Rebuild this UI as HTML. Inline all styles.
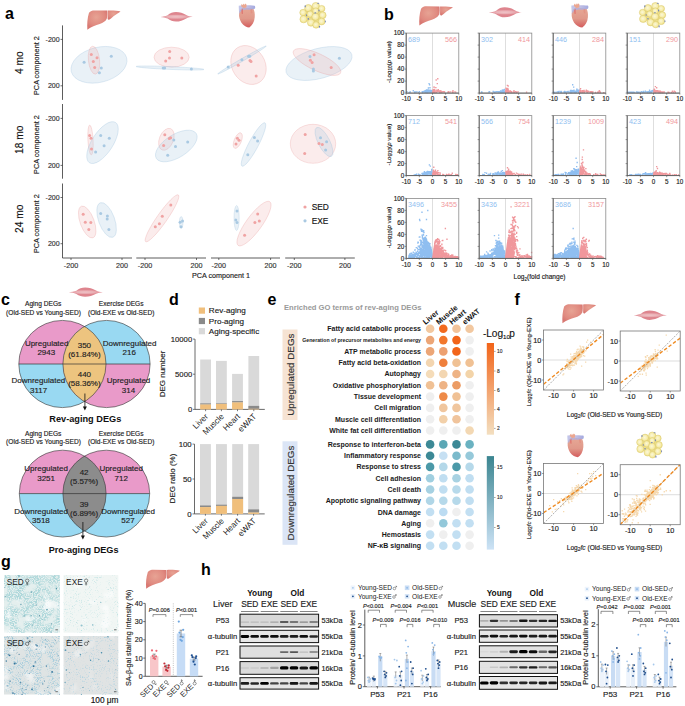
<!DOCTYPE html>
<html><head><meta charset="utf-8"><title>Figure</title>
<style>html,body{margin:0;padding:0;background:#fff;overflow:hidden}svg{display:block}text{font-family:"Liberation Sans",sans-serif}</style>
</head><body>
<svg width="685" height="706" viewBox="0 0 685 706">

<defs>
<linearGradient id="gLiver" x1="0" y1="0" x2="1" y2="1"><stop offset="0" stop-color="#e89a8a"/><stop offset="1" stop-color="#d9705f"/></linearGradient>
<radialGradient id="gMus" cx="0.48" cy="0.5" r="0.5" gradientTransform="translate(0 0.25) scale(1 0.5)"><stop offset="0" stop-color="#f0c6ca"/><stop offset="0.5" stop-color="#eab2b7"/><stop offset="1" stop-color="#de858e"/></radialGradient>
<linearGradient id="gHeart" x1="0" y1="0" x2="0" y2="1"><stop offset="0" stop-color="#e6a896"/><stop offset="0.55" stop-color="#e0998a"/><stop offset="1" stop-color="#d45b5c"/></linearGradient>
<radialGradient id="gFat" cx="0.45" cy="0.45" r="0.55"><stop offset="0" stop-color="#fbf7da"/><stop offset="0.65" stop-color="#f6eca8"/><stop offset="1" stop-color="#eddc82"/></radialGradient>
<linearGradient id="gOr" x1="0" y1="1" x2="0" y2="0"><stop offset="0" stop-color="#f3dfc0"/><stop offset="1" stop-color="#f26419"/></linearGradient>
<linearGradient id="gTe" x1="0" y1="1" x2="0" y2="0"><stop offset="0" stop-color="#cde3f6"/><stop offset="1" stop-color="#3b8590"/></linearGradient>
<filter id="blur1" x="-20%" y="-50%" width="140%" height="200%"><feGaussianBlur stdDeviation="0.6"/></filter>
<filter id="blur2" x="-20%" y="-50%" width="140%" height="200%"><feGaussianBlur stdDeviation="1.0"/></filter>
<radialGradient id="gLiv2" cx="0.45" cy="0.35" r="0.6"><stop offset="0" stop-color="#e7a394"/><stop offset="0.7" stop-color="#e08a80"/><stop offset="1" stop-color="#d87872"/></radialGradient>
<g id="liver">
 <path d="M6,14 C10,4 16,2 22,2 L60,3 C61,15 61,32 59,44 C56,56 48,64 38,70 C26,76 12,84 1,99 C0,70 1,40 6,14 Z" fill="url(#gLiv2)"/>
 <path d="M62,3 C75,2 90,3 100,7 C95,14 88,20 80,30 C75,38 70,44 65,50 C63,48 62,46 62,44 Z" fill="url(#gLiv2)"/>
 <path d="M61,3 L61,46" stroke="#cf6d68" stroke-width="1.2" opacity="0.6"/>
</g>
<g id="muscle">
 <path d="M0,53 C8,50 14,46 22,36 C30,14 38,3 48,3 C60,3 70,14 80,34 C86,44 92,50 100,52 C92,55 86,60 80,68 C70,88 60,100 48,100 C38,100 30,88 22,70 C14,60 8,56 0,53 Z" fill="url(#gMus)"/>
 <g stroke="#e9aeb4" stroke-width="2" opacity="0.5"><line x1="30" y1="35" x2="70" y2="35"/><line x1="25" y1="50" x2="75" y2="50"/><line x1="30" y1="65" x2="70" y2="65"/></g>
</g>
<linearGradient id="gBlue" x1="0" y1="0" x2="1" y2="0"><stop offset="0" stop-color="#a3a9e3"/><stop offset="1" stop-color="#9aa2e0"/></linearGradient>
<linearGradient id="gBand" x1="0" y1="0" x2="1" y2="0"><stop offset="0" stop-color="#aeb3e2" stop-opacity="0.75"/><stop offset="0.5" stop-color="#b2b0de" stop-opacity="0.8"/><stop offset="1" stop-color="#a3a9df"/></linearGradient>
<g id="heart">
 <path d="M4,42 C2,55 8,68 18,80 C30,92 50,99 64,100 C80,92 94,78 96,58 C98,42 94,30 88,22 L25,18 C15,22 6,30 4,42 Z" fill="url(#gHeart)"/>
 <path d="M2,10 C30,8 70,9 95,10 C100,12 100,20 96,23 C80,27 60,28 45,26 L22,30 C14,33 9,38 5,44 C3,30 2,20 2,10 Z" fill="url(#gBand)"/>
 <path d="M16,12 L19,2 L25,8 L29,1 L34,7 L40,1 L48,6 L47,18 L30,20 Z" fill="#eba68f"/>
 <path d="M17,28 L27,22 L27,44 L19,43 Z" fill="#dd6e69" opacity="0.75"/>
 <path d="M70,26 L80,24 L82,40 L74,42 Z" fill="#e38a7c" opacity="0.6"/>
</g>
<g id="fat">
 <polygon points="12,39 32,22 60,14 82,24 86,49 82,73 61,86 42,77 14,64" fill="#eee08e"/>
 <g stroke="#d8c76c" stroke-width="1.8" fill="url(#gFat)">
 <circle cx="12" cy="39" r="12.5"/><circle cx="14" cy="64" r="14"/><circle cx="32" cy="22" r="14"/><circle cx="60" cy="14" r="14"/><circle cx="82" cy="24" r="12.5"/>
 <circle cx="39" cy="45" r="12.5"/><circle cx="60" cy="33" r="12"/><circle cx="86" cy="49" r="13"/>
 <circle cx="42" cy="77" r="14"/><circle cx="82" cy="73" r="13"/><circle cx="61" cy="86" r="12.5"/><circle cx="59" cy="55" r="14"/>
 </g>
 <g fill="#7687b8"><ellipse cx="20" cy="15" rx="2.5" ry="4"/><ellipse cx="69" cy="3" rx="4" ry="2"/><ellipse cx="72" cy="31" rx="2.5" ry="4"/><ellipse cx="58" cy="40" rx="4" ry="2"/><ellipse cx="25" cy="49" rx="2" ry="4"/><ellipse cx="32" cy="63" rx="3" ry="3"/><ellipse cx="96" cy="73" rx="2" ry="4"/><ellipse cx="74" cy="93" rx="2.5" ry="4"/></g>
</g>
<filter id="tex1" x="0" y="0" width="100%" height="100%"><feTurbulence type="fractalNoise" baseFrequency="0.45" numOctaves="3" seed="11"/><feColorMatrix type="matrix" values="0 0 0 0 0.55  0 0 0 0 0.72  0 0 0 0 0.72  2.6 0 0 0 -0.55"/></filter><filter id="tex2" x="0" y="0" width="100%" height="100%"><feTurbulence type="fractalNoise" baseFrequency="0.45" numOctaves="3" seed="22"/><feColorMatrix type="matrix" values="0 0 0 0 0.7  0 0 0 0 0.82  0 0 0 0 0.8  1.8 0 0 0 -0.55"/></filter><filter id="tex3" x="0" y="0" width="100%" height="100%"><feTurbulence type="fractalNoise" baseFrequency="0.5" numOctaves="3" seed="33"/><feColorMatrix type="matrix" values="0 0 0 0 0.6  0 0 0 0 0.7  0 0 0 0 0.72  2.4 0 0 0 -0.6"/></filter><filter id="tex4" x="0" y="0" width="100%" height="100%"><feTurbulence type="fractalNoise" baseFrequency="0.5" numOctaves="3" seed="44"/><feColorMatrix type="matrix" values="0 0 0 0 0.7  0 0 0 0 0.75  0 0 0 0 0.76  1.6 0 0 0 -0.5"/></filter></defs>
<rect width="685" height="706" fill="#fff"/>
<text x="5" y="19" font-size="16" font-weight="bold" fill="#000">a</text>
<text x="384" y="19.5" font-size="16" font-weight="bold" fill="#000">b</text>
<text x="1" y="305" font-size="16" font-weight="bold" fill="#000">c</text>
<text x="169" y="305" font-size="16" font-weight="bold" fill="#000">d</text>
<text x="267.5" y="305" font-size="16" font-weight="bold" fill="#000">e</text>
<text x="514.5" y="304.5" font-size="16" font-weight="bold" fill="#000">f</text>
<text x="1" y="567" font-size="16" font-weight="bold" fill="#000">g</text>
<text x="201" y="575" font-size="16" font-weight="bold" fill="#000">h</text>
<use href="#liver" transform="translate(87 10) scale(0.3350 0.2000)"/>
<use href="#muscle" transform="translate(160.5 11.6) scale(0.3220 0.1000)"/>
<use href="#heart" transform="translate(238.4 3.2) scale(0.1700 0.2440)"/>
<use href="#fat" transform="translate(299.9 2.4) scale(0.2650 0.2620)"/>
<line x1="62.5" y1="25.4" x2="62.5" y2="99.9" stroke="#333" stroke-width="0.8"/>
<line x1="60.5" y1="39.4" x2="62.5" y2="39.4" stroke="#333" stroke-width="0.7"/>
<text x="59.6" y="41.9" font-size="7" text-anchor="end" font-weight="normal" fill="#333" stroke="#333" stroke-width="0.15">-200</text>
<line x1="60.5" y1="85.8" x2="62.5" y2="85.8" stroke="#333" stroke-width="0.7"/>
<text x="59.6" y="88.2" font-size="7" text-anchor="end" font-weight="normal" fill="#333" stroke="#333" stroke-width="0.15">200</text>
<text transform="translate(19.3 62.6) rotate(-90)" x="0" y="3.6" font-size="10.2" text-anchor="middle" font-weight="normal" fill="#111" stroke="#111" stroke-width="0.15">4 mo</text>
<text transform="translate(36.5 65.6) rotate(-90)" x="0" y="2.6" font-size="7.3" text-anchor="middle" font-weight="normal" fill="#222" stroke="#222" stroke-width="0.15">PCA component 2</text>
<line x1="62.5" y1="104" x2="62.5" y2="178.7" stroke="#333" stroke-width="0.8"/>
<line x1="60.5" y1="118.4" x2="62.5" y2="118.4" stroke="#333" stroke-width="0.7"/>
<text x="59.6" y="120.9" font-size="7" text-anchor="end" font-weight="normal" fill="#333" stroke="#333" stroke-width="0.15">-200</text>
<line x1="60.5" y1="165.4" x2="62.5" y2="165.4" stroke="#333" stroke-width="0.7"/>
<text x="59.6" y="167.8" font-size="7" text-anchor="end" font-weight="normal" fill="#333" stroke="#333" stroke-width="0.15">200</text>
<text transform="translate(19.3 139.8) rotate(-90)" x="0" y="3.6" font-size="10.2" text-anchor="middle" font-weight="normal" fill="#111" stroke="#111" stroke-width="0.15">18 mo</text>
<text transform="translate(36.5 144.5) rotate(-90)" x="0" y="2.6" font-size="7.3" text-anchor="middle" font-weight="normal" fill="#222" stroke="#222" stroke-width="0.15">PCA component 2</text>
<line x1="62.5" y1="183.5" x2="62.5" y2="258" stroke="#333" stroke-width="0.8"/>
<line x1="60.5" y1="197.5" x2="62.5" y2="197.5" stroke="#333" stroke-width="0.7"/>
<text x="59.6" y="199.9" font-size="7" text-anchor="end" font-weight="normal" fill="#333" stroke="#333" stroke-width="0.15">-200</text>
<line x1="60.5" y1="243.7" x2="62.5" y2="243.7" stroke="#333" stroke-width="0.7"/>
<text x="59.6" y="246.1" font-size="7" text-anchor="end" font-weight="normal" fill="#333" stroke="#333" stroke-width="0.15">200</text>
<text transform="translate(19.3 218.8) rotate(-90)" x="0" y="3.6" font-size="10.2" text-anchor="middle" font-weight="normal" fill="#111" stroke="#111" stroke-width="0.15">24 mo</text>
<text transform="translate(36.5 223.7) rotate(-90)" x="0" y="2.6" font-size="7.3" text-anchor="middle" font-weight="normal" fill="#222" stroke="#222" stroke-width="0.15">PCA component 2</text>
<line x1="62.5" y1="258" x2="132" y2="258" stroke="#333" stroke-width="0.8"/>
<line x1="71" y1="258" x2="71" y2="260" stroke="#333" stroke-width="0.7"/>
<text x="71" y="267.8" font-size="7.2" text-anchor="middle" font-weight="normal" fill="#333" stroke="#333" stroke-width="0.15">-200</text>
<line x1="122" y1="258" x2="122" y2="260" stroke="#333" stroke-width="0.7"/>
<text x="122" y="267.8" font-size="7.2" text-anchor="middle" font-weight="normal" fill="#333" stroke="#333" stroke-width="0.15">200</text>
<line x1="136.3" y1="258" x2="206" y2="258" stroke="#333" stroke-width="0.8"/>
<line x1="145" y1="258" x2="145" y2="260" stroke="#333" stroke-width="0.7"/>
<text x="145" y="267.8" font-size="7.2" text-anchor="middle" font-weight="normal" fill="#333" stroke="#333" stroke-width="0.15">-200</text>
<line x1="196.5" y1="258" x2="196.5" y2="260" stroke="#333" stroke-width="0.7"/>
<text x="196.5" y="267.8" font-size="7.2" text-anchor="middle" font-weight="normal" fill="#333" stroke="#333" stroke-width="0.15">200</text>
<line x1="211" y1="258" x2="280" y2="258" stroke="#333" stroke-width="0.8"/>
<line x1="218.8" y1="258" x2="218.8" y2="260" stroke="#333" stroke-width="0.7"/>
<text x="218.8" y="267.8" font-size="7.2" text-anchor="middle" font-weight="normal" fill="#333" stroke="#333" stroke-width="0.15">-200</text>
<line x1="270.6" y1="258" x2="270.6" y2="260" stroke="#333" stroke-width="0.7"/>
<text x="270.6" y="267.8" font-size="7.2" text-anchor="middle" font-weight="normal" fill="#333" stroke="#333" stroke-width="0.15">200</text>
<line x1="285.2" y1="258" x2="354.8" y2="258" stroke="#333" stroke-width="0.8"/>
<line x1="294.3" y1="258" x2="294.3" y2="260" stroke="#333" stroke-width="0.7"/>
<text x="294.3" y="267.8" font-size="7.2" text-anchor="middle" font-weight="normal" fill="#333" stroke="#333" stroke-width="0.15">-200</text>
<line x1="344.9" y1="258" x2="344.9" y2="260" stroke="#333" stroke-width="0.7"/>
<text x="344.9" y="267.8" font-size="7.2" text-anchor="middle" font-weight="normal" fill="#333" stroke="#333" stroke-width="0.15">200</text>
<text x="221" y="278.2" font-size="7.2" text-anchor="middle" font-weight="normal" fill="#222" stroke="#222" stroke-width="0.15">PCA component 1</text>
<circle cx="305" cy="207" r="1.6" fill="#f0a3a3"/>
<text x="311.7" y="210.1" font-size="8.4" text-anchor="start" font-weight="normal" fill="#111" stroke="#111" stroke-width="0.15">SED</text>
<circle cx="305" cy="220.8" r="1.6" fill="#a9c9e2"/>
<text x="311.7" y="223.9" font-size="8.4" text-anchor="start" font-weight="normal" fill="#111" stroke="#111" stroke-width="0.15">EXE</text>
<ellipse cx="99" cy="64.8" rx="28.5" ry="17.5" transform="rotate(-14 99 64.8)" fill="rgba(175,205,228,0.28)" stroke="rgba(160,195,222,0.5)" stroke-width="0.6"/>
<ellipse cx="94" cy="60.2" rx="5.6" ry="14" transform="rotate(-6 94 60.2)" fill="rgba(238,170,170,0.22)" stroke="rgba(232,150,150,0.45)" stroke-width="0.6"/>
<ellipse cx="171.6" cy="57.2" rx="17.6" ry="10" transform="rotate(0 171.6 57.2)" fill="rgba(238,170,170,0.22)" stroke="rgba(232,150,150,0.45)" stroke-width="0.6"/>
<ellipse cx="170" cy="68" rx="34" ry="1.4" transform="rotate(2.5 170 68)" fill="rgba(175,205,228,0.28)" stroke="rgba(160,195,222,0.5)" stroke-width="0.6"/>
<ellipse cx="248.5" cy="65" rx="16.5" ry="20.5" transform="rotate(-32 248.5 65)" fill="rgba(238,170,170,0.22)" stroke="rgba(232,150,150,0.45)" stroke-width="0.6"/>
<ellipse cx="242" cy="60" rx="28" ry="1.3" transform="rotate(-30 242 60)" fill="rgba(175,205,228,0.28)" stroke="rgba(160,195,222,0.5)" stroke-width="0.6"/>
<ellipse cx="319" cy="63.5" rx="34" ry="15" transform="rotate(-15 319 63.5)" fill="rgba(175,205,228,0.28)" stroke="rgba(160,195,222,0.5)" stroke-width="0.6"/>
<ellipse cx="317" cy="62" rx="26" ry="8.5" transform="rotate(25 317 62)" fill="rgba(238,170,170,0.22)" stroke="rgba(232,150,150,0.45)" stroke-width="0.6"/>
<ellipse cx="90.5" cy="140" rx="2.6" ry="15" transform="rotate(-3 90.5 140)" fill="rgba(238,170,170,0.22)" stroke="rgba(232,150,150,0.45)" stroke-width="0.6"/>
<ellipse cx="102.5" cy="142.6" rx="24" ry="10.5" transform="rotate(-57 102.5 142.6)" fill="rgba(175,205,228,0.28)" stroke="rgba(160,195,222,0.5)" stroke-width="0.6"/>
<ellipse cx="166.4" cy="139.3" rx="7" ry="11.5" transform="rotate(22 166.4 139.3)" fill="rgba(238,170,170,0.22)" stroke="rgba(232,150,150,0.45)" stroke-width="0.6"/>
<ellipse cx="176.3" cy="146" rx="23.5" ry="11.5" transform="rotate(-32 176.3 146)" fill="rgba(175,205,228,0.28)" stroke="rgba(160,195,222,0.5)" stroke-width="0.6"/>
<ellipse cx="237.8" cy="140.6" rx="3.6" ry="8.3" transform="rotate(22 237.8 140.6)" fill="rgba(238,170,170,0.22)" stroke="rgba(232,150,150,0.45)" stroke-width="0.6"/>
<ellipse cx="253.5" cy="144.5" rx="4.8" ry="24.5" transform="rotate(28 253.5 144.5)" fill="rgba(175,205,228,0.28)" stroke="rgba(160,195,222,0.5)" stroke-width="0.6"/>
<ellipse cx="313" cy="143.8" rx="22.7" ry="19.5" transform="rotate(0 313 143.8)" fill="rgba(238,170,170,0.22)" stroke="rgba(232,150,150,0.45)" stroke-width="0.6"/>
<ellipse cx="324" cy="142" rx="5.8" ry="16.2" transform="rotate(-27 324 142)" fill="rgba(175,205,228,0.28)" stroke="rgba(160,195,222,0.5)" stroke-width="0.6"/>
<ellipse cx="87.2" cy="222" rx="7" ry="16.8" transform="rotate(-20 87.2 222)" fill="rgba(238,170,170,0.22)" stroke="rgba(232,150,150,0.45)" stroke-width="0.6"/>
<ellipse cx="106.6" cy="220" rx="8" ry="18.3" transform="rotate(-20 106.6 220)" fill="rgba(175,205,228,0.28)" stroke="rgba(160,195,222,0.5)" stroke-width="0.6"/>
<ellipse cx="162" cy="218.3" rx="5" ry="28.5" transform="rotate(35 162 218.3)" fill="rgba(238,170,170,0.22)" stroke="rgba(232,150,150,0.45)" stroke-width="0.6"/>
<ellipse cx="181.2" cy="222.5" rx="1.8" ry="6" transform="rotate(0 181.2 222.5)" fill="rgba(175,205,228,0.28)" stroke="rgba(160,195,222,0.5)" stroke-width="0.6"/>
<ellipse cx="236.6" cy="218" rx="2.6" ry="12.5" transform="rotate(0 236.6 218)" fill="rgba(175,205,228,0.28)" stroke="rgba(160,195,222,0.5)" stroke-width="0.6"/>
<ellipse cx="254" cy="223.6" rx="7.8" ry="27" transform="rotate(36 254 223.6)" fill="rgba(238,170,170,0.22)" stroke="rgba(232,150,150,0.45)" stroke-width="0.6"/>
<circle cx="91.3" cy="54.6" r="1.5" fill="#f0a3a3"/>
<circle cx="97" cy="57.7" r="1.5" fill="#f0a3a3"/>
<circle cx="93.3" cy="61.6" r="1.5" fill="#f0a3a3"/>
<circle cx="94.7" cy="67.5" r="1.5" fill="#f0a3a3"/>
<circle cx="169.7" cy="51.6" r="1.5" fill="#f0a3a3"/>
<circle cx="169.5" cy="58.1" r="1.5" fill="#f0a3a3"/>
<circle cx="165.7" cy="61" r="1.5" fill="#f0a3a3"/>
<circle cx="181.8" cy="58.1" r="1.5" fill="#f0a3a3"/>
<circle cx="238.2" cy="65.3" r="1.5" fill="#f0a3a3"/>
<circle cx="250" cy="60.4" r="1.5" fill="#f0a3a3"/>
<circle cx="251" cy="61.5" r="1.5" fill="#f0a3a3"/>
<circle cx="256.2" cy="76.1" r="1.5" fill="#f0a3a3"/>
<circle cx="314.1" cy="54.8" r="1.5" fill="#f0a3a3"/>
<circle cx="310.4" cy="60.2" r="1.5" fill="#f0a3a3"/>
<circle cx="312.1" cy="62.5" r="1.5" fill="#f0a3a3"/>
<circle cx="331.2" cy="67.6" r="1.5" fill="#f0a3a3"/>
<circle cx="89.6" cy="135.4" r="1.5" fill="#f0a3a3"/>
<circle cx="91" cy="138.2" r="1.5" fill="#f0a3a3"/>
<circle cx="91.5" cy="149" r="1.5" fill="#f0a3a3"/>
<circle cx="164.8" cy="134.7" r="1.5" fill="#f0a3a3"/>
<circle cx="169.3" cy="138.4" r="1.5" fill="#f0a3a3"/>
<circle cx="170.6" cy="137.8" r="1.5" fill="#f0a3a3"/>
<circle cx="163.6" cy="145.4" r="1.5" fill="#f0a3a3"/>
<circle cx="237.4" cy="138.2" r="1.5" fill="#f0a3a3"/>
<circle cx="239" cy="140.3" r="1.5" fill="#f0a3a3"/>
<circle cx="236" cy="144.1" r="1.5" fill="#f0a3a3"/>
<circle cx="305.2" cy="134.4" r="1.5" fill="#f0a3a3"/>
<circle cx="304.7" cy="153.6" r="1.5" fill="#f0a3a3"/>
<circle cx="319" cy="143.4" r="1.5" fill="#f0a3a3"/>
<circle cx="322.3" cy="144.6" r="1.5" fill="#f0a3a3"/>
<circle cx="83.2" cy="214.2" r="1.5" fill="#f0a3a3"/>
<circle cx="85.3" cy="222.3" r="1.5" fill="#f0a3a3"/>
<circle cx="90.8" cy="222.6" r="1.5" fill="#f0a3a3"/>
<circle cx="88.8" cy="229.6" r="1.5" fill="#f0a3a3"/>
<circle cx="170.8" cy="205.1" r="1.5" fill="#f0a3a3"/>
<circle cx="162.3" cy="216.2" r="1.5" fill="#f0a3a3"/>
<circle cx="159.4" cy="223.8" r="1.5" fill="#f0a3a3"/>
<circle cx="155.3" cy="226.7" r="1.5" fill="#f0a3a3"/>
<circle cx="257.7" cy="213.9" r="1.5" fill="#f0a3a3"/>
<circle cx="259.3" cy="221.1" r="1.5" fill="#f0a3a3"/>
<circle cx="254.9" cy="222.4" r="1.5" fill="#f0a3a3"/>
<circle cx="244.6" cy="235.2" r="1.5" fill="#f0a3a3"/>
<circle cx="84.1" cy="62.2" r="1.5" fill="#a9c9e2"/>
<circle cx="111.3" cy="56.3" r="1.5" fill="#a9c9e2"/>
<circle cx="101.3" cy="68.1" r="1.5" fill="#a9c9e2"/>
<circle cx="99.4" cy="72.8" r="1.5" fill="#a9c9e2"/>
<circle cx="163.2" cy="67.9" r="1.5" fill="#a9c9e2"/>
<circle cx="164.6" cy="67.9" r="1.5" fill="#a9c9e2"/>
<circle cx="191.4" cy="69" r="1.5" fill="#a9c9e2"/>
<circle cx="228.2" cy="66.9" r="1.5" fill="#a9c9e2"/>
<circle cx="241.9" cy="59.7" r="1.5" fill="#a9c9e2"/>
<circle cx="248.6" cy="56.3" r="1.5" fill="#a9c9e2"/>
<circle cx="249.7" cy="56.3" r="1.5" fill="#a9c9e2"/>
<circle cx="310" cy="56.6" r="1.5" fill="#a9c9e2"/>
<circle cx="313.4" cy="68.9" r="1.5" fill="#a9c9e2"/>
<circle cx="313.4" cy="70.9" r="1.5" fill="#a9c9e2"/>
<circle cx="339.4" cy="58.2" r="1.5" fill="#a9c9e2"/>
<circle cx="100.7" cy="135.4" r="1.5" fill="#a9c9e2"/>
<circle cx="109.3" cy="138.2" r="1.5" fill="#a9c9e2"/>
<circle cx="104.1" cy="145.8" r="1.5" fill="#a9c9e2"/>
<circle cx="95.6" cy="152.1" r="1.5" fill="#a9c9e2"/>
<circle cx="173.8" cy="140" r="1.5" fill="#a9c9e2"/>
<circle cx="187.7" cy="141.9" r="1.5" fill="#a9c9e2"/>
<circle cx="175.5" cy="146.6" r="1.5" fill="#a9c9e2"/>
<circle cx="167.7" cy="155.2" r="1.5" fill="#a9c9e2"/>
<circle cx="254.4" cy="137.4" r="1.5" fill="#a9c9e2"/>
<circle cx="257.6" cy="140.9" r="1.5" fill="#a9c9e2"/>
<circle cx="247.8" cy="154.8" r="1.5" fill="#a9c9e2"/>
<circle cx="320.5" cy="137.8" r="1.5" fill="#a9c9e2"/>
<circle cx="326.6" cy="141.8" r="1.5" fill="#a9c9e2"/>
<circle cx="325.6" cy="150" r="1.5" fill="#a9c9e2"/>
<circle cx="100.7" cy="213.6" r="1.5" fill="#a9c9e2"/>
<circle cx="107.4" cy="215.9" r="1.5" fill="#a9c9e2"/>
<circle cx="107.2" cy="219.1" r="1.5" fill="#a9c9e2"/>
<circle cx="108.9" cy="229.6" r="1.5" fill="#a9c9e2"/>
<circle cx="180.1" cy="222.3" r="1.5" fill="#a9c9e2"/>
<circle cx="181" cy="226.7" r="1.5" fill="#a9c9e2"/>
<circle cx="182.5" cy="220.9" r="1.5" fill="#a9c9e2"/>
<circle cx="237" cy="211" r="1.5" fill="#a9c9e2"/>
<circle cx="235.8" cy="219.9" r="1.5" fill="#a9c9e2"/>
<circle cx="237" cy="222.4" r="1.5" fill="#a9c9e2"/>
<use href="#liver" transform="translate(419 5.9) scale(0.3400 0.1980)"/>
<use href="#muscle" transform="translate(488.8 6.9) scale(0.3300 0.1040)"/>
<use href="#heart" transform="translate(571 3.1) scale(0.1760 0.2450)"/>
<use href="#fat" transform="translate(639.5 2.5) scale(0.2650 0.2570)"/>
<g>
<line x1="432.5" y1="33.1" x2="432.5" y2="93.1" stroke="#c8c8c8" stroke-width="0.6"/>
<path d="M426.7 89.2h1.35v1.35h-1.35zM431.3 91.7h1.35v1.35h-1.35zM431.7 91.1h1.35v1.35h-1.35zM427.5 89.3h1.35v1.35h-1.35zM429.4 90.2h1.35v1.35h-1.35zM409.7 91.3h1.35v1.35h-1.35zM427.4 89.8h1.35v1.35h-1.35zM424.4 91.2h1.35v1.35h-1.35zM427.2 89.6h1.35v1.35h-1.35zM429.3 90.6h1.35v1.35h-1.35zM423.6 91.3h1.35v1.35h-1.35zM426 89.2h1.35v1.35h-1.35zM431.6 91h1.35v1.35h-1.35zM421.9 91.8h1.35v1.35h-1.35zM429.2 89.9h1.35v1.35h-1.35zM418.1 91.7h1.35v1.35h-1.35zM430.7 91.2h1.35v1.35h-1.35zM427.4 90.6h1.35v1.35h-1.35zM424.8 91.6h1.35v1.35h-1.35zM424.9 90.3h1.35v1.35h-1.35zM421.4 91.2h1.35v1.35h-1.35zM431.2 89.9h1.35v1.35h-1.35zM426.7 89.8h1.35v1.35h-1.35zM429.1 90h1.35v1.35h-1.35zM430.3 90.4h1.35v1.35h-1.35zM426.4 89.9h1.35v1.35h-1.35zM425.1 90.7h1.35v1.35h-1.35zM422.1 91h1.35v1.35h-1.35zM429.4 91.3h1.35v1.35h-1.35zM424.8 90.3h1.35v1.35h-1.35zM427.5 89.2h1.35v1.35h-1.35zM426.3 89.6h1.35v1.35h-1.35zM409.1 91.4h1.35v1.35h-1.35zM428.8 90.3h1.35v1.35h-1.35zM425.5 91.3h1.35v1.35h-1.35zM426.5 91.8h1.35v1.35h-1.35zM427.3 90.7h1.35v1.35h-1.35zM429.3 87.1h1.35v1.35h-1.35zM423.6 90.6h1.35v1.35h-1.35zM413.9 91.3h1.35v1.35h-1.35zM425.3 89.8h1.35v1.35h-1.35zM425.6 91.7h1.35v1.35h-1.35zM424.8 90.8h1.35v1.35h-1.35zM427.1 91.5h1.35v1.35h-1.35zM424.6 90.1h1.35v1.35h-1.35zM424.2 91.2h1.35v1.35h-1.35zM423.6 90.4h1.35v1.35h-1.35zM426.7 90.3h1.35v1.35h-1.35zM427.9 90h1.35v1.35h-1.35zM429.2 91.5h1.35v1.35h-1.35zM423 91.1h1.35v1.35h-1.35zM430.8 91.2h1.35v1.35h-1.35zM429.4 91.6h1.35v1.35h-1.35zM414 91.8h1.35v1.35h-1.35zM428.6 89.6h1.35v1.35h-1.35zM430.4 90.5h1.35v1.35h-1.35zM431.6 90.2h1.35v1.35h-1.35zM427.7 87.3h1.35v1.35h-1.35zM424.5 90.9h1.35v1.35h-1.35zM430 89.4h1.35v1.35h-1.35zM427.2 90.4h1.35v1.35h-1.35zM416.4 91.2h1.35v1.35h-1.35zM427.4 89.9h1.35v1.35h-1.35zM429.6 89.5h1.35v1.35h-1.35zM427.1 91.7h1.35v1.35h-1.35zM427.6 91.1h1.35v1.35h-1.35zM408.6 91.8h1.35v1.35h-1.35zM415.2 91.3h1.35v1.35h-1.35zM428.6 90.4h1.35v1.35h-1.35zM427.8 91.3h1.35v1.35h-1.35zM428.4 82.9h1.35v1.35h-1.35zM428.9 84.1h1.35v1.35h-1.35zM412.6 90.1h1.35v1.35h-1.35zM406.3 91h1.35v1.35h-1.35zM418.7 91h1.35v1.35h-1.35z" fill="#8fbef0"/>
<path d="M439.1 91.9h1.35v1.35h-1.35zM438.1 90.9h1.35v1.35h-1.35zM452.3 91.6h1.35v1.35h-1.35zM437.6 89.1h1.35v1.35h-1.35zM433 90.3h1.35v1.35h-1.35zM432.7 90.7h1.35v1.35h-1.35zM432.4 91.6h1.35v1.35h-1.35zM439.2 90.5h1.35v1.35h-1.35zM432 91.7h1.35v1.35h-1.35zM432 91.4h1.35v1.35h-1.35zM440 90.9h1.35v1.35h-1.35zM432.5 88.9h1.35v1.35h-1.35zM434.2 89.6h1.35v1.35h-1.35zM434 89.6h1.35v1.35h-1.35zM436.8 90.1h1.35v1.35h-1.35zM432.6 89.3h1.35v1.35h-1.35zM440.7 91.6h1.35v1.35h-1.35zM434 90.8h1.35v1.35h-1.35zM432.9 90.4h1.35v1.35h-1.35zM433.8 88.7h1.35v1.35h-1.35zM434.7 90.5h1.35v1.35h-1.35zM443.5 91.1h1.35v1.35h-1.35zM444 91.4h1.35v1.35h-1.35zM433.4 91h1.35v1.35h-1.35zM447.1 91.5h1.35v1.35h-1.35zM452 91.6h1.35v1.35h-1.35zM442.4 91h1.35v1.35h-1.35zM441.3 91.2h1.35v1.35h-1.35zM439.9 90.3h1.35v1.35h-1.35zM433.9 89.9h1.35v1.35h-1.35zM435.2 86.9h1.35v1.35h-1.35zM454.2 91.2h1.35v1.35h-1.35zM442.1 91.4h1.35v1.35h-1.35zM448.3 91.6h1.35v1.35h-1.35zM452.3 91.7h1.35v1.35h-1.35zM432.6 91.2h1.35v1.35h-1.35zM439.3 90.3h1.35v1.35h-1.35zM433.4 90.7h1.35v1.35h-1.35zM433.3 89.2h1.35v1.35h-1.35zM433.4 90.3h1.35v1.35h-1.35zM433.4 88.8h1.35v1.35h-1.35zM436.6 90.8h1.35v1.35h-1.35zM432.1 91.7h1.35v1.35h-1.35zM436.3 90.2h1.35v1.35h-1.35zM432.3 91.6h1.35v1.35h-1.35zM440.5 90.5h1.35v1.35h-1.35zM440.4 91.4h1.35v1.35h-1.35zM433 89.6h1.35v1.35h-1.35zM436.5 90.5h1.35v1.35h-1.35zM440 91h1.35v1.35h-1.35zM440.7 91.3h1.35v1.35h-1.35zM437.6 89.9h1.35v1.35h-1.35zM433.6 91.8h1.35v1.35h-1.35zM433.7 86.5h1.35v1.35h-1.35zM439.2 90h1.35v1.35h-1.35zM434.3 91.9h1.35v1.35h-1.35zM455 91.5h1.35v1.35h-1.35zM438.8 90.9h1.35v1.35h-1.35zM432.7 91.2h1.35v1.35h-1.35zM433.2 91h1.35v1.35h-1.35zM450.1 91.2h1.35v1.35h-1.35zM433.1 86.4h1.35v1.35h-1.35zM435.8 91.6h1.35v1.35h-1.35zM433.1 89h1.35v1.35h-1.35zM432.2 91.9h1.35v1.35h-1.35zM433.4 91.1h1.35v1.35h-1.35zM432.3 90.6h1.35v1.35h-1.35zM433.8 91h1.35v1.35h-1.35zM436.1 89.6h1.35v1.35h-1.35zM432.6 89.5h1.35v1.35h-1.35zM435.5 79.3h1.35v1.35h-1.35zM437.1 78.1h1.35v1.35h-1.35zM436.6 82.9h1.35v1.35h-1.35zM452.3 90.1h1.35v1.35h-1.35zM448.1 91h1.35v1.35h-1.35z" fill="#f0979c"/>
</g>
<rect x="406.2" y="33.1" width="52.6" height="60" fill="none" stroke="#8a8a8a" stroke-width="0.8"/>
<line x1="406.2" y1="33.1" x2="406.2" y2="93.1" stroke="#555" stroke-width="0.8"/>
<line x1="406.2" y1="93.1" x2="458.8" y2="93.1" stroke="#555" stroke-width="0.8"/>
<line x1="404.6" y1="93.1" x2="406.2" y2="93.1" stroke="#555" stroke-width="0.6"/>
<text x="404.2" y="95.3" font-size="6.3" text-anchor="end" font-weight="normal" fill="#222" stroke="#222" stroke-width="0.15">0</text>
<line x1="404.6" y1="81.1" x2="406.2" y2="81.1" stroke="#555" stroke-width="0.6"/>
<text x="404.2" y="83.3" font-size="6.3" text-anchor="end" font-weight="normal" fill="#222" stroke="#222" stroke-width="0.15">20</text>
<line x1="404.6" y1="69.1" x2="406.2" y2="69.1" stroke="#555" stroke-width="0.6"/>
<text x="404.2" y="71.3" font-size="6.3" text-anchor="end" font-weight="normal" fill="#222" stroke="#222" stroke-width="0.15">40</text>
<line x1="404.6" y1="57.1" x2="406.2" y2="57.1" stroke="#555" stroke-width="0.6"/>
<text x="404.2" y="59.3" font-size="6.3" text-anchor="end" font-weight="normal" fill="#222" stroke="#222" stroke-width="0.15">60</text>
<line x1="404.6" y1="45.1" x2="406.2" y2="45.1" stroke="#555" stroke-width="0.6"/>
<text x="404.2" y="47.3" font-size="6.3" text-anchor="end" font-weight="normal" fill="#222" stroke="#222" stroke-width="0.15">80</text>
<line x1="404.6" y1="33.1" x2="406.2" y2="33.1" stroke="#555" stroke-width="0.6"/>
<text x="404.2" y="35.3" font-size="6.3" text-anchor="end" font-weight="normal" fill="#222" stroke="#222" stroke-width="0.15">100</text>
<line x1="406.2" y1="93.1" x2="406.2" y2="94.7" stroke="#555" stroke-width="0.6"/>
<text x="406.2" y="101.3" font-size="6.3" text-anchor="middle" font-weight="normal" fill="#222" stroke="#222" stroke-width="0.15">-10</text>
<line x1="419.3" y1="93.1" x2="419.3" y2="94.7" stroke="#555" stroke-width="0.6"/>
<text x="419.3" y="101.3" font-size="6.3" text-anchor="middle" font-weight="normal" fill="#222" stroke="#222" stroke-width="0.15">-5</text>
<line x1="432.5" y1="93.1" x2="432.5" y2="94.7" stroke="#555" stroke-width="0.6"/>
<text x="432.5" y="101.3" font-size="6.3" text-anchor="middle" font-weight="normal" fill="#222" stroke="#222" stroke-width="0.15">0</text>
<line x1="445.6" y1="93.1" x2="445.6" y2="94.7" stroke="#555" stroke-width="0.6"/>
<text x="445.6" y="101.3" font-size="6.3" text-anchor="middle" font-weight="normal" fill="#222" stroke="#222" stroke-width="0.15">5</text>
<line x1="458.8" y1="93.1" x2="458.8" y2="94.7" stroke="#555" stroke-width="0.6"/>
<text x="458.8" y="101.3" font-size="6.3" text-anchor="middle" font-weight="normal" fill="#222" stroke="#222" stroke-width="0.15">10</text>
<text x="408" y="41.8" font-size="7.2" text-anchor="start" font-weight="normal" fill="#8fbef0">689</text>
<text x="457" y="41.8" font-size="7.2" text-anchor="end" font-weight="normal" fill="#f0979c">566</text>
<g>
<line x1="505.5" y1="33.1" x2="505.5" y2="93.1" stroke="#c8c8c8" stroke-width="0.6"/>
<path d="M480.9 91.3h1.35v1.35h-1.35zM498.4 91.2h1.35v1.35h-1.35zM501.6 89.6h1.35v1.35h-1.35zM502.7 91.3h1.35v1.35h-1.35zM504.4 91h1.35v1.35h-1.35zM500 91.7h1.35v1.35h-1.35zM494.9 91.3h1.35v1.35h-1.35zM501 91h1.35v1.35h-1.35zM502.8 89.2h1.35v1.35h-1.35zM504.7 91.4h1.35v1.35h-1.35zM498.4 91.1h1.35v1.35h-1.35zM501.7 89.6h1.35v1.35h-1.35zM499 91h1.35v1.35h-1.35zM496.9 91h1.35v1.35h-1.35zM498.7 91.1h1.35v1.35h-1.35zM497.5 91h1.35v1.35h-1.35zM500.7 90.6h1.35v1.35h-1.35zM501.1 90.9h1.35v1.35h-1.35zM501.8 91.6h1.35v1.35h-1.35zM502.6 91.5h1.35v1.35h-1.35zM501.2 91.3h1.35v1.35h-1.35zM501.1 91.2h1.35v1.35h-1.35zM498.7 91.4h1.35v1.35h-1.35zM503.5 91.1h1.35v1.35h-1.35zM493.6 91.7h1.35v1.35h-1.35zM500.2 91.3h1.35v1.35h-1.35zM500.7 90.4h1.35v1.35h-1.35zM500.2 91.8h1.35v1.35h-1.35zM481.3 91.6h1.35v1.35h-1.35zM502.1 91.6h1.35v1.35h-1.35zM500.6 91.8h1.35v1.35h-1.35zM488.3 91.3h1.35v1.35h-1.35zM500.1 90.5h1.35v1.35h-1.35zM499.8 91h1.35v1.35h-1.35zM501.3 90.9h1.35v1.35h-1.35zM499.9 90.3h1.35v1.35h-1.35zM497.9 91.4h1.35v1.35h-1.35zM504.6 90.5h1.35v1.35h-1.35zM502.4 89.7h1.35v1.35h-1.35zM496.3 91.2h1.35v1.35h-1.35zM501.1 90.9h1.35v1.35h-1.35zM504.2 91.6h1.35v1.35h-1.35zM495.7 91.2h1.35v1.35h-1.35zM503.3 90.2h1.35v1.35h-1.35zM495.8 90.9h1.35v1.35h-1.35zM503.2 89.5h1.35v1.35h-1.35zM498.4 91.3h1.35v1.35h-1.35zM497.3 91.2h1.35v1.35h-1.35zM500 91.2h1.35v1.35h-1.35zM488.9 91.1h1.35v1.35h-1.35zM500.3 91h1.35v1.35h-1.35zM492.5 90.8h1.35v1.35h-1.35zM502.5 91.8h1.35v1.35h-1.35zM502.6 90.3h1.35v1.35h-1.35zM501.5 91.7h1.35v1.35h-1.35zM502.9 91.2h1.35v1.35h-1.35zM503.9 88.7h1.35v1.35h-1.35zM493.5 91.3h1.35v1.35h-1.35zM497.7 90.9h1.35v1.35h-1.35zM502.4 89.3h1.35v1.35h-1.35z" fill="#8fbef0"/>
<path d="M506 90.2h1.35v1.35h-1.35zM506 89h1.35v1.35h-1.35zM513.7 91.4h1.35v1.35h-1.35zM505.4 89.5h1.35v1.35h-1.35zM505.1 91.4h1.35v1.35h-1.35zM510.1 91.2h1.35v1.35h-1.35zM506.2 89.8h1.35v1.35h-1.35zM507 89.4h1.35v1.35h-1.35zM506.5 91.5h1.35v1.35h-1.35zM516.5 91.4h1.35v1.35h-1.35zM507.5 88.8h1.35v1.35h-1.35zM506.3 89.5h1.35v1.35h-1.35zM507 91.6h1.35v1.35h-1.35zM517.5 91.2h1.35v1.35h-1.35zM505.6 89.8h1.35v1.35h-1.35zM506.9 90.5h1.35v1.35h-1.35zM509.7 90.2h1.35v1.35h-1.35zM507.7 91.8h1.35v1.35h-1.35zM510.2 91.3h1.35v1.35h-1.35zM507.4 91.2h1.35v1.35h-1.35zM507.6 90.2h1.35v1.35h-1.35zM506.6 90.7h1.35v1.35h-1.35zM513.6 91.6h1.35v1.35h-1.35zM506.2 90h1.35v1.35h-1.35zM506.7 90.6h1.35v1.35h-1.35zM506.9 89.9h1.35v1.35h-1.35zM505.3 89.5h1.35v1.35h-1.35zM505.8 89.1h1.35v1.35h-1.35zM507.5 90.1h1.35v1.35h-1.35zM506.5 90.4h1.35v1.35h-1.35zM507.1 87.8h1.35v1.35h-1.35zM508.3 91.1h1.35v1.35h-1.35zM513.3 90.1h1.35v1.35h-1.35zM506.4 91.1h1.35v1.35h-1.35zM506.6 91.3h1.35v1.35h-1.35zM511.1 91.6h1.35v1.35h-1.35zM505.4 89.5h1.35v1.35h-1.35zM509.4 91.3h1.35v1.35h-1.35zM525.9 91.4h1.35v1.35h-1.35zM505 91h1.35v1.35h-1.35zM515.8 91.8h1.35v1.35h-1.35zM505.4 87.6h1.35v1.35h-1.35zM505.1 90.2h1.35v1.35h-1.35zM510.3 91.4h1.35v1.35h-1.35zM507.4 89.2h1.35v1.35h-1.35zM505.9 88.1h1.35v1.35h-1.35zM509.8 90.4h1.35v1.35h-1.35zM506.1 89.1h1.35v1.35h-1.35zM515.3 91.3h1.35v1.35h-1.35zM506.1 89h1.35v1.35h-1.35zM506.4 89h1.35v1.35h-1.35zM505.5 91.5h1.35v1.35h-1.35zM508.2 90.3h1.35v1.35h-1.35zM512.7 91.4h1.35v1.35h-1.35zM507.4 91.6h1.35v1.35h-1.35zM515 91h1.35v1.35h-1.35zM506.3 91.7h1.35v1.35h-1.35zM508 91.7h1.35v1.35h-1.35zM508.7 90.9h1.35v1.35h-1.35zM510.7 90.9h1.35v1.35h-1.35zM506.7 84.7h1.35v1.35h-1.35zM507.5 85.3h1.35v1.35h-1.35z" fill="#f0979c"/>
</g>
<rect x="479.2" y="33.1" width="52.6" height="60" fill="none" stroke="#8a8a8a" stroke-width="0.8"/>
<line x1="479.2" y1="33.1" x2="479.2" y2="93.1" stroke="#555" stroke-width="0.8"/>
<line x1="479.2" y1="93.1" x2="531.8" y2="93.1" stroke="#555" stroke-width="0.8"/>
<line x1="477.6" y1="93.1" x2="479.2" y2="93.1" stroke="#555" stroke-width="0.6"/>
<line x1="477.6" y1="81.1" x2="479.2" y2="81.1" stroke="#555" stroke-width="0.6"/>
<line x1="477.6" y1="69.1" x2="479.2" y2="69.1" stroke="#555" stroke-width="0.6"/>
<line x1="477.6" y1="57.1" x2="479.2" y2="57.1" stroke="#555" stroke-width="0.6"/>
<line x1="477.6" y1="45.1" x2="479.2" y2="45.1" stroke="#555" stroke-width="0.6"/>
<line x1="477.6" y1="33.1" x2="479.2" y2="33.1" stroke="#555" stroke-width="0.6"/>
<line x1="479.2" y1="93.1" x2="479.2" y2="94.7" stroke="#555" stroke-width="0.6"/>
<text x="479.2" y="101.3" font-size="6.3" text-anchor="middle" font-weight="normal" fill="#222" stroke="#222" stroke-width="0.15">-10</text>
<line x1="492.3" y1="93.1" x2="492.3" y2="94.7" stroke="#555" stroke-width="0.6"/>
<text x="492.3" y="101.3" font-size="6.3" text-anchor="middle" font-weight="normal" fill="#222" stroke="#222" stroke-width="0.15">-5</text>
<line x1="505.5" y1="93.1" x2="505.5" y2="94.7" stroke="#555" stroke-width="0.6"/>
<text x="505.5" y="101.3" font-size="6.3" text-anchor="middle" font-weight="normal" fill="#222" stroke="#222" stroke-width="0.15">0</text>
<line x1="518.6" y1="93.1" x2="518.6" y2="94.7" stroke="#555" stroke-width="0.6"/>
<text x="518.6" y="101.3" font-size="6.3" text-anchor="middle" font-weight="normal" fill="#222" stroke="#222" stroke-width="0.15">5</text>
<line x1="531.8" y1="93.1" x2="531.8" y2="94.7" stroke="#555" stroke-width="0.6"/>
<text x="531.8" y="101.3" font-size="6.3" text-anchor="middle" font-weight="normal" fill="#222" stroke="#222" stroke-width="0.15">10</text>
<text x="481" y="41.8" font-size="7.2" text-anchor="start" font-weight="normal" fill="#8fbef0">302</text>
<text x="530" y="41.8" font-size="7.2" text-anchor="end" font-weight="normal" fill="#f0979c">414</text>
<g>
<line x1="579.5" y1="33.1" x2="579.5" y2="93.1" stroke="#c8c8c8" stroke-width="0.6"/>
<path d="M565.8 91.2h1.35v1.35h-1.35zM575 91.7h1.35v1.35h-1.35zM573.3 89.6h1.35v1.35h-1.35zM578.5 89.6h1.35v1.35h-1.35zM577.6 90.1h1.35v1.35h-1.35zM576 91.1h1.35v1.35h-1.35zM572.4 91.3h1.35v1.35h-1.35zM552.8 91.6h1.35v1.35h-1.35zM574.3 91.7h1.35v1.35h-1.35zM573.9 91.7h1.35v1.35h-1.35zM560.9 91.3h1.35v1.35h-1.35zM560 91.3h1.35v1.35h-1.35zM571.1 91.1h1.35v1.35h-1.35zM575.6 91.6h1.35v1.35h-1.35zM578.7 91.5h1.35v1.35h-1.35zM569.9 91.2h1.35v1.35h-1.35zM571 89.7h1.35v1.35h-1.35zM573.1 90.6h1.35v1.35h-1.35zM558.5 90.8h1.35v1.35h-1.35zM570 91h1.35v1.35h-1.35zM572.7 89.9h1.35v1.35h-1.35zM574.7 91.7h1.35v1.35h-1.35zM552.9 91.5h1.35v1.35h-1.35zM573.5 90.4h1.35v1.35h-1.35zM574.9 90.5h1.35v1.35h-1.35zM569.4 90.6h1.35v1.35h-1.35zM570 89.8h1.35v1.35h-1.35zM570.9 91.8h1.35v1.35h-1.35zM558.5 91h1.35v1.35h-1.35zM563.5 91.2h1.35v1.35h-1.35zM567.1 91.1h1.35v1.35h-1.35zM560.4 90.8h1.35v1.35h-1.35zM577.2 89.6h1.35v1.35h-1.35zM577.9 91.8h1.35v1.35h-1.35zM576.7 90.3h1.35v1.35h-1.35zM576.1 88.5h1.35v1.35h-1.35zM564 90.8h1.35v1.35h-1.35zM569.2 91.7h1.35v1.35h-1.35zM576.3 88.5h1.35v1.35h-1.35zM578.4 89.4h1.35v1.35h-1.35zM574.6 91.9h1.35v1.35h-1.35zM575.2 90.9h1.35v1.35h-1.35zM555.5 91.4h1.35v1.35h-1.35zM573.5 90.2h1.35v1.35h-1.35zM565.2 91.2h1.35v1.35h-1.35zM577.7 90.8h1.35v1.35h-1.35zM570.2 90.6h1.35v1.35h-1.35zM569.8 91.8h1.35v1.35h-1.35zM573.3 91.4h1.35v1.35h-1.35zM563.5 90.9h1.35v1.35h-1.35zM576.2 89.6h1.35v1.35h-1.35zM565.2 91.6h1.35v1.35h-1.35zM552.9 91.2h1.35v1.35h-1.35zM572 90.1h1.35v1.35h-1.35zM575.7 90.7h1.35v1.35h-1.35zM557.9 91.4h1.35v1.35h-1.35zM567.7 91.5h1.35v1.35h-1.35zM571.4 90.5h1.35v1.35h-1.35zM578.6 90.2h1.35v1.35h-1.35zM564.7 91.7h1.35v1.35h-1.35zM563.6 91.7h1.35v1.35h-1.35zM557.5 91.9h1.35v1.35h-1.35zM576.7 91h1.35v1.35h-1.35zM552.8 91.9h1.35v1.35h-1.35zM572.1 91.4h1.35v1.35h-1.35zM573.2 91.5h1.35v1.35h-1.35zM557.6 91.1h1.35v1.35h-1.35zM553.8 91.8h1.35v1.35h-1.35zM557.3 91.4h1.35v1.35h-1.35zM567.5 90.8h1.35v1.35h-1.35zM577.6 90.4h1.35v1.35h-1.35zM557.2 91.1h1.35v1.35h-1.35zM567.5 91.4h1.35v1.35h-1.35zM563.4 91.4h1.35v1.35h-1.35zM563.7 91.9h1.35v1.35h-1.35zM560.7 91.6h1.35v1.35h-1.35zM578.7 91.3h1.35v1.35h-1.35zM577.8 90.7h1.35v1.35h-1.35zM569.4 91.1h1.35v1.35h-1.35zM574.3 91.6h1.35v1.35h-1.35zM572 84.1h1.35v1.35h-1.35zM573 86.5h1.35v1.35h-1.35z" fill="#8fbef0"/>
<path d="M579.4 90.5h1.35v1.35h-1.35zM586.1 91.1h1.35v1.35h-1.35zM586.6 91.6h1.35v1.35h-1.35zM581.8 90.1h1.35v1.35h-1.35zM583.5 90.5h1.35v1.35h-1.35zM585.7 89.6h1.35v1.35h-1.35zM582.1 90.4h1.35v1.35h-1.35zM592.3 91.2h1.35v1.35h-1.35zM583.1 91.3h1.35v1.35h-1.35zM579.4 91.6h1.35v1.35h-1.35zM597 91.5h1.35v1.35h-1.35zM590.1 91.8h1.35v1.35h-1.35zM580 89.9h1.35v1.35h-1.35zM597.2 91.4h1.35v1.35h-1.35zM598.2 91.2h1.35v1.35h-1.35zM579.5 89.6h1.35v1.35h-1.35zM586.1 90.9h1.35v1.35h-1.35zM583.6 90.7h1.35v1.35h-1.35zM579.9 88h1.35v1.35h-1.35zM591.2 90.9h1.35v1.35h-1.35zM591.8 91.8h1.35v1.35h-1.35zM582.2 91.2h1.35v1.35h-1.35zM579 90.9h1.35v1.35h-1.35zM591.1 91.6h1.35v1.35h-1.35zM597.6 91.4h1.35v1.35h-1.35zM590.4 91.3h1.35v1.35h-1.35zM581.8 91.2h1.35v1.35h-1.35zM582.7 90.8h1.35v1.35h-1.35zM583.4 89.7h1.35v1.35h-1.35zM582.7 91.1h1.35v1.35h-1.35zM582 90.6h1.35v1.35h-1.35zM597.3 91.7h1.35v1.35h-1.35zM579.8 91.6h1.35v1.35h-1.35zM603.1 91.9h1.35v1.35h-1.35zM583.6 91.7h1.35v1.35h-1.35zM579.4 89.8h1.35v1.35h-1.35zM582.3 90.7h1.35v1.35h-1.35zM579.1 91.8h1.35v1.35h-1.35zM581.9 90.4h1.35v1.35h-1.35zM581.7 91.7h1.35v1.35h-1.35zM583.7 91.2h1.35v1.35h-1.35zM589.9 91h1.35v1.35h-1.35zM585.2 90.6h1.35v1.35h-1.35zM585.8 91.2h1.35v1.35h-1.35zM582.6 90.6h1.35v1.35h-1.35zM580.2 90.1h1.35v1.35h-1.35zM588 90.7h1.35v1.35h-1.35zM580.9 91.4h1.35v1.35h-1.35zM579 90.9h1.35v1.35h-1.35zM587 90.3h1.35v1.35h-1.35zM582.7 90.2h1.35v1.35h-1.35zM579.4 91.5h1.35v1.35h-1.35zM588.4 91.3h1.35v1.35h-1.35zM594.9 91.8h1.35v1.35h-1.35zM582.7 91.4h1.35v1.35h-1.35zM580.3 90.7h1.35v1.35h-1.35zM599.6 91.9h1.35v1.35h-1.35zM583.3 90.1h1.35v1.35h-1.35zM587.3 90.8h1.35v1.35h-1.35zM586.3 91h1.35v1.35h-1.35zM598.6 90.1h1.35v1.35h-1.35zM599.3 90.7h1.35v1.35h-1.35z" fill="#f0979c"/>
</g>
<rect x="553.2" y="33.1" width="52.6" height="60" fill="none" stroke="#8a8a8a" stroke-width="0.8"/>
<line x1="553.2" y1="33.1" x2="553.2" y2="93.1" stroke="#555" stroke-width="0.8"/>
<line x1="553.2" y1="93.1" x2="605.8" y2="93.1" stroke="#555" stroke-width="0.8"/>
<line x1="551.6" y1="93.1" x2="553.2" y2="93.1" stroke="#555" stroke-width="0.6"/>
<line x1="551.6" y1="81.1" x2="553.2" y2="81.1" stroke="#555" stroke-width="0.6"/>
<line x1="551.6" y1="69.1" x2="553.2" y2="69.1" stroke="#555" stroke-width="0.6"/>
<line x1="551.6" y1="57.1" x2="553.2" y2="57.1" stroke="#555" stroke-width="0.6"/>
<line x1="551.6" y1="45.1" x2="553.2" y2="45.1" stroke="#555" stroke-width="0.6"/>
<line x1="551.6" y1="33.1" x2="553.2" y2="33.1" stroke="#555" stroke-width="0.6"/>
<line x1="553.2" y1="93.1" x2="553.2" y2="94.7" stroke="#555" stroke-width="0.6"/>
<text x="553.2" y="101.3" font-size="6.3" text-anchor="middle" font-weight="normal" fill="#222" stroke="#222" stroke-width="0.15">-10</text>
<line x1="566.4" y1="93.1" x2="566.4" y2="94.7" stroke="#555" stroke-width="0.6"/>
<text x="566.4" y="101.3" font-size="6.3" text-anchor="middle" font-weight="normal" fill="#222" stroke="#222" stroke-width="0.15">-5</text>
<line x1="579.5" y1="93.1" x2="579.5" y2="94.7" stroke="#555" stroke-width="0.6"/>
<text x="579.5" y="101.3" font-size="6.3" text-anchor="middle" font-weight="normal" fill="#222" stroke="#222" stroke-width="0.15">0</text>
<line x1="592.7" y1="93.1" x2="592.7" y2="94.7" stroke="#555" stroke-width="0.6"/>
<text x="592.7" y="101.3" font-size="6.3" text-anchor="middle" font-weight="normal" fill="#222" stroke="#222" stroke-width="0.15">5</text>
<line x1="605.8" y1="93.1" x2="605.8" y2="94.7" stroke="#555" stroke-width="0.6"/>
<text x="605.8" y="101.3" font-size="6.3" text-anchor="middle" font-weight="normal" fill="#222" stroke="#222" stroke-width="0.15">10</text>
<text x="555" y="41.8" font-size="7.2" text-anchor="start" font-weight="normal" fill="#8fbef0">446</text>
<text x="604" y="41.8" font-size="7.2" text-anchor="end" font-weight="normal" fill="#f0979c">284</text>
<g>
<line x1="653.5" y1="33.1" x2="653.5" y2="93.1" stroke="#c8c8c8" stroke-width="0.6"/>
<path d="M642.5 91.6h1.35v1.35h-1.35zM632.1 91.8h1.35v1.35h-1.35zM646.2 91.3h1.35v1.35h-1.35zM650.5 91h1.35v1.35h-1.35zM650.7 91.6h1.35v1.35h-1.35zM630.1 91.6h1.35v1.35h-1.35zM632.8 91.5h1.35v1.35h-1.35zM635.9 91.2h1.35v1.35h-1.35zM626.8 91.5h1.35v1.35h-1.35zM652.5 89.7h1.35v1.35h-1.35zM649.9 91h1.35v1.35h-1.35zM648.8 91.8h1.35v1.35h-1.35zM629.2 91.6h1.35v1.35h-1.35zM643.1 91.6h1.35v1.35h-1.35zM647.5 90.9h1.35v1.35h-1.35zM639.6 91.4h1.35v1.35h-1.35zM636.5 91.8h1.35v1.35h-1.35zM647.2 91.6h1.35v1.35h-1.35zM642.8 90.8h1.35v1.35h-1.35zM639.6 91.6h1.35v1.35h-1.35zM632.9 91.7h1.35v1.35h-1.35zM647.1 91.7h1.35v1.35h-1.35zM651.3 90h1.35v1.35h-1.35zM630.3 91.6h1.35v1.35h-1.35zM650.4 90.7h1.35v1.35h-1.35zM647.6 91h1.35v1.35h-1.35zM649.1 91.8h1.35v1.35h-1.35zM647 91.7h1.35v1.35h-1.35zM649.3 91.4h1.35v1.35h-1.35zM647.1 91.8h1.35v1.35h-1.35zM649.1 90.8h1.35v1.35h-1.35zM641 91.1h1.35v1.35h-1.35zM650.9 91.2h1.35v1.35h-1.35zM631.6 91.9h1.35v1.35h-1.35zM647.7 91h1.35v1.35h-1.35zM648.8 90.7h1.35v1.35h-1.35zM652.7 91h1.35v1.35h-1.35zM632.6 91.6h1.35v1.35h-1.35zM646.8 91.2h1.35v1.35h-1.35zM652.6 90.6h1.35v1.35h-1.35zM645.2 91.2h1.35v1.35h-1.35zM645.7 91.5h1.35v1.35h-1.35zM634 91.7h1.35v1.35h-1.35zM649.6 91.3h1.35v1.35h-1.35zM651.3 90.3h1.35v1.35h-1.35zM636.6 91.4h1.35v1.35h-1.35zM649 90.7h1.35v1.35h-1.35zM644.5 91.5h1.35v1.35h-1.35zM644.7 90.6h1.35v1.35h-1.35zM650.6 91h1.35v1.35h-1.35zM631.2 91.4h1.35v1.35h-1.35zM627.4 91.6h1.35v1.35h-1.35zM639.4 91.5h1.35v1.35h-1.35zM628.4 91.8h1.35v1.35h-1.35zM636.3 91.3h1.35v1.35h-1.35zM650.3 91.4h1.35v1.35h-1.35zM641.6 91.9h1.35v1.35h-1.35zM648.9 89.6h1.35v1.35h-1.35zM637.9 91.6h1.35v1.35h-1.35zM646.4 91.5h1.35v1.35h-1.35z" fill="#8fbef0"/>
<path d="M655 91.3h1.35v1.35h-1.35zM654.2 90.3h1.35v1.35h-1.35zM672.5 91.8h1.35v1.35h-1.35zM662 91.8h1.35v1.35h-1.35zM659.1 90.6h1.35v1.35h-1.35zM668.3 91.8h1.35v1.35h-1.35zM655.9 91.4h1.35v1.35h-1.35zM654 91h1.35v1.35h-1.35zM653.8 91.5h1.35v1.35h-1.35zM653.2 90.6h1.35v1.35h-1.35zM654.6 91.8h1.35v1.35h-1.35zM655.2 90.8h1.35v1.35h-1.35zM653.2 91.1h1.35v1.35h-1.35zM659.6 91.8h1.35v1.35h-1.35zM662.8 91.5h1.35v1.35h-1.35zM656.7 90.2h1.35v1.35h-1.35zM657 91.3h1.35v1.35h-1.35zM661.3 91.6h1.35v1.35h-1.35zM653.8 91.2h1.35v1.35h-1.35zM674.6 91.3h1.35v1.35h-1.35zM656.6 89.9h1.35v1.35h-1.35zM659.7 90.5h1.35v1.35h-1.35zM653.6 91.1h1.35v1.35h-1.35zM656.9 91.1h1.35v1.35h-1.35zM653.5 89.4h1.35v1.35h-1.35zM656.1 90h1.35v1.35h-1.35zM667.4 91.6h1.35v1.35h-1.35zM653.6 88.5h1.35v1.35h-1.35zM653.9 89.4h1.35v1.35h-1.35zM656.9 90.5h1.35v1.35h-1.35zM656.4 90.4h1.35v1.35h-1.35zM654.5 89.9h1.35v1.35h-1.35zM653.4 89.4h1.35v1.35h-1.35zM655.1 90.6h1.35v1.35h-1.35zM653.8 88.8h1.35v1.35h-1.35zM654.4 91.8h1.35v1.35h-1.35zM658.1 90.3h1.35v1.35h-1.35zM663.2 91.2h1.35v1.35h-1.35zM663.7 91.5h1.35v1.35h-1.35zM654.4 91.5h1.35v1.35h-1.35zM673.6 90.6h1.35v1.35h-1.35zM662.7 91.4h1.35v1.35h-1.35zM656.1 90.5h1.35v1.35h-1.35zM670.7 91.8h1.35v1.35h-1.35zM674.6 91.9h1.35v1.35h-1.35zM653.7 89h1.35v1.35h-1.35zM660.1 91.2h1.35v1.35h-1.35zM655.2 91h1.35v1.35h-1.35zM654.5 91.5h1.35v1.35h-1.35zM671.8 90.6h1.35v1.35h-1.35zM653.9 88.8h1.35v1.35h-1.35zM661.4 91.2h1.35v1.35h-1.35zM653.9 91.3h1.35v1.35h-1.35zM658.8 90.7h1.35v1.35h-1.35zM653.9 91.3h1.35v1.35h-1.35zM655.1 90.3h1.35v1.35h-1.35zM658.3 91.8h1.35v1.35h-1.35zM656.9 91.1h1.35v1.35h-1.35zM658.2 91h1.35v1.35h-1.35zM661 91.4h1.35v1.35h-1.35zM654.7 85.9h1.35v1.35h-1.35zM656 87.1h1.35v1.35h-1.35z" fill="#f0979c"/>
</g>
<rect x="627.2" y="33.1" width="52.6" height="60" fill="none" stroke="#8a8a8a" stroke-width="0.8"/>
<line x1="627.2" y1="33.1" x2="627.2" y2="93.1" stroke="#555" stroke-width="0.8"/>
<line x1="627.2" y1="93.1" x2="679.8" y2="93.1" stroke="#555" stroke-width="0.8"/>
<line x1="625.6" y1="93.1" x2="627.2" y2="93.1" stroke="#555" stroke-width="0.6"/>
<line x1="625.6" y1="81.1" x2="627.2" y2="81.1" stroke="#555" stroke-width="0.6"/>
<line x1="625.6" y1="69.1" x2="627.2" y2="69.1" stroke="#555" stroke-width="0.6"/>
<line x1="625.6" y1="57.1" x2="627.2" y2="57.1" stroke="#555" stroke-width="0.6"/>
<line x1="625.6" y1="45.1" x2="627.2" y2="45.1" stroke="#555" stroke-width="0.6"/>
<line x1="625.6" y1="33.1" x2="627.2" y2="33.1" stroke="#555" stroke-width="0.6"/>
<line x1="627.2" y1="93.1" x2="627.2" y2="94.7" stroke="#555" stroke-width="0.6"/>
<text x="627.2" y="101.3" font-size="6.3" text-anchor="middle" font-weight="normal" fill="#222" stroke="#222" stroke-width="0.15">-10</text>
<line x1="640.4" y1="93.1" x2="640.4" y2="94.7" stroke="#555" stroke-width="0.6"/>
<text x="640.4" y="101.3" font-size="6.3" text-anchor="middle" font-weight="normal" fill="#222" stroke="#222" stroke-width="0.15">-5</text>
<line x1="653.5" y1="93.1" x2="653.5" y2="94.7" stroke="#555" stroke-width="0.6"/>
<text x="653.5" y="101.3" font-size="6.3" text-anchor="middle" font-weight="normal" fill="#222" stroke="#222" stroke-width="0.15">0</text>
<line x1="666.7" y1="93.1" x2="666.7" y2="94.7" stroke="#555" stroke-width="0.6"/>
<text x="666.7" y="101.3" font-size="6.3" text-anchor="middle" font-weight="normal" fill="#222" stroke="#222" stroke-width="0.15">5</text>
<line x1="679.8" y1="93.1" x2="679.8" y2="94.7" stroke="#555" stroke-width="0.6"/>
<text x="679.8" y="101.3" font-size="6.3" text-anchor="middle" font-weight="normal" fill="#222" stroke="#222" stroke-width="0.15">10</text>
<text x="629" y="41.8" font-size="7.2" text-anchor="start" font-weight="normal" fill="#8fbef0">151</text>
<text x="678" y="41.8" font-size="7.2" text-anchor="end" font-weight="normal" fill="#f0979c">290</text>
<text transform="translate(388.6 62.1) rotate(-90)" x="0" y="2.2" font-size="6.2" text-anchor="middle" font-weight="normal" fill="#222" stroke="#222" stroke-width="0.15">-Log<tspan font-size="4.6" dy="1.5">10</tspan><tspan dy="-1.5">(</tspan><tspan font-style="italic">p</tspan> value)</text>
<g>
<line x1="432.5" y1="115.6" x2="432.5" y2="175.6" stroke="#c8c8c8" stroke-width="0.6"/>
<path d="M429.9 172.8h1.35v1.35h-1.35zM431.3 171h1.35v1.35h-1.35zM425.6 173.9h1.35v1.35h-1.35zM430.6 171.3h1.35v1.35h-1.35zM431.7 173.9h1.35v1.35h-1.35zM427.5 173.1h1.35v1.35h-1.35zM425 174.3h1.35v1.35h-1.35zM426.3 171h1.35v1.35h-1.35zM425.7 172.4h1.35v1.35h-1.35zM428 171.2h1.35v1.35h-1.35zM426.4 174h1.35v1.35h-1.35zM426.6 172.8h1.35v1.35h-1.35zM423.7 171.6h1.35v1.35h-1.35zM424 174h1.35v1.35h-1.35zM414.2 174.2h1.35v1.35h-1.35zM427.6 172.9h1.35v1.35h-1.35zM422.3 173.9h1.35v1.35h-1.35zM429.2 171.1h1.35v1.35h-1.35zM423.3 172.8h1.35v1.35h-1.35zM428.2 170.9h1.35v1.35h-1.35zM428.4 173.2h1.35v1.35h-1.35zM427.1 172h1.35v1.35h-1.35zM431.7 174.2h1.35v1.35h-1.35zM426.9 171.1h1.35v1.35h-1.35zM425.6 174.3h1.35v1.35h-1.35zM424.2 171.5h1.35v1.35h-1.35zM426.6 171.4h1.35v1.35h-1.35zM424.3 174.1h1.35v1.35h-1.35zM426.9 172.9h1.35v1.35h-1.35zM429 172.3h1.35v1.35h-1.35zM425 174.4h1.35v1.35h-1.35zM428.9 171.6h1.35v1.35h-1.35zM426.9 170.7h1.35v1.35h-1.35zM426.3 171.6h1.35v1.35h-1.35zM426.6 172.6h1.35v1.35h-1.35zM428.5 172.7h1.35v1.35h-1.35zM421.3 173.1h1.35v1.35h-1.35zM422.1 173.3h1.35v1.35h-1.35zM425 172.1h1.35v1.35h-1.35zM430 171.4h1.35v1.35h-1.35zM431.3 171.1h1.35v1.35h-1.35zM422.5 173.2h1.35v1.35h-1.35zM427.1 174.3h1.35v1.35h-1.35zM426.7 171.5h1.35v1.35h-1.35zM430 173h1.35v1.35h-1.35zM425.9 174h1.35v1.35h-1.35zM422.5 173.8h1.35v1.35h-1.35zM426.6 172h1.35v1.35h-1.35zM429.4 174h1.35v1.35h-1.35zM421.5 172.7h1.35v1.35h-1.35zM424.8 173.7h1.35v1.35h-1.35zM431 169.2h1.35v1.35h-1.35zM431.2 174.3h1.35v1.35h-1.35zM422.2 173.1h1.35v1.35h-1.35zM422 173.8h1.35v1.35h-1.35zM426.3 171.6h1.35v1.35h-1.35zM426.8 171.8h1.35v1.35h-1.35zM431.5 172h1.35v1.35h-1.35zM426.5 173.5h1.35v1.35h-1.35zM423.8 171.6h1.35v1.35h-1.35zM428.5 170.9h1.35v1.35h-1.35zM428.3 171.5h1.35v1.35h-1.35zM415.5 174.2h1.35v1.35h-1.35zM430 173.5h1.35v1.35h-1.35zM419.3 174h1.35v1.35h-1.35zM429.9 173.9h1.35v1.35h-1.35zM430.9 173.2h1.35v1.35h-1.35zM431 168.8h1.35v1.35h-1.35zM415.8 173.7h1.35v1.35h-1.35zM430.9 172h1.35v1.35h-1.35zM426.8 172.3h1.35v1.35h-1.35zM429.1 172.1h1.35v1.35h-1.35zM422.8 174.2h1.35v1.35h-1.35zM416 173.6h1.35v1.35h-1.35zM423.5 173.5h1.35v1.35h-1.35zM426.3 173.6h1.35v1.35h-1.35zM426.9 171.6h1.35v1.35h-1.35zM425.5 173.4h1.35v1.35h-1.35zM426.6 172.9h1.35v1.35h-1.35zM427.5 173.5h1.35v1.35h-1.35zM424.7 172.2h1.35v1.35h-1.35zM429.6 170.9h1.35v1.35h-1.35zM426 172.2h1.35v1.35h-1.35zM424.9 173.5h1.35v1.35h-1.35zM415 173.9h1.35v1.35h-1.35zM425.5 172.3h1.35v1.35h-1.35zM424.2 173.4h1.35v1.35h-1.35zM431.2 170.2h1.35v1.35h-1.35zM424.1 171.9h1.35v1.35h-1.35zM428.1 171.5h1.35v1.35h-1.35zM426.1 172.1h1.35v1.35h-1.35zM428.6 173.1h1.35v1.35h-1.35zM426.2 172.3h1.35v1.35h-1.35zM422.5 172.5h1.35v1.35h-1.35zM413.6 174.2h1.35v1.35h-1.35zM429.3 173.4h1.35v1.35h-1.35zM429.6 171h1.35v1.35h-1.35zM423.7 171h1.35v1.35h-1.35zM417.9 173.6h1.35v1.35h-1.35zM431.1 171.7h1.35v1.35h-1.35zM428.7 164.2h1.35v1.35h-1.35zM429.7 165.4h1.35v1.35h-1.35z" fill="#8fbef0"/>
<path d="M434.4 171.3h1.35v1.35h-1.35zM432.9 170.7h1.35v1.35h-1.35zM435.8 171.7h1.35v1.35h-1.35zM435.4 171.8h1.35v1.35h-1.35zM434.8 173.7h1.35v1.35h-1.35zM432.1 172.6h1.35v1.35h-1.35zM433.4 173.8h1.35v1.35h-1.35zM435.5 171.4h1.35v1.35h-1.35zM437.1 173.2h1.35v1.35h-1.35zM432.9 172.3h1.35v1.35h-1.35zM433.8 170.9h1.35v1.35h-1.35zM439.4 172.3h1.35v1.35h-1.35zM456.9 173.9h1.35v1.35h-1.35zM432.5 173.6h1.35v1.35h-1.35zM433.6 173.3h1.35v1.35h-1.35zM433.5 171.6h1.35v1.35h-1.35zM434.2 172.2h1.35v1.35h-1.35zM432.3 172.5h1.35v1.35h-1.35zM432.1 174.2h1.35v1.35h-1.35zM455.6 174.2h1.35v1.35h-1.35zM445.8 173.8h1.35v1.35h-1.35zM432.2 172.6h1.35v1.35h-1.35zM432.9 171h1.35v1.35h-1.35zM442.1 173.8h1.35v1.35h-1.35zM435.5 172.1h1.35v1.35h-1.35zM432.1 173.9h1.35v1.35h-1.35zM435.8 172.3h1.35v1.35h-1.35zM434.6 171.5h1.35v1.35h-1.35zM436.3 171.2h1.35v1.35h-1.35zM433.9 172.6h1.35v1.35h-1.35zM434.7 172h1.35v1.35h-1.35zM432.9 171.3h1.35v1.35h-1.35zM437.1 172.7h1.35v1.35h-1.35zM442.1 174.3h1.35v1.35h-1.35zM434 171.9h1.35v1.35h-1.35zM455.1 173.8h1.35v1.35h-1.35zM436.7 172h1.35v1.35h-1.35zM434.9 172.4h1.35v1.35h-1.35zM443.1 174.3h1.35v1.35h-1.35zM433.4 172.4h1.35v1.35h-1.35zM434.8 169.4h1.35v1.35h-1.35zM434.4 170.9h1.35v1.35h-1.35zM435.6 173h1.35v1.35h-1.35zM432 173.1h1.35v1.35h-1.35zM433.6 170.7h1.35v1.35h-1.35zM434.5 171.4h1.35v1.35h-1.35zM432.7 170.2h1.35v1.35h-1.35zM435.4 172.2h1.35v1.35h-1.35zM436.3 172.9h1.35v1.35h-1.35zM432.6 171.4h1.35v1.35h-1.35zM433.5 172.4h1.35v1.35h-1.35zM437.5 173.8h1.35v1.35h-1.35zM437.9 172h1.35v1.35h-1.35zM434.7 170h1.35v1.35h-1.35zM448.1 173.6h1.35v1.35h-1.35zM436.4 173.6h1.35v1.35h-1.35zM438.7 174.3h1.35v1.35h-1.35zM439.5 173.7h1.35v1.35h-1.35zM442.8 174.1h1.35v1.35h-1.35zM448.3 173.4h1.35v1.35h-1.35zM437.9 173.9h1.35v1.35h-1.35zM433.2 173.3h1.35v1.35h-1.35zM434.3 172.6h1.35v1.35h-1.35zM434.5 173.8h1.35v1.35h-1.35zM442.1 173.9h1.35v1.35h-1.35zM432.5 173.5h1.35v1.35h-1.35zM434 172.8h1.35v1.35h-1.35zM437.2 170h1.35v1.35h-1.35zM437.4 174.2h1.35v1.35h-1.35zM434.8 172.3h1.35v1.35h-1.35zM434.7 172.1h1.35v1.35h-1.35zM433.9 172.7h1.35v1.35h-1.35zM432.3 172.4h1.35v1.35h-1.35zM438 174.1h1.35v1.35h-1.35zM447.1 174.3h1.35v1.35h-1.35zM432.7 169.5h1.35v1.35h-1.35zM449.6 174.3h1.35v1.35h-1.35zM436.1 172.5h1.35v1.35h-1.35zM450.9 174h1.35v1.35h-1.35zM435.7 172.3h1.35v1.35h-1.35zM433.1 166.6h1.35v1.35h-1.35zM451.6 172.6h1.35v1.35h-1.35z" fill="#f0979c"/>
</g>
<rect x="406.2" y="115.6" width="52.6" height="60" fill="none" stroke="#8a8a8a" stroke-width="0.8"/>
<line x1="406.2" y1="115.6" x2="406.2" y2="175.6" stroke="#555" stroke-width="0.8"/>
<line x1="406.2" y1="175.6" x2="458.8" y2="175.6" stroke="#555" stroke-width="0.8"/>
<line x1="404.6" y1="175.6" x2="406.2" y2="175.6" stroke="#555" stroke-width="0.6"/>
<text x="404.2" y="177.8" font-size="6.3" text-anchor="end" font-weight="normal" fill="#222" stroke="#222" stroke-width="0.15">0</text>
<line x1="404.6" y1="163.6" x2="406.2" y2="163.6" stroke="#555" stroke-width="0.6"/>
<text x="404.2" y="165.8" font-size="6.3" text-anchor="end" font-weight="normal" fill="#222" stroke="#222" stroke-width="0.15">20</text>
<line x1="404.6" y1="151.6" x2="406.2" y2="151.6" stroke="#555" stroke-width="0.6"/>
<text x="404.2" y="153.8" font-size="6.3" text-anchor="end" font-weight="normal" fill="#222" stroke="#222" stroke-width="0.15">40</text>
<line x1="404.6" y1="139.6" x2="406.2" y2="139.6" stroke="#555" stroke-width="0.6"/>
<text x="404.2" y="141.8" font-size="6.3" text-anchor="end" font-weight="normal" fill="#222" stroke="#222" stroke-width="0.15">60</text>
<line x1="404.6" y1="127.6" x2="406.2" y2="127.6" stroke="#555" stroke-width="0.6"/>
<text x="404.2" y="129.8" font-size="6.3" text-anchor="end" font-weight="normal" fill="#222" stroke="#222" stroke-width="0.15">80</text>
<line x1="404.6" y1="115.6" x2="406.2" y2="115.6" stroke="#555" stroke-width="0.6"/>
<text x="404.2" y="117.8" font-size="6.3" text-anchor="end" font-weight="normal" fill="#222" stroke="#222" stroke-width="0.15">100</text>
<line x1="406.2" y1="175.6" x2="406.2" y2="177.2" stroke="#555" stroke-width="0.6"/>
<text x="406.2" y="183.8" font-size="6.3" text-anchor="middle" font-weight="normal" fill="#222" stroke="#222" stroke-width="0.15">-10</text>
<line x1="419.3" y1="175.6" x2="419.3" y2="177.2" stroke="#555" stroke-width="0.6"/>
<text x="419.3" y="183.8" font-size="6.3" text-anchor="middle" font-weight="normal" fill="#222" stroke="#222" stroke-width="0.15">-5</text>
<line x1="432.5" y1="175.6" x2="432.5" y2="177.2" stroke="#555" stroke-width="0.6"/>
<text x="432.5" y="183.8" font-size="6.3" text-anchor="middle" font-weight="normal" fill="#222" stroke="#222" stroke-width="0.15">0</text>
<line x1="445.6" y1="175.6" x2="445.6" y2="177.2" stroke="#555" stroke-width="0.6"/>
<text x="445.6" y="183.8" font-size="6.3" text-anchor="middle" font-weight="normal" fill="#222" stroke="#222" stroke-width="0.15">5</text>
<line x1="458.8" y1="175.6" x2="458.8" y2="177.2" stroke="#555" stroke-width="0.6"/>
<text x="458.8" y="183.8" font-size="6.3" text-anchor="middle" font-weight="normal" fill="#222" stroke="#222" stroke-width="0.15">10</text>
<text x="408" y="124.3" font-size="7.2" text-anchor="start" font-weight="normal" fill="#8fbef0">712</text>
<text x="457" y="124.3" font-size="7.2" text-anchor="end" font-weight="normal" fill="#f0979c">541</text>
<g>
<line x1="505.5" y1="115.6" x2="505.5" y2="175.6" stroke="#c8c8c8" stroke-width="0.6"/>
<path d="M493.4 173.6h1.35v1.35h-1.35zM501.3 172.3h1.35v1.35h-1.35zM503.6 174.3h1.35v1.35h-1.35zM500 173.6h1.35v1.35h-1.35zM499.8 173.9h1.35v1.35h-1.35zM504.6 172.9h1.35v1.35h-1.35zM502.8 171.7h1.35v1.35h-1.35zM503.9 173.7h1.35v1.35h-1.35zM497.9 173.2h1.35v1.35h-1.35zM502.3 172.7h1.35v1.35h-1.35zM501.5 174.1h1.35v1.35h-1.35zM503.9 173.5h1.35v1.35h-1.35zM483.6 173.9h1.35v1.35h-1.35zM499.3 173.2h1.35v1.35h-1.35zM501.9 174h1.35v1.35h-1.35zM499.3 172.7h1.35v1.35h-1.35zM504.7 173.7h1.35v1.35h-1.35zM503 172h1.35v1.35h-1.35zM497.2 172.6h1.35v1.35h-1.35zM495.3 172.9h1.35v1.35h-1.35zM492.5 173h1.35v1.35h-1.35zM482.7 174.1h1.35v1.35h-1.35zM502.5 173.6h1.35v1.35h-1.35zM489.7 174h1.35v1.35h-1.35zM482.1 173.8h1.35v1.35h-1.35zM504.6 174h1.35v1.35h-1.35zM504.5 172h1.35v1.35h-1.35zM498 173h1.35v1.35h-1.35zM499.7 172.4h1.35v1.35h-1.35zM503 171.7h1.35v1.35h-1.35zM503.7 173h1.35v1.35h-1.35zM488.2 173.4h1.35v1.35h-1.35zM500.5 172.9h1.35v1.35h-1.35zM487.4 174.2h1.35v1.35h-1.35zM504.2 172.6h1.35v1.35h-1.35zM498.5 174h1.35v1.35h-1.35zM502.9 173.5h1.35v1.35h-1.35zM496.8 174.2h1.35v1.35h-1.35zM496.7 174.2h1.35v1.35h-1.35zM495.9 172.5h1.35v1.35h-1.35zM502.5 172.8h1.35v1.35h-1.35zM498.9 172.9h1.35v1.35h-1.35zM496 172.6h1.35v1.35h-1.35zM504.6 173h1.35v1.35h-1.35zM501.8 172.8h1.35v1.35h-1.35zM492.1 173.6h1.35v1.35h-1.35zM493.8 174.4h1.35v1.35h-1.35zM503.4 172.2h1.35v1.35h-1.35zM497.7 171.2h1.35v1.35h-1.35zM495.5 173.7h1.35v1.35h-1.35zM501.1 173h1.35v1.35h-1.35zM496.6 172.5h1.35v1.35h-1.35zM498.9 173h1.35v1.35h-1.35zM502.4 173.9h1.35v1.35h-1.35zM497.1 173.3h1.35v1.35h-1.35zM495.2 173.7h1.35v1.35h-1.35zM496.4 173h1.35v1.35h-1.35zM499.6 172.8h1.35v1.35h-1.35zM502 173.5h1.35v1.35h-1.35zM501.7 171.9h1.35v1.35h-1.35zM502.2 171.9h1.35v1.35h-1.35zM489.9 172.8h1.35v1.35h-1.35zM501 173.4h1.35v1.35h-1.35zM502.2 172.9h1.35v1.35h-1.35zM495.7 172.8h1.35v1.35h-1.35zM498.9 173.2h1.35v1.35h-1.35zM502.4 173h1.35v1.35h-1.35zM499.1 173.6h1.35v1.35h-1.35zM488.5 173.8h1.35v1.35h-1.35zM498.7 172.4h1.35v1.35h-1.35zM496.6 174.1h1.35v1.35h-1.35zM501.7 169.9h1.35v1.35h-1.35zM499.6 172.3h1.35v1.35h-1.35zM494.5 172.3h1.35v1.35h-1.35zM504.5 172.4h1.35v1.35h-1.35zM496.8 171.7h1.35v1.35h-1.35zM496.8 172.7h1.35v1.35h-1.35zM500.6 170.7h1.35v1.35h-1.35zM496.2 173.2h1.35v1.35h-1.35zM502 172.5h1.35v1.35h-1.35zM484.3 172h1.35v1.35h-1.35zM485.9 172.6h1.35v1.35h-1.35z" fill="#8fbef0"/>
<path d="M505.8 172.2h1.35v1.35h-1.35zM505.2 172.3h1.35v1.35h-1.35zM506.4 174.4h1.35v1.35h-1.35zM509.3 170.9h1.35v1.35h-1.35zM506.5 172.7h1.35v1.35h-1.35zM510.1 172h1.35v1.35h-1.35zM515.8 172.4h1.35v1.35h-1.35zM510.1 173.5h1.35v1.35h-1.35zM507.9 168.6h1.35v1.35h-1.35zM529.1 173.8h1.35v1.35h-1.35zM508 168.8h1.35v1.35h-1.35zM520 174.4h1.35v1.35h-1.35zM508.7 171h1.35v1.35h-1.35zM522.7 173.5h1.35v1.35h-1.35zM506.3 170.8h1.35v1.35h-1.35zM524.2 174.2h1.35v1.35h-1.35zM507.2 170.3h1.35v1.35h-1.35zM507.8 174.3h1.35v1.35h-1.35zM508.9 171.2h1.35v1.35h-1.35zM509.1 172h1.35v1.35h-1.35zM512.5 173.2h1.35v1.35h-1.35zM514.7 174.1h1.35v1.35h-1.35zM505.7 171.7h1.35v1.35h-1.35zM507.5 173.1h1.35v1.35h-1.35zM506.1 171.7h1.35v1.35h-1.35zM507.4 173.8h1.35v1.35h-1.35zM522.7 173.9h1.35v1.35h-1.35zM511.8 174.2h1.35v1.35h-1.35zM505.4 171.3h1.35v1.35h-1.35zM508.4 174h1.35v1.35h-1.35zM525.3 174.2h1.35v1.35h-1.35zM509.6 170.6h1.35v1.35h-1.35zM505.3 171.5h1.35v1.35h-1.35zM507.9 173.2h1.35v1.35h-1.35zM508.8 173.8h1.35v1.35h-1.35zM506.3 171.2h1.35v1.35h-1.35zM506.1 171.3h1.35v1.35h-1.35zM505.5 171.9h1.35v1.35h-1.35zM511.5 173.2h1.35v1.35h-1.35zM518.5 173.7h1.35v1.35h-1.35zM509.8 172.1h1.35v1.35h-1.35zM513.4 173.1h1.35v1.35h-1.35zM505.7 171.8h1.35v1.35h-1.35zM520.7 173.5h1.35v1.35h-1.35zM507 173.4h1.35v1.35h-1.35zM506.6 174h1.35v1.35h-1.35zM510.5 173.3h1.35v1.35h-1.35zM513.6 173.2h1.35v1.35h-1.35zM511.8 173.5h1.35v1.35h-1.35zM507.9 174.2h1.35v1.35h-1.35zM511.7 173.9h1.35v1.35h-1.35zM519.1 173.8h1.35v1.35h-1.35zM508.3 173.7h1.35v1.35h-1.35zM508.3 171.4h1.35v1.35h-1.35zM505.8 172.2h1.35v1.35h-1.35zM508.7 172.9h1.35v1.35h-1.35zM508 172.2h1.35v1.35h-1.35zM505.8 173.5h1.35v1.35h-1.35zM506.8 167.1h1.35v1.35h-1.35zM513.3 172.7h1.35v1.35h-1.35zM505.8 172.3h1.35v1.35h-1.35zM507.2 172.2h1.35v1.35h-1.35zM517.7 174.2h1.35v1.35h-1.35zM508.3 170.7h1.35v1.35h-1.35zM506.9 173h1.35v1.35h-1.35zM515.4 174.4h1.35v1.35h-1.35zM527 174h1.35v1.35h-1.35zM507.1 172.3h1.35v1.35h-1.35zM517.1 173.2h1.35v1.35h-1.35zM505.8 170.9h1.35v1.35h-1.35zM509.5 173.8h1.35v1.35h-1.35zM508.8 172.7h1.35v1.35h-1.35zM509.8 174h1.35v1.35h-1.35zM510.9 171.3h1.35v1.35h-1.35zM506 171.8h1.35v1.35h-1.35zM507.9 170.4h1.35v1.35h-1.35zM508.5 173.6h1.35v1.35h-1.35zM506.7 171.3h1.35v1.35h-1.35zM509.9 174.1h1.35v1.35h-1.35zM505.4 174.1h1.35v1.35h-1.35zM507.2 171.3h1.35v1.35h-1.35zM505.5 170.8h1.35v1.35h-1.35zM511 172.5h1.35v1.35h-1.35zM507.4 172.8h1.35v1.35h-1.35zM511 173.9h1.35v1.35h-1.35zM522.4 173.7h1.35v1.35h-1.35zM506.5 172.3h1.35v1.35h-1.35zM511.4 173.7h1.35v1.35h-1.35zM511.5 172.7h1.35v1.35h-1.35zM505.8 173.1h1.35v1.35h-1.35z" fill="#f0979c"/>
</g>
<rect x="479.2" y="115.6" width="52.6" height="60" fill="none" stroke="#8a8a8a" stroke-width="0.8"/>
<line x1="479.2" y1="115.6" x2="479.2" y2="175.6" stroke="#555" stroke-width="0.8"/>
<line x1="479.2" y1="175.6" x2="531.8" y2="175.6" stroke="#555" stroke-width="0.8"/>
<line x1="477.6" y1="175.6" x2="479.2" y2="175.6" stroke="#555" stroke-width="0.6"/>
<line x1="477.6" y1="163.6" x2="479.2" y2="163.6" stroke="#555" stroke-width="0.6"/>
<line x1="477.6" y1="151.6" x2="479.2" y2="151.6" stroke="#555" stroke-width="0.6"/>
<line x1="477.6" y1="139.6" x2="479.2" y2="139.6" stroke="#555" stroke-width="0.6"/>
<line x1="477.6" y1="127.6" x2="479.2" y2="127.6" stroke="#555" stroke-width="0.6"/>
<line x1="477.6" y1="115.6" x2="479.2" y2="115.6" stroke="#555" stroke-width="0.6"/>
<line x1="479.2" y1="175.6" x2="479.2" y2="177.2" stroke="#555" stroke-width="0.6"/>
<text x="479.2" y="183.8" font-size="6.3" text-anchor="middle" font-weight="normal" fill="#222" stroke="#222" stroke-width="0.15">-10</text>
<line x1="492.3" y1="175.6" x2="492.3" y2="177.2" stroke="#555" stroke-width="0.6"/>
<text x="492.3" y="183.8" font-size="6.3" text-anchor="middle" font-weight="normal" fill="#222" stroke="#222" stroke-width="0.15">-5</text>
<line x1="505.5" y1="175.6" x2="505.5" y2="177.2" stroke="#555" stroke-width="0.6"/>
<text x="505.5" y="183.8" font-size="6.3" text-anchor="middle" font-weight="normal" fill="#222" stroke="#222" stroke-width="0.15">0</text>
<line x1="518.6" y1="175.6" x2="518.6" y2="177.2" stroke="#555" stroke-width="0.6"/>
<text x="518.6" y="183.8" font-size="6.3" text-anchor="middle" font-weight="normal" fill="#222" stroke="#222" stroke-width="0.15">5</text>
<line x1="531.8" y1="175.6" x2="531.8" y2="177.2" stroke="#555" stroke-width="0.6"/>
<text x="531.8" y="183.8" font-size="6.3" text-anchor="middle" font-weight="normal" fill="#222" stroke="#222" stroke-width="0.15">10</text>
<text x="481" y="124.3" font-size="7.2" text-anchor="start" font-weight="normal" fill="#8fbef0">566</text>
<text x="530" y="124.3" font-size="7.2" text-anchor="end" font-weight="normal" fill="#f0979c">754</text>
<g>
<line x1="579.5" y1="115.6" x2="579.5" y2="175.6" stroke="#c8c8c8" stroke-width="0.6"/>
<path d="M578.7 174.4h1.35v1.35h-1.35zM576.1 173.8h1.35v1.35h-1.35zM552.9 174.2h1.35v1.35h-1.35zM564.5 171.7h1.35v1.35h-1.35zM562.4 173.2h1.35v1.35h-1.35zM567.9 172.1h1.35v1.35h-1.35zM568.2 172.9h1.35v1.35h-1.35zM578 169.2h1.35v1.35h-1.35zM561.6 174.1h1.35v1.35h-1.35zM557.9 173.7h1.35v1.35h-1.35zM575.1 173.4h1.35v1.35h-1.35zM576.8 173h1.35v1.35h-1.35zM572.1 172.9h1.35v1.35h-1.35zM577.9 168.6h1.35v1.35h-1.35zM570.6 174.4h1.35v1.35h-1.35zM573.5 168.2h1.35v1.35h-1.35zM578.1 169.6h1.35v1.35h-1.35zM557.5 173.7h1.35v1.35h-1.35zM572.9 171.4h1.35v1.35h-1.35zM573.8 173.5h1.35v1.35h-1.35zM578 169.3h1.35v1.35h-1.35zM562.8 173.4h1.35v1.35h-1.35zM570.1 172.6h1.35v1.35h-1.35zM573.9 168.5h1.35v1.35h-1.35zM575.2 169.4h1.35v1.35h-1.35zM575.3 172.7h1.35v1.35h-1.35zM555.6 174h1.35v1.35h-1.35zM571.4 172.7h1.35v1.35h-1.35zM578.6 172.7h1.35v1.35h-1.35zM569.7 173.6h1.35v1.35h-1.35zM578.7 173.9h1.35v1.35h-1.35zM574.2 172.4h1.35v1.35h-1.35zM576 171.6h1.35v1.35h-1.35zM572.6 173.3h1.35v1.35h-1.35zM575.7 173h1.35v1.35h-1.35zM568.4 172.4h1.35v1.35h-1.35zM572.2 172.6h1.35v1.35h-1.35zM573.4 173.9h1.35v1.35h-1.35zM575.9 170.5h1.35v1.35h-1.35zM575.3 172.9h1.35v1.35h-1.35zM575.7 170.3h1.35v1.35h-1.35zM565.4 172h1.35v1.35h-1.35zM574.9 172.6h1.35v1.35h-1.35zM570 173.1h1.35v1.35h-1.35zM565.1 172.8h1.35v1.35h-1.35zM574.4 171.5h1.35v1.35h-1.35zM574.8 169.5h1.35v1.35h-1.35zM569 174.2h1.35v1.35h-1.35zM570.4 171.7h1.35v1.35h-1.35zM560.3 173.7h1.35v1.35h-1.35zM576.9 172.4h1.35v1.35h-1.35zM576.1 173.3h1.35v1.35h-1.35zM571.8 171h1.35v1.35h-1.35zM571.2 173.8h1.35v1.35h-1.35zM577 170.5h1.35v1.35h-1.35zM576.5 170.2h1.35v1.35h-1.35zM558.1 174.4h1.35v1.35h-1.35zM578.6 172.8h1.35v1.35h-1.35zM569.8 172.4h1.35v1.35h-1.35zM573.4 173.3h1.35v1.35h-1.35zM575.7 173.6h1.35v1.35h-1.35zM572.1 170h1.35v1.35h-1.35zM576.6 171.5h1.35v1.35h-1.35zM565 173.9h1.35v1.35h-1.35zM572.7 171h1.35v1.35h-1.35zM571.1 174.3h1.35v1.35h-1.35zM562.7 173.6h1.35v1.35h-1.35zM574.7 172.6h1.35v1.35h-1.35zM567.3 173.8h1.35v1.35h-1.35zM576.5 172h1.35v1.35h-1.35zM576.1 172.2h1.35v1.35h-1.35zM573.3 173.4h1.35v1.35h-1.35zM569 173.4h1.35v1.35h-1.35zM575 172h1.35v1.35h-1.35zM578.7 173.7h1.35v1.35h-1.35zM574.9 174.3h1.35v1.35h-1.35zM574.3 168.9h1.35v1.35h-1.35zM555.4 174.2h1.35v1.35h-1.35zM557.6 174.2h1.35v1.35h-1.35zM576 166h1.35v1.35h-1.35zM573 171.1h1.35v1.35h-1.35zM576.9 170.3h1.35v1.35h-1.35zM575.1 173.3h1.35v1.35h-1.35zM568.7 172.2h1.35v1.35h-1.35zM558.5 174.4h1.35v1.35h-1.35zM569.6 172.4h1.35v1.35h-1.35zM570.1 171.9h1.35v1.35h-1.35zM574.6 172.4h1.35v1.35h-1.35zM553 174.2h1.35v1.35h-1.35zM573.9 172.9h1.35v1.35h-1.35zM572.4 174.1h1.35v1.35h-1.35zM573.7 173.1h1.35v1.35h-1.35zM570.2 172.8h1.35v1.35h-1.35zM556.5 174.3h1.35v1.35h-1.35zM572.4 173h1.35v1.35h-1.35zM571 172.2h1.35v1.35h-1.35zM573.1 167.9h1.35v1.35h-1.35zM576.1 173.8h1.35v1.35h-1.35zM575.7 169.2h1.35v1.35h-1.35zM578.5 172.2h1.35v1.35h-1.35zM574.3 170.8h1.35v1.35h-1.35zM578.5 174h1.35v1.35h-1.35zM578.5 172.5h1.35v1.35h-1.35zM578.3 170.6h1.35v1.35h-1.35zM563 173.8h1.35v1.35h-1.35zM578.2 170.4h1.35v1.35h-1.35zM572.3 172.2h1.35v1.35h-1.35zM572.4 171.6h1.35v1.35h-1.35zM568.1 172.3h1.35v1.35h-1.35zM578.1 169.4h1.35v1.35h-1.35zM573.4 172.5h1.35v1.35h-1.35zM578 169.1h1.35v1.35h-1.35zM575 172.7h1.35v1.35h-1.35zM568.5 172.2h1.35v1.35h-1.35zM573.2 171h1.35v1.35h-1.35zM573.2 171.1h1.35v1.35h-1.35zM571.2 173.4h1.35v1.35h-1.35zM575.6 169h1.35v1.35h-1.35zM561.5 174.1h1.35v1.35h-1.35zM569.5 171.7h1.35v1.35h-1.35zM570.6 170.3h1.35v1.35h-1.35zM578.5 172.4h1.35v1.35h-1.35zM578.1 171.4h1.35v1.35h-1.35zM570.5 172.2h1.35v1.35h-1.35zM566.9 173.2h1.35v1.35h-1.35zM573.7 170.9h1.35v1.35h-1.35zM573.8 172.3h1.35v1.35h-1.35zM562.5 173.5h1.35v1.35h-1.35zM574.9 170.6h1.35v1.35h-1.35zM577.9 173.5h1.35v1.35h-1.35zM572.9 171.2h1.35v1.35h-1.35zM570.2 173.4h1.35v1.35h-1.35zM572.3 173.1h1.35v1.35h-1.35zM573.7 168.7h1.35v1.35h-1.35zM575 169.6h1.35v1.35h-1.35zM560.7 173.4h1.35v1.35h-1.35zM554.7 174.1h1.35v1.35h-1.35zM568.9 174.1h1.35v1.35h-1.35zM574.2 169.7h1.35v1.35h-1.35zM571.6 171.7h1.35v1.35h-1.35zM578.6 172.9h1.35v1.35h-1.35zM571.2 174.1h1.35v1.35h-1.35zM561.6 174h1.35v1.35h-1.35zM572.7 172.9h1.35v1.35h-1.35zM571.5 173.2h1.35v1.35h-1.35zM578.3 171.3h1.35v1.35h-1.35zM561.9 173.9h1.35v1.35h-1.35zM577.7 173.5h1.35v1.35h-1.35zM577.2 168.8h1.35v1.35h-1.35zM578.2 170h1.35v1.35h-1.35zM575.4 157.6h1.35v1.35h-1.35zM576.5 161.8h1.35v1.35h-1.35z" fill="#8fbef0"/>
<path d="M589.2 173h1.35v1.35h-1.35zM582.2 161.5h1.35v1.35h-1.35zM580.8 171.6h1.35v1.35h-1.35zM580 171.3h1.35v1.35h-1.35zM601.4 174.2h1.35v1.35h-1.35zM580.3 170.6h1.35v1.35h-1.35zM580 167.8h1.35v1.35h-1.35zM580.3 166.7h1.35v1.35h-1.35zM585.2 167.9h1.35v1.35h-1.35zM581.8 171.2h1.35v1.35h-1.35zM580.6 169.7h1.35v1.35h-1.35zM580.7 168h1.35v1.35h-1.35zM582.3 169.2h1.35v1.35h-1.35zM583.6 170.2h1.35v1.35h-1.35zM580.1 167.5h1.35v1.35h-1.35zM580.7 170.1h1.35v1.35h-1.35zM581 173.1h1.35v1.35h-1.35zM579.3 171.7h1.35v1.35h-1.35zM580.8 162.8h1.35v1.35h-1.35zM601.3 174.4h1.35v1.35h-1.35zM580.1 169.6h1.35v1.35h-1.35zM604.6 174.2h1.35v1.35h-1.35zM580 168.4h1.35v1.35h-1.35zM585.4 171.7h1.35v1.35h-1.35zM582 165.8h1.35v1.35h-1.35zM580.4 167.9h1.35v1.35h-1.35zM600.6 174.1h1.35v1.35h-1.35zM585 170.7h1.35v1.35h-1.35zM581.3 171h1.35v1.35h-1.35zM579.2 172.8h1.35v1.35h-1.35zM581.8 162.2h1.35v1.35h-1.35zM580.6 171h1.35v1.35h-1.35zM584.7 171.9h1.35v1.35h-1.35zM581 169.5h1.35v1.35h-1.35zM583.8 173.2h1.35v1.35h-1.35zM582.5 167.5h1.35v1.35h-1.35zM584.2 173.8h1.35v1.35h-1.35zM582.2 174.2h1.35v1.35h-1.35zM583.8 169.6h1.35v1.35h-1.35zM582.6 172.9h1.35v1.35h-1.35zM580.1 170.9h1.35v1.35h-1.35zM580.2 165.5h1.35v1.35h-1.35zM582.7 172.4h1.35v1.35h-1.35zM583.3 169.3h1.35v1.35h-1.35zM579.7 172.9h1.35v1.35h-1.35zM582.1 161.9h1.35v1.35h-1.35zM581.5 164.3h1.35v1.35h-1.35zM593 174h1.35v1.35h-1.35zM581.7 173.7h1.35v1.35h-1.35zM582.4 172h1.35v1.35h-1.35zM582.8 169.5h1.35v1.35h-1.35zM580.7 170.3h1.35v1.35h-1.35zM582.9 167.6h1.35v1.35h-1.35zM579.3 172.7h1.35v1.35h-1.35zM586.5 172.9h1.35v1.35h-1.35zM604.3 174.4h1.35v1.35h-1.35zM585.5 174.4h1.35v1.35h-1.35zM602.9 174.2h1.35v1.35h-1.35zM579.2 174.2h1.35v1.35h-1.35zM585.4 172.3h1.35v1.35h-1.35zM579.8 172.7h1.35v1.35h-1.35zM595 174h1.35v1.35h-1.35zM579.8 171.1h1.35v1.35h-1.35zM589.1 173h1.35v1.35h-1.35zM582.4 169.6h1.35v1.35h-1.35zM581.4 173.4h1.35v1.35h-1.35zM580.3 167.4h1.35v1.35h-1.35zM580.2 170.7h1.35v1.35h-1.35zM582.5 169.9h1.35v1.35h-1.35zM580.8 167.5h1.35v1.35h-1.35zM581.7 170.4h1.35v1.35h-1.35zM579.7 169.9h1.35v1.35h-1.35zM597.1 173.7h1.35v1.35h-1.35zM582.2 161.9h1.35v1.35h-1.35zM596.2 174.3h1.35v1.35h-1.35zM586.5 172.5h1.35v1.35h-1.35zM583.9 171.1h1.35v1.35h-1.35zM580.1 171.9h1.35v1.35h-1.35zM585.8 173.3h1.35v1.35h-1.35zM579.8 171h1.35v1.35h-1.35zM595.1 172.9h1.35v1.35h-1.35zM579.4 174.2h1.35v1.35h-1.35zM580.5 170.1h1.35v1.35h-1.35zM586 174.3h1.35v1.35h-1.35zM583.3 166.7h1.35v1.35h-1.35zM586.9 173.5h1.35v1.35h-1.35zM582.8 167.8h1.35v1.35h-1.35zM580.4 173.6h1.35v1.35h-1.35zM585.7 174h1.35v1.35h-1.35zM580.3 169.9h1.35v1.35h-1.35zM581 173.5h1.35v1.35h-1.35zM581.4 173.8h1.35v1.35h-1.35zM579.7 167.7h1.35v1.35h-1.35zM579.5 170.2h1.35v1.35h-1.35zM582.8 169.4h1.35v1.35h-1.35zM579.5 174.3h1.35v1.35h-1.35zM585.5 173.4h1.35v1.35h-1.35zM580.7 169.7h1.35v1.35h-1.35zM595.7 174.3h1.35v1.35h-1.35zM588.2 173.8h1.35v1.35h-1.35zM582.8 171.2h1.35v1.35h-1.35zM599.7 173.3h1.35v1.35h-1.35zM582.7 169.9h1.35v1.35h-1.35zM581.9 172.9h1.35v1.35h-1.35zM581.3 173.1h1.35v1.35h-1.35zM579.9 168.6h1.35v1.35h-1.35zM582 166.6h1.35v1.35h-1.35zM581.3 167.5h1.35v1.35h-1.35zM579.3 174.4h1.35v1.35h-1.35zM582.5 172.7h1.35v1.35h-1.35zM581.6 169.1h1.35v1.35h-1.35zM580.4 168.4h1.35v1.35h-1.35zM579.7 169.1h1.35v1.35h-1.35zM579.9 171.6h1.35v1.35h-1.35zM580.1 168.1h1.35v1.35h-1.35zM581.3 170.4h1.35v1.35h-1.35zM584.3 173.6h1.35v1.35h-1.35zM589.7 174.1h1.35v1.35h-1.35zM588.1 173.1h1.35v1.35h-1.35zM580 172.5h1.35v1.35h-1.35zM581.5 172.3h1.35v1.35h-1.35zM579.5 170h1.35v1.35h-1.35zM594.8 173.6h1.35v1.35h-1.35zM580.1 168.2h1.35v1.35h-1.35zM579.9 166.8h1.35v1.35h-1.35zM582.6 171h1.35v1.35h-1.35zM580.1 169.9h1.35v1.35h-1.35zM580.9 170.8h1.35v1.35h-1.35zM599.6 173.2h1.35v1.35h-1.35zM585.8 173.4h1.35v1.35h-1.35zM582.8 149.2h1.35v1.35h-1.35zM581.7 156.4h1.35v1.35h-1.35zM581.5 158.8h1.35v1.35h-1.35z" fill="#f0979c"/>
</g>
<rect x="553.2" y="115.6" width="52.6" height="60" fill="none" stroke="#8a8a8a" stroke-width="0.8"/>
<line x1="553.2" y1="115.6" x2="553.2" y2="175.6" stroke="#555" stroke-width="0.8"/>
<line x1="553.2" y1="175.6" x2="605.8" y2="175.6" stroke="#555" stroke-width="0.8"/>
<line x1="551.6" y1="175.6" x2="553.2" y2="175.6" stroke="#555" stroke-width="0.6"/>
<line x1="551.6" y1="163.6" x2="553.2" y2="163.6" stroke="#555" stroke-width="0.6"/>
<line x1="551.6" y1="151.6" x2="553.2" y2="151.6" stroke="#555" stroke-width="0.6"/>
<line x1="551.6" y1="139.6" x2="553.2" y2="139.6" stroke="#555" stroke-width="0.6"/>
<line x1="551.6" y1="127.6" x2="553.2" y2="127.6" stroke="#555" stroke-width="0.6"/>
<line x1="551.6" y1="115.6" x2="553.2" y2="115.6" stroke="#555" stroke-width="0.6"/>
<line x1="553.2" y1="175.6" x2="553.2" y2="177.2" stroke="#555" stroke-width="0.6"/>
<text x="553.2" y="183.8" font-size="6.3" text-anchor="middle" font-weight="normal" fill="#222" stroke="#222" stroke-width="0.15">-10</text>
<line x1="566.4" y1="175.6" x2="566.4" y2="177.2" stroke="#555" stroke-width="0.6"/>
<text x="566.4" y="183.8" font-size="6.3" text-anchor="middle" font-weight="normal" fill="#222" stroke="#222" stroke-width="0.15">-5</text>
<line x1="579.5" y1="175.6" x2="579.5" y2="177.2" stroke="#555" stroke-width="0.6"/>
<text x="579.5" y="183.8" font-size="6.3" text-anchor="middle" font-weight="normal" fill="#222" stroke="#222" stroke-width="0.15">0</text>
<line x1="592.7" y1="175.6" x2="592.7" y2="177.2" stroke="#555" stroke-width="0.6"/>
<text x="592.7" y="183.8" font-size="6.3" text-anchor="middle" font-weight="normal" fill="#222" stroke="#222" stroke-width="0.15">5</text>
<line x1="605.8" y1="175.6" x2="605.8" y2="177.2" stroke="#555" stroke-width="0.6"/>
<text x="605.8" y="183.8" font-size="6.3" text-anchor="middle" font-weight="normal" fill="#222" stroke="#222" stroke-width="0.15">10</text>
<text x="555" y="124.3" font-size="7.2" text-anchor="start" font-weight="normal" fill="#8fbef0">1239</text>
<text x="604" y="124.3" font-size="7.2" text-anchor="end" font-weight="normal" fill="#f0979c">1009</text>
<g>
<line x1="653.5" y1="115.6" x2="653.5" y2="175.6" stroke="#c8c8c8" stroke-width="0.6"/>
<path d="M639.8 173.7h1.35v1.35h-1.35zM652.7 174.2h1.35v1.35h-1.35zM645 174.1h1.35v1.35h-1.35zM650.9 174.1h1.35v1.35h-1.35zM633.4 174.4h1.35v1.35h-1.35zM641.6 174.3h1.35v1.35h-1.35zM638.4 173.8h1.35v1.35h-1.35zM647.6 174.2h1.35v1.35h-1.35zM650.3 173.9h1.35v1.35h-1.35zM644.8 174.4h1.35v1.35h-1.35zM645.4 174.3h1.35v1.35h-1.35zM652.5 174.2h1.35v1.35h-1.35zM652.7 173.9h1.35v1.35h-1.35zM631.1 174.1h1.35v1.35h-1.35zM652.7 173.4h1.35v1.35h-1.35zM647.5 173.3h1.35v1.35h-1.35zM639.9 174.3h1.35v1.35h-1.35zM648.7 173.1h1.35v1.35h-1.35zM652.5 172.6h1.35v1.35h-1.35zM650.7 172.9h1.35v1.35h-1.35zM629.3 174h1.35v1.35h-1.35zM637.8 173.6h1.35v1.35h-1.35zM635.6 174.3h1.35v1.35h-1.35zM648.2 172.9h1.35v1.35h-1.35zM648.3 174.1h1.35v1.35h-1.35zM649.5 173.6h1.35v1.35h-1.35zM643.4 173h1.35v1.35h-1.35zM644.3 173.4h1.35v1.35h-1.35zM650.3 173.3h1.35v1.35h-1.35zM650.5 174h1.35v1.35h-1.35zM642.3 173.5h1.35v1.35h-1.35zM651.1 173.1h1.35v1.35h-1.35zM652 172.6h1.35v1.35h-1.35zM637.4 174.3h1.35v1.35h-1.35zM652.2 172.8h1.35v1.35h-1.35zM644.7 172.2h1.35v1.35h-1.35zM648.9 173.1h1.35v1.35h-1.35zM648 173h1.35v1.35h-1.35zM637.2 173.9h1.35v1.35h-1.35zM649.9 174.3h1.35v1.35h-1.35zM647.4 173h1.35v1.35h-1.35zM646.1 173.6h1.35v1.35h-1.35zM643.2 173.3h1.35v1.35h-1.35zM645 172h1.35v1.35h-1.35zM643.9 173.2h1.35v1.35h-1.35zM638.7 173.8h1.35v1.35h-1.35zM648.5 174.3h1.35v1.35h-1.35zM648.9 174.3h1.35v1.35h-1.35zM651.4 172.9h1.35v1.35h-1.35zM650.2 174.1h1.35v1.35h-1.35zM646.7 173.9h1.35v1.35h-1.35zM648.5 173.4h1.35v1.35h-1.35zM644.1 173.3h1.35v1.35h-1.35zM649.7 173.2h1.35v1.35h-1.35zM638.7 174.2h1.35v1.35h-1.35zM636.5 173.8h1.35v1.35h-1.35zM649.9 172.7h1.35v1.35h-1.35zM642.5 172.9h1.35v1.35h-1.35zM649.4 173.2h1.35v1.35h-1.35zM652.7 173.7h1.35v1.35h-1.35zM645.2 173h1.35v1.35h-1.35zM649.1 173.7h1.35v1.35h-1.35zM650.4 174h1.35v1.35h-1.35zM646.6 173.2h1.35v1.35h-1.35zM644.1 173.1h1.35v1.35h-1.35zM645.9 174.3h1.35v1.35h-1.35zM630 174.3h1.35v1.35h-1.35zM635 173.8h1.35v1.35h-1.35zM650.9 174.1h1.35v1.35h-1.35zM646.8 173.5h1.35v1.35h-1.35z" fill="#8fbef0"/>
<path d="M669.1 173.3h1.35v1.35h-1.35zM654.7 172.6h1.35v1.35h-1.35zM654.6 174h1.35v1.35h-1.35zM655.4 170.9h1.35v1.35h-1.35zM668.9 173.5h1.35v1.35h-1.35zM656.5 172.9h1.35v1.35h-1.35zM654.2 172.7h1.35v1.35h-1.35zM653.8 172h1.35v1.35h-1.35zM657.8 172.4h1.35v1.35h-1.35zM664.9 173.4h1.35v1.35h-1.35zM659.3 173.6h1.35v1.35h-1.35zM660.6 172.8h1.35v1.35h-1.35zM660.1 172.2h1.35v1.35h-1.35zM653.1 172.6h1.35v1.35h-1.35zM660.1 174.1h1.35v1.35h-1.35zM667.1 174.2h1.35v1.35h-1.35zM654 172.9h1.35v1.35h-1.35zM662.3 174.3h1.35v1.35h-1.35zM662.4 174.1h1.35v1.35h-1.35zM653.4 173.3h1.35v1.35h-1.35zM660.4 172.6h1.35v1.35h-1.35zM662.1 173.1h1.35v1.35h-1.35zM661.8 172.4h1.35v1.35h-1.35zM666.4 173.5h1.35v1.35h-1.35zM658.7 173.9h1.35v1.35h-1.35zM672.2 174.2h1.35v1.35h-1.35zM653 173.9h1.35v1.35h-1.35zM674 173.9h1.35v1.35h-1.35zM653.4 172.9h1.35v1.35h-1.35zM668.4 173.8h1.35v1.35h-1.35zM664.4 172.8h1.35v1.35h-1.35zM656 173.5h1.35v1.35h-1.35zM675.6 174h1.35v1.35h-1.35zM677.9 174.3h1.35v1.35h-1.35zM656.9 172.3h1.35v1.35h-1.35zM659.2 174.3h1.35v1.35h-1.35zM657.9 174h1.35v1.35h-1.35zM669.3 173.4h1.35v1.35h-1.35zM654.2 173.2h1.35v1.35h-1.35zM662.2 173.8h1.35v1.35h-1.35zM664.6 173.9h1.35v1.35h-1.35zM666.6 174.1h1.35v1.35h-1.35zM655.2 172.5h1.35v1.35h-1.35zM661.3 172.8h1.35v1.35h-1.35zM654.5 174.2h1.35v1.35h-1.35zM663.1 173.4h1.35v1.35h-1.35zM655.8 174.1h1.35v1.35h-1.35zM666.7 173.8h1.35v1.35h-1.35zM655.5 170h1.35v1.35h-1.35zM655.1 173.3h1.35v1.35h-1.35zM658.5 173.5h1.35v1.35h-1.35zM661.8 172.7h1.35v1.35h-1.35zM670.1 174.4h1.35v1.35h-1.35zM663.2 173.1h1.35v1.35h-1.35zM661.2 172.9h1.35v1.35h-1.35zM657 172.1h1.35v1.35h-1.35zM654.1 173.6h1.35v1.35h-1.35zM657.7 174.4h1.35v1.35h-1.35zM664.4 173.4h1.35v1.35h-1.35zM654.6 173.8h1.35v1.35h-1.35zM654.3 171.3h1.35v1.35h-1.35zM665.7 172.8h1.35v1.35h-1.35zM654.6 173.1h1.35v1.35h-1.35zM656.5 173.2h1.35v1.35h-1.35zM654.1 173.8h1.35v1.35h-1.35zM654.2 174.3h1.35v1.35h-1.35zM655 172.7h1.35v1.35h-1.35zM653.6 174.4h1.35v1.35h-1.35zM664.7 173.8h1.35v1.35h-1.35zM662.9 173h1.35v1.35h-1.35zM654.3 174.4h1.35v1.35h-1.35zM657.4 173.8h1.35v1.35h-1.35zM656 174.1h1.35v1.35h-1.35zM659.3 172.1h1.35v1.35h-1.35zM669.1 172.8h1.35v1.35h-1.35zM653.2 174.2h1.35v1.35h-1.35zM660.3 173.5h1.35v1.35h-1.35zM661.8 173.3h1.35v1.35h-1.35zM654.8 173.9h1.35v1.35h-1.35zM654.2 172.1h1.35v1.35h-1.35zM659.6 173.8h1.35v1.35h-1.35zM656.6 172.1h1.35v1.35h-1.35zM659 172.6h1.35v1.35h-1.35zM659 171.5h1.35v1.35h-1.35zM655 173.3h1.35v1.35h-1.35zM653.3 172.2h1.35v1.35h-1.35zM654.9 172h1.35v1.35h-1.35zM662.4 173.4h1.35v1.35h-1.35zM657 173.6h1.35v1.35h-1.35zM661.6 174.2h1.35v1.35h-1.35zM656 166h1.35v1.35h-1.35zM656.8 167.8h1.35v1.35h-1.35z" fill="#f0979c"/>
</g>
<rect x="627.2" y="115.6" width="52.6" height="60" fill="none" stroke="#8a8a8a" stroke-width="0.8"/>
<line x1="627.2" y1="115.6" x2="627.2" y2="175.6" stroke="#555" stroke-width="0.8"/>
<line x1="627.2" y1="175.6" x2="679.8" y2="175.6" stroke="#555" stroke-width="0.8"/>
<line x1="625.6" y1="175.6" x2="627.2" y2="175.6" stroke="#555" stroke-width="0.6"/>
<line x1="625.6" y1="163.6" x2="627.2" y2="163.6" stroke="#555" stroke-width="0.6"/>
<line x1="625.6" y1="151.6" x2="627.2" y2="151.6" stroke="#555" stroke-width="0.6"/>
<line x1="625.6" y1="139.6" x2="627.2" y2="139.6" stroke="#555" stroke-width="0.6"/>
<line x1="625.6" y1="127.6" x2="627.2" y2="127.6" stroke="#555" stroke-width="0.6"/>
<line x1="625.6" y1="115.6" x2="627.2" y2="115.6" stroke="#555" stroke-width="0.6"/>
<line x1="627.2" y1="175.6" x2="627.2" y2="177.2" stroke="#555" stroke-width="0.6"/>
<text x="627.2" y="183.8" font-size="6.3" text-anchor="middle" font-weight="normal" fill="#222" stroke="#222" stroke-width="0.15">-10</text>
<line x1="640.4" y1="175.6" x2="640.4" y2="177.2" stroke="#555" stroke-width="0.6"/>
<text x="640.4" y="183.8" font-size="6.3" text-anchor="middle" font-weight="normal" fill="#222" stroke="#222" stroke-width="0.15">-5</text>
<line x1="653.5" y1="175.6" x2="653.5" y2="177.2" stroke="#555" stroke-width="0.6"/>
<text x="653.5" y="183.8" font-size="6.3" text-anchor="middle" font-weight="normal" fill="#222" stroke="#222" stroke-width="0.15">0</text>
<line x1="666.7" y1="175.6" x2="666.7" y2="177.2" stroke="#555" stroke-width="0.6"/>
<text x="666.7" y="183.8" font-size="6.3" text-anchor="middle" font-weight="normal" fill="#222" stroke="#222" stroke-width="0.15">5</text>
<line x1="679.8" y1="175.6" x2="679.8" y2="177.2" stroke="#555" stroke-width="0.6"/>
<text x="679.8" y="183.8" font-size="6.3" text-anchor="middle" font-weight="normal" fill="#222" stroke="#222" stroke-width="0.15">10</text>
<text x="629" y="124.3" font-size="7.2" text-anchor="start" font-weight="normal" fill="#8fbef0">423</text>
<text x="678" y="124.3" font-size="7.2" text-anchor="end" font-weight="normal" fill="#f0979c">494</text>
<text transform="translate(388.6 144.6) rotate(-90)" x="0" y="2.2" font-size="6.2" text-anchor="middle" font-weight="normal" fill="#222" stroke="#222" stroke-width="0.15">-Log<tspan font-size="4.6" dy="1.5">10</tspan><tspan dy="-1.5">(</tspan><tspan font-style="italic">p</tspan> value)</text>
<g>
<line x1="432.5" y1="198.4" x2="432.5" y2="258.4" stroke="#c8c8c8" stroke-width="0.6"/>
<path d="M411.8 254.7h1.35v1.35h-1.35zM424.6 242h1.35v1.35h-1.35zM423.8 251.6h1.35v1.35h-1.35zM431.6 256h1.35v1.35h-1.35zM423.5 242.8h1.35v1.35h-1.35zM425.5 253.9h1.35v1.35h-1.35zM426.2 251h1.35v1.35h-1.35zM426.6 256.6h1.35v1.35h-1.35zM426.8 247.8h1.35v1.35h-1.35zM429.6 255.7h1.35v1.35h-1.35zM423.9 243.8h1.35v1.35h-1.35zM427.3 253.1h1.35v1.35h-1.35zM412.5 255.3h1.35v1.35h-1.35zM422.9 243.3h1.35v1.35h-1.35zM417.4 249h1.35v1.35h-1.35zM419.2 236.3h1.35v1.35h-1.35zM428.7 255.4h1.35v1.35h-1.35zM424.2 246.8h1.35v1.35h-1.35zM426.3 256.5h1.35v1.35h-1.35zM422.4 250.5h1.35v1.35h-1.35zM426.8 247h1.35v1.35h-1.35zM431.3 255.3h1.35v1.35h-1.35zM426.1 243.9h1.35v1.35h-1.35zM430.3 254.1h1.35v1.35h-1.35zM427.7 241.7h1.35v1.35h-1.35zM413.9 256.9h1.35v1.35h-1.35zM409.4 255.9h1.35v1.35h-1.35zM428.5 255.4h1.35v1.35h-1.35zM430.2 248.5h1.35v1.35h-1.35zM423 240.2h1.35v1.35h-1.35zM424.5 254.4h1.35v1.35h-1.35zM415.6 252.7h1.35v1.35h-1.35zM425.3 249.3h1.35v1.35h-1.35zM408.6 257.1h1.35v1.35h-1.35zM411.7 253.8h1.35v1.35h-1.35zM413.3 255.6h1.35v1.35h-1.35zM421.6 256.4h1.35v1.35h-1.35zM422.6 231.1h1.35v1.35h-1.35zM425.1 243.2h1.35v1.35h-1.35zM426.5 248.2h1.35v1.35h-1.35zM424.6 236.4h1.35v1.35h-1.35zM430.6 249.4h1.35v1.35h-1.35zM428.2 256.1h1.35v1.35h-1.35zM427.8 254.8h1.35v1.35h-1.35zM424.1 256.1h1.35v1.35h-1.35zM424.7 252.2h1.35v1.35h-1.35zM426.6 243.9h1.35v1.35h-1.35zM429.3 248.4h1.35v1.35h-1.35zM426.2 253.7h1.35v1.35h-1.35zM419.6 249.2h1.35v1.35h-1.35zM423.4 237.4h1.35v1.35h-1.35zM429 247.9h1.35v1.35h-1.35zM427.9 248.6h1.35v1.35h-1.35zM419.6 252.2h1.35v1.35h-1.35zM427.7 252.4h1.35v1.35h-1.35zM424.5 246.5h1.35v1.35h-1.35zM424.4 247.1h1.35v1.35h-1.35zM422.6 241.7h1.35v1.35h-1.35zM429.2 248.2h1.35v1.35h-1.35zM429.2 251.2h1.35v1.35h-1.35zM419.6 256h1.35v1.35h-1.35zM426.3 245.7h1.35v1.35h-1.35zM430.3 247.3h1.35v1.35h-1.35zM426.5 249.4h1.35v1.35h-1.35zM410.4 252.8h1.35v1.35h-1.35zM427.5 244.8h1.35v1.35h-1.35zM422 246.6h1.35v1.35h-1.35zM428.6 244.6h1.35v1.35h-1.35zM426 249h1.35v1.35h-1.35zM427.5 249.1h1.35v1.35h-1.35zM429.6 252.9h1.35v1.35h-1.35zM429.1 249.5h1.35v1.35h-1.35zM428.2 250.7h1.35v1.35h-1.35zM427.8 253h1.35v1.35h-1.35zM411.9 256.9h1.35v1.35h-1.35zM430.8 250.3h1.35v1.35h-1.35zM426.5 253.7h1.35v1.35h-1.35zM428.9 249.6h1.35v1.35h-1.35zM426.8 255.3h1.35v1.35h-1.35zM422.9 234.4h1.35v1.35h-1.35zM413.8 256.7h1.35v1.35h-1.35zM427.7 254.5h1.35v1.35h-1.35zM429 251.5h1.35v1.35h-1.35zM429.3 243h1.35v1.35h-1.35zM420.3 247.6h1.35v1.35h-1.35zM427.8 247.2h1.35v1.35h-1.35zM412.9 254.9h1.35v1.35h-1.35zM424.6 245.9h1.35v1.35h-1.35zM423.9 250.8h1.35v1.35h-1.35zM415.4 255.9h1.35v1.35h-1.35zM418.4 246.1h1.35v1.35h-1.35zM430.9 252.4h1.35v1.35h-1.35zM424.9 248.8h1.35v1.35h-1.35zM430.7 254.7h1.35v1.35h-1.35zM430.7 253.6h1.35v1.35h-1.35zM429.4 255.5h1.35v1.35h-1.35zM422.7 233.7h1.35v1.35h-1.35zM425.5 245h1.35v1.35h-1.35zM430 249.5h1.35v1.35h-1.35zM425.9 240.5h1.35v1.35h-1.35zM424.1 244.6h1.35v1.35h-1.35zM414.1 249.4h1.35v1.35h-1.35zM426.2 240.4h1.35v1.35h-1.35zM418.6 236.5h1.35v1.35h-1.35zM423.6 256.8h1.35v1.35h-1.35zM420.6 229.4h1.35v1.35h-1.35zM425.4 253.7h1.35v1.35h-1.35zM430.6 253.9h1.35v1.35h-1.35zM420.5 242h1.35v1.35h-1.35zM429.4 248.5h1.35v1.35h-1.35zM429.3 245.5h1.35v1.35h-1.35zM429.2 245.2h1.35v1.35h-1.35zM416.3 257.1h1.35v1.35h-1.35zM422.4 250.5h1.35v1.35h-1.35zM429.3 256h1.35v1.35h-1.35zM425.8 244.9h1.35v1.35h-1.35zM431.7 256.8h1.35v1.35h-1.35zM411.7 255.5h1.35v1.35h-1.35zM423.5 240.8h1.35v1.35h-1.35zM423.7 251.5h1.35v1.35h-1.35zM430.7 249.8h1.35v1.35h-1.35zM427.6 252.1h1.35v1.35h-1.35zM431.6 256h1.35v1.35h-1.35zM423.1 245.6h1.35v1.35h-1.35zM413.2 256.3h1.35v1.35h-1.35zM427.1 253.4h1.35v1.35h-1.35zM425.8 239.8h1.35v1.35h-1.35zM424.1 243.2h1.35v1.35h-1.35zM426 254.4h1.35v1.35h-1.35zM419.9 251h1.35v1.35h-1.35zM410.8 254.4h1.35v1.35h-1.35zM427.1 247h1.35v1.35h-1.35zM428 253h1.35v1.35h-1.35zM429 243.5h1.35v1.35h-1.35zM421.7 235.6h1.35v1.35h-1.35zM420.3 255.1h1.35v1.35h-1.35zM424.6 254.4h1.35v1.35h-1.35zM422.3 245.1h1.35v1.35h-1.35zM425.1 252.8h1.35v1.35h-1.35zM426.5 253.9h1.35v1.35h-1.35zM428.6 252h1.35v1.35h-1.35zM417.5 257h1.35v1.35h-1.35zM410.9 255.8h1.35v1.35h-1.35zM428.6 246.8h1.35v1.35h-1.35zM424.9 236.9h1.35v1.35h-1.35zM427.4 252.8h1.35v1.35h-1.35zM424.2 243.8h1.35v1.35h-1.35zM418.4 253.1h1.35v1.35h-1.35zM426 251.7h1.35v1.35h-1.35zM417.3 241.4h1.35v1.35h-1.35zM428.3 251.5h1.35v1.35h-1.35zM413.4 255.3h1.35v1.35h-1.35zM425.8 252.7h1.35v1.35h-1.35zM425.4 246.6h1.35v1.35h-1.35zM431.7 256.8h1.35v1.35h-1.35zM430.8 256.8h1.35v1.35h-1.35zM428.3 250.9h1.35v1.35h-1.35zM427 246h1.35v1.35h-1.35zM424.6 244.5h1.35v1.35h-1.35zM414.5 249.2h1.35v1.35h-1.35zM430.7 251.3h1.35v1.35h-1.35zM426.1 256.8h1.35v1.35h-1.35zM426.1 256.7h1.35v1.35h-1.35zM420.9 256.1h1.35v1.35h-1.35zM411.5 256.3h1.35v1.35h-1.35zM410.8 256.3h1.35v1.35h-1.35zM423 230.1h1.35v1.35h-1.35zM426.2 250.5h1.35v1.35h-1.35zM429.6 250.6h1.35v1.35h-1.35zM428.4 252.2h1.35v1.35h-1.35zM429.2 248.8h1.35v1.35h-1.35zM420.3 252.5h1.35v1.35h-1.35zM428.8 244.1h1.35v1.35h-1.35zM413.9 255.8h1.35v1.35h-1.35zM427 244.8h1.35v1.35h-1.35zM428.9 252.5h1.35v1.35h-1.35zM423.9 256h1.35v1.35h-1.35zM425.8 246.9h1.35v1.35h-1.35zM414.5 253h1.35v1.35h-1.35zM420.9 254.9h1.35v1.35h-1.35zM424.3 251h1.35v1.35h-1.35zM414.4 255h1.35v1.35h-1.35zM430.9 254.3h1.35v1.35h-1.35zM414.2 254.4h1.35v1.35h-1.35zM410.6 252.8h1.35v1.35h-1.35zM425.6 252.3h1.35v1.35h-1.35zM425.4 248.3h1.35v1.35h-1.35zM417.2 242.4h1.35v1.35h-1.35zM428.5 254.7h1.35v1.35h-1.35zM430.7 255.2h1.35v1.35h-1.35zM423.6 247.2h1.35v1.35h-1.35zM422.6 243.2h1.35v1.35h-1.35zM423.3 240.1h1.35v1.35h-1.35zM426.1 256.9h1.35v1.35h-1.35zM423.2 248.2h1.35v1.35h-1.35zM428.3 245.2h1.35v1.35h-1.35zM420.9 243h1.35v1.35h-1.35zM430.6 248.9h1.35v1.35h-1.35zM425.1 253.7h1.35v1.35h-1.35zM428.4 251.8h1.35v1.35h-1.35zM416.1 251.7h1.35v1.35h-1.35zM425.4 241.1h1.35v1.35h-1.35zM430.6 254.2h1.35v1.35h-1.35zM425.7 245.7h1.35v1.35h-1.35zM426.8 251.5h1.35v1.35h-1.35zM425.9 244h1.35v1.35h-1.35zM421.1 241.2h1.35v1.35h-1.35zM416.5 254.9h1.35v1.35h-1.35zM421.2 256.5h1.35v1.35h-1.35zM417.6 241.7h1.35v1.35h-1.35zM428.5 245.9h1.35v1.35h-1.35zM426 248.9h1.35v1.35h-1.35zM428.4 255.6h1.35v1.35h-1.35zM412.9 255.8h1.35v1.35h-1.35zM430 246.6h1.35v1.35h-1.35zM420.2 240.7h1.35v1.35h-1.35zM424.8 246.7h1.35v1.35h-1.35zM422.4 251h1.35v1.35h-1.35zM409.2 256.2h1.35v1.35h-1.35zM409.2 255h1.35v1.35h-1.35zM427.4 249.9h1.35v1.35h-1.35zM427.1 248.1h1.35v1.35h-1.35zM413.1 256.3h1.35v1.35h-1.35zM409.1 253.3h1.35v1.35h-1.35zM423.6 250.5h1.35v1.35h-1.35zM419.5 248.4h1.35v1.35h-1.35zM413.5 257.2h1.35v1.35h-1.35zM430.9 250.8h1.35v1.35h-1.35zM431.6 255.5h1.35v1.35h-1.35zM427.2 248.3h1.35v1.35h-1.35zM421.9 244.5h1.35v1.35h-1.35zM426.3 253.9h1.35v1.35h-1.35zM425.8 243.3h1.35v1.35h-1.35zM428.1 246.1h1.35v1.35h-1.35zM417.7 254.8h1.35v1.35h-1.35zM427.1 248h1.35v1.35h-1.35zM415.9 256.7h1.35v1.35h-1.35zM425.2 243.2h1.35v1.35h-1.35zM426.9 247h1.35v1.35h-1.35zM430.1 255.3h1.35v1.35h-1.35zM422.2 238h1.35v1.35h-1.35zM429.9 251.9h1.35v1.35h-1.35zM412.9 256.1h1.35v1.35h-1.35zM408.6 256.2h1.35v1.35h-1.35zM427.4 245.3h1.35v1.35h-1.35zM423.3 243.1h1.35v1.35h-1.35zM427.5 254.4h1.35v1.35h-1.35zM428.7 247.4h1.35v1.35h-1.35zM426 242.9h1.35v1.35h-1.35zM417 250.5h1.35v1.35h-1.35zM428.2 255.4h1.35v1.35h-1.35zM420.3 244.3h1.35v1.35h-1.35zM422.6 252.3h1.35v1.35h-1.35zM430.6 251h1.35v1.35h-1.35zM423.8 245.2h1.35v1.35h-1.35zM426 248.8h1.35v1.35h-1.35zM417 253.5h1.35v1.35h-1.35zM428.9 244.9h1.35v1.35h-1.35zM424.4 247.7h1.35v1.35h-1.35zM415.4 253.6h1.35v1.35h-1.35zM426.1 247.1h1.35v1.35h-1.35zM413.3 254.3h1.35v1.35h-1.35zM427.8 256.5h1.35v1.35h-1.35zM429.9 254.8h1.35v1.35h-1.35zM425.1 251.8h1.35v1.35h-1.35zM419.5 250.9h1.35v1.35h-1.35zM429.9 253.9h1.35v1.35h-1.35zM424.2 250h1.35v1.35h-1.35zM426.7 241.2h1.35v1.35h-1.35zM424.2 236.9h1.35v1.35h-1.35zM425.4 245.2h1.35v1.35h-1.35zM429.4 250.8h1.35v1.35h-1.35zM423 253.6h1.35v1.35h-1.35zM423.2 250.8h1.35v1.35h-1.35zM426.4 249.2h1.35v1.35h-1.35zM430.5 253.1h1.35v1.35h-1.35zM409.1 255.7h1.35v1.35h-1.35zM424.6 239.3h1.35v1.35h-1.35zM423.2 244.9h1.35v1.35h-1.35zM408.6 256.9h1.35v1.35h-1.35zM419.2 245.2h1.35v1.35h-1.35zM421 240.2h1.35v1.35h-1.35zM427.9 245.8h1.35v1.35h-1.35zM421.2 230.6h1.35v1.35h-1.35zM411.3 254.4h1.35v1.35h-1.35zM429.3 252h1.35v1.35h-1.35zM409.3 257.2h1.35v1.35h-1.35zM423.2 250.7h1.35v1.35h-1.35zM431.2 253.4h1.35v1.35h-1.35zM424.8 254.2h1.35v1.35h-1.35zM423.3 241.1h1.35v1.35h-1.35zM420.6 250.2h1.35v1.35h-1.35zM431.6 255.9h1.35v1.35h-1.35zM431.7 256.4h1.35v1.35h-1.35zM424.9 257.2h1.35v1.35h-1.35zM423.3 231.8h1.35v1.35h-1.35zM423.5 250.8h1.35v1.35h-1.35zM427.9 253.7h1.35v1.35h-1.35zM424.3 246.4h1.35v1.35h-1.35zM419.9 243.8h1.35v1.35h-1.35zM408.9 255.2h1.35v1.35h-1.35zM431.7 256.2h1.35v1.35h-1.35zM414.1 254.6h1.35v1.35h-1.35zM421.8 249.9h1.35v1.35h-1.35zM429 255.4h1.35v1.35h-1.35zM428.1 253.4h1.35v1.35h-1.35zM423.4 241.9h1.35v1.35h-1.35zM428.3 252.8h1.35v1.35h-1.35zM412.6 256.3h1.35v1.35h-1.35zM426.7 252.8h1.35v1.35h-1.35zM412.6 251.4h1.35v1.35h-1.35zM421 255.6h1.35v1.35h-1.35zM421.4 249h1.35v1.35h-1.35zM427.6 250.2h1.35v1.35h-1.35zM409.2 256.1h1.35v1.35h-1.35zM417.1 250.5h1.35v1.35h-1.35zM424.3 242.3h1.35v1.35h-1.35zM427.8 246.2h1.35v1.35h-1.35zM416.8 247.6h1.35v1.35h-1.35zM421.4 234.5h1.35v1.35h-1.35zM424 254.9h1.35v1.35h-1.35zM423.8 242.3h1.35v1.35h-1.35zM413.2 256.3h1.35v1.35h-1.35zM424.2 253.6h1.35v1.35h-1.35zM414 255.2h1.35v1.35h-1.35zM420 239.6h1.35v1.35h-1.35zM428.4 256.9h1.35v1.35h-1.35zM424.2 242.8h1.35v1.35h-1.35zM426.8 255.8h1.35v1.35h-1.35zM421.4 241.7h1.35v1.35h-1.35zM416.5 255.3h1.35v1.35h-1.35zM416.1 256.1h1.35v1.35h-1.35zM425.5 252.5h1.35v1.35h-1.35zM430.7 253.1h1.35v1.35h-1.35zM427 253.8h1.35v1.35h-1.35zM421.1 247.6h1.35v1.35h-1.35zM419 255.7h1.35v1.35h-1.35zM426.5 248.8h1.35v1.35h-1.35zM428.3 250h1.35v1.35h-1.35zM412.1 253.9h1.35v1.35h-1.35zM426.5 253.3h1.35v1.35h-1.35zM429.6 255.9h1.35v1.35h-1.35zM426.8 256.8h1.35v1.35h-1.35zM424.1 242.9h1.35v1.35h-1.35zM429 255.8h1.35v1.35h-1.35zM431.3 256.5h1.35v1.35h-1.35zM418 251.8h1.35v1.35h-1.35zM419.4 255h1.35v1.35h-1.35zM413.4 254.8h1.35v1.35h-1.35zM421.5 252.7h1.35v1.35h-1.35zM427.2 246.8h1.35v1.35h-1.35zM423.8 241.4h1.35v1.35h-1.35zM423.7 252.2h1.35v1.35h-1.35zM417.5 257h1.35v1.35h-1.35zM420.8 253.9h1.35v1.35h-1.35zM421.7 245.7h1.35v1.35h-1.35zM427.6 253.4h1.35v1.35h-1.35zM414 254.4h1.35v1.35h-1.35zM411.4 255.1h1.35v1.35h-1.35zM430.7 250h1.35v1.35h-1.35zM424.6 247.4h1.35v1.35h-1.35zM423.3 250h1.35v1.35h-1.35zM430.2 251.9h1.35v1.35h-1.35zM410.3 254.6h1.35v1.35h-1.35zM413.8 253.9h1.35v1.35h-1.35zM423.7 247.4h1.35v1.35h-1.35zM420.9 242.2h1.35v1.35h-1.35zM426.5 247.5h1.35v1.35h-1.35zM427.6 251.3h1.35v1.35h-1.35zM426.8 246.2h1.35v1.35h-1.35zM427.2 252.8h1.35v1.35h-1.35zM409 255.5h1.35v1.35h-1.35zM420.6 248h1.35v1.35h-1.35zM429.3 252.7h1.35v1.35h-1.35zM428.3 246.9h1.35v1.35h-1.35zM427.2 249h1.35v1.35h-1.35zM427.3 249.6h1.35v1.35h-1.35zM420.1 256.2h1.35v1.35h-1.35zM410.3 255.8h1.35v1.35h-1.35zM423.7 238h1.35v1.35h-1.35zM424 241.6h1.35v1.35h-1.35zM428.9 248.9h1.35v1.35h-1.35zM426.6 250.7h1.35v1.35h-1.35zM428.3 255.4h1.35v1.35h-1.35zM426.4 253.5h1.35v1.35h-1.35zM420.4 252h1.35v1.35h-1.35zM426.6 242.6h1.35v1.35h-1.35zM408.3 255.8h1.35v1.35h-1.35zM425.6 250.8h1.35v1.35h-1.35zM425.8 255.9h1.35v1.35h-1.35zM422.4 253h1.35v1.35h-1.35zM423.7 245.3h1.35v1.35h-1.35zM416.8 257h1.35v1.35h-1.35zM424.8 242.5h1.35v1.35h-1.35zM420 239.5h1.35v1.35h-1.35zM422.7 247.8h1.35v1.35h-1.35zM410.5 252.4h1.35v1.35h-1.35zM425.8 254.8h1.35v1.35h-1.35zM429.3 256.2h1.35v1.35h-1.35zM427.6 247.7h1.35v1.35h-1.35zM424 238.8h1.35v1.35h-1.35zM424.4 247.6h1.35v1.35h-1.35zM430.6 250.5h1.35v1.35h-1.35zM415.9 253.7h1.35v1.35h-1.35zM418.9 255.7h1.35v1.35h-1.35zM429.7 256h1.35v1.35h-1.35zM426.9 254.3h1.35v1.35h-1.35zM429.2 255.6h1.35v1.35h-1.35zM426.2 245.8h1.35v1.35h-1.35zM409.8 256.1h1.35v1.35h-1.35zM428 249h1.35v1.35h-1.35zM431.1 252.2h1.35v1.35h-1.35zM420.6 244.2h1.35v1.35h-1.35zM425.7 244.3h1.35v1.35h-1.35zM424.9 249.9h1.35v1.35h-1.35zM410.9 256.5h1.35v1.35h-1.35zM421.7 249.5h1.35v1.35h-1.35zM422.8 249.7h1.35v1.35h-1.35zM421.3 229h1.35v1.35h-1.35zM426.8 247h1.35v1.35h-1.35zM420.7 243.6h1.35v1.35h-1.35zM411.9 254.4h1.35v1.35h-1.35zM424.7 252.4h1.35v1.35h-1.35zM409.1 257h1.35v1.35h-1.35zM408.9 254.5h1.35v1.35h-1.35zM431 253.9h1.35v1.35h-1.35zM423.9 252.3h1.35v1.35h-1.35zM417.8 252.7h1.35v1.35h-1.35zM424.2 246.8h1.35v1.35h-1.35zM427.9 243.1h1.35v1.35h-1.35zM425.4 242.5h1.35v1.35h-1.35zM428.5 255.9h1.35v1.35h-1.35zM413.2 252.1h1.35v1.35h-1.35zM430.3 255.5h1.35v1.35h-1.35zM414.4 254.9h1.35v1.35h-1.35zM420.6 254.6h1.35v1.35h-1.35zM416.6 252.9h1.35v1.35h-1.35zM425.7 256.1h1.35v1.35h-1.35zM428.5 247.4h1.35v1.35h-1.35zM428.4 252.3h1.35v1.35h-1.35zM414 253.7h1.35v1.35h-1.35zM429.1 255.3h1.35v1.35h-1.35zM428.8 247.1h1.35v1.35h-1.35zM423 250h1.35v1.35h-1.35zM417.1 254.6h1.35v1.35h-1.35zM424.6 254.4h1.35v1.35h-1.35zM428 241.9h1.35v1.35h-1.35zM427 245.2h1.35v1.35h-1.35zM430.9 255.1h1.35v1.35h-1.35zM429.6 249.5h1.35v1.35h-1.35zM424.3 243.4h1.35v1.35h-1.35zM425 240.6h1.35v1.35h-1.35zM431.7 256.2h1.35v1.35h-1.35zM430.9 250.8h1.35v1.35h-1.35zM427.3 255.7h1.35v1.35h-1.35zM410.3 257.2h1.35v1.35h-1.35zM425.9 247.1h1.35v1.35h-1.35zM426.2 255h1.35v1.35h-1.35zM425.5 245.7h1.35v1.35h-1.35zM426.9 243.6h1.35v1.35h-1.35zM419.5 239.6h1.35v1.35h-1.35zM414.8 252.9h1.35v1.35h-1.35zM420.9 256.7h1.35v1.35h-1.35zM424.5 245.9h1.35v1.35h-1.35zM428.3 250.9h1.35v1.35h-1.35zM411.4 256.8h1.35v1.35h-1.35zM424.6 254.7h1.35v1.35h-1.35zM422.9 238.2h1.35v1.35h-1.35zM428.5 246.6h1.35v1.35h-1.35zM429.1 250.8h1.35v1.35h-1.35zM428.1 252.6h1.35v1.35h-1.35zM423.7 245.1h1.35v1.35h-1.35zM419.2 252.7h1.35v1.35h-1.35zM431.1 252.7h1.35v1.35h-1.35zM427.4 254.6h1.35v1.35h-1.35zM424.7 250.3h1.35v1.35h-1.35zM430.8 250.7h1.35v1.35h-1.35zM427.4 250.3h1.35v1.35h-1.35zM424.9 249.4h1.35v1.35h-1.35zM415.8 256h1.35v1.35h-1.35zM427.6 250.9h1.35v1.35h-1.35zM431.2 256.7h1.35v1.35h-1.35zM414.9 253.6h1.35v1.35h-1.35zM431.4 254.6h1.35v1.35h-1.35zM425.7 244.1h1.35v1.35h-1.35zM431.7 256.3h1.35v1.35h-1.35zM419.2 254.9h1.35v1.35h-1.35zM418.2 251.8h1.35v1.35h-1.35zM422.6 248.5h1.35v1.35h-1.35zM428.8 255.9h1.35v1.35h-1.35zM425.9 252.6h1.35v1.35h-1.35zM428.9 256.8h1.35v1.35h-1.35zM427.7 249.5h1.35v1.35h-1.35zM427.2 253.1h1.35v1.35h-1.35zM421.3 246h1.35v1.35h-1.35zM427.1 249.4h1.35v1.35h-1.35zM409.5 255.2h1.35v1.35h-1.35zM431.2 253.2h1.35v1.35h-1.35zM430.2 255.5h1.35v1.35h-1.35zM423.5 246.4h1.35v1.35h-1.35zM412.5 255.5h1.35v1.35h-1.35zM427.5 251.7h1.35v1.35h-1.35zM431.3 253.9h1.35v1.35h-1.35zM411.8 255.7h1.35v1.35h-1.35zM422.5 246.7h1.35v1.35h-1.35zM430.5 248.7h1.35v1.35h-1.35zM429 249.7h1.35v1.35h-1.35zM421.6 252.5h1.35v1.35h-1.35zM426 242.6h1.35v1.35h-1.35zM427.5 254.9h1.35v1.35h-1.35zM429.9 250h1.35v1.35h-1.35zM422.1 250.2h1.35v1.35h-1.35zM413.8 254h1.35v1.35h-1.35zM431.1 252.1h1.35v1.35h-1.35zM426 246.9h1.35v1.35h-1.35zM422.2 255.2h1.35v1.35h-1.35zM429.3 251.2h1.35v1.35h-1.35zM430.2 246.8h1.35v1.35h-1.35zM420.3 248.9h1.35v1.35h-1.35zM422.4 238.8h1.35v1.35h-1.35zM423.8 251.6h1.35v1.35h-1.35zM427.2 255.4h1.35v1.35h-1.35zM423.7 238.8h1.35v1.35h-1.35zM424.9 252.9h1.35v1.35h-1.35zM426.3 246.4h1.35v1.35h-1.35zM426 252.9h1.35v1.35h-1.35zM424.1 243.7h1.35v1.35h-1.35zM411.9 253.8h1.35v1.35h-1.35zM424.7 246.3h1.35v1.35h-1.35zM427.6 250.2h1.35v1.35h-1.35zM428.6 254.5h1.35v1.35h-1.35zM408.2 257.2h1.35v1.35h-1.35zM424.2 240.9h1.35v1.35h-1.35zM417.7 256.8h1.35v1.35h-1.35zM420.7 252.8h1.35v1.35h-1.35zM423.2 251.5h1.35v1.35h-1.35zM411 252.4h1.35v1.35h-1.35zM431.5 254.9h1.35v1.35h-1.35zM422.1 254.5h1.35v1.35h-1.35zM427.1 245.1h1.35v1.35h-1.35zM425 252h1.35v1.35h-1.35zM424.7 241.9h1.35v1.35h-1.35zM426.3 247.8h1.35v1.35h-1.35zM422.1 237.4h1.35v1.35h-1.35zM428.5 249.3h1.35v1.35h-1.35zM426.2 248.4h1.35v1.35h-1.35zM421.8 253.7h1.35v1.35h-1.35zM427.7 251.6h1.35v1.35h-1.35zM425.6 254.6h1.35v1.35h-1.35zM418.8 245.4h1.35v1.35h-1.35zM420.2 241.7h1.35v1.35h-1.35zM427.2 254.8h1.35v1.35h-1.35zM424.7 242.9h1.35v1.35h-1.35zM425.7 238.3h1.35v1.35h-1.35zM429.1 247.5h1.35v1.35h-1.35zM428.2 245h1.35v1.35h-1.35zM428.1 253h1.35v1.35h-1.35zM430.7 251.4h1.35v1.35h-1.35zM429.8 253.6h1.35v1.35h-1.35zM428.2 253.5h1.35v1.35h-1.35zM417.2 254.9h1.35v1.35h-1.35zM428.8 249.4h1.35v1.35h-1.35zM431.2 256.2h1.35v1.35h-1.35zM411.5 254.6h1.35v1.35h-1.35zM428 252.1h1.35v1.35h-1.35zM412.1 256.6h1.35v1.35h-1.35zM425.7 254.9h1.35v1.35h-1.35zM414.7 254.6h1.35v1.35h-1.35zM424.5 246.7h1.35v1.35h-1.35zM425.8 235h1.35v1.35h-1.35zM424.8 245.5h1.35v1.35h-1.35zM415.6 246.9h1.35v1.35h-1.35zM424 246.4h1.35v1.35h-1.35zM423.1 252.9h1.35v1.35h-1.35zM426.9 248.7h1.35v1.35h-1.35zM426.5 250.5h1.35v1.35h-1.35zM425.4 256.6h1.35v1.35h-1.35zM411.8 256.4h1.35v1.35h-1.35zM426.7 249.2h1.35v1.35h-1.35zM426.3 253h1.35v1.35h-1.35zM424.6 254.6h1.35v1.35h-1.35zM426.6 244.1h1.35v1.35h-1.35zM429.6 252.8h1.35v1.35h-1.35zM417.1 250.6h1.35v1.35h-1.35zM419.2 250.4h1.35v1.35h-1.35zM408.3 254.8h1.35v1.35h-1.35zM409.8 254.8h1.35v1.35h-1.35zM427.7 246.2h1.35v1.35h-1.35zM426.1 253h1.35v1.35h-1.35zM428.9 254.2h1.35v1.35h-1.35zM428.1 246.4h1.35v1.35h-1.35zM411.7 256.2h1.35v1.35h-1.35zM413.7 253.9h1.35v1.35h-1.35zM421.5 253.4h1.35v1.35h-1.35zM421.1 229.4h1.35v1.35h-1.35zM422.6 252.2h1.35v1.35h-1.35zM425.4 241.7h1.35v1.35h-1.35zM417.6 245.4h1.35v1.35h-1.35zM419.5 247.6h1.35v1.35h-1.35zM421.6 251.2h1.35v1.35h-1.35zM423 246.2h1.35v1.35h-1.35zM409.5 255h1.35v1.35h-1.35zM422.9 234.5h1.35v1.35h-1.35zM425.4 252.8h1.35v1.35h-1.35zM418.9 257h1.35v1.35h-1.35zM413.7 255.7h1.35v1.35h-1.35zM423.3 249.5h1.35v1.35h-1.35zM424.4 243h1.35v1.35h-1.35zM420 253.8h1.35v1.35h-1.35zM424.9 251.9h1.35v1.35h-1.35zM423.6 242.8h1.35v1.35h-1.35zM424 247.3h1.35v1.35h-1.35zM408.1 256.4h1.35v1.35h-1.35zM424.1 247.8h1.35v1.35h-1.35zM424.4 237.9h1.35v1.35h-1.35zM428.1 253h1.35v1.35h-1.35zM414.4 254.1h1.35v1.35h-1.35zM421.5 251.5h1.35v1.35h-1.35zM427.6 249.9h1.35v1.35h-1.35zM421.7 237.1h1.35v1.35h-1.35zM424.1 250.2h1.35v1.35h-1.35zM426.5 246h1.35v1.35h-1.35zM418.6 248.7h1.35v1.35h-1.35zM429 252.7h1.35v1.35h-1.35zM423.1 252.4h1.35v1.35h-1.35zM429.2 253.3h1.35v1.35h-1.35zM428.6 256.5h1.35v1.35h-1.35zM429.2 250.3h1.35v1.35h-1.35zM412.7 254h1.35v1.35h-1.35zM419.1 251.9h1.35v1.35h-1.35zM422.4 256.8h1.35v1.35h-1.35zM422.1 254.5h1.35v1.35h-1.35zM431.7 256.1h1.35v1.35h-1.35zM422.8 253h1.35v1.35h-1.35zM427.8 257h1.35v1.35h-1.35zM426.6 244.9h1.35v1.35h-1.35zM426.5 256.3h1.35v1.35h-1.35zM430.8 250.5h1.35v1.35h-1.35zM425.9 239.3h1.35v1.35h-1.35zM421.8 244.4h1.35v1.35h-1.35zM424.7 236.8h1.35v1.35h-1.35zM427.5 246.9h1.35v1.35h-1.35zM429.3 250.5h1.35v1.35h-1.35zM409.1 253.8h1.35v1.35h-1.35zM420 252h1.35v1.35h-1.35zM424.1 247.6h1.35v1.35h-1.35zM421.8 253.2h1.35v1.35h-1.35zM429.3 252.3h1.35v1.35h-1.35zM420.3 242.5h1.35v1.35h-1.35zM425.3 245.1h1.35v1.35h-1.35zM425.7 256.5h1.35v1.35h-1.35zM422 250.5h1.35v1.35h-1.35zM419.1 246.6h1.35v1.35h-1.35zM416.7 254.6h1.35v1.35h-1.35zM430.6 249.2h1.35v1.35h-1.35zM428.4 254h1.35v1.35h-1.35zM425.3 243.5h1.35v1.35h-1.35zM423.7 244.9h1.35v1.35h-1.35zM411.4 257.2h1.35v1.35h-1.35zM426.1 257.1h1.35v1.35h-1.35zM414.2 255.3h1.35v1.35h-1.35zM431 251.7h1.35v1.35h-1.35zM424.7 252.1h1.35v1.35h-1.35zM426.7 247.1h1.35v1.35h-1.35zM426.7 253.6h1.35v1.35h-1.35zM427.3 245.8h1.35v1.35h-1.35zM424.1 238.7h1.35v1.35h-1.35zM423.5 241.1h1.35v1.35h-1.35zM410.4 255h1.35v1.35h-1.35zM428.8 247.3h1.35v1.35h-1.35zM425.1 257h1.35v1.35h-1.35zM426 252.7h1.35v1.35h-1.35zM427.9 246.5h1.35v1.35h-1.35zM424.7 238.8h1.35v1.35h-1.35zM422.7 255h1.35v1.35h-1.35zM431.1 252.3h1.35v1.35h-1.35zM411.4 255h1.35v1.35h-1.35zM427.3 250.4h1.35v1.35h-1.35zM415.3 251.5h1.35v1.35h-1.35zM417.4 254.1h1.35v1.35h-1.35zM425.3 242.6h1.35v1.35h-1.35zM424.4 242.3h1.35v1.35h-1.35zM425.4 242.3h1.35v1.35h-1.35zM430.3 251.5h1.35v1.35h-1.35zM431.4 254.1h1.35v1.35h-1.35zM423.9 256.3h1.35v1.35h-1.35zM420.9 230.7h1.35v1.35h-1.35zM421 250.6h1.35v1.35h-1.35zM427.5 251.7h1.35v1.35h-1.35zM419.5 256.5h1.35v1.35h-1.35zM423 256.7h1.35v1.35h-1.35zM423.1 242.8h1.35v1.35h-1.35zM427.3 247.4h1.35v1.35h-1.35zM430.8 250.3h1.35v1.35h-1.35zM427.1 251.4h1.35v1.35h-1.35zM423.4 252.5h1.35v1.35h-1.35zM427.7 247.6h1.35v1.35h-1.35zM431.3 253.4h1.35v1.35h-1.35zM421.7 250.3h1.35v1.35h-1.35zM424 249.6h1.35v1.35h-1.35zM421.3 211.6h1.35v1.35h-1.35zM427.1 209.8h1.35v1.35h-1.35zM418.9 218.8h1.35v1.35h-1.35zM419.2 220h1.35v1.35h-1.35zM425.8 218.8h1.35v1.35h-1.35zM420.3 228.4h1.35v1.35h-1.35zM421.8 230.2h1.35v1.35h-1.35z" fill="#8fbef0"/>
<path d="M434.2 252.8h1.35v1.35h-1.35zM433.1 251.3h1.35v1.35h-1.35zM439.9 256.1h1.35v1.35h-1.35zM433.4 248.1h1.35v1.35h-1.35zM438.8 255h1.35v1.35h-1.35zM434.4 248.1h1.35v1.35h-1.35zM436.2 239.3h1.35v1.35h-1.35zM434.3 241.5h1.35v1.35h-1.35zM452 255.8h1.35v1.35h-1.35zM436.9 249.7h1.35v1.35h-1.35zM437.6 240.9h1.35v1.35h-1.35zM439.5 256.8h1.35v1.35h-1.35zM435.9 249.6h1.35v1.35h-1.35zM436.7 248.4h1.35v1.35h-1.35zM433.7 254.4h1.35v1.35h-1.35zM441.4 255.7h1.35v1.35h-1.35zM434.9 239.8h1.35v1.35h-1.35zM437.1 256.4h1.35v1.35h-1.35zM435.4 251.6h1.35v1.35h-1.35zM438 247.9h1.35v1.35h-1.35zM433 254h1.35v1.35h-1.35zM434 248.9h1.35v1.35h-1.35zM435.5 247h1.35v1.35h-1.35zM443.9 252.8h1.35v1.35h-1.35zM437.9 247.1h1.35v1.35h-1.35zM433.5 251.2h1.35v1.35h-1.35zM436 241.2h1.35v1.35h-1.35zM438.2 255.3h1.35v1.35h-1.35zM441.2 243.5h1.35v1.35h-1.35zM435.9 248.8h1.35v1.35h-1.35zM436.2 256.7h1.35v1.35h-1.35zM433.6 247.2h1.35v1.35h-1.35zM434.2 256.2h1.35v1.35h-1.35zM434.6 247.7h1.35v1.35h-1.35zM433.4 249.1h1.35v1.35h-1.35zM455.2 257.2h1.35v1.35h-1.35zM436 244.8h1.35v1.35h-1.35zM444.9 255.2h1.35v1.35h-1.35zM437 253.4h1.35v1.35h-1.35zM435.3 254.3h1.35v1.35h-1.35zM452.4 256.3h1.35v1.35h-1.35zM432.3 256.9h1.35v1.35h-1.35zM433.5 249h1.35v1.35h-1.35zM436.6 243.5h1.35v1.35h-1.35zM442.6 251h1.35v1.35h-1.35zM436.7 250.1h1.35v1.35h-1.35zM437.7 248.4h1.35v1.35h-1.35zM438.4 249.3h1.35v1.35h-1.35zM434.4 255.7h1.35v1.35h-1.35zM437.6 255.8h1.35v1.35h-1.35zM434.9 248.4h1.35v1.35h-1.35zM436.6 249.1h1.35v1.35h-1.35zM438.5 242.9h1.35v1.35h-1.35zM443.3 253.1h1.35v1.35h-1.35zM436.3 248.4h1.35v1.35h-1.35zM446.9 254.7h1.35v1.35h-1.35zM454.4 256.2h1.35v1.35h-1.35zM436.6 247.7h1.35v1.35h-1.35zM444.8 254.5h1.35v1.35h-1.35zM444.9 256.3h1.35v1.35h-1.35zM433 255.6h1.35v1.35h-1.35zM454.6 256.6h1.35v1.35h-1.35zM444.8 255.5h1.35v1.35h-1.35zM436 245.9h1.35v1.35h-1.35zM436.7 248.6h1.35v1.35h-1.35zM444.7 256.5h1.35v1.35h-1.35zM445.3 253.9h1.35v1.35h-1.35zM435.2 252.3h1.35v1.35h-1.35zM433 255.5h1.35v1.35h-1.35zM433.7 247.6h1.35v1.35h-1.35zM439.6 248.3h1.35v1.35h-1.35zM434.1 249.4h1.35v1.35h-1.35zM440.6 256.1h1.35v1.35h-1.35zM446.8 255.4h1.35v1.35h-1.35zM434.5 247.9h1.35v1.35h-1.35zM437.1 256h1.35v1.35h-1.35zM436.2 240.6h1.35v1.35h-1.35zM446 254.8h1.35v1.35h-1.35zM432.8 256.2h1.35v1.35h-1.35zM447.6 254.2h1.35v1.35h-1.35zM433.1 251.1h1.35v1.35h-1.35zM433.6 253.9h1.35v1.35h-1.35zM438.3 250.3h1.35v1.35h-1.35zM433 251.2h1.35v1.35h-1.35zM434.1 249.4h1.35v1.35h-1.35zM433.2 256.8h1.35v1.35h-1.35zM454 256.8h1.35v1.35h-1.35zM438.8 245.7h1.35v1.35h-1.35zM447.4 253.3h1.35v1.35h-1.35zM434.6 254.4h1.35v1.35h-1.35zM438.1 249.9h1.35v1.35h-1.35zM433.3 249.6h1.35v1.35h-1.35zM435.3 254.5h1.35v1.35h-1.35zM454.4 255.8h1.35v1.35h-1.35zM436.4 251.8h1.35v1.35h-1.35zM436.5 256.7h1.35v1.35h-1.35zM433.7 250h1.35v1.35h-1.35zM433.4 247.7h1.35v1.35h-1.35zM433.2 254.5h1.35v1.35h-1.35zM443 249.5h1.35v1.35h-1.35zM433.6 249h1.35v1.35h-1.35zM441 250.2h1.35v1.35h-1.35zM434 256.8h1.35v1.35h-1.35zM433.9 253.6h1.35v1.35h-1.35zM442 246.7h1.35v1.35h-1.35zM451.3 255.3h1.35v1.35h-1.35zM441.3 251.1h1.35v1.35h-1.35zM435.7 255.9h1.35v1.35h-1.35zM435.5 248.3h1.35v1.35h-1.35zM445 249.9h1.35v1.35h-1.35zM437.3 250h1.35v1.35h-1.35zM439.1 255.4h1.35v1.35h-1.35zM456.5 256.1h1.35v1.35h-1.35zM439.2 251.6h1.35v1.35h-1.35zM444.4 257.1h1.35v1.35h-1.35zM443.8 253.9h1.35v1.35h-1.35zM432.4 256h1.35v1.35h-1.35zM438.3 255.3h1.35v1.35h-1.35zM457.7 256.9h1.35v1.35h-1.35zM436.1 248.8h1.35v1.35h-1.35zM433.9 249.7h1.35v1.35h-1.35zM439.3 249.9h1.35v1.35h-1.35zM435.2 257.1h1.35v1.35h-1.35zM435.6 245.7h1.35v1.35h-1.35zM435.1 256.4h1.35v1.35h-1.35zM437.9 254.6h1.35v1.35h-1.35zM444.5 257h1.35v1.35h-1.35zM435.4 247.5h1.35v1.35h-1.35zM456.7 256.2h1.35v1.35h-1.35zM438.1 252.3h1.35v1.35h-1.35zM433.2 249.5h1.35v1.35h-1.35zM432.4 255.2h1.35v1.35h-1.35zM445.3 254.7h1.35v1.35h-1.35zM454 255.9h1.35v1.35h-1.35zM435.6 254.1h1.35v1.35h-1.35zM432.3 256h1.35v1.35h-1.35zM433.3 250.4h1.35v1.35h-1.35zM441.7 249.8h1.35v1.35h-1.35zM433.1 254.3h1.35v1.35h-1.35zM457.2 256.5h1.35v1.35h-1.35zM432.7 252.8h1.35v1.35h-1.35zM433.9 247.7h1.35v1.35h-1.35zM434.9 254h1.35v1.35h-1.35zM451.4 257h1.35v1.35h-1.35zM456.7 256.4h1.35v1.35h-1.35zM435.5 256.4h1.35v1.35h-1.35zM434 252.6h1.35v1.35h-1.35zM436.2 254.6h1.35v1.35h-1.35zM439.8 247.7h1.35v1.35h-1.35zM441.6 254.7h1.35v1.35h-1.35zM433.3 257.1h1.35v1.35h-1.35zM433.9 254.1h1.35v1.35h-1.35zM452.3 256.1h1.35v1.35h-1.35zM434.5 249h1.35v1.35h-1.35zM457.9 256.6h1.35v1.35h-1.35zM434.1 257.1h1.35v1.35h-1.35zM437.3 247.8h1.35v1.35h-1.35zM434 251.5h1.35v1.35h-1.35zM433.5 254.2h1.35v1.35h-1.35zM435.6 253.9h1.35v1.35h-1.35zM435 252.4h1.35v1.35h-1.35zM440.1 255.3h1.35v1.35h-1.35zM440.7 256h1.35v1.35h-1.35zM435.3 249.5h1.35v1.35h-1.35zM435 255.7h1.35v1.35h-1.35zM438.1 254.1h1.35v1.35h-1.35zM432.6 255.6h1.35v1.35h-1.35zM435.4 252.3h1.35v1.35h-1.35zM439.8 245h1.35v1.35h-1.35zM434.2 247.7h1.35v1.35h-1.35zM440.8 253.5h1.35v1.35h-1.35zM433.6 252.8h1.35v1.35h-1.35zM434.6 250.7h1.35v1.35h-1.35zM438.8 250.5h1.35v1.35h-1.35zM434.7 242.2h1.35v1.35h-1.35zM434.2 252.4h1.35v1.35h-1.35zM436.9 253.7h1.35v1.35h-1.35zM433.6 249.1h1.35v1.35h-1.35zM434.1 245.2h1.35v1.35h-1.35zM447.8 256.1h1.35v1.35h-1.35zM435.1 255.4h1.35v1.35h-1.35zM433.1 251.2h1.35v1.35h-1.35zM433.4 251.8h1.35v1.35h-1.35zM434 253.5h1.35v1.35h-1.35zM433 253.9h1.35v1.35h-1.35zM441.5 253h1.35v1.35h-1.35zM436.7 245.8h1.35v1.35h-1.35zM445.4 257h1.35v1.35h-1.35zM439.8 253.1h1.35v1.35h-1.35zM444.7 254.1h1.35v1.35h-1.35zM432.9 252.8h1.35v1.35h-1.35zM457.3 256.5h1.35v1.35h-1.35zM438.1 249.8h1.35v1.35h-1.35zM441.2 256.8h1.35v1.35h-1.35zM436.8 252h1.35v1.35h-1.35zM435.1 256.1h1.35v1.35h-1.35zM438.2 254.1h1.35v1.35h-1.35zM434.1 254h1.35v1.35h-1.35zM444.4 255.4h1.35v1.35h-1.35zM457.3 257h1.35v1.35h-1.35zM435.6 239h1.35v1.35h-1.35zM438.8 250.5h1.35v1.35h-1.35zM452.3 256.8h1.35v1.35h-1.35zM443.5 252.4h1.35v1.35h-1.35zM438.1 238.7h1.35v1.35h-1.35zM434.5 256.2h1.35v1.35h-1.35zM434 256h1.35v1.35h-1.35zM441.2 250.9h1.35v1.35h-1.35zM435.9 244.7h1.35v1.35h-1.35zM434 252h1.35v1.35h-1.35zM433.9 255.8h1.35v1.35h-1.35zM449.7 254.9h1.35v1.35h-1.35zM435.5 255.2h1.35v1.35h-1.35zM436.7 247.3h1.35v1.35h-1.35zM434.3 248.6h1.35v1.35h-1.35zM438.7 248.1h1.35v1.35h-1.35zM435.2 248.6h1.35v1.35h-1.35zM435.3 246.1h1.35v1.35h-1.35zM441.1 252.1h1.35v1.35h-1.35zM434.9 247.6h1.35v1.35h-1.35zM438.1 256.2h1.35v1.35h-1.35zM434.2 250.5h1.35v1.35h-1.35zM436.7 253.4h1.35v1.35h-1.35zM443.6 255.3h1.35v1.35h-1.35zM439 250h1.35v1.35h-1.35zM435.5 253.3h1.35v1.35h-1.35zM435.8 247.5h1.35v1.35h-1.35zM452.7 256.6h1.35v1.35h-1.35zM445.8 256h1.35v1.35h-1.35zM440.7 251.7h1.35v1.35h-1.35zM436 256.3h1.35v1.35h-1.35zM436.9 255h1.35v1.35h-1.35zM435.9 251.9h1.35v1.35h-1.35zM444 256.1h1.35v1.35h-1.35zM457.3 256.8h1.35v1.35h-1.35zM432.2 256.2h1.35v1.35h-1.35zM433.7 250.9h1.35v1.35h-1.35zM436.1 250.8h1.35v1.35h-1.35zM439.3 249.7h1.35v1.35h-1.35zM434.3 254.8h1.35v1.35h-1.35zM455.8 256.6h1.35v1.35h-1.35zM434.8 252.4h1.35v1.35h-1.35zM436.7 249.7h1.35v1.35h-1.35zM434.5 248.4h1.35v1.35h-1.35zM436.3 256.4h1.35v1.35h-1.35zM441.2 252.9h1.35v1.35h-1.35zM441.4 254.4h1.35v1.35h-1.35zM441.8 257h1.35v1.35h-1.35zM435.2 253.6h1.35v1.35h-1.35zM434.9 247.7h1.35v1.35h-1.35zM435.1 255.8h1.35v1.35h-1.35zM441.1 246.7h1.35v1.35h-1.35zM446.8 256.5h1.35v1.35h-1.35zM435.6 254.3h1.35v1.35h-1.35zM434.1 253.3h1.35v1.35h-1.35zM436.8 247.9h1.35v1.35h-1.35zM438.2 255.8h1.35v1.35h-1.35zM433.2 248.8h1.35v1.35h-1.35zM435.1 245.9h1.35v1.35h-1.35zM436.6 245.6h1.35v1.35h-1.35zM445.2 255.9h1.35v1.35h-1.35zM449.3 256.4h1.35v1.35h-1.35zM434.5 251h1.35v1.35h-1.35zM446.3 256.4h1.35v1.35h-1.35zM435.7 252.3h1.35v1.35h-1.35zM444.4 255.7h1.35v1.35h-1.35zM441.7 250.4h1.35v1.35h-1.35zM436.8 248.8h1.35v1.35h-1.35zM434.4 248.5h1.35v1.35h-1.35zM434.8 252h1.35v1.35h-1.35zM436.3 254.1h1.35v1.35h-1.35zM435 245.6h1.35v1.35h-1.35zM434.3 249.8h1.35v1.35h-1.35zM450 255.2h1.35v1.35h-1.35zM432.6 253.7h1.35v1.35h-1.35zM438.7 241.3h1.35v1.35h-1.35zM433.7 253.7h1.35v1.35h-1.35zM434.5 254.6h1.35v1.35h-1.35zM442.5 254.4h1.35v1.35h-1.35zM439.1 253.5h1.35v1.35h-1.35zM434.5 252.6h1.35v1.35h-1.35zM435.1 253h1.35v1.35h-1.35zM433.6 249.6h1.35v1.35h-1.35zM442.2 253.3h1.35v1.35h-1.35zM436.1 253.7h1.35v1.35h-1.35zM451.6 256.3h1.35v1.35h-1.35zM450.8 256.5h1.35v1.35h-1.35zM437.4 252.6h1.35v1.35h-1.35zM435.7 247h1.35v1.35h-1.35zM444.2 255h1.35v1.35h-1.35zM446.3 255.8h1.35v1.35h-1.35zM447.1 255.1h1.35v1.35h-1.35zM451.6 257h1.35v1.35h-1.35zM456.9 257h1.35v1.35h-1.35zM435.9 246.5h1.35v1.35h-1.35zM434 248.2h1.35v1.35h-1.35zM433.3 248.8h1.35v1.35h-1.35zM433.7 248.6h1.35v1.35h-1.35zM442.6 253.9h1.35v1.35h-1.35zM441.2 243.9h1.35v1.35h-1.35zM433.2 255h1.35v1.35h-1.35zM438.1 254.4h1.35v1.35h-1.35zM438.1 253.8h1.35v1.35h-1.35zM438 247.2h1.35v1.35h-1.35zM455.7 257.2h1.35v1.35h-1.35zM439 253.5h1.35v1.35h-1.35zM434.4 250.2h1.35v1.35h-1.35zM446 252.6h1.35v1.35h-1.35zM442.5 251.3h1.35v1.35h-1.35zM436.1 250h1.35v1.35h-1.35zM433.2 253.6h1.35v1.35h-1.35zM436.2 252.9h1.35v1.35h-1.35zM447.7 256.8h1.35v1.35h-1.35zM435.2 240.7h1.35v1.35h-1.35zM434.7 254.8h1.35v1.35h-1.35zM432.9 255.5h1.35v1.35h-1.35zM436.7 252.5h1.35v1.35h-1.35zM432.6 256.1h1.35v1.35h-1.35zM434.3 245.9h1.35v1.35h-1.35zM433.6 246.5h1.35v1.35h-1.35zM455.6 257.1h1.35v1.35h-1.35zM435.3 247h1.35v1.35h-1.35zM438.7 252h1.35v1.35h-1.35zM437.4 245.1h1.35v1.35h-1.35zM448.5 257.1h1.35v1.35h-1.35zM439.8 249.6h1.35v1.35h-1.35zM445.5 254.6h1.35v1.35h-1.35zM454.2 256.5h1.35v1.35h-1.35zM436.3 241.3h1.35v1.35h-1.35zM449.2 256.9h1.35v1.35h-1.35zM434.3 241.5h1.35v1.35h-1.35zM442 255h1.35v1.35h-1.35zM434.5 254.3h1.35v1.35h-1.35zM435.2 251.9h1.35v1.35h-1.35zM439.6 256.5h1.35v1.35h-1.35zM441.5 254.5h1.35v1.35h-1.35zM446.1 256.2h1.35v1.35h-1.35zM446.4 255.3h1.35v1.35h-1.35zM434.2 251.9h1.35v1.35h-1.35zM435.9 245.6h1.35v1.35h-1.35zM436.6 254.9h1.35v1.35h-1.35zM438.8 242.8h1.35v1.35h-1.35zM434 247.6h1.35v1.35h-1.35zM433.8 255.6h1.35v1.35h-1.35zM433.7 257h1.35v1.35h-1.35zM437 255.6h1.35v1.35h-1.35zM448.1 253.8h1.35v1.35h-1.35zM435.6 250.9h1.35v1.35h-1.35zM433.8 247.5h1.35v1.35h-1.35zM440.6 249.9h1.35v1.35h-1.35zM435.4 254.6h1.35v1.35h-1.35zM436 252h1.35v1.35h-1.35zM437.1 253.9h1.35v1.35h-1.35zM434.1 247.3h1.35v1.35h-1.35zM437.5 251.7h1.35v1.35h-1.35zM437.7 252.9h1.35v1.35h-1.35zM445.7 254h1.35v1.35h-1.35zM435.8 248.3h1.35v1.35h-1.35zM433.1 254h1.35v1.35h-1.35zM438.5 246.6h1.35v1.35h-1.35zM444.4 254.4h1.35v1.35h-1.35zM441.5 256.5h1.35v1.35h-1.35zM432.2 257.1h1.35v1.35h-1.35zM435.9 251.5h1.35v1.35h-1.35zM434.7 246.6h1.35v1.35h-1.35zM436.8 252.8h1.35v1.35h-1.35zM435.6 248.5h1.35v1.35h-1.35zM445.2 252.3h1.35v1.35h-1.35zM439.9 246h1.35v1.35h-1.35zM456.7 257.2h1.35v1.35h-1.35zM435.6 256.6h1.35v1.35h-1.35zM434.5 240.7h1.35v1.35h-1.35zM438.1 255.9h1.35v1.35h-1.35zM452.1 256.9h1.35v1.35h-1.35zM439.4 249.8h1.35v1.35h-1.35zM433.1 250.4h1.35v1.35h-1.35zM439.4 251.5h1.35v1.35h-1.35zM442.3 251.3h1.35v1.35h-1.35zM434.8 250.1h1.35v1.35h-1.35zM441.6 251h1.35v1.35h-1.35zM434.2 249.7h1.35v1.35h-1.35zM441.5 256.5h1.35v1.35h-1.35zM446.4 256.6h1.35v1.35h-1.35zM433.7 246.6h1.35v1.35h-1.35zM437.4 249.5h1.35v1.35h-1.35zM432.6 256.6h1.35v1.35h-1.35zM436.2 255.6h1.35v1.35h-1.35zM438.7 251h1.35v1.35h-1.35zM439.6 253.5h1.35v1.35h-1.35zM433.8 252.7h1.35v1.35h-1.35zM435 250.2h1.35v1.35h-1.35zM436 251.6h1.35v1.35h-1.35zM433.2 255.6h1.35v1.35h-1.35zM435.4 254h1.35v1.35h-1.35zM434 248.2h1.35v1.35h-1.35zM438.5 254.5h1.35v1.35h-1.35zM435.3 250.8h1.35v1.35h-1.35zM437.5 241.5h1.35v1.35h-1.35zM435.9 246.9h1.35v1.35h-1.35zM444.1 253.3h1.35v1.35h-1.35zM437.4 253.2h1.35v1.35h-1.35zM432.3 257.1h1.35v1.35h-1.35zM438.3 255.3h1.35v1.35h-1.35zM433.9 249.2h1.35v1.35h-1.35zM444.8 253.8h1.35v1.35h-1.35zM448.4 256.3h1.35v1.35h-1.35zM434.3 246.8h1.35v1.35h-1.35zM440.9 248.6h1.35v1.35h-1.35zM433.3 251.4h1.35v1.35h-1.35zM433 255.6h1.35v1.35h-1.35zM434.2 241.9h1.35v1.35h-1.35zM452 256.1h1.35v1.35h-1.35zM442.8 255.2h1.35v1.35h-1.35zM439 255.8h1.35v1.35h-1.35zM442.2 247.4h1.35v1.35h-1.35zM434.4 245.6h1.35v1.35h-1.35zM452.2 254.6h1.35v1.35h-1.35zM436.4 246.6h1.35v1.35h-1.35zM451.2 254.2h1.35v1.35h-1.35zM433.3 253.4h1.35v1.35h-1.35zM436.4 254.2h1.35v1.35h-1.35zM432.7 252.9h1.35v1.35h-1.35zM432.7 256.3h1.35v1.35h-1.35zM437.1 250.5h1.35v1.35h-1.35zM437 239.1h1.35v1.35h-1.35zM436.7 246.9h1.35v1.35h-1.35zM436.9 247h1.35v1.35h-1.35zM435.9 255.7h1.35v1.35h-1.35zM445.2 254.9h1.35v1.35h-1.35zM439.3 250.2h1.35v1.35h-1.35zM436.2 252.5h1.35v1.35h-1.35zM439.5 250.1h1.35v1.35h-1.35zM433.4 250.7h1.35v1.35h-1.35zM438.7 250.4h1.35v1.35h-1.35zM435.1 241.2h1.35v1.35h-1.35zM450.9 254.7h1.35v1.35h-1.35zM437.7 256.7h1.35v1.35h-1.35zM438.6 248.6h1.35v1.35h-1.35zM433.1 250.9h1.35v1.35h-1.35zM433.5 251.5h1.35v1.35h-1.35zM447 256.4h1.35v1.35h-1.35zM436.8 247.1h1.35v1.35h-1.35zM436.9 243h1.35v1.35h-1.35zM435.5 250.7h1.35v1.35h-1.35zM438.3 251.6h1.35v1.35h-1.35zM444.1 256.5h1.35v1.35h-1.35zM457.9 256.9h1.35v1.35h-1.35zM441 253.3h1.35v1.35h-1.35zM433.5 249h1.35v1.35h-1.35zM434.8 253.8h1.35v1.35h-1.35zM432.4 257h1.35v1.35h-1.35zM454.5 257h1.35v1.35h-1.35zM432.9 255.9h1.35v1.35h-1.35zM454.5 256.9h1.35v1.35h-1.35zM434.5 248h1.35v1.35h-1.35zM434.3 248.5h1.35v1.35h-1.35zM436.5 249.2h1.35v1.35h-1.35zM434.1 250.6h1.35v1.35h-1.35zM432.3 256.5h1.35v1.35h-1.35zM442.7 252.5h1.35v1.35h-1.35zM443.8 255.8h1.35v1.35h-1.35zM432.8 257h1.35v1.35h-1.35zM455.1 257.1h1.35v1.35h-1.35zM450 256.1h1.35v1.35h-1.35zM436.2 248.2h1.35v1.35h-1.35zM454.8 257.1h1.35v1.35h-1.35zM440.1 250.2h1.35v1.35h-1.35zM436.6 252.9h1.35v1.35h-1.35zM441.4 253.5h1.35v1.35h-1.35zM433.5 252.8h1.35v1.35h-1.35zM439 252.7h1.35v1.35h-1.35zM439 250.3h1.35v1.35h-1.35zM432.8 253.2h1.35v1.35h-1.35zM433.6 252.9h1.35v1.35h-1.35zM434.4 254.4h1.35v1.35h-1.35zM436.3 247.1h1.35v1.35h-1.35zM432.2 256.4h1.35v1.35h-1.35zM440.4 256.5h1.35v1.35h-1.35zM434.6 249.9h1.35v1.35h-1.35zM433.5 251.4h1.35v1.35h-1.35zM437.6 252h1.35v1.35h-1.35zM433.1 251.7h1.35v1.35h-1.35zM446.3 256.9h1.35v1.35h-1.35zM442.7 251.9h1.35v1.35h-1.35zM434.4 256.2h1.35v1.35h-1.35zM438.2 255.2h1.35v1.35h-1.35zM433.5 253.1h1.35v1.35h-1.35zM445.5 252.4h1.35v1.35h-1.35zM438.8 248.1h1.35v1.35h-1.35zM437.4 256.5h1.35v1.35h-1.35zM433.9 245.3h1.35v1.35h-1.35zM437.1 256.3h1.35v1.35h-1.35zM436.5 255.7h1.35v1.35h-1.35zM441.2 247.7h1.35v1.35h-1.35zM434.5 255.5h1.35v1.35h-1.35zM434.3 255h1.35v1.35h-1.35zM442.9 255.6h1.35v1.35h-1.35zM435.5 252.2h1.35v1.35h-1.35zM437.9 246.5h1.35v1.35h-1.35zM434.6 244.5h1.35v1.35h-1.35zM439.1 255.1h1.35v1.35h-1.35zM435.9 249.6h1.35v1.35h-1.35zM438.1 256.5h1.35v1.35h-1.35zM434.8 241.2h1.35v1.35h-1.35zM436.9 250.8h1.35v1.35h-1.35zM457.6 256.7h1.35v1.35h-1.35zM434.1 243.9h1.35v1.35h-1.35zM433.5 248.5h1.35v1.35h-1.35zM457.9 256.7h1.35v1.35h-1.35zM434.4 255.1h1.35v1.35h-1.35zM444 249.5h1.35v1.35h-1.35zM433.7 252.3h1.35v1.35h-1.35zM442 253h1.35v1.35h-1.35zM434.5 246.7h1.35v1.35h-1.35zM440.5 251.2h1.35v1.35h-1.35zM439.5 244.9h1.35v1.35h-1.35zM435.2 247.6h1.35v1.35h-1.35zM446.3 256.5h1.35v1.35h-1.35zM436.7 246.5h1.35v1.35h-1.35zM435.7 250.9h1.35v1.35h-1.35zM454.9 256.1h1.35v1.35h-1.35zM433.9 250.9h1.35v1.35h-1.35zM445 257.1h1.35v1.35h-1.35zM436 250.4h1.35v1.35h-1.35zM433.1 253.4h1.35v1.35h-1.35zM433.6 250.5h1.35v1.35h-1.35zM433.4 256.2h1.35v1.35h-1.35zM452.4 256.6h1.35v1.35h-1.35zM443.4 252.3h1.35v1.35h-1.35zM439.6 252.9h1.35v1.35h-1.35zM434.7 247.3h1.35v1.35h-1.35zM457.4 257.1h1.35v1.35h-1.35zM434.1 249.2h1.35v1.35h-1.35zM440.2 254.5h1.35v1.35h-1.35zM449.5 256.3h1.35v1.35h-1.35zM438.2 247.5h1.35v1.35h-1.35zM447.9 255.2h1.35v1.35h-1.35zM436.6 255.5h1.35v1.35h-1.35zM438.4 253.2h1.35v1.35h-1.35zM437.3 255.7h1.35v1.35h-1.35zM434.7 249.5h1.35v1.35h-1.35zM444 253h1.35v1.35h-1.35zM436.4 256.9h1.35v1.35h-1.35zM435.9 244.4h1.35v1.35h-1.35zM435.6 255.7h1.35v1.35h-1.35zM454.2 256h1.35v1.35h-1.35zM455.2 256.1h1.35v1.35h-1.35zM456.4 256.6h1.35v1.35h-1.35zM445.5 255.2h1.35v1.35h-1.35zM435.7 257h1.35v1.35h-1.35zM439.4 256.9h1.35v1.35h-1.35zM437.7 250h1.35v1.35h-1.35zM434.6 253.5h1.35v1.35h-1.35zM444.5 254h1.35v1.35h-1.35zM447.4 255.6h1.35v1.35h-1.35zM442.3 249.4h1.35v1.35h-1.35zM448.1 255.3h1.35v1.35h-1.35zM437.3 242.8h1.35v1.35h-1.35zM433.4 252.7h1.35v1.35h-1.35zM440.2 252.1h1.35v1.35h-1.35zM433.7 250.9h1.35v1.35h-1.35zM434 243.1h1.35v1.35h-1.35zM457.9 256.6h1.35v1.35h-1.35zM438.1 243.8h1.35v1.35h-1.35zM439.2 241.1h1.35v1.35h-1.35zM442.4 250.2h1.35v1.35h-1.35zM434.6 254.1h1.35v1.35h-1.35zM432.3 255.6h1.35v1.35h-1.35zM440.1 249.7h1.35v1.35h-1.35zM442.5 256.4h1.35v1.35h-1.35zM434.9 248.4h1.35v1.35h-1.35zM434.6 250.7h1.35v1.35h-1.35zM440.8 250h1.35v1.35h-1.35zM433.7 255.4h1.35v1.35h-1.35zM439.5 256.1h1.35v1.35h-1.35zM444.7 250.1h1.35v1.35h-1.35zM434.2 256h1.35v1.35h-1.35zM433.8 256.3h1.35v1.35h-1.35zM433.6 250.6h1.35v1.35h-1.35zM456 256.2h1.35v1.35h-1.35zM435.5 251.5h1.35v1.35h-1.35zM433.5 257.2h1.35v1.35h-1.35zM445.1 253h1.35v1.35h-1.35zM440.8 253.3h1.35v1.35h-1.35zM447.2 255.4h1.35v1.35h-1.35zM434.1 257h1.35v1.35h-1.35zM444.3 254.3h1.35v1.35h-1.35zM433.8 255.8h1.35v1.35h-1.35zM436.3 252.2h1.35v1.35h-1.35zM439.7 251.2h1.35v1.35h-1.35zM433.6 254.2h1.35v1.35h-1.35zM452.5 255.9h1.35v1.35h-1.35zM433.7 256.2h1.35v1.35h-1.35zM433.1 256h1.35v1.35h-1.35zM450.5 257h1.35v1.35h-1.35zM455.1 256.1h1.35v1.35h-1.35zM434.7 250.3h1.35v1.35h-1.35zM446.1 255.4h1.35v1.35h-1.35zM436.9 255.3h1.35v1.35h-1.35zM434.6 249.9h1.35v1.35h-1.35zM438 248.4h1.35v1.35h-1.35zM436.9 251.7h1.35v1.35h-1.35zM433.8 245.6h1.35v1.35h-1.35zM432.5 256.6h1.35v1.35h-1.35zM433.9 250h1.35v1.35h-1.35zM441.6 254.5h1.35v1.35h-1.35zM437.6 247.4h1.35v1.35h-1.35zM433.6 257.1h1.35v1.35h-1.35zM436.1 252.4h1.35v1.35h-1.35zM437.7 251.4h1.35v1.35h-1.35zM434 250.5h1.35v1.35h-1.35zM436.9 238.1h1.35v1.35h-1.35zM434.3 247.2h1.35v1.35h-1.35zM436.5 252.4h1.35v1.35h-1.35zM434 251.1h1.35v1.35h-1.35zM432.8 254.2h1.35v1.35h-1.35zM437.8 251h1.35v1.35h-1.35zM433.8 250.9h1.35v1.35h-1.35zM433.1 254.1h1.35v1.35h-1.35zM433.3 252.7h1.35v1.35h-1.35zM442.8 253.7h1.35v1.35h-1.35zM434 256.9h1.35v1.35h-1.35zM438.6 239.8h1.35v1.35h-1.35zM437.5 249.4h1.35v1.35h-1.35zM432.6 256.4h1.35v1.35h-1.35zM443.4 252.4h1.35v1.35h-1.35zM433.1 250.2h1.35v1.35h-1.35zM437.9 255.7h1.35v1.35h-1.35zM434.6 248.7h1.35v1.35h-1.35zM436.2 250.6h1.35v1.35h-1.35zM441.8 247.6h1.35v1.35h-1.35zM435.6 255.4h1.35v1.35h-1.35zM450.3 257.1h1.35v1.35h-1.35zM433.3 248.5h1.35v1.35h-1.35zM436.1 254.6h1.35v1.35h-1.35zM439.4 250.6h1.35v1.35h-1.35zM435.4 246.9h1.35v1.35h-1.35zM440.9 251.1h1.35v1.35h-1.35zM436.9 255.2h1.35v1.35h-1.35zM433 255.4h1.35v1.35h-1.35zM434.7 255.5h1.35v1.35h-1.35zM447.8 256.9h1.35v1.35h-1.35zM433 253.4h1.35v1.35h-1.35zM435.7 239.1h1.35v1.35h-1.35zM441.1 252.2h1.35v1.35h-1.35zM441 253h1.35v1.35h-1.35zM447.3 254.3h1.35v1.35h-1.35zM435.7 245.6h1.35v1.35h-1.35zM432.4 257.1h1.35v1.35h-1.35zM436.5 254.3h1.35v1.35h-1.35zM444.7 227.8h1.35v1.35h-1.35zM446.3 238.6h1.35v1.35h-1.35zM441.6 240h1.35v1.35h-1.35zM442.1 239.8h1.35v1.35h-1.35z" fill="#f0979c"/>
</g>
<rect x="406.2" y="198.4" width="52.6" height="60" fill="none" stroke="#8a8a8a" stroke-width="0.8"/>
<line x1="406.2" y1="198.4" x2="406.2" y2="258.4" stroke="#555" stroke-width="0.8"/>
<line x1="406.2" y1="258.4" x2="458.8" y2="258.4" stroke="#555" stroke-width="0.8"/>
<line x1="404.6" y1="258.4" x2="406.2" y2="258.4" stroke="#555" stroke-width="0.6"/>
<text x="404.2" y="260.6" font-size="6.3" text-anchor="end" font-weight="normal" fill="#222" stroke="#222" stroke-width="0.15">0</text>
<line x1="404.6" y1="246.4" x2="406.2" y2="246.4" stroke="#555" stroke-width="0.6"/>
<text x="404.2" y="248.6" font-size="6.3" text-anchor="end" font-weight="normal" fill="#222" stroke="#222" stroke-width="0.15">20</text>
<line x1="404.6" y1="234.4" x2="406.2" y2="234.4" stroke="#555" stroke-width="0.6"/>
<text x="404.2" y="236.6" font-size="6.3" text-anchor="end" font-weight="normal" fill="#222" stroke="#222" stroke-width="0.15">40</text>
<line x1="404.6" y1="222.4" x2="406.2" y2="222.4" stroke="#555" stroke-width="0.6"/>
<text x="404.2" y="224.6" font-size="6.3" text-anchor="end" font-weight="normal" fill="#222" stroke="#222" stroke-width="0.15">60</text>
<line x1="404.6" y1="210.4" x2="406.2" y2="210.4" stroke="#555" stroke-width="0.6"/>
<text x="404.2" y="212.6" font-size="6.3" text-anchor="end" font-weight="normal" fill="#222" stroke="#222" stroke-width="0.15">80</text>
<line x1="404.6" y1="198.4" x2="406.2" y2="198.4" stroke="#555" stroke-width="0.6"/>
<text x="404.2" y="200.6" font-size="6.3" text-anchor="end" font-weight="normal" fill="#222" stroke="#222" stroke-width="0.15">100</text>
<line x1="406.2" y1="258.4" x2="406.2" y2="260" stroke="#555" stroke-width="0.6"/>
<text x="406.2" y="266.6" font-size="6.3" text-anchor="middle" font-weight="normal" fill="#222" stroke="#222" stroke-width="0.15">-10</text>
<line x1="419.3" y1="258.4" x2="419.3" y2="260" stroke="#555" stroke-width="0.6"/>
<text x="419.3" y="266.6" font-size="6.3" text-anchor="middle" font-weight="normal" fill="#222" stroke="#222" stroke-width="0.15">-5</text>
<line x1="432.5" y1="258.4" x2="432.5" y2="260" stroke="#555" stroke-width="0.6"/>
<text x="432.5" y="266.6" font-size="6.3" text-anchor="middle" font-weight="normal" fill="#222" stroke="#222" stroke-width="0.15">0</text>
<line x1="445.6" y1="258.4" x2="445.6" y2="260" stroke="#555" stroke-width="0.6"/>
<text x="445.6" y="266.6" font-size="6.3" text-anchor="middle" font-weight="normal" fill="#222" stroke="#222" stroke-width="0.15">5</text>
<line x1="458.8" y1="258.4" x2="458.8" y2="260" stroke="#555" stroke-width="0.6"/>
<text x="458.8" y="266.6" font-size="6.3" text-anchor="middle" font-weight="normal" fill="#222" stroke="#222" stroke-width="0.15">10</text>
<text x="408" y="207.1" font-size="7.2" text-anchor="start" font-weight="normal" fill="#8fbef0">3496</text>
<text x="457" y="207.1" font-size="7.2" text-anchor="end" font-weight="normal" fill="#f0979c">3455</text>
<g>
<line x1="505.5" y1="198.4" x2="505.5" y2="258.4" stroke="#c8c8c8" stroke-width="0.6"/>
<path d="M496.4 255.3h1.35v1.35h-1.35zM504.3 253.8h1.35v1.35h-1.35zM504.2 253h1.35v1.35h-1.35zM493.9 249.5h1.35v1.35h-1.35zM498.8 251.7h1.35v1.35h-1.35zM496 251h1.35v1.35h-1.35zM498.7 252.6h1.35v1.35h-1.35zM500.5 247.3h1.35v1.35h-1.35zM489.3 256.1h1.35v1.35h-1.35zM497.1 242h1.35v1.35h-1.35zM494.1 251.8h1.35v1.35h-1.35zM501.2 253.8h1.35v1.35h-1.35zM489.4 250.3h1.35v1.35h-1.35zM494.9 249.6h1.35v1.35h-1.35zM501.2 252h1.35v1.35h-1.35zM502.7 249.6h1.35v1.35h-1.35zM498.1 255.2h1.35v1.35h-1.35zM497.8 254.9h1.35v1.35h-1.35zM494.8 250.6h1.35v1.35h-1.35zM498.9 254.8h1.35v1.35h-1.35zM488 254.9h1.35v1.35h-1.35zM501.4 255.7h1.35v1.35h-1.35zM495.7 245.4h1.35v1.35h-1.35zM496.1 255.3h1.35v1.35h-1.35zM499.7 252.4h1.35v1.35h-1.35zM496.1 256.8h1.35v1.35h-1.35zM499.4 250.7h1.35v1.35h-1.35zM493.6 256h1.35v1.35h-1.35zM498.9 247.9h1.35v1.35h-1.35zM497.9 250.4h1.35v1.35h-1.35zM499.3 254h1.35v1.35h-1.35zM501.3 249.7h1.35v1.35h-1.35zM498.4 250h1.35v1.35h-1.35zM499.8 254.1h1.35v1.35h-1.35zM501.6 251h1.35v1.35h-1.35zM489.4 253.9h1.35v1.35h-1.35zM481.5 255.5h1.35v1.35h-1.35zM504.3 254h1.35v1.35h-1.35zM504.7 256.9h1.35v1.35h-1.35zM485.4 255.4h1.35v1.35h-1.35zM501.3 253.7h1.35v1.35h-1.35zM501.5 248.1h1.35v1.35h-1.35zM483.5 257.1h1.35v1.35h-1.35zM500.9 248.8h1.35v1.35h-1.35zM501.8 256.7h1.35v1.35h-1.35zM494.2 247.6h1.35v1.35h-1.35zM489 254.9h1.35v1.35h-1.35zM485.1 255.8h1.35v1.35h-1.35zM499.2 245.7h1.35v1.35h-1.35zM498.2 254.1h1.35v1.35h-1.35zM490.3 257.1h1.35v1.35h-1.35zM495.4 255.4h1.35v1.35h-1.35zM490.5 254.4h1.35v1.35h-1.35zM500.4 251.5h1.35v1.35h-1.35zM503.4 251.4h1.35v1.35h-1.35zM481.6 256.1h1.35v1.35h-1.35zM500.9 252.7h1.35v1.35h-1.35zM487.8 255.8h1.35v1.35h-1.35zM484.2 255.8h1.35v1.35h-1.35zM494.1 256.4h1.35v1.35h-1.35zM488.9 254.4h1.35v1.35h-1.35zM502.7 255.2h1.35v1.35h-1.35zM496.8 247.4h1.35v1.35h-1.35zM497.7 247h1.35v1.35h-1.35zM502.1 252.5h1.35v1.35h-1.35zM498.9 252.3h1.35v1.35h-1.35zM481.3 256.9h1.35v1.35h-1.35zM499.8 249.3h1.35v1.35h-1.35zM497.4 255.2h1.35v1.35h-1.35zM496.9 253.4h1.35v1.35h-1.35zM495.9 242h1.35v1.35h-1.35zM494.1 250.6h1.35v1.35h-1.35zM498.9 245.2h1.35v1.35h-1.35zM499.4 248.8h1.35v1.35h-1.35zM490.8 253.7h1.35v1.35h-1.35zM496.9 248.5h1.35v1.35h-1.35zM493.6 251.1h1.35v1.35h-1.35zM497.2 252.4h1.35v1.35h-1.35zM504.7 256.7h1.35v1.35h-1.35zM493.9 256.4h1.35v1.35h-1.35zM487.1 255.6h1.35v1.35h-1.35zM499.4 249.9h1.35v1.35h-1.35zM496.8 246.3h1.35v1.35h-1.35zM501.2 254.5h1.35v1.35h-1.35zM487.8 253.5h1.35v1.35h-1.35zM500.6 248.9h1.35v1.35h-1.35zM499.9 253.4h1.35v1.35h-1.35zM501.1 255.5h1.35v1.35h-1.35zM486.8 255.6h1.35v1.35h-1.35zM499.2 251.3h1.35v1.35h-1.35zM485.2 255h1.35v1.35h-1.35zM497.9 253.2h1.35v1.35h-1.35zM494.6 248.8h1.35v1.35h-1.35zM497.4 248.5h1.35v1.35h-1.35zM497.6 246.8h1.35v1.35h-1.35zM498.7 251.3h1.35v1.35h-1.35zM485.8 257.1h1.35v1.35h-1.35zM502.3 252.9h1.35v1.35h-1.35zM502 252.6h1.35v1.35h-1.35zM502.7 251.5h1.35v1.35h-1.35zM499.2 245.8h1.35v1.35h-1.35zM503.2 253.1h1.35v1.35h-1.35zM479.8 256.7h1.35v1.35h-1.35zM504.3 255.2h1.35v1.35h-1.35zM501.6 255.3h1.35v1.35h-1.35zM484.2 255.3h1.35v1.35h-1.35zM499.1 251.3h1.35v1.35h-1.35zM498.3 247.9h1.35v1.35h-1.35zM489 255.1h1.35v1.35h-1.35zM504.7 256.9h1.35v1.35h-1.35zM496.4 244.4h1.35v1.35h-1.35zM499 248.7h1.35v1.35h-1.35zM481.2 256h1.35v1.35h-1.35zM504.7 256.5h1.35v1.35h-1.35zM498.1 246.9h1.35v1.35h-1.35zM492.5 252.9h1.35v1.35h-1.35zM497.9 251.5h1.35v1.35h-1.35zM496.9 253.2h1.35v1.35h-1.35zM499.6 250.4h1.35v1.35h-1.35zM503.1 250.7h1.35v1.35h-1.35zM498.7 249.9h1.35v1.35h-1.35zM500.7 255.6h1.35v1.35h-1.35zM481.7 256.5h1.35v1.35h-1.35zM481.7 256.8h1.35v1.35h-1.35zM500.8 248.2h1.35v1.35h-1.35zM502.6 251h1.35v1.35h-1.35zM504.5 255.3h1.35v1.35h-1.35zM503.1 251.6h1.35v1.35h-1.35zM499.2 245.8h1.35v1.35h-1.35zM503.6 252.2h1.35v1.35h-1.35zM496.5 254.5h1.35v1.35h-1.35zM500.9 248h1.35v1.35h-1.35zM487.4 256.9h1.35v1.35h-1.35zM501.5 250.9h1.35v1.35h-1.35zM498.7 250.9h1.35v1.35h-1.35zM491.2 250h1.35v1.35h-1.35zM497.4 253.6h1.35v1.35h-1.35zM499.8 253.7h1.35v1.35h-1.35zM498 256.2h1.35v1.35h-1.35zM499.1 253.3h1.35v1.35h-1.35zM498.5 241.1h1.35v1.35h-1.35zM499.5 253.8h1.35v1.35h-1.35zM502.3 247h1.35v1.35h-1.35zM499.6 257h1.35v1.35h-1.35zM497.5 257.2h1.35v1.35h-1.35zM499.8 242.1h1.35v1.35h-1.35zM483.7 256.6h1.35v1.35h-1.35zM493.2 253.3h1.35v1.35h-1.35zM503.1 257h1.35v1.35h-1.35zM500.1 249.8h1.35v1.35h-1.35zM500.3 253.5h1.35v1.35h-1.35zM485 255.6h1.35v1.35h-1.35zM498 248.2h1.35v1.35h-1.35zM500.8 248.9h1.35v1.35h-1.35zM484.7 256.7h1.35v1.35h-1.35zM488.1 255.4h1.35v1.35h-1.35zM497.2 255.7h1.35v1.35h-1.35zM488.9 256.7h1.35v1.35h-1.35zM500 254.1h1.35v1.35h-1.35zM495.5 242.5h1.35v1.35h-1.35zM481.7 256.5h1.35v1.35h-1.35zM496.6 251.9h1.35v1.35h-1.35zM498 254.9h1.35v1.35h-1.35zM500.4 248h1.35v1.35h-1.35zM493.4 251.5h1.35v1.35h-1.35zM491.7 257.1h1.35v1.35h-1.35zM503.8 257.1h1.35v1.35h-1.35zM480.9 257.2h1.35v1.35h-1.35zM498.9 255.1h1.35v1.35h-1.35zM494.5 250.8h1.35v1.35h-1.35zM498.9 247.4h1.35v1.35h-1.35zM488.5 255h1.35v1.35h-1.35zM501.3 254.6h1.35v1.35h-1.35zM502.7 251.7h1.35v1.35h-1.35zM498.8 242.4h1.35v1.35h-1.35zM491.2 252.7h1.35v1.35h-1.35zM501.5 245.4h1.35v1.35h-1.35zM497.7 252.6h1.35v1.35h-1.35zM496.9 247h1.35v1.35h-1.35zM500.6 254.4h1.35v1.35h-1.35zM486.8 257h1.35v1.35h-1.35zM480.5 256.8h1.35v1.35h-1.35zM499.1 253.9h1.35v1.35h-1.35zM497.6 254.4h1.35v1.35h-1.35zM497.7 247.6h1.35v1.35h-1.35zM501.6 249.7h1.35v1.35h-1.35zM499.3 241.9h1.35v1.35h-1.35zM496 255.1h1.35v1.35h-1.35zM491.2 252.5h1.35v1.35h-1.35zM483.3 256.8h1.35v1.35h-1.35zM497.2 242.7h1.35v1.35h-1.35zM503.3 257.2h1.35v1.35h-1.35zM495.8 252.5h1.35v1.35h-1.35zM500.7 247.9h1.35v1.35h-1.35zM504 251.6h1.35v1.35h-1.35zM497.6 252.1h1.35v1.35h-1.35zM479.8 256.3h1.35v1.35h-1.35zM491.8 256.6h1.35v1.35h-1.35zM499.7 254.1h1.35v1.35h-1.35zM496.9 250.1h1.35v1.35h-1.35zM499.8 256.5h1.35v1.35h-1.35zM494.5 250.6h1.35v1.35h-1.35zM498.8 255.9h1.35v1.35h-1.35zM497 251h1.35v1.35h-1.35zM497.3 248.5h1.35v1.35h-1.35zM502.5 249.9h1.35v1.35h-1.35zM499.3 249.8h1.35v1.35h-1.35zM503.8 250.2h1.35v1.35h-1.35zM500.2 248.4h1.35v1.35h-1.35zM498.1 254.4h1.35v1.35h-1.35zM500.5 256.1h1.35v1.35h-1.35zM497.6 253.2h1.35v1.35h-1.35zM495.9 254.9h1.35v1.35h-1.35zM480.2 255.9h1.35v1.35h-1.35zM485 255.7h1.35v1.35h-1.35zM501.4 255.6h1.35v1.35h-1.35zM502.3 257h1.35v1.35h-1.35zM502.5 256.2h1.35v1.35h-1.35zM499.7 256.9h1.35v1.35h-1.35zM503.8 255.4h1.35v1.35h-1.35zM498.2 256h1.35v1.35h-1.35zM497.2 247.4h1.35v1.35h-1.35zM500.2 248h1.35v1.35h-1.35zM492.6 254.1h1.35v1.35h-1.35zM497.2 251.1h1.35v1.35h-1.35zM489.7 254.8h1.35v1.35h-1.35zM504.2 253h1.35v1.35h-1.35zM496.4 240.6h1.35v1.35h-1.35zM498.7 254.4h1.35v1.35h-1.35zM499.8 249.5h1.35v1.35h-1.35zM499.2 254.1h1.35v1.35h-1.35zM501.2 253.5h1.35v1.35h-1.35zM502.6 252.2h1.35v1.35h-1.35zM486.4 255.8h1.35v1.35h-1.35zM496.5 254.6h1.35v1.35h-1.35zM499.5 243.4h1.35v1.35h-1.35zM487.2 252.5h1.35v1.35h-1.35zM501.8 253.8h1.35v1.35h-1.35zM494.6 256.8h1.35v1.35h-1.35zM500.2 245.2h1.35v1.35h-1.35zM499.6 251h1.35v1.35h-1.35zM501 253.6h1.35v1.35h-1.35zM481.1 257.1h1.35v1.35h-1.35zM497.6 256.8h1.35v1.35h-1.35zM484.9 255.4h1.35v1.35h-1.35zM500.6 249.8h1.35v1.35h-1.35zM495.5 250.1h1.35v1.35h-1.35zM491.6 254.8h1.35v1.35h-1.35zM501.7 249.4h1.35v1.35h-1.35zM496 246.4h1.35v1.35h-1.35zM503.2 257h1.35v1.35h-1.35zM492.6 251.9h1.35v1.35h-1.35zM491.2 255.6h1.35v1.35h-1.35zM499.6 252h1.35v1.35h-1.35zM504 251.9h1.35v1.35h-1.35zM503.2 250.6h1.35v1.35h-1.35zM498.7 253h1.35v1.35h-1.35zM501.6 246.6h1.35v1.35h-1.35zM499 246.5h1.35v1.35h-1.35zM504 251.9h1.35v1.35h-1.35zM490.9 254.8h1.35v1.35h-1.35zM500.3 249.8h1.35v1.35h-1.35zM483.7 255.5h1.35v1.35h-1.35zM500 256.8h1.35v1.35h-1.35zM496.4 254.7h1.35v1.35h-1.35zM496.9 254.6h1.35v1.35h-1.35zM502.3 249.3h1.35v1.35h-1.35zM482.2 257.1h1.35v1.35h-1.35zM504.4 256.9h1.35v1.35h-1.35zM502.5 250.5h1.35v1.35h-1.35zM494.6 253.6h1.35v1.35h-1.35zM496 250.5h1.35v1.35h-1.35zM502.6 254.1h1.35v1.35h-1.35zM496.8 250.4h1.35v1.35h-1.35zM496.7 247.4h1.35v1.35h-1.35zM487.3 254.1h1.35v1.35h-1.35zM485.4 254.9h1.35v1.35h-1.35zM489.5 254.5h1.35v1.35h-1.35zM497.5 247h1.35v1.35h-1.35zM496.2 244.9h1.35v1.35h-1.35zM504.4 254.4h1.35v1.35h-1.35zM495.9 247.2h1.35v1.35h-1.35zM502.9 256.6h1.35v1.35h-1.35zM499.2 246.7h1.35v1.35h-1.35zM498.5 251.3h1.35v1.35h-1.35zM485.6 254.8h1.35v1.35h-1.35zM495 252.9h1.35v1.35h-1.35zM496.7 252.3h1.35v1.35h-1.35zM496.2 256.5h1.35v1.35h-1.35zM498.8 254.5h1.35v1.35h-1.35zM496 249.3h1.35v1.35h-1.35zM497.5 257.1h1.35v1.35h-1.35zM502.4 248.3h1.35v1.35h-1.35zM494.7 251.5h1.35v1.35h-1.35zM491.2 252.9h1.35v1.35h-1.35zM480 255.5h1.35v1.35h-1.35zM492.3 252.9h1.35v1.35h-1.35zM499.3 249.9h1.35v1.35h-1.35zM496.7 252.1h1.35v1.35h-1.35zM499.9 250.6h1.35v1.35h-1.35zM503 256.4h1.35v1.35h-1.35zM500.8 254.8h1.35v1.35h-1.35zM496.1 249.8h1.35v1.35h-1.35zM500.6 254.2h1.35v1.35h-1.35zM497.5 248.8h1.35v1.35h-1.35zM496.7 249.9h1.35v1.35h-1.35zM502.4 251.3h1.35v1.35h-1.35zM494.4 248.1h1.35v1.35h-1.35zM487.1 255.7h1.35v1.35h-1.35zM497.6 255.6h1.35v1.35h-1.35zM482.4 256.5h1.35v1.35h-1.35zM495.1 256.1h1.35v1.35h-1.35zM499 240.5h1.35v1.35h-1.35zM481.4 256.2h1.35v1.35h-1.35zM501.8 255.3h1.35v1.35h-1.35zM499.2 246h1.35v1.35h-1.35zM498.5 247.5h1.35v1.35h-1.35zM504.2 257.2h1.35v1.35h-1.35zM488.7 255.3h1.35v1.35h-1.35zM498.3 253.8h1.35v1.35h-1.35zM489.8 254.7h1.35v1.35h-1.35zM496.2 247.4h1.35v1.35h-1.35zM500.1 248.3h1.35v1.35h-1.35zM497 247.7h1.35v1.35h-1.35zM500.6 254.2h1.35v1.35h-1.35zM501.7 254.5h1.35v1.35h-1.35zM494.5 255.9h1.35v1.35h-1.35zM491 252.8h1.35v1.35h-1.35zM487.5 256.2h1.35v1.35h-1.35zM500.9 249.5h1.35v1.35h-1.35zM498.3 250.7h1.35v1.35h-1.35zM498.6 249.6h1.35v1.35h-1.35zM483.8 255.7h1.35v1.35h-1.35zM496.1 253.5h1.35v1.35h-1.35zM504.3 253.7h1.35v1.35h-1.35zM497.5 254.8h1.35v1.35h-1.35zM494.3 252.3h1.35v1.35h-1.35zM487.1 255.9h1.35v1.35h-1.35zM497.3 251.6h1.35v1.35h-1.35zM498.6 252.5h1.35v1.35h-1.35zM487.5 255h1.35v1.35h-1.35zM497.6 247.6h1.35v1.35h-1.35zM484.6 256.5h1.35v1.35h-1.35zM504 251.6h1.35v1.35h-1.35zM500.3 247h1.35v1.35h-1.35zM499.1 242.5h1.35v1.35h-1.35zM498.5 243.3h1.35v1.35h-1.35zM502.9 253.1h1.35v1.35h-1.35zM494.8 252.7h1.35v1.35h-1.35zM501.2 254.4h1.35v1.35h-1.35zM501.9 254.2h1.35v1.35h-1.35zM491.7 253.2h1.35v1.35h-1.35zM497.1 244h1.35v1.35h-1.35zM501.1 252.3h1.35v1.35h-1.35zM486.1 255.1h1.35v1.35h-1.35zM496.7 251.7h1.35v1.35h-1.35zM496.1 243.7h1.35v1.35h-1.35zM497.8 249.2h1.35v1.35h-1.35zM501.1 252h1.35v1.35h-1.35zM498 246.8h1.35v1.35h-1.35zM494.4 253.6h1.35v1.35h-1.35zM498.7 254.3h1.35v1.35h-1.35zM492.5 248.3h1.35v1.35h-1.35zM498.6 252.5h1.35v1.35h-1.35zM501.6 248.2h1.35v1.35h-1.35zM499.4 251.8h1.35v1.35h-1.35zM499.5 254.8h1.35v1.35h-1.35zM501 254.2h1.35v1.35h-1.35zM496.4 252.6h1.35v1.35h-1.35zM500 254.1h1.35v1.35h-1.35zM504.7 257h1.35v1.35h-1.35zM502.7 252.3h1.35v1.35h-1.35zM491 248.9h1.35v1.35h-1.35zM481 257.1h1.35v1.35h-1.35zM503.9 251.7h1.35v1.35h-1.35zM482.5 255.6h1.35v1.35h-1.35zM498.6 255.2h1.35v1.35h-1.35zM503.2 255.4h1.35v1.35h-1.35zM498.9 251.9h1.35v1.35h-1.35zM501.2 244.4h1.35v1.35h-1.35zM499.1 251.7h1.35v1.35h-1.35zM498 250.5h1.35v1.35h-1.35zM495.5 246.2h1.35v1.35h-1.35zM500.5 244.2h1.35v1.35h-1.35zM504.4 254.7h1.35v1.35h-1.35zM500.2 247.9h1.35v1.35h-1.35zM495.4 248.3h1.35v1.35h-1.35zM498.6 253.9h1.35v1.35h-1.35zM492.3 256.9h1.35v1.35h-1.35zM498.8 254.1h1.35v1.35h-1.35zM504.7 256.5h1.35v1.35h-1.35zM496.6 246.8h1.35v1.35h-1.35zM496.6 249.8h1.35v1.35h-1.35zM494.6 250.5h1.35v1.35h-1.35zM490.6 254.7h1.35v1.35h-1.35zM498.8 250.9h1.35v1.35h-1.35zM498.3 255h1.35v1.35h-1.35zM491.6 253.7h1.35v1.35h-1.35zM496.4 249.3h1.35v1.35h-1.35zM489.9 255.5h1.35v1.35h-1.35zM499.6 247.8h1.35v1.35h-1.35zM504.7 257h1.35v1.35h-1.35zM499.2 251.4h1.35v1.35h-1.35zM486.9 255.1h1.35v1.35h-1.35zM496.3 247.7h1.35v1.35h-1.35zM497.3 247h1.35v1.35h-1.35zM491.4 255.8h1.35v1.35h-1.35zM499.6 252.5h1.35v1.35h-1.35zM494.1 249.4h1.35v1.35h-1.35zM497 252.2h1.35v1.35h-1.35zM498 248.7h1.35v1.35h-1.35zM493.3 252.5h1.35v1.35h-1.35zM483.5 256.9h1.35v1.35h-1.35zM500.4 249.4h1.35v1.35h-1.35zM481.5 256.4h1.35v1.35h-1.35zM493.9 253.3h1.35v1.35h-1.35zM498 253.6h1.35v1.35h-1.35zM501.4 254h1.35v1.35h-1.35zM500.6 256h1.35v1.35h-1.35zM485 257h1.35v1.35h-1.35zM494.7 248h1.35v1.35h-1.35zM499.7 251.5h1.35v1.35h-1.35zM502.7 252.6h1.35v1.35h-1.35zM498.3 254.3h1.35v1.35h-1.35zM493.3 253.5h1.35v1.35h-1.35zM500 256.3h1.35v1.35h-1.35zM493.8 250.4h1.35v1.35h-1.35zM502.9 255.1h1.35v1.35h-1.35zM495.6 249.8h1.35v1.35h-1.35zM487.7 255.2h1.35v1.35h-1.35zM489.3 256.8h1.35v1.35h-1.35zM502.4 254.4h1.35v1.35h-1.35zM497.3 254.4h1.35v1.35h-1.35zM501.9 251h1.35v1.35h-1.35zM491.1 253.5h1.35v1.35h-1.35zM501.2 253.6h1.35v1.35h-1.35zM498.5 248.3h1.35v1.35h-1.35zM504.7 256.3h1.35v1.35h-1.35zM504.2 253.3h1.35v1.35h-1.35zM495.7 253.5h1.35v1.35h-1.35zM496.6 250.1h1.35v1.35h-1.35zM495.6 254h1.35v1.35h-1.35zM491.4 253.2h1.35v1.35h-1.35zM487.5 254.3h1.35v1.35h-1.35zM499.1 250.3h1.35v1.35h-1.35zM495.3 253.8h1.35v1.35h-1.35zM498.7 241.9h1.35v1.35h-1.35zM497.8 253.4h1.35v1.35h-1.35zM499.4 257.2h1.35v1.35h-1.35zM500.7 253.9h1.35v1.35h-1.35zM491 254.2h1.35v1.35h-1.35zM498.3 251.8h1.35v1.35h-1.35zM491.3 256.3h1.35v1.35h-1.35zM498.9 257.1h1.35v1.35h-1.35zM483.9 254.7h1.35v1.35h-1.35zM494.3 250.2h1.35v1.35h-1.35zM497.2 247.3h1.35v1.35h-1.35zM499.9 254.5h1.35v1.35h-1.35zM498.8 254.4h1.35v1.35h-1.35zM500.6 251.2h1.35v1.35h-1.35zM500 250.3h1.35v1.35h-1.35zM498.5 240.6h1.35v1.35h-1.35zM494.8 245h1.35v1.35h-1.35zM497.5 255.5h1.35v1.35h-1.35zM497.8 251.4h1.35v1.35h-1.35zM502.1 250.6h1.35v1.35h-1.35zM499.8 245.9h1.35v1.35h-1.35zM504.3 253.7h1.35v1.35h-1.35zM496.5 253.8h1.35v1.35h-1.35zM499.7 247.2h1.35v1.35h-1.35zM501.6 255.8h1.35v1.35h-1.35zM497.4 254.9h1.35v1.35h-1.35zM496 252.3h1.35v1.35h-1.35zM503.3 255.2h1.35v1.35h-1.35zM498.4 244.4h1.35v1.35h-1.35zM498.4 242.9h1.35v1.35h-1.35zM492.5 251.8h1.35v1.35h-1.35zM498.2 253.7h1.35v1.35h-1.35zM492.3 252.9h1.35v1.35h-1.35zM480.8 257h1.35v1.35h-1.35zM481.9 255.4h1.35v1.35h-1.35zM500.4 254h1.35v1.35h-1.35zM501.2 246.6h1.35v1.35h-1.35zM501 242.6h1.35v1.35h-1.35zM504.2 253h1.35v1.35h-1.35zM494.6 252.2h1.35v1.35h-1.35zM500.9 252.4h1.35v1.35h-1.35zM502.3 253h1.35v1.35h-1.35zM501.4 256.8h1.35v1.35h-1.35zM502.1 245.6h1.35v1.35h-1.35zM496.9 245.4h1.35v1.35h-1.35zM500.6 252.3h1.35v1.35h-1.35zM503.5 255.9h1.35v1.35h-1.35zM499.8 257h1.35v1.35h-1.35zM501.3 252.3h1.35v1.35h-1.35zM500.1 248.1h1.35v1.35h-1.35zM501.3 255.6h1.35v1.35h-1.35zM496 252.8h1.35v1.35h-1.35zM490.4 255.5h1.35v1.35h-1.35zM504.3 254.9h1.35v1.35h-1.35zM500.4 254.5h1.35v1.35h-1.35zM497.2 250.3h1.35v1.35h-1.35zM492.7 249.4h1.35v1.35h-1.35zM483.6 254.9h1.35v1.35h-1.35zM500.1 252.6h1.35v1.35h-1.35zM501 252.2h1.35v1.35h-1.35zM500.7 251.5h1.35v1.35h-1.35zM492.1 253.8h1.35v1.35h-1.35zM497.6 256h1.35v1.35h-1.35zM498.5 249h1.35v1.35h-1.35zM495.8 250.7h1.35v1.35h-1.35zM497.9 247h1.35v1.35h-1.35zM497.4 250.7h1.35v1.35h-1.35zM498.6 247.3h1.35v1.35h-1.35zM496.9 253.9h1.35v1.35h-1.35zM500.8 242.6h1.35v1.35h-1.35zM482.7 257h1.35v1.35h-1.35zM500.1 242.7h1.35v1.35h-1.35zM498.6 251.8h1.35v1.35h-1.35zM488 255.1h1.35v1.35h-1.35zM502.1 252.6h1.35v1.35h-1.35zM503.2 256.5h1.35v1.35h-1.35zM497.1 240.7h1.35v1.35h-1.35zM484 253.8h1.35v1.35h-1.35zM497.3 249.3h1.35v1.35h-1.35zM502.2 250.3h1.35v1.35h-1.35zM491.9 257.1h1.35v1.35h-1.35zM494.1 252.5h1.35v1.35h-1.35zM495.2 239.8h1.35v1.35h-1.35zM490.5 256.8h1.35v1.35h-1.35zM496.6 251.8h1.35v1.35h-1.35zM504.4 254.6h1.35v1.35h-1.35zM496 254h1.35v1.35h-1.35zM502.8 252.8h1.35v1.35h-1.35zM495.7 251.2h1.35v1.35h-1.35zM500.1 246.9h1.35v1.35h-1.35zM498.3 257h1.35v1.35h-1.35zM498.7 249.6h1.35v1.35h-1.35zM498.4 245.8h1.35v1.35h-1.35zM500.9 252.9h1.35v1.35h-1.35zM501.2 253.9h1.35v1.35h-1.35zM490 254.5h1.35v1.35h-1.35zM494.5 251.1h1.35v1.35h-1.35zM504 255h1.35v1.35h-1.35zM498.9 241.7h1.35v1.35h-1.35zM498 251h1.35v1.35h-1.35zM499.9 250h1.35v1.35h-1.35zM501.3 255.9h1.35v1.35h-1.35zM496.1 254.9h1.35v1.35h-1.35zM496.1 257h1.35v1.35h-1.35zM493.8 235h1.35v1.35h-1.35zM498 234.4h1.35v1.35h-1.35zM498 237.4h1.35v1.35h-1.35zM485.9 251.2h1.35v1.35h-1.35z" fill="#8fbef0"/>
<path d="M511.6 235.4h1.35v1.35h-1.35zM516.6 253.9h1.35v1.35h-1.35zM512.3 257h1.35v1.35h-1.35zM516.8 252.1h1.35v1.35h-1.35zM528.5 255.3h1.35v1.35h-1.35zM507.2 240.3h1.35v1.35h-1.35zM506.1 248.5h1.35v1.35h-1.35zM510.3 252h1.35v1.35h-1.35zM506.8 243.2h1.35v1.35h-1.35zM510 244.5h1.35v1.35h-1.35zM509.1 255.7h1.35v1.35h-1.35zM511 257.2h1.35v1.35h-1.35zM508.1 250.5h1.35v1.35h-1.35zM512.4 247.7h1.35v1.35h-1.35zM510.4 253.5h1.35v1.35h-1.35zM509.8 238.9h1.35v1.35h-1.35zM507.8 243.5h1.35v1.35h-1.35zM505.8 250.8h1.35v1.35h-1.35zM507.6 256.3h1.35v1.35h-1.35zM514.4 220.8h1.35v1.35h-1.35zM505.1 256.2h1.35v1.35h-1.35zM509.9 231.8h1.35v1.35h-1.35zM530.5 256.3h1.35v1.35h-1.35zM507.5 246.6h1.35v1.35h-1.35zM515.7 257h1.35v1.35h-1.35zM511.4 256.9h1.35v1.35h-1.35zM509.9 252.8h1.35v1.35h-1.35zM509.6 237.9h1.35v1.35h-1.35zM507.7 247.3h1.35v1.35h-1.35zM509 246.8h1.35v1.35h-1.35zM514.7 240.7h1.35v1.35h-1.35zM511.3 254.4h1.35v1.35h-1.35zM510.7 239h1.35v1.35h-1.35zM512.6 254.4h1.35v1.35h-1.35zM510.2 256.5h1.35v1.35h-1.35zM507.9 244.5h1.35v1.35h-1.35zM512.7 256.2h1.35v1.35h-1.35zM508.4 256.7h1.35v1.35h-1.35zM507.7 246.3h1.35v1.35h-1.35zM508.6 249.7h1.35v1.35h-1.35zM513.8 239.6h1.35v1.35h-1.35zM512.4 246.1h1.35v1.35h-1.35zM509.7 239.8h1.35v1.35h-1.35zM512.8 235.1h1.35v1.35h-1.35zM527.4 255.7h1.35v1.35h-1.35zM511.9 244.1h1.35v1.35h-1.35zM511.7 243.7h1.35v1.35h-1.35zM511.1 238.7h1.35v1.35h-1.35zM511.9 235.9h1.35v1.35h-1.35zM508.1 239.8h1.35v1.35h-1.35zM510.6 239.1h1.35v1.35h-1.35zM530.7 255.9h1.35v1.35h-1.35zM509.6 238.9h1.35v1.35h-1.35zM506.3 248h1.35v1.35h-1.35zM514.8 240.3h1.35v1.35h-1.35zM512 237.4h1.35v1.35h-1.35zM505.4 253.9h1.35v1.35h-1.35zM510.5 237h1.35v1.35h-1.35zM512.1 244.3h1.35v1.35h-1.35zM509.4 245.2h1.35v1.35h-1.35zM506.4 254.1h1.35v1.35h-1.35zM505.3 256.8h1.35v1.35h-1.35zM511.8 256.2h1.35v1.35h-1.35zM506.1 257.1h1.35v1.35h-1.35zM511.4 256.5h1.35v1.35h-1.35zM514.3 240.3h1.35v1.35h-1.35zM506.8 243.3h1.35v1.35h-1.35zM509.2 244.8h1.35v1.35h-1.35zM509.2 255.8h1.35v1.35h-1.35zM511.5 250.8h1.35v1.35h-1.35zM515.9 251.5h1.35v1.35h-1.35zM506.6 255.6h1.35v1.35h-1.35zM510.2 254.2h1.35v1.35h-1.35zM509 242.1h1.35v1.35h-1.35zM528.2 256.9h1.35v1.35h-1.35zM526.3 255.4h1.35v1.35h-1.35zM508.3 238.4h1.35v1.35h-1.35zM522.3 255.5h1.35v1.35h-1.35zM516.6 238.9h1.35v1.35h-1.35zM507.2 239.9h1.35v1.35h-1.35zM506.4 246.3h1.35v1.35h-1.35zM505.8 251.2h1.35v1.35h-1.35zM511.6 238.8h1.35v1.35h-1.35zM505.1 255.8h1.35v1.35h-1.35zM505.9 250h1.35v1.35h-1.35zM526.8 253.8h1.35v1.35h-1.35zM509.5 254.1h1.35v1.35h-1.35zM505.5 255.7h1.35v1.35h-1.35zM509.4 256.2h1.35v1.35h-1.35zM510.3 253.2h1.35v1.35h-1.35zM515.2 238.9h1.35v1.35h-1.35zM511.4 235.6h1.35v1.35h-1.35zM512.6 238.5h1.35v1.35h-1.35zM510.5 231h1.35v1.35h-1.35zM506.1 251.1h1.35v1.35h-1.35zM506.8 256.1h1.35v1.35h-1.35zM512.2 242.7h1.35v1.35h-1.35zM510.2 251h1.35v1.35h-1.35zM508.5 245.7h1.35v1.35h-1.35zM511.5 247.3h1.35v1.35h-1.35zM508.6 251.5h1.35v1.35h-1.35zM514.3 216.1h1.35v1.35h-1.35zM521 255.2h1.35v1.35h-1.35zM512 250.6h1.35v1.35h-1.35zM514.2 240.9h1.35v1.35h-1.35zM510.2 246.9h1.35v1.35h-1.35zM514.4 238.5h1.35v1.35h-1.35zM512.9 234.4h1.35v1.35h-1.35zM506.5 245.6h1.35v1.35h-1.35zM527.8 255.5h1.35v1.35h-1.35zM506.6 255.7h1.35v1.35h-1.35zM514 248.6h1.35v1.35h-1.35zM510.2 230.9h1.35v1.35h-1.35zM513.5 237.7h1.35v1.35h-1.35zM527 254.7h1.35v1.35h-1.35zM514.8 256h1.35v1.35h-1.35zM508.9 253.9h1.35v1.35h-1.35zM510.9 237h1.35v1.35h-1.35zM510.6 237.4h1.35v1.35h-1.35zM511.3 254.8h1.35v1.35h-1.35zM509.7 244.8h1.35v1.35h-1.35zM509 237.6h1.35v1.35h-1.35zM511.8 227.4h1.35v1.35h-1.35zM522.7 257h1.35v1.35h-1.35zM506.7 254.5h1.35v1.35h-1.35zM513.3 236.4h1.35v1.35h-1.35zM512.3 246.2h1.35v1.35h-1.35zM508.4 235.4h1.35v1.35h-1.35zM509.4 251.7h1.35v1.35h-1.35zM515 240.3h1.35v1.35h-1.35zM505 257h1.35v1.35h-1.35zM518.1 255.2h1.35v1.35h-1.35zM529.4 256.3h1.35v1.35h-1.35zM509.5 252.8h1.35v1.35h-1.35zM511.8 252.6h1.35v1.35h-1.35zM505.7 251.7h1.35v1.35h-1.35zM509.2 249.6h1.35v1.35h-1.35zM511.2 227.4h1.35v1.35h-1.35zM512.3 233.9h1.35v1.35h-1.35zM508.3 253.5h1.35v1.35h-1.35zM512.1 249.2h1.35v1.35h-1.35zM510.9 243.6h1.35v1.35h-1.35zM508.6 249.6h1.35v1.35h-1.35zM512.6 253.6h1.35v1.35h-1.35zM506.6 248.8h1.35v1.35h-1.35zM516.6 249.6h1.35v1.35h-1.35zM513.2 235.6h1.35v1.35h-1.35zM510.9 235.5h1.35v1.35h-1.35zM509.9 245.8h1.35v1.35h-1.35zM526.7 256.7h1.35v1.35h-1.35zM512.7 233.5h1.35v1.35h-1.35zM506.2 256.5h1.35v1.35h-1.35zM509.1 256.6h1.35v1.35h-1.35zM509.1 252.4h1.35v1.35h-1.35zM508 242.5h1.35v1.35h-1.35zM509.8 240.7h1.35v1.35h-1.35zM511.6 235.9h1.35v1.35h-1.35zM507.2 239.9h1.35v1.35h-1.35zM508.2 241.7h1.35v1.35h-1.35zM519.8 256.7h1.35v1.35h-1.35zM507.3 246.7h1.35v1.35h-1.35zM510 246.2h1.35v1.35h-1.35zM506.7 244.2h1.35v1.35h-1.35zM511.7 244.7h1.35v1.35h-1.35zM511.5 235h1.35v1.35h-1.35zM509.6 247.5h1.35v1.35h-1.35zM511 247.1h1.35v1.35h-1.35zM508.6 236.3h1.35v1.35h-1.35zM530.9 256.9h1.35v1.35h-1.35zM511.3 240.1h1.35v1.35h-1.35zM528.4 256.6h1.35v1.35h-1.35zM509 244.7h1.35v1.35h-1.35zM519.9 256h1.35v1.35h-1.35zM508.9 247.1h1.35v1.35h-1.35zM509.4 243.2h1.35v1.35h-1.35zM506.8 243.6h1.35v1.35h-1.35zM521.5 255.2h1.35v1.35h-1.35zM510.1 241.9h1.35v1.35h-1.35zM511.9 255.6h1.35v1.35h-1.35zM506.9 256.4h1.35v1.35h-1.35zM519.5 255.6h1.35v1.35h-1.35zM510.2 253.6h1.35v1.35h-1.35zM511.3 239.8h1.35v1.35h-1.35zM508 246.6h1.35v1.35h-1.35zM517.1 253h1.35v1.35h-1.35zM506.3 247h1.35v1.35h-1.35zM509 254.3h1.35v1.35h-1.35zM528.1 256.5h1.35v1.35h-1.35zM506.6 244.8h1.35v1.35h-1.35zM510.4 223.8h1.35v1.35h-1.35zM512 244.7h1.35v1.35h-1.35zM512.1 251.3h1.35v1.35h-1.35zM509.6 256.2h1.35v1.35h-1.35zM505.2 255.2h1.35v1.35h-1.35zM514.2 247.6h1.35v1.35h-1.35zM510 239.2h1.35v1.35h-1.35zM511.3 246.5h1.35v1.35h-1.35zM508.8 243.4h1.35v1.35h-1.35zM507.2 242.4h1.35v1.35h-1.35zM507.2 240.4h1.35v1.35h-1.35zM510.1 242.1h1.35v1.35h-1.35zM527 255.3h1.35v1.35h-1.35zM511.7 232.5h1.35v1.35h-1.35zM509.7 242.1h1.35v1.35h-1.35zM507.7 249.1h1.35v1.35h-1.35zM508 241.5h1.35v1.35h-1.35zM507 254.2h1.35v1.35h-1.35zM509.6 248.8h1.35v1.35h-1.35zM505.9 249.9h1.35v1.35h-1.35zM510.6 253.9h1.35v1.35h-1.35zM512.2 222.5h1.35v1.35h-1.35zM506.2 248h1.35v1.35h-1.35zM514.1 243.1h1.35v1.35h-1.35zM511.6 224.3h1.35v1.35h-1.35zM511.8 249.9h1.35v1.35h-1.35zM508.9 247.9h1.35v1.35h-1.35zM511.6 255.2h1.35v1.35h-1.35zM513.3 253.3h1.35v1.35h-1.35zM511.8 250.3h1.35v1.35h-1.35zM519.1 254h1.35v1.35h-1.35zM506.3 247.2h1.35v1.35h-1.35zM516 247.8h1.35v1.35h-1.35zM506.2 252.9h1.35v1.35h-1.35zM506.3 256.3h1.35v1.35h-1.35zM512.9 229.3h1.35v1.35h-1.35zM509.9 238.9h1.35v1.35h-1.35zM510.4 257.1h1.35v1.35h-1.35zM507.2 239.9h1.35v1.35h-1.35zM506.5 245.3h1.35v1.35h-1.35zM506.4 251.6h1.35v1.35h-1.35zM519 254.7h1.35v1.35h-1.35zM510 251.8h1.35v1.35h-1.35zM512.7 255.3h1.35v1.35h-1.35zM512.2 237.8h1.35v1.35h-1.35zM510.4 251.5h1.35v1.35h-1.35zM517 252.8h1.35v1.35h-1.35zM511.8 246.6h1.35v1.35h-1.35zM512.8 217.9h1.35v1.35h-1.35zM505.9 255.6h1.35v1.35h-1.35zM506.2 248h1.35v1.35h-1.35zM510 251.5h1.35v1.35h-1.35zM508.4 242h1.35v1.35h-1.35zM507.7 240.1h1.35v1.35h-1.35zM510.6 247.8h1.35v1.35h-1.35zM512.8 241.8h1.35v1.35h-1.35zM513.8 238.2h1.35v1.35h-1.35zM507.4 256.8h1.35v1.35h-1.35zM506.8 243h1.35v1.35h-1.35zM508.9 246.2h1.35v1.35h-1.35zM510.6 247.2h1.35v1.35h-1.35zM512.5 244.2h1.35v1.35h-1.35zM508.7 239.6h1.35v1.35h-1.35zM510.2 254.7h1.35v1.35h-1.35zM523.5 254.9h1.35v1.35h-1.35zM510.5 243.5h1.35v1.35h-1.35zM513.8 225.6h1.35v1.35h-1.35zM509.6 240.1h1.35v1.35h-1.35zM529.7 257.2h1.35v1.35h-1.35zM513.9 242.7h1.35v1.35h-1.35zM506.1 252.8h1.35v1.35h-1.35zM512.9 229.8h1.35v1.35h-1.35zM512.4 249h1.35v1.35h-1.35zM521.5 256.2h1.35v1.35h-1.35zM507.8 256.9h1.35v1.35h-1.35zM516.9 250.3h1.35v1.35h-1.35zM526.9 256.3h1.35v1.35h-1.35zM509.2 234.8h1.35v1.35h-1.35zM512.5 244.7h1.35v1.35h-1.35zM523.9 256h1.35v1.35h-1.35zM506.2 247.8h1.35v1.35h-1.35zM511.8 248.3h1.35v1.35h-1.35zM510 245.8h1.35v1.35h-1.35zM511 247h1.35v1.35h-1.35zM514 226.3h1.35v1.35h-1.35zM514.4 233.7h1.35v1.35h-1.35zM515.5 256.2h1.35v1.35h-1.35zM505.8 250.9h1.35v1.35h-1.35zM510 241.2h1.35v1.35h-1.35zM507.4 248.1h1.35v1.35h-1.35zM509.5 254.3h1.35v1.35h-1.35zM508.2 248h1.35v1.35h-1.35zM511.9 225.2h1.35v1.35h-1.35zM508.9 254.7h1.35v1.35h-1.35zM506 255.9h1.35v1.35h-1.35zM514.8 242.9h1.35v1.35h-1.35zM506.3 248.4h1.35v1.35h-1.35zM505.8 250.6h1.35v1.35h-1.35zM514.2 230.2h1.35v1.35h-1.35zM505.3 254.4h1.35v1.35h-1.35zM526.9 256.1h1.35v1.35h-1.35zM509.9 241.9h1.35v1.35h-1.35zM509.4 239.4h1.35v1.35h-1.35zM508.6 252.8h1.35v1.35h-1.35zM522.1 256.6h1.35v1.35h-1.35zM505.8 250.8h1.35v1.35h-1.35zM512.6 235.3h1.35v1.35h-1.35zM513.8 247h1.35v1.35h-1.35zM514 241.7h1.35v1.35h-1.35zM510.4 243.4h1.35v1.35h-1.35zM513.2 219.9h1.35v1.35h-1.35zM509.5 252.1h1.35v1.35h-1.35zM512.8 246.8h1.35v1.35h-1.35zM505.9 250.1h1.35v1.35h-1.35zM506.4 256.1h1.35v1.35h-1.35zM513 240.1h1.35v1.35h-1.35zM512.5 235.1h1.35v1.35h-1.35zM506.6 245.6h1.35v1.35h-1.35zM513.3 239.5h1.35v1.35h-1.35zM506.5 245.4h1.35v1.35h-1.35zM513.6 246.3h1.35v1.35h-1.35zM510.6 236.2h1.35v1.35h-1.35zM511 242.2h1.35v1.35h-1.35zM511 251.1h1.35v1.35h-1.35zM508.1 253.9h1.35v1.35h-1.35zM516 235.9h1.35v1.35h-1.35zM514.4 240.9h1.35v1.35h-1.35zM511.7 234.2h1.35v1.35h-1.35zM506 249.2h1.35v1.35h-1.35zM507.6 251.5h1.35v1.35h-1.35zM506.4 246.2h1.35v1.35h-1.35zM511.8 237.1h1.35v1.35h-1.35zM509.9 241.5h1.35v1.35h-1.35zM511.9 236.6h1.35v1.35h-1.35zM511.9 234.7h1.35v1.35h-1.35zM507.7 250.6h1.35v1.35h-1.35zM508.2 242.1h1.35v1.35h-1.35zM516.2 239h1.35v1.35h-1.35zM510.4 247.6h1.35v1.35h-1.35zM510.9 249.6h1.35v1.35h-1.35zM516 256.8h1.35v1.35h-1.35zM511.5 242.5h1.35v1.35h-1.35zM511.8 234.9h1.35v1.35h-1.35zM508.8 256.2h1.35v1.35h-1.35zM524.8 255.9h1.35v1.35h-1.35zM512 243.2h1.35v1.35h-1.35zM512.3 256.8h1.35v1.35h-1.35zM511.1 238.7h1.35v1.35h-1.35zM529.4 256.7h1.35v1.35h-1.35zM512.1 234.2h1.35v1.35h-1.35zM511.1 242.7h1.35v1.35h-1.35zM510.3 247.3h1.35v1.35h-1.35zM512.1 253.3h1.35v1.35h-1.35zM506.2 247.8h1.35v1.35h-1.35zM527.5 256h1.35v1.35h-1.35zM512.1 245h1.35v1.35h-1.35zM525.9 256.3h1.35v1.35h-1.35zM508 254.8h1.35v1.35h-1.35zM507.9 254.1h1.35v1.35h-1.35zM511.8 230.8h1.35v1.35h-1.35zM507.8 251.7h1.35v1.35h-1.35zM505.4 253.6h1.35v1.35h-1.35zM511.8 252.2h1.35v1.35h-1.35zM514.1 229.7h1.35v1.35h-1.35zM522.1 257h1.35v1.35h-1.35zM511.2 233.6h1.35v1.35h-1.35zM506.1 251.9h1.35v1.35h-1.35zM527.4 256.3h1.35v1.35h-1.35zM516.5 253.8h1.35v1.35h-1.35zM505.5 253.3h1.35v1.35h-1.35zM510.5 230.7h1.35v1.35h-1.35zM514.8 247.2h1.35v1.35h-1.35zM507.4 244h1.35v1.35h-1.35zM510.9 255.3h1.35v1.35h-1.35zM512 244.9h1.35v1.35h-1.35zM512.9 251.9h1.35v1.35h-1.35zM505.1 256.3h1.35v1.35h-1.35zM516.5 252.6h1.35v1.35h-1.35zM507 241.8h1.35v1.35h-1.35zM511.4 236h1.35v1.35h-1.35zM512.1 244.3h1.35v1.35h-1.35zM508.8 247.6h1.35v1.35h-1.35zM506.8 243h1.35v1.35h-1.35zM507 252.1h1.35v1.35h-1.35zM526.5 254.3h1.35v1.35h-1.35zM517.6 256.9h1.35v1.35h-1.35zM505.8 257h1.35v1.35h-1.35zM511.3 255.4h1.35v1.35h-1.35zM525.7 256h1.35v1.35h-1.35zM508.9 254.9h1.35v1.35h-1.35zM506.8 243.4h1.35v1.35h-1.35zM510.3 243.8h1.35v1.35h-1.35zM511.8 236.6h1.35v1.35h-1.35zM514.1 219.3h1.35v1.35h-1.35zM512.2 254.5h1.35v1.35h-1.35zM507.4 250.6h1.35v1.35h-1.35zM509.4 253.6h1.35v1.35h-1.35zM512.7 257.2h1.35v1.35h-1.35zM511.4 247.5h1.35v1.35h-1.35zM510.1 252.5h1.35v1.35h-1.35zM526.4 254.7h1.35v1.35h-1.35zM512.4 236.3h1.35v1.35h-1.35zM526.4 256.7h1.35v1.35h-1.35zM511.4 239.1h1.35v1.35h-1.35zM506.1 248.9h1.35v1.35h-1.35zM507 251.6h1.35v1.35h-1.35zM506.6 244.5h1.35v1.35h-1.35zM507.1 243.8h1.35v1.35h-1.35zM512.9 226.3h1.35v1.35h-1.35zM513 249.3h1.35v1.35h-1.35zM510.1 245.1h1.35v1.35h-1.35zM517.4 253.7h1.35v1.35h-1.35zM505.5 253.1h1.35v1.35h-1.35zM513.4 236.6h1.35v1.35h-1.35zM511 249.5h1.35v1.35h-1.35zM509.1 244.4h1.35v1.35h-1.35zM509.6 253.6h1.35v1.35h-1.35zM508.4 253.6h1.35v1.35h-1.35zM507.5 250.4h1.35v1.35h-1.35zM506.5 251.1h1.35v1.35h-1.35zM507.7 237.4h1.35v1.35h-1.35zM513.4 243.2h1.35v1.35h-1.35zM515.1 221.6h1.35v1.35h-1.35zM511.1 233.6h1.35v1.35h-1.35zM526.4 257.1h1.35v1.35h-1.35zM527.3 256.3h1.35v1.35h-1.35zM507.4 238.9h1.35v1.35h-1.35zM510.1 254.1h1.35v1.35h-1.35zM513.1 218.4h1.35v1.35h-1.35zM513.4 245.7h1.35v1.35h-1.35zM513.7 242.5h1.35v1.35h-1.35zM509.3 239.4h1.35v1.35h-1.35zM507.3 247.9h1.35v1.35h-1.35zM514.1 241.2h1.35v1.35h-1.35zM512.1 243.6h1.35v1.35h-1.35zM529.2 256.5h1.35v1.35h-1.35zM528.3 256.4h1.35v1.35h-1.35zM505.5 253.4h1.35v1.35h-1.35zM508.1 248.8h1.35v1.35h-1.35zM505.4 254.1h1.35v1.35h-1.35zM508.2 245.4h1.35v1.35h-1.35zM507.3 249.6h1.35v1.35h-1.35zM511.1 230.4h1.35v1.35h-1.35zM507.3 255.3h1.35v1.35h-1.35zM506 249.1h1.35v1.35h-1.35zM510.5 251.6h1.35v1.35h-1.35zM508 246.9h1.35v1.35h-1.35zM510.5 252.4h1.35v1.35h-1.35zM514.4 248.1h1.35v1.35h-1.35zM509.7 246.6h1.35v1.35h-1.35zM509.4 238.9h1.35v1.35h-1.35zM510.3 236.8h1.35v1.35h-1.35zM511.3 233.2h1.35v1.35h-1.35zM511.9 248.9h1.35v1.35h-1.35zM511 253h1.35v1.35h-1.35zM508 234.4h1.35v1.35h-1.35zM509.9 242.4h1.35v1.35h-1.35zM524.7 256.5h1.35v1.35h-1.35zM505.8 251.6h1.35v1.35h-1.35zM513.8 255.9h1.35v1.35h-1.35zM512.4 250.7h1.35v1.35h-1.35zM507.5 245.1h1.35v1.35h-1.35zM509.5 240.4h1.35v1.35h-1.35zM513 241.7h1.35v1.35h-1.35zM509.1 250.6h1.35v1.35h-1.35zM506.2 247.8h1.35v1.35h-1.35zM512.9 238.8h1.35v1.35h-1.35zM507.6 237.6h1.35v1.35h-1.35zM505.6 252.2h1.35v1.35h-1.35zM513.2 251.2h1.35v1.35h-1.35zM511.6 253.5h1.35v1.35h-1.35zM512.7 234.8h1.35v1.35h-1.35zM508.3 252.5h1.35v1.35h-1.35zM506.1 248.3h1.35v1.35h-1.35zM510.8 241.1h1.35v1.35h-1.35zM511.7 233.5h1.35v1.35h-1.35zM508 253.2h1.35v1.35h-1.35zM513.8 247h1.35v1.35h-1.35zM512.3 230.7h1.35v1.35h-1.35zM509.3 255.3h1.35v1.35h-1.35zM506.7 256.5h1.35v1.35h-1.35zM511.3 252.7h1.35v1.35h-1.35zM509.9 243.3h1.35v1.35h-1.35zM509.2 239.8h1.35v1.35h-1.35zM508.8 241.5h1.35v1.35h-1.35zM523 257h1.35v1.35h-1.35zM510.6 239.6h1.35v1.35h-1.35zM510.6 244.7h1.35v1.35h-1.35zM514.6 245h1.35v1.35h-1.35zM508.9 243h1.35v1.35h-1.35zM507.8 241.6h1.35v1.35h-1.35zM505.3 255h1.35v1.35h-1.35zM511.9 243.8h1.35v1.35h-1.35zM512.3 234h1.35v1.35h-1.35zM510.4 236.4h1.35v1.35h-1.35zM509.4 251.9h1.35v1.35h-1.35zM525.6 254.2h1.35v1.35h-1.35zM506.5 245.7h1.35v1.35h-1.35zM510.6 253.2h1.35v1.35h-1.35zM508.5 235.8h1.35v1.35h-1.35zM513.7 237.6h1.35v1.35h-1.35zM514.1 237.2h1.35v1.35h-1.35zM513.4 232.5h1.35v1.35h-1.35zM506.1 253.5h1.35v1.35h-1.35zM512.2 233.5h1.35v1.35h-1.35zM514.3 239.5h1.35v1.35h-1.35zM511.3 254.4h1.35v1.35h-1.35zM509 248.7h1.35v1.35h-1.35zM509.9 238.3h1.35v1.35h-1.35zM518.8 257h1.35v1.35h-1.35zM509.7 255.4h1.35v1.35h-1.35zM511.5 254.1h1.35v1.35h-1.35zM507.5 249.2h1.35v1.35h-1.35zM511.4 235.3h1.35v1.35h-1.35zM505.7 251.5h1.35v1.35h-1.35zM513.1 227.4h1.35v1.35h-1.35zM506.2 252.5h1.35v1.35h-1.35zM514 249h1.35v1.35h-1.35zM507.9 237.1h1.35v1.35h-1.35zM513.6 251.5h1.35v1.35h-1.35zM510.4 231.4h1.35v1.35h-1.35zM508.3 255.3h1.35v1.35h-1.35zM509.3 250.2h1.35v1.35h-1.35zM505.6 252.7h1.35v1.35h-1.35zM509.2 245.6h1.35v1.35h-1.35zM509.2 241.6h1.35v1.35h-1.35zM514.9 224.8h1.35v1.35h-1.35zM510.5 252.7h1.35v1.35h-1.35zM511 243.8h1.35v1.35h-1.35zM507.5 242.9h1.35v1.35h-1.35zM506 249.5h1.35v1.35h-1.35zM511.2 241.4h1.35v1.35h-1.35zM520.7 256.8h1.35v1.35h-1.35zM506.4 246.1h1.35v1.35h-1.35zM507.5 247.7h1.35v1.35h-1.35zM512.4 226.1h1.35v1.35h-1.35zM508.6 246.8h1.35v1.35h-1.35zM509.3 238.3h1.35v1.35h-1.35zM505.9 256.9h1.35v1.35h-1.35zM509.7 243.6h1.35v1.35h-1.35zM510.6 250.9h1.35v1.35h-1.35zM512 245.3h1.35v1.35h-1.35zM507.8 255.5h1.35v1.35h-1.35zM508.1 238.6h1.35v1.35h-1.35zM505.4 253.8h1.35v1.35h-1.35zM507.5 246.7h1.35v1.35h-1.35zM510.3 243h1.35v1.35h-1.35zM507.5 252.2h1.35v1.35h-1.35zM524.4 256.1h1.35v1.35h-1.35zM510.1 245.7h1.35v1.35h-1.35zM513.1 254.6h1.35v1.35h-1.35zM507.2 242.7h1.35v1.35h-1.35zM506.1 248.3h1.35v1.35h-1.35zM506.2 247.9h1.35v1.35h-1.35zM516 231.7h1.35v1.35h-1.35zM509.9 248.8h1.35v1.35h-1.35zM513 241.9h1.35v1.35h-1.35zM508.6 255.9h1.35v1.35h-1.35zM508.9 251h1.35v1.35h-1.35zM515.8 250.4h1.35v1.35h-1.35zM509.7 254.9h1.35v1.35h-1.35zM509.1 231.8h1.35v1.35h-1.35zM513 247.7h1.35v1.35h-1.35zM510.3 228h1.35v1.35h-1.35zM507.2 253h1.35v1.35h-1.35zM505.4 256.8h1.35v1.35h-1.35zM505.9 256h1.35v1.35h-1.35zM512.2 230.5h1.35v1.35h-1.35zM528.1 255.6h1.35v1.35h-1.35zM513.3 239.2h1.35v1.35h-1.35zM511.8 234.1h1.35v1.35h-1.35zM516.1 249.4h1.35v1.35h-1.35zM511.5 244.9h1.35v1.35h-1.35zM506.9 248.6h1.35v1.35h-1.35zM511.9 249h1.35v1.35h-1.35zM509.9 247.9h1.35v1.35h-1.35zM506.9 242.4h1.35v1.35h-1.35zM509 243.3h1.35v1.35h-1.35zM510.9 233.6h1.35v1.35h-1.35zM513.7 246.5h1.35v1.35h-1.35zM507.9 238.1h1.35v1.35h-1.35zM508.3 257.2h1.35v1.35h-1.35zM526.7 256h1.35v1.35h-1.35zM505.4 253.9h1.35v1.35h-1.35zM511.4 239.1h1.35v1.35h-1.35zM511.1 235.5h1.35v1.35h-1.35zM511.7 240.6h1.35v1.35h-1.35zM512.3 255.3h1.35v1.35h-1.35zM509.5 252.3h1.35v1.35h-1.35zM505.9 250.2h1.35v1.35h-1.35zM508.7 250.8h1.35v1.35h-1.35zM508.6 245h1.35v1.35h-1.35zM516.7 249.9h1.35v1.35h-1.35zM510.8 253.5h1.35v1.35h-1.35zM510.7 230.5h1.35v1.35h-1.35zM510.4 248.3h1.35v1.35h-1.35zM511.3 253.1h1.35v1.35h-1.35zM512.4 254.2h1.35v1.35h-1.35zM509 247.4h1.35v1.35h-1.35zM511.6 227.7h1.35v1.35h-1.35zM511.6 248.2h1.35v1.35h-1.35zM505.6 252h1.35v1.35h-1.35zM508.2 249.8h1.35v1.35h-1.35zM508.2 252.6h1.35v1.35h-1.35zM510.3 244.6h1.35v1.35h-1.35zM511.3 234.7h1.35v1.35h-1.35zM510.7 249h1.35v1.35h-1.35zM513.3 237.1h1.35v1.35h-1.35zM528.3 256h1.35v1.35h-1.35zM512.5 239.2h1.35v1.35h-1.35zM507 249.1h1.35v1.35h-1.35zM509.1 238.3h1.35v1.35h-1.35zM506.7 244.3h1.35v1.35h-1.35zM508.8 246.3h1.35v1.35h-1.35zM509.9 251.4h1.35v1.35h-1.35zM507.3 248.5h1.35v1.35h-1.35zM508.2 253.8h1.35v1.35h-1.35zM511.5 250.3h1.35v1.35h-1.35zM519.4 257h1.35v1.35h-1.35zM509.5 254.8h1.35v1.35h-1.35zM511.7 234.5h1.35v1.35h-1.35zM513.2 250.9h1.35v1.35h-1.35zM505.5 253.3h1.35v1.35h-1.35zM516.8 254.7h1.35v1.35h-1.35zM507.3 252.4h1.35v1.35h-1.35zM529.9 256h1.35v1.35h-1.35zM506 249.5h1.35v1.35h-1.35zM507.7 243.3h1.35v1.35h-1.35zM511.7 254.3h1.35v1.35h-1.35zM518.2 252h1.35v1.35h-1.35zM519.7 255.8h1.35v1.35h-1.35zM516.6 249.9h1.35v1.35h-1.35zM519.5 256.8h1.35v1.35h-1.35zM509.8 252.6h1.35v1.35h-1.35zM513.7 237.3h1.35v1.35h-1.35zM512.1 234.5h1.35v1.35h-1.35zM511.4 244.6h1.35v1.35h-1.35zM507.1 255.9h1.35v1.35h-1.35zM508.5 254.7h1.35v1.35h-1.35zM505.6 255.3h1.35v1.35h-1.35zM513.5 252.8h1.35v1.35h-1.35zM507.6 243.6h1.35v1.35h-1.35zM506.9 246.5h1.35v1.35h-1.35zM512.5 236.4h1.35v1.35h-1.35zM508.9 256h1.35v1.35h-1.35zM510.4 253h1.35v1.35h-1.35zM509.6 246.3h1.35v1.35h-1.35zM508.4 230.8h1.35v1.35h-1.35zM515.2 247.6h1.35v1.35h-1.35zM510 248.7h1.35v1.35h-1.35zM513.9 240h1.35v1.35h-1.35zM512.8 218.9h1.35v1.35h-1.35zM508.1 254.6h1.35v1.35h-1.35zM514.3 243.9h1.35v1.35h-1.35zM506.9 249.6h1.35v1.35h-1.35zM508.2 246.2h1.35v1.35h-1.35zM512.3 243h1.35v1.35h-1.35zM511.2 234.2h1.35v1.35h-1.35zM509.6 251.4h1.35v1.35h-1.35zM507.4 251.4h1.35v1.35h-1.35zM513.7 228.6h1.35v1.35h-1.35zM530.1 257h1.35v1.35h-1.35zM513.5 242.3h1.35v1.35h-1.35zM513.6 217h1.35v1.35h-1.35zM507.4 239.5h1.35v1.35h-1.35zM511.9 245.9h1.35v1.35h-1.35zM514.6 240.7h1.35v1.35h-1.35zM511.8 220h1.35v1.35h-1.35zM510 250.4h1.35v1.35h-1.35zM514 242.4h1.35v1.35h-1.35zM505.9 249.8h1.35v1.35h-1.35zM509.7 240.6h1.35v1.35h-1.35zM512.1 239.6h1.35v1.35h-1.35zM509.4 246.5h1.35v1.35h-1.35zM507.2 249.1h1.35v1.35h-1.35zM524.4 255.2h1.35v1.35h-1.35zM513.3 244.6h1.35v1.35h-1.35zM509.1 253.7h1.35v1.35h-1.35zM512.3 247.6h1.35v1.35h-1.35zM510 235h1.35v1.35h-1.35zM510.1 247.4h1.35v1.35h-1.35zM510.6 254.1h1.35v1.35h-1.35zM512.5 255.8h1.35v1.35h-1.35zM509.4 249.2h1.35v1.35h-1.35zM515.3 246.1h1.35v1.35h-1.35zM510.7 240.3h1.35v1.35h-1.35zM514.8 243.7h1.35v1.35h-1.35zM506.4 255h1.35v1.35h-1.35zM510.3 247h1.35v1.35h-1.35zM511.6 250.4h1.35v1.35h-1.35zM513.3 234.1h1.35v1.35h-1.35zM509.9 243h1.35v1.35h-1.35zM517 240.1h1.35v1.35h-1.35zM506.4 249.8h1.35v1.35h-1.35zM510.1 245h1.35v1.35h-1.35zM508.9 239.4h1.35v1.35h-1.35zM511.3 251.6h1.35v1.35h-1.35zM512.6 227.9h1.35v1.35h-1.35zM511.7 242.6h1.35v1.35h-1.35zM512.9 233.8h1.35v1.35h-1.35zM526.5 257h1.35v1.35h-1.35zM512.1 247h1.35v1.35h-1.35zM506.2 253.6h1.35v1.35h-1.35zM506.8 255.7h1.35v1.35h-1.35zM511.8 246.6h1.35v1.35h-1.35zM511.1 239h1.35v1.35h-1.35zM505.6 252.1h1.35v1.35h-1.35zM530.9 255.7h1.35v1.35h-1.35zM511.9 249.5h1.35v1.35h-1.35zM512 242.6h1.35v1.35h-1.35zM515.1 256.4h1.35v1.35h-1.35zM508.5 240.2h1.35v1.35h-1.35zM512.2 221.5h1.35v1.35h-1.35zM506 249.3h1.35v1.35h-1.35zM509.9 255.8h1.35v1.35h-1.35zM508.9 246h1.35v1.35h-1.35zM528.3 256.4h1.35v1.35h-1.35zM511.7 234.3h1.35v1.35h-1.35zM512.5 236.5h1.35v1.35h-1.35zM505.4 256.7h1.35v1.35h-1.35zM509.1 244.6h1.35v1.35h-1.35zM511.6 255.7h1.35v1.35h-1.35zM507.3 246.2h1.35v1.35h-1.35zM508.2 254h1.35v1.35h-1.35zM506.1 248.9h1.35v1.35h-1.35zM509.7 256.2h1.35v1.35h-1.35zM510 251.1h1.35v1.35h-1.35zM510.8 244.4h1.35v1.35h-1.35zM511.6 239.6h1.35v1.35h-1.35zM519.6 256.2h1.35v1.35h-1.35zM512.1 237.3h1.35v1.35h-1.35zM512 243.4h1.35v1.35h-1.35zM508.6 229.5h1.35v1.35h-1.35zM512.3 241h1.35v1.35h-1.35zM506.7 256.2h1.35v1.35h-1.35zM511.1 247.5h1.35v1.35h-1.35zM506 255.4h1.35v1.35h-1.35zM508.5 245.4h1.35v1.35h-1.35zM509.7 249.9h1.35v1.35h-1.35zM527.9 256.4h1.35v1.35h-1.35zM508.2 248.7h1.35v1.35h-1.35zM526.2 256.9h1.35v1.35h-1.35zM511.4 241.8h1.35v1.35h-1.35zM519.4 256.7h1.35v1.35h-1.35zM515.8 251.1h1.35v1.35h-1.35zM509.4 239.5h1.35v1.35h-1.35zM527.5 256.6h1.35v1.35h-1.35zM510.1 231.8h1.35v1.35h-1.35zM515 244.8h1.35v1.35h-1.35zM505.7 255.7h1.35v1.35h-1.35zM508.7 247.1h1.35v1.35h-1.35zM506.7 244.4h1.35v1.35h-1.35zM513.4 239.2h1.35v1.35h-1.35zM512.6 246.9h1.35v1.35h-1.35zM508.9 253.3h1.35v1.35h-1.35zM507.7 244.2h1.35v1.35h-1.35zM510 243.4h1.35v1.35h-1.35zM508.3 231.7h1.35v1.35h-1.35zM507.7 251.8h1.35v1.35h-1.35zM506.7 244.1h1.35v1.35h-1.35zM526.9 255.6h1.35v1.35h-1.35zM510.4 206.2h1.35v1.35h-1.35zM511.9 216.4h1.35v1.35h-1.35zM512.5 217h1.35v1.35h-1.35zM516.9 226h1.35v1.35h-1.35zM517.7 227.2h1.35v1.35h-1.35zM515.9 232.6h1.35v1.35h-1.35zM519.3 248.2h1.35v1.35h-1.35zM530.9 251.8h1.35v1.35h-1.35z" fill="#f0979c"/>
</g>
<rect x="479.2" y="198.4" width="52.6" height="60" fill="none" stroke="#8a8a8a" stroke-width="0.8"/>
<line x1="479.2" y1="198.4" x2="479.2" y2="258.4" stroke="#555" stroke-width="0.8"/>
<line x1="479.2" y1="258.4" x2="531.8" y2="258.4" stroke="#555" stroke-width="0.8"/>
<line x1="477.6" y1="258.4" x2="479.2" y2="258.4" stroke="#555" stroke-width="0.6"/>
<line x1="477.6" y1="246.4" x2="479.2" y2="246.4" stroke="#555" stroke-width="0.6"/>
<line x1="477.6" y1="234.4" x2="479.2" y2="234.4" stroke="#555" stroke-width="0.6"/>
<line x1="477.6" y1="222.4" x2="479.2" y2="222.4" stroke="#555" stroke-width="0.6"/>
<line x1="477.6" y1="210.4" x2="479.2" y2="210.4" stroke="#555" stroke-width="0.6"/>
<line x1="477.6" y1="198.4" x2="479.2" y2="198.4" stroke="#555" stroke-width="0.6"/>
<line x1="479.2" y1="258.4" x2="479.2" y2="260" stroke="#555" stroke-width="0.6"/>
<text x="479.2" y="266.6" font-size="6.3" text-anchor="middle" font-weight="normal" fill="#222" stroke="#222" stroke-width="0.15">-10</text>
<line x1="492.3" y1="258.4" x2="492.3" y2="260" stroke="#555" stroke-width="0.6"/>
<text x="492.3" y="266.6" font-size="6.3" text-anchor="middle" font-weight="normal" fill="#222" stroke="#222" stroke-width="0.15">-5</text>
<line x1="505.5" y1="258.4" x2="505.5" y2="260" stroke="#555" stroke-width="0.6"/>
<text x="505.5" y="266.6" font-size="6.3" text-anchor="middle" font-weight="normal" fill="#222" stroke="#222" stroke-width="0.15">0</text>
<line x1="518.6" y1="258.4" x2="518.6" y2="260" stroke="#555" stroke-width="0.6"/>
<text x="518.6" y="266.6" font-size="6.3" text-anchor="middle" font-weight="normal" fill="#222" stroke="#222" stroke-width="0.15">5</text>
<line x1="531.8" y1="258.4" x2="531.8" y2="260" stroke="#555" stroke-width="0.6"/>
<text x="531.8" y="266.6" font-size="6.3" text-anchor="middle" font-weight="normal" fill="#222" stroke="#222" stroke-width="0.15">10</text>
<text x="481" y="207.1" font-size="7.2" text-anchor="start" font-weight="normal" fill="#8fbef0">3436</text>
<text x="530" y="207.1" font-size="7.2" text-anchor="end" font-weight="normal" fill="#f0979c">3221</text>
<g>
<line x1="579.5" y1="198.4" x2="579.5" y2="258.4" stroke="#c8c8c8" stroke-width="0.6"/>
<path d="M564.5 256.7h1.35v1.35h-1.35zM577 245.6h1.35v1.35h-1.35zM569 243.2h1.35v1.35h-1.35zM569.4 252h1.35v1.35h-1.35zM571.6 249.6h1.35v1.35h-1.35zM558.2 255.6h1.35v1.35h-1.35zM557.3 254.5h1.35v1.35h-1.35zM559.6 256h1.35v1.35h-1.35zM566 255.3h1.35v1.35h-1.35zM569.1 253.1h1.35v1.35h-1.35zM565.4 247.3h1.35v1.35h-1.35zM567.2 256.4h1.35v1.35h-1.35zM574.3 250h1.35v1.35h-1.35zM575.7 250.6h1.35v1.35h-1.35zM570.3 246.6h1.35v1.35h-1.35zM573.9 255.1h1.35v1.35h-1.35zM575.3 255.7h1.35v1.35h-1.35zM577.9 252.4h1.35v1.35h-1.35zM571 248.4h1.35v1.35h-1.35zM568.3 255.8h1.35v1.35h-1.35zM577.6 253.8h1.35v1.35h-1.35zM570.9 251.1h1.35v1.35h-1.35zM554 256.7h1.35v1.35h-1.35zM577.7 251.7h1.35v1.35h-1.35zM557.3 254.5h1.35v1.35h-1.35zM570.4 247.7h1.35v1.35h-1.35zM574.6 257.1h1.35v1.35h-1.35zM567.2 244.5h1.35v1.35h-1.35zM569.7 252.3h1.35v1.35h-1.35zM578.5 254.9h1.35v1.35h-1.35zM576.6 253.8h1.35v1.35h-1.35zM554.7 257h1.35v1.35h-1.35zM568.5 251.2h1.35v1.35h-1.35zM574.5 254.5h1.35v1.35h-1.35zM563 255.9h1.35v1.35h-1.35zM571.2 245.3h1.35v1.35h-1.35zM557.7 252.9h1.35v1.35h-1.35zM566 256.4h1.35v1.35h-1.35zM574.5 255h1.35v1.35h-1.35zM572.6 255.9h1.35v1.35h-1.35zM554.4 255.7h1.35v1.35h-1.35zM554.1 256.3h1.35v1.35h-1.35zM566.5 255.5h1.35v1.35h-1.35zM560.4 255.8h1.35v1.35h-1.35zM556.6 256.4h1.35v1.35h-1.35zM563.8 255.4h1.35v1.35h-1.35zM574.1 255.7h1.35v1.35h-1.35zM571.9 256.9h1.35v1.35h-1.35zM555.2 254.9h1.35v1.35h-1.35zM571.7 250.7h1.35v1.35h-1.35zM558.2 255.5h1.35v1.35h-1.35zM577.4 247.8h1.35v1.35h-1.35zM567 252.3h1.35v1.35h-1.35zM574.9 251.7h1.35v1.35h-1.35zM573.4 253.1h1.35v1.35h-1.35zM566.2 254h1.35v1.35h-1.35zM557.2 256h1.35v1.35h-1.35zM568.8 250.7h1.35v1.35h-1.35zM554.5 256h1.35v1.35h-1.35zM576.7 251.3h1.35v1.35h-1.35zM571.1 249.1h1.35v1.35h-1.35zM576.9 255.9h1.35v1.35h-1.35zM573.9 253.1h1.35v1.35h-1.35zM563.1 255.2h1.35v1.35h-1.35zM571.9 248.1h1.35v1.35h-1.35zM564.4 254.4h1.35v1.35h-1.35zM574.7 245.9h1.35v1.35h-1.35zM569 250h1.35v1.35h-1.35zM567.8 253.5h1.35v1.35h-1.35zM571.5 253.7h1.35v1.35h-1.35zM577.7 249.6h1.35v1.35h-1.35zM572.6 248.9h1.35v1.35h-1.35zM565.9 253.9h1.35v1.35h-1.35zM552.8 254.8h1.35v1.35h-1.35zM577 250.2h1.35v1.35h-1.35zM570.6 252.6h1.35v1.35h-1.35zM573.9 245.5h1.35v1.35h-1.35zM571 252.8h1.35v1.35h-1.35zM573.1 255.9h1.35v1.35h-1.35zM577 251.7h1.35v1.35h-1.35zM578 251.9h1.35v1.35h-1.35zM555.6 256.2h1.35v1.35h-1.35zM575.7 256h1.35v1.35h-1.35zM573 251.9h1.35v1.35h-1.35zM572.4 253.4h1.35v1.35h-1.35zM563.6 252.8h1.35v1.35h-1.35zM575.4 249.5h1.35v1.35h-1.35zM556.9 256.1h1.35v1.35h-1.35zM572.7 249.9h1.35v1.35h-1.35zM564.5 257h1.35v1.35h-1.35zM570.8 250.8h1.35v1.35h-1.35zM572 254.3h1.35v1.35h-1.35zM565.8 253.1h1.35v1.35h-1.35zM576 253.9h1.35v1.35h-1.35zM568.6 254.3h1.35v1.35h-1.35zM565 247.8h1.35v1.35h-1.35zM557.3 255.6h1.35v1.35h-1.35zM574.4 252.7h1.35v1.35h-1.35zM573.2 241.6h1.35v1.35h-1.35zM575.9 251.1h1.35v1.35h-1.35zM560.2 254.3h1.35v1.35h-1.35zM567 256.9h1.35v1.35h-1.35zM567.6 248.1h1.35v1.35h-1.35zM577.6 249.5h1.35v1.35h-1.35zM570.8 256.4h1.35v1.35h-1.35zM572.7 244.8h1.35v1.35h-1.35zM556.4 255.2h1.35v1.35h-1.35zM571.6 252.8h1.35v1.35h-1.35zM570.1 242.9h1.35v1.35h-1.35zM574 246.3h1.35v1.35h-1.35zM555.2 256.3h1.35v1.35h-1.35zM574.5 250.2h1.35v1.35h-1.35zM568.6 256.2h1.35v1.35h-1.35zM574.3 250.9h1.35v1.35h-1.35zM558.2 255.1h1.35v1.35h-1.35zM559.9 255.3h1.35v1.35h-1.35zM569.1 254h1.35v1.35h-1.35zM575 250.8h1.35v1.35h-1.35zM569.8 250h1.35v1.35h-1.35zM567.8 256.5h1.35v1.35h-1.35zM569.3 248.2h1.35v1.35h-1.35zM573.6 247.2h1.35v1.35h-1.35zM574.2 251h1.35v1.35h-1.35zM562.7 255.3h1.35v1.35h-1.35zM576.2 256.1h1.35v1.35h-1.35zM571.6 252.8h1.35v1.35h-1.35zM574 245.5h1.35v1.35h-1.35zM569.1 250.9h1.35v1.35h-1.35zM562.8 254.8h1.35v1.35h-1.35zM569.4 255.3h1.35v1.35h-1.35zM561.5 255.7h1.35v1.35h-1.35zM574 249.5h1.35v1.35h-1.35zM561.2 255h1.35v1.35h-1.35zM571.4 248.4h1.35v1.35h-1.35zM560.3 254.6h1.35v1.35h-1.35zM569.8 254h1.35v1.35h-1.35zM578 257h1.35v1.35h-1.35zM561.5 256.9h1.35v1.35h-1.35zM570.7 254.6h1.35v1.35h-1.35zM570.8 255h1.35v1.35h-1.35zM555.7 257.1h1.35v1.35h-1.35zM573 249.5h1.35v1.35h-1.35zM557.2 255.6h1.35v1.35h-1.35zM574 248.9h1.35v1.35h-1.35zM571.5 247.1h1.35v1.35h-1.35zM575 253.4h1.35v1.35h-1.35zM553.4 255.2h1.35v1.35h-1.35zM554.7 255h1.35v1.35h-1.35zM570 248.8h1.35v1.35h-1.35zM575.8 252h1.35v1.35h-1.35zM553 256.3h1.35v1.35h-1.35zM570.1 252.1h1.35v1.35h-1.35zM573.1 246.1h1.35v1.35h-1.35zM572.3 254.7h1.35v1.35h-1.35zM572.5 245.4h1.35v1.35h-1.35zM559.7 255.8h1.35v1.35h-1.35zM567.3 256.6h1.35v1.35h-1.35zM570.7 248.3h1.35v1.35h-1.35zM556.5 256.5h1.35v1.35h-1.35zM574.3 247.3h1.35v1.35h-1.35zM575.1 255.5h1.35v1.35h-1.35zM578.6 255.6h1.35v1.35h-1.35zM572.2 249.8h1.35v1.35h-1.35zM574.7 248.1h1.35v1.35h-1.35zM565.6 248.5h1.35v1.35h-1.35zM574.5 250.1h1.35v1.35h-1.35zM561.2 256.6h1.35v1.35h-1.35zM566.2 250.8h1.35v1.35h-1.35zM578 251.6h1.35v1.35h-1.35zM573.6 255.3h1.35v1.35h-1.35zM563.5 253.1h1.35v1.35h-1.35zM556.3 256.7h1.35v1.35h-1.35zM573.3 253.6h1.35v1.35h-1.35zM559.3 256.4h1.35v1.35h-1.35zM563.6 254h1.35v1.35h-1.35zM572.4 254.4h1.35v1.35h-1.35zM570.2 256.9h1.35v1.35h-1.35zM559.2 254.9h1.35v1.35h-1.35zM576.1 248.2h1.35v1.35h-1.35zM557.3 254.6h1.35v1.35h-1.35zM574.9 255h1.35v1.35h-1.35zM559 256.5h1.35v1.35h-1.35zM574.5 254.7h1.35v1.35h-1.35zM570.6 248.5h1.35v1.35h-1.35zM575.4 247.5h1.35v1.35h-1.35zM571.3 250.2h1.35v1.35h-1.35zM571.5 254.7h1.35v1.35h-1.35zM558.9 254.2h1.35v1.35h-1.35zM578.2 253.4h1.35v1.35h-1.35zM552.8 257h1.35v1.35h-1.35zM571.7 250.1h1.35v1.35h-1.35zM560.4 254.7h1.35v1.35h-1.35zM569.4 256.3h1.35v1.35h-1.35zM567 250.1h1.35v1.35h-1.35zM561.7 252.7h1.35v1.35h-1.35zM572.5 249.1h1.35v1.35h-1.35zM574 253.3h1.35v1.35h-1.35zM577.1 246h1.35v1.35h-1.35zM572.4 256.1h1.35v1.35h-1.35zM560.6 256h1.35v1.35h-1.35zM561.8 256.8h1.35v1.35h-1.35zM570.5 243h1.35v1.35h-1.35zM578.7 256h1.35v1.35h-1.35zM576.9 254.9h1.35v1.35h-1.35zM572.3 249.8h1.35v1.35h-1.35zM565.1 253.7h1.35v1.35h-1.35zM573 256.6h1.35v1.35h-1.35zM567.5 254.4h1.35v1.35h-1.35zM574.3 247.3h1.35v1.35h-1.35zM560.6 252h1.35v1.35h-1.35zM552.9 256h1.35v1.35h-1.35zM555.1 255h1.35v1.35h-1.35zM568.4 248.7h1.35v1.35h-1.35zM564.2 256.7h1.35v1.35h-1.35zM572.7 255.2h1.35v1.35h-1.35zM564.1 256.4h1.35v1.35h-1.35zM570.7 254.9h1.35v1.35h-1.35zM570.1 250.8h1.35v1.35h-1.35zM554.3 256h1.35v1.35h-1.35zM570.5 255.4h1.35v1.35h-1.35zM577.2 256.8h1.35v1.35h-1.35zM562.1 254.1h1.35v1.35h-1.35zM569.3 254.9h1.35v1.35h-1.35zM571.5 256.9h1.35v1.35h-1.35zM575.7 248.6h1.35v1.35h-1.35zM576 251h1.35v1.35h-1.35zM556.3 256.5h1.35v1.35h-1.35zM570.5 249.9h1.35v1.35h-1.35zM572.3 256.2h1.35v1.35h-1.35zM571 251.5h1.35v1.35h-1.35zM569.3 254.9h1.35v1.35h-1.35zM568.2 250h1.35v1.35h-1.35zM573.3 251.6h1.35v1.35h-1.35zM564.1 250.1h1.35v1.35h-1.35zM566 256.5h1.35v1.35h-1.35zM578.2 253.2h1.35v1.35h-1.35zM555.1 256.7h1.35v1.35h-1.35zM567.1 245.4h1.35v1.35h-1.35zM576.2 253.2h1.35v1.35h-1.35zM559.9 252.3h1.35v1.35h-1.35zM557.3 256.6h1.35v1.35h-1.35zM573.2 238.9h1.35v1.35h-1.35zM563.6 255.6h1.35v1.35h-1.35zM568.1 252.3h1.35v1.35h-1.35zM577.7 252.6h1.35v1.35h-1.35zM566 250.6h1.35v1.35h-1.35zM570.6 256.7h1.35v1.35h-1.35zM574.9 253.6h1.35v1.35h-1.35zM571.5 249.4h1.35v1.35h-1.35zM555 255.7h1.35v1.35h-1.35zM554.1 253.9h1.35v1.35h-1.35zM562 255.9h1.35v1.35h-1.35zM573.9 254.4h1.35v1.35h-1.35zM559.6 254.3h1.35v1.35h-1.35zM565 253.2h1.35v1.35h-1.35zM554.2 253.9h1.35v1.35h-1.35zM577.5 256.9h1.35v1.35h-1.35zM559.1 255.6h1.35v1.35h-1.35zM570.6 255.5h1.35v1.35h-1.35zM578.2 252.8h1.35v1.35h-1.35zM576.6 255.5h1.35v1.35h-1.35zM569.8 248.2h1.35v1.35h-1.35zM568.5 254.7h1.35v1.35h-1.35zM570.7 256.7h1.35v1.35h-1.35zM559.3 255.5h1.35v1.35h-1.35zM573.8 243.3h1.35v1.35h-1.35zM569.2 248.9h1.35v1.35h-1.35zM565.7 256.4h1.35v1.35h-1.35zM554.2 256.7h1.35v1.35h-1.35zM569.6 242.4h1.35v1.35h-1.35zM558.3 257h1.35v1.35h-1.35zM578.1 252.6h1.35v1.35h-1.35zM578.7 256.4h1.35v1.35h-1.35zM577.5 252.6h1.35v1.35h-1.35zM553.6 254.6h1.35v1.35h-1.35zM569.1 251.1h1.35v1.35h-1.35zM557.8 256.9h1.35v1.35h-1.35zM554.3 256.4h1.35v1.35h-1.35zM572.6 252.5h1.35v1.35h-1.35zM568.4 246.1h1.35v1.35h-1.35zM568 248.5h1.35v1.35h-1.35zM552.8 254.7h1.35v1.35h-1.35zM568.1 256.6h1.35v1.35h-1.35zM576.2 250.9h1.35v1.35h-1.35zM577.4 254.8h1.35v1.35h-1.35zM568.7 247.8h1.35v1.35h-1.35zM575.1 252.9h1.35v1.35h-1.35zM576 251.2h1.35v1.35h-1.35zM572.4 253.9h1.35v1.35h-1.35zM576.3 252.4h1.35v1.35h-1.35zM572.3 255.2h1.35v1.35h-1.35zM577.9 251.2h1.35v1.35h-1.35zM564.9 253.5h1.35v1.35h-1.35zM562.6 253.9h1.35v1.35h-1.35zM576.5 248h1.35v1.35h-1.35zM573.8 247.9h1.35v1.35h-1.35zM565 254.3h1.35v1.35h-1.35zM569.7 254.7h1.35v1.35h-1.35zM572.2 250.7h1.35v1.35h-1.35zM573.3 246.7h1.35v1.35h-1.35zM562.9 253.9h1.35v1.35h-1.35zM568.1 253.7h1.35v1.35h-1.35zM566.3 252.4h1.35v1.35h-1.35zM555.1 254.8h1.35v1.35h-1.35zM572.3 249.1h1.35v1.35h-1.35zM577.9 250.9h1.35v1.35h-1.35zM560.9 256.5h1.35v1.35h-1.35zM566.2 254.3h1.35v1.35h-1.35zM559.5 254.5h1.35v1.35h-1.35zM577.9 251h1.35v1.35h-1.35zM577.9 251h1.35v1.35h-1.35zM552.9 256.5h1.35v1.35h-1.35zM571 253.9h1.35v1.35h-1.35zM571.6 238.2h1.35v1.35h-1.35zM564.8 252.5h1.35v1.35h-1.35zM555.5 254.3h1.35v1.35h-1.35zM554.6 255.9h1.35v1.35h-1.35zM575.7 256.7h1.35v1.35h-1.35zM557 256.7h1.35v1.35h-1.35zM576.6 252.1h1.35v1.35h-1.35zM572.9 247.7h1.35v1.35h-1.35zM563.6 252.5h1.35v1.35h-1.35zM553.7 255.2h1.35v1.35h-1.35zM572.2 249.8h1.35v1.35h-1.35zM567.6 254.5h1.35v1.35h-1.35zM578.1 252.6h1.35v1.35h-1.35zM564.9 251.3h1.35v1.35h-1.35zM555.3 255.1h1.35v1.35h-1.35zM566.7 251h1.35v1.35h-1.35zM571.4 249.5h1.35v1.35h-1.35zM569.1 253.3h1.35v1.35h-1.35zM566.5 256.8h1.35v1.35h-1.35zM571.3 251h1.35v1.35h-1.35zM568 251.2h1.35v1.35h-1.35zM572 250h1.35v1.35h-1.35zM577 257.1h1.35v1.35h-1.35zM563.7 253.2h1.35v1.35h-1.35zM559.6 254.7h1.35v1.35h-1.35zM570.6 255.2h1.35v1.35h-1.35zM553.1 254.8h1.35v1.35h-1.35zM573.5 256.8h1.35v1.35h-1.35zM567.5 252.2h1.35v1.35h-1.35zM565.9 252.6h1.35v1.35h-1.35zM578.2 253.3h1.35v1.35h-1.35zM577.8 253.6h1.35v1.35h-1.35zM578.2 253.3h1.35v1.35h-1.35zM572.7 253.9h1.35v1.35h-1.35zM569.1 251.6h1.35v1.35h-1.35zM564.8 248.6h1.35v1.35h-1.35zM574 249.9h1.35v1.35h-1.35zM558.3 253h1.35v1.35h-1.35zM567.4 255.6h1.35v1.35h-1.35zM574.4 242.1h1.35v1.35h-1.35zM559.5 254.6h1.35v1.35h-1.35zM560.7 257h1.35v1.35h-1.35zM573.3 247h1.35v1.35h-1.35zM576.2 244.7h1.35v1.35h-1.35zM568.9 254.1h1.35v1.35h-1.35zM571.4 251.6h1.35v1.35h-1.35zM567.5 252.8h1.35v1.35h-1.35zM567.4 247.6h1.35v1.35h-1.35zM573.6 247.8h1.35v1.35h-1.35zM576.1 255.4h1.35v1.35h-1.35zM572 247.2h1.35v1.35h-1.35zM573.8 252.7h1.35v1.35h-1.35zM571.8 249h1.35v1.35h-1.35zM575.5 252.7h1.35v1.35h-1.35zM570.7 252.1h1.35v1.35h-1.35zM574.7 254.9h1.35v1.35h-1.35zM572.8 255.6h1.35v1.35h-1.35zM574.1 249.4h1.35v1.35h-1.35zM556.2 255.9h1.35v1.35h-1.35zM577.9 251.3h1.35v1.35h-1.35zM571.5 256.3h1.35v1.35h-1.35zM552.8 254.8h1.35v1.35h-1.35zM566.2 256.2h1.35v1.35h-1.35zM570.8 248.3h1.35v1.35h-1.35zM571.7 251.7h1.35v1.35h-1.35zM569.8 255.5h1.35v1.35h-1.35zM572 252.9h1.35v1.35h-1.35zM552.8 255.8h1.35v1.35h-1.35zM552.8 255.1h1.35v1.35h-1.35zM569.9 256.2h1.35v1.35h-1.35zM553.7 256.3h1.35v1.35h-1.35zM555.3 256.1h1.35v1.35h-1.35zM575.5 248.6h1.35v1.35h-1.35zM571.3 248.5h1.35v1.35h-1.35zM571.4 248.9h1.35v1.35h-1.35zM565.2 252.4h1.35v1.35h-1.35zM571 248.9h1.35v1.35h-1.35zM574.9 256.6h1.35v1.35h-1.35zM568.1 255.3h1.35v1.35h-1.35zM573.9 250.3h1.35v1.35h-1.35zM575 254.5h1.35v1.35h-1.35zM578.4 254.2h1.35v1.35h-1.35zM553.7 254.4h1.35v1.35h-1.35zM575.7 253.8h1.35v1.35h-1.35zM553.5 254.4h1.35v1.35h-1.35zM568.2 253.8h1.35v1.35h-1.35zM559.5 254.5h1.35v1.35h-1.35zM554.6 255.2h1.35v1.35h-1.35zM553.2 255.2h1.35v1.35h-1.35zM555.5 257.2h1.35v1.35h-1.35zM573.9 249h1.35v1.35h-1.35zM555 257h1.35v1.35h-1.35zM568.8 252.2h1.35v1.35h-1.35zM574.1 242.1h1.35v1.35h-1.35zM576.7 251.9h1.35v1.35h-1.35zM571.2 248h1.35v1.35h-1.35zM575.2 252.7h1.35v1.35h-1.35zM571.9 256.2h1.35v1.35h-1.35zM571.5 248.5h1.35v1.35h-1.35zM577.6 249.5h1.35v1.35h-1.35zM575.6 253.9h1.35v1.35h-1.35zM573.4 246.4h1.35v1.35h-1.35zM571 252h1.35v1.35h-1.35zM568.2 253.9h1.35v1.35h-1.35zM553.8 253.8h1.35v1.35h-1.35zM571.5 253.1h1.35v1.35h-1.35zM568.7 250.6h1.35v1.35h-1.35zM574.9 248h1.35v1.35h-1.35zM573.3 250.9h1.35v1.35h-1.35zM558.2 256.9h1.35v1.35h-1.35zM559.4 255h1.35v1.35h-1.35zM570.9 243h1.35v1.35h-1.35zM572.1 252.7h1.35v1.35h-1.35zM572.2 256.5h1.35v1.35h-1.35zM562.9 256.8h1.35v1.35h-1.35zM557.8 254.5h1.35v1.35h-1.35zM569.4 243.2h1.35v1.35h-1.35zM556.4 254.9h1.35v1.35h-1.35zM557.3 255.9h1.35v1.35h-1.35zM577.4 247.8h1.35v1.35h-1.35zM559.3 255.1h1.35v1.35h-1.35zM575.1 256.6h1.35v1.35h-1.35zM577.4 255.2h1.35v1.35h-1.35zM564.4 251.6h1.35v1.35h-1.35zM552.8 256.2h1.35v1.35h-1.35zM573.4 247.5h1.35v1.35h-1.35zM570.1 251.4h1.35v1.35h-1.35zM578.1 252.2h1.35v1.35h-1.35zM576.5 253.3h1.35v1.35h-1.35zM573.5 253.3h1.35v1.35h-1.35zM569.1 249h1.35v1.35h-1.35zM563.8 256.9h1.35v1.35h-1.35zM571.3 242.7h1.35v1.35h-1.35zM573.1 251.6h1.35v1.35h-1.35zM571.4 248.1h1.35v1.35h-1.35zM564.9 256.2h1.35v1.35h-1.35zM573.7 249.5h1.35v1.35h-1.35zM572.8 247.1h1.35v1.35h-1.35zM578.3 254.1h1.35v1.35h-1.35zM564.6 257.2h1.35v1.35h-1.35zM569.2 249.6h1.35v1.35h-1.35zM571.9 248h1.35v1.35h-1.35zM573.5 246.7h1.35v1.35h-1.35zM574.2 243.8h1.35v1.35h-1.35zM568.7 248.3h1.35v1.35h-1.35zM571.4 256.1h1.35v1.35h-1.35zM572.3 257h1.35v1.35h-1.35zM574.2 248.6h1.35v1.35h-1.35zM575.1 250.5h1.35v1.35h-1.35zM570 243.4h1.35v1.35h-1.35zM567 254.8h1.35v1.35h-1.35zM571.1 254.5h1.35v1.35h-1.35zM572 250.4h1.35v1.35h-1.35zM574 250.1h1.35v1.35h-1.35zM572.8 253.6h1.35v1.35h-1.35zM572.6 249.5h1.35v1.35h-1.35zM575.4 247.3h1.35v1.35h-1.35zM577.9 251.4h1.35v1.35h-1.35zM572.1 255.1h1.35v1.35h-1.35zM577.1 249.1h1.35v1.35h-1.35zM572.4 248.6h1.35v1.35h-1.35zM573.4 246.7h1.35v1.35h-1.35zM568.5 250.2h1.35v1.35h-1.35zM578.1 252.2h1.35v1.35h-1.35zM553.8 255.3h1.35v1.35h-1.35zM571.6 254.4h1.35v1.35h-1.35zM568.2 250.8h1.35v1.35h-1.35zM559.8 253.6h1.35v1.35h-1.35zM574.4 240.4h1.35v1.35h-1.35zM570 247.6h1.35v1.35h-1.35zM578.6 255.7h1.35v1.35h-1.35zM578.7 256.2h1.35v1.35h-1.35zM572.4 251.6h1.35v1.35h-1.35zM571.3 248.2h1.35v1.35h-1.35zM561.2 255.2h1.35v1.35h-1.35zM572.5 246.5h1.35v1.35h-1.35zM565.3 252h1.35v1.35h-1.35zM574.9 253.9h1.35v1.35h-1.35zM565.4 251.5h1.35v1.35h-1.35zM577.2 253.7h1.35v1.35h-1.35zM574 253.1h1.35v1.35h-1.35zM566.7 247.5h1.35v1.35h-1.35zM571.4 254.5h1.35v1.35h-1.35zM567.8 250.2h1.35v1.35h-1.35zM574.5 254.1h1.35v1.35h-1.35zM567.7 252.5h1.35v1.35h-1.35zM572.8 253.2h1.35v1.35h-1.35zM571.9 249.7h1.35v1.35h-1.35zM573.2 250.6h1.35v1.35h-1.35zM578.7 256.9h1.35v1.35h-1.35zM571.9 257.2h1.35v1.35h-1.35zM566.6 252.3h1.35v1.35h-1.35zM569.6 245.5h1.35v1.35h-1.35zM555.9 255.9h1.35v1.35h-1.35zM577.8 250.8h1.35v1.35h-1.35zM574.9 256.6h1.35v1.35h-1.35zM566.9 250.4h1.35v1.35h-1.35zM574.8 248.3h1.35v1.35h-1.35zM570.5 253.2h1.35v1.35h-1.35zM554.2 256.7h1.35v1.35h-1.35zM567.7 251.1h1.35v1.35h-1.35zM575.1 248.9h1.35v1.35h-1.35zM552.8 254.4h1.35v1.35h-1.35zM563.9 255.6h1.35v1.35h-1.35zM570.5 252.5h1.35v1.35h-1.35zM553 256.3h1.35v1.35h-1.35zM578.3 253.5h1.35v1.35h-1.35zM575.8 253.8h1.35v1.35h-1.35zM572.5 246.5h1.35v1.35h-1.35zM565.6 256.2h1.35v1.35h-1.35zM575.2 250h1.35v1.35h-1.35zM563.9 254.4h1.35v1.35h-1.35zM573 247h1.35v1.35h-1.35zM577.1 253.3h1.35v1.35h-1.35zM556 254.3h1.35v1.35h-1.35zM567.4 255.5h1.35v1.35h-1.35zM568.8 255.6h1.35v1.35h-1.35zM568.8 243.5h1.35v1.35h-1.35zM555.1 254.5h1.35v1.35h-1.35zM557.2 255.3h1.35v1.35h-1.35zM571.6 247.4h1.35v1.35h-1.35zM578.1 252.5h1.35v1.35h-1.35zM574.5 252.7h1.35v1.35h-1.35zM570.3 249.8h1.35v1.35h-1.35zM578.1 252.6h1.35v1.35h-1.35zM568.2 249.8h1.35v1.35h-1.35zM555.3 256.7h1.35v1.35h-1.35zM565.5 254.8h1.35v1.35h-1.35zM554.6 255.1h1.35v1.35h-1.35zM566.2 255.3h1.35v1.35h-1.35zM576.1 253.7h1.35v1.35h-1.35zM563.6 254.1h1.35v1.35h-1.35zM556.9 253.9h1.35v1.35h-1.35zM567.6 251.1h1.35v1.35h-1.35zM562.4 253.4h1.35v1.35h-1.35zM565.8 253.1h1.35v1.35h-1.35zM573.6 257.1h1.35v1.35h-1.35zM577.9 251h1.35v1.35h-1.35zM578 251.9h1.35v1.35h-1.35zM559.2 252.7h1.35v1.35h-1.35zM577.3 253.8h1.35v1.35h-1.35zM566.9 255.5h1.35v1.35h-1.35zM570.6 256.6h1.35v1.35h-1.35zM564.4 255.5h1.35v1.35h-1.35zM561.7 253.2h1.35v1.35h-1.35zM554.3 255.8h1.35v1.35h-1.35zM571.2 254.5h1.35v1.35h-1.35zM570.1 251.4h1.35v1.35h-1.35zM564 251.6h1.35v1.35h-1.35zM559 253.6h1.35v1.35h-1.35zM567.8 254.6h1.35v1.35h-1.35zM578.2 256.6h1.35v1.35h-1.35zM571.1 253h1.35v1.35h-1.35zM574.2 248.8h1.35v1.35h-1.35zM565.7 252.3h1.35v1.35h-1.35zM566.5 254.1h1.35v1.35h-1.35zM571.8 255h1.35v1.35h-1.35zM564.6 251.4h1.35v1.35h-1.35zM575.7 252.9h1.35v1.35h-1.35zM564 254.3h1.35v1.35h-1.35zM577.5 253.4h1.35v1.35h-1.35zM568.3 254.5h1.35v1.35h-1.35zM577.1 246.2h1.35v1.35h-1.35zM556.6 256.5h1.35v1.35h-1.35zM575 254h1.35v1.35h-1.35zM571.2 256.1h1.35v1.35h-1.35zM570.8 253.9h1.35v1.35h-1.35zM577.7 250h1.35v1.35h-1.35zM574.2 247.7h1.35v1.35h-1.35zM575.7 249.5h1.35v1.35h-1.35zM576.8 253.6h1.35v1.35h-1.35zM575.8 248.4h1.35v1.35h-1.35zM573.1 246.3h1.35v1.35h-1.35zM568.7 255.1h1.35v1.35h-1.35zM570.8 243h1.35v1.35h-1.35zM566.1 251.8h1.35v1.35h-1.35zM556.3 255.3h1.35v1.35h-1.35zM555 256.1h1.35v1.35h-1.35zM557.9 255h1.35v1.35h-1.35zM578.2 253.3h1.35v1.35h-1.35zM568.4 255.6h1.35v1.35h-1.35zM571.1 257.2h1.35v1.35h-1.35zM578.1 252.6h1.35v1.35h-1.35zM578.1 254.2h1.35v1.35h-1.35zM568.8 251.4h1.35v1.35h-1.35zM558.2 256.3h1.35v1.35h-1.35zM576.3 253.3h1.35v1.35h-1.35zM578.2 253h1.35v1.35h-1.35zM565.7 256.3h1.35v1.35h-1.35zM570.3 252.2h1.35v1.35h-1.35zM567.8 249.5h1.35v1.35h-1.35zM567.1 251.5h1.35v1.35h-1.35zM565 256.9h1.35v1.35h-1.35zM571.2 241.4h1.35v1.35h-1.35zM571.5 248.4h1.35v1.35h-1.35zM570.3 250.6h1.35v1.35h-1.35zM570.3 254.7h1.35v1.35h-1.35zM573.9 253.2h1.35v1.35h-1.35zM569.9 251.2h1.35v1.35h-1.35zM572.5 251.9h1.35v1.35h-1.35zM553.6 256.9h1.35v1.35h-1.35zM570.2 248.1h1.35v1.35h-1.35zM572.6 255.2h1.35v1.35h-1.35zM573.6 255.3h1.35v1.35h-1.35zM572.1 253.8h1.35v1.35h-1.35zM569.2 252.1h1.35v1.35h-1.35zM565.4 252.6h1.35v1.35h-1.35zM573.7 256.3h1.35v1.35h-1.35zM574 251.6h1.35v1.35h-1.35zM569.9 254.5h1.35v1.35h-1.35zM578.5 254.8h1.35v1.35h-1.35zM577.8 250.2h1.35v1.35h-1.35zM573.4 245.6h1.35v1.35h-1.35zM569.2 247.9h1.35v1.35h-1.35zM563.1 256h1.35v1.35h-1.35zM567.6 252.8h1.35v1.35h-1.35zM573.6 252.8h1.35v1.35h-1.35zM572.6 251.9h1.35v1.35h-1.35zM554.4 253.7h1.35v1.35h-1.35zM569.7 252.5h1.35v1.35h-1.35zM556.8 255h1.35v1.35h-1.35zM578.2 252.9h1.35v1.35h-1.35zM569.7 255.7h1.35v1.35h-1.35zM571.7 252.4h1.35v1.35h-1.35zM578 252h1.35v1.35h-1.35zM564.2 249.6h1.35v1.35h-1.35zM571.7 246.6h1.35v1.35h-1.35zM577.8 256h1.35v1.35h-1.35zM572.3 256.6h1.35v1.35h-1.35zM560.9 255.9h1.35v1.35h-1.35zM569.7 254.3h1.35v1.35h-1.35zM567.4 256.6h1.35v1.35h-1.35zM569.8 256.1h1.35v1.35h-1.35zM562.5 253.2h1.35v1.35h-1.35zM567.6 244.4h1.35v1.35h-1.35zM554.5 254.2h1.35v1.35h-1.35zM572 246.8h1.35v1.35h-1.35zM572.5 227.8h1.35v1.35h-1.35zM573.3 237.4h1.35v1.35h-1.35zM572.8 238h1.35v1.35h-1.35z" fill="#8fbef0"/>
<path d="M594.2 256.1h1.35v1.35h-1.35zM587.2 252.3h1.35v1.35h-1.35zM580.5 254.1h1.35v1.35h-1.35zM580.1 248.4h1.35v1.35h-1.35zM580.3 247.2h1.35v1.35h-1.35zM586.8 254.3h1.35v1.35h-1.35zM583.3 256.8h1.35v1.35h-1.35zM586.7 253.1h1.35v1.35h-1.35zM582.2 253.9h1.35v1.35h-1.35zM583 239.8h1.35v1.35h-1.35zM581.7 247.6h1.35v1.35h-1.35zM579.8 254.1h1.35v1.35h-1.35zM579.7 251.7h1.35v1.35h-1.35zM583 256h1.35v1.35h-1.35zM585.4 244.2h1.35v1.35h-1.35zM580.2 250.8h1.35v1.35h-1.35zM591.8 257.1h1.35v1.35h-1.35zM599.9 255.4h1.35v1.35h-1.35zM581.5 252.8h1.35v1.35h-1.35zM580.8 251.1h1.35v1.35h-1.35zM579.4 253.5h1.35v1.35h-1.35zM583.5 248.4h1.35v1.35h-1.35zM582.9 243.1h1.35v1.35h-1.35zM581 248.8h1.35v1.35h-1.35zM584.2 252.5h1.35v1.35h-1.35zM583.3 248.5h1.35v1.35h-1.35zM583.3 254.4h1.35v1.35h-1.35zM580.1 248.6h1.35v1.35h-1.35zM589.4 255.5h1.35v1.35h-1.35zM579.1 256h1.35v1.35h-1.35zM602.5 256.8h1.35v1.35h-1.35zM584.6 254.7h1.35v1.35h-1.35zM580.7 244.2h1.35v1.35h-1.35zM581.2 256.4h1.35v1.35h-1.35zM581.8 254.6h1.35v1.35h-1.35zM593.9 256.1h1.35v1.35h-1.35zM583.6 256.7h1.35v1.35h-1.35zM583.8 243.6h1.35v1.35h-1.35zM579.9 255.8h1.35v1.35h-1.35zM581.2 249.9h1.35v1.35h-1.35zM583.8 245.6h1.35v1.35h-1.35zM580.2 249.4h1.35v1.35h-1.35zM583.8 254.8h1.35v1.35h-1.35zM591.3 257.1h1.35v1.35h-1.35zM579.4 253.8h1.35v1.35h-1.35zM580.2 247.9h1.35v1.35h-1.35zM584.3 253.2h1.35v1.35h-1.35zM580.5 254.6h1.35v1.35h-1.35zM581.8 254.6h1.35v1.35h-1.35zM580.2 247.8h1.35v1.35h-1.35zM583.9 249.4h1.35v1.35h-1.35zM581.2 254.7h1.35v1.35h-1.35zM584.4 249.8h1.35v1.35h-1.35zM585.2 241.1h1.35v1.35h-1.35zM579.8 252.6h1.35v1.35h-1.35zM580.1 249.3h1.35v1.35h-1.35zM600.1 256.2h1.35v1.35h-1.35zM586.8 253.5h1.35v1.35h-1.35zM581.4 246.4h1.35v1.35h-1.35zM598.6 256h1.35v1.35h-1.35zM580.2 247.7h1.35v1.35h-1.35zM582.3 254.8h1.35v1.35h-1.35zM579.1 256h1.35v1.35h-1.35zM580.9 253.7h1.35v1.35h-1.35zM581.2 242.3h1.35v1.35h-1.35zM583.4 248.5h1.35v1.35h-1.35zM580.8 251.6h1.35v1.35h-1.35zM582.6 254.6h1.35v1.35h-1.35zM579.2 255.5h1.35v1.35h-1.35zM599.7 256.7h1.35v1.35h-1.35zM580.9 255.5h1.35v1.35h-1.35zM579.9 252.8h1.35v1.35h-1.35zM597.9 256.2h1.35v1.35h-1.35zM581 241.5h1.35v1.35h-1.35zM579.9 256.1h1.35v1.35h-1.35zM582.8 253.1h1.35v1.35h-1.35zM580.9 250.7h1.35v1.35h-1.35zM586 254.5h1.35v1.35h-1.35zM590 254.7h1.35v1.35h-1.35zM579.4 253.7h1.35v1.35h-1.35zM586.4 251.8h1.35v1.35h-1.35zM583.5 252.4h1.35v1.35h-1.35zM579 257.1h1.35v1.35h-1.35zM580.9 242.1h1.35v1.35h-1.35zM580.2 255.6h1.35v1.35h-1.35zM583.9 248.2h1.35v1.35h-1.35zM580 249.2h1.35v1.35h-1.35zM580.2 247.6h1.35v1.35h-1.35zM596.4 256.5h1.35v1.35h-1.35zM582.4 253.4h1.35v1.35h-1.35zM583 251.7h1.35v1.35h-1.35zM580 249.5h1.35v1.35h-1.35zM582 251.5h1.35v1.35h-1.35zM584.3 241.1h1.35v1.35h-1.35zM583.2 252.3h1.35v1.35h-1.35zM581.3 249.4h1.35v1.35h-1.35zM598.3 256.7h1.35v1.35h-1.35zM580.6 255h1.35v1.35h-1.35zM598 256.3h1.35v1.35h-1.35zM584.9 250.1h1.35v1.35h-1.35zM581.5 247.2h1.35v1.35h-1.35zM583.1 236.7h1.35v1.35h-1.35zM585.1 248.4h1.35v1.35h-1.35zM580.9 255.4h1.35v1.35h-1.35zM581.6 249.6h1.35v1.35h-1.35zM584.6 256.3h1.35v1.35h-1.35zM585.8 242.9h1.35v1.35h-1.35zM591.2 257h1.35v1.35h-1.35zM600.9 256.6h1.35v1.35h-1.35zM582.7 240.5h1.35v1.35h-1.35zM587.5 254.3h1.35v1.35h-1.35zM579.6 255.6h1.35v1.35h-1.35zM582.2 247.3h1.35v1.35h-1.35zM582.4 252.6h1.35v1.35h-1.35zM580.6 244.5h1.35v1.35h-1.35zM582.5 253.1h1.35v1.35h-1.35zM579.2 255.5h1.35v1.35h-1.35zM580.2 247.8h1.35v1.35h-1.35zM597.4 256.9h1.35v1.35h-1.35zM582.2 251.5h1.35v1.35h-1.35zM600.7 257.1h1.35v1.35h-1.35zM582.1 242.4h1.35v1.35h-1.35zM582.6 243.2h1.35v1.35h-1.35zM582.9 252.5h1.35v1.35h-1.35zM585 255.2h1.35v1.35h-1.35zM580.2 251.8h1.35v1.35h-1.35zM592.7 255.5h1.35v1.35h-1.35zM587.2 253.5h1.35v1.35h-1.35zM583.4 240.3h1.35v1.35h-1.35zM581.3 250.5h1.35v1.35h-1.35zM581.2 240.4h1.35v1.35h-1.35zM589.9 257h1.35v1.35h-1.35zM580.7 255.6h1.35v1.35h-1.35zM583.5 255.5h1.35v1.35h-1.35zM579.7 255.3h1.35v1.35h-1.35zM579.2 255.2h1.35v1.35h-1.35zM584.3 252.3h1.35v1.35h-1.35zM580.5 254.7h1.35v1.35h-1.35zM580.7 247h1.35v1.35h-1.35zM583.7 249.5h1.35v1.35h-1.35zM582.8 246.6h1.35v1.35h-1.35zM585.2 255.7h1.35v1.35h-1.35zM579.3 255.3h1.35v1.35h-1.35zM579.9 256h1.35v1.35h-1.35zM580.9 242.1h1.35v1.35h-1.35zM580 249.5h1.35v1.35h-1.35zM585.2 250.9h1.35v1.35h-1.35zM581.2 246.2h1.35v1.35h-1.35zM584.1 250h1.35v1.35h-1.35zM592.8 257h1.35v1.35h-1.35zM582 247h1.35v1.35h-1.35zM581.1 246h1.35v1.35h-1.35zM582.9 249.9h1.35v1.35h-1.35zM581.9 249.3h1.35v1.35h-1.35zM585.9 252.3h1.35v1.35h-1.35zM582 247.6h1.35v1.35h-1.35zM585.9 256.8h1.35v1.35h-1.35zM582.5 254.5h1.35v1.35h-1.35zM580.8 251.1h1.35v1.35h-1.35zM587.6 254.3h1.35v1.35h-1.35zM584.1 247.6h1.35v1.35h-1.35zM580.2 254h1.35v1.35h-1.35zM584.8 246.8h1.35v1.35h-1.35zM583.3 248.8h1.35v1.35h-1.35zM589.9 254.6h1.35v1.35h-1.35zM590.3 256.8h1.35v1.35h-1.35zM595.8 257.1h1.35v1.35h-1.35zM583.9 256.9h1.35v1.35h-1.35zM581.7 250.2h1.35v1.35h-1.35zM580.6 244.9h1.35v1.35h-1.35zM580.5 245.8h1.35v1.35h-1.35zM580.9 257h1.35v1.35h-1.35zM581.4 249.6h1.35v1.35h-1.35zM582 241.9h1.35v1.35h-1.35zM584.3 247.8h1.35v1.35h-1.35zM584.9 254.6h1.35v1.35h-1.35zM580.9 256.9h1.35v1.35h-1.35zM584 255.4h1.35v1.35h-1.35zM581.2 255.4h1.35v1.35h-1.35zM584.5 249.2h1.35v1.35h-1.35zM584.7 239.6h1.35v1.35h-1.35zM585.9 244.5h1.35v1.35h-1.35zM582.7 257.1h1.35v1.35h-1.35zM582.8 252.3h1.35v1.35h-1.35zM584.7 240.2h1.35v1.35h-1.35zM582.2 245.9h1.35v1.35h-1.35zM579.9 250.1h1.35v1.35h-1.35zM579.2 255.5h1.35v1.35h-1.35zM584 256.3h1.35v1.35h-1.35zM583 249.2h1.35v1.35h-1.35zM579.1 256h1.35v1.35h-1.35zM581.2 256.9h1.35v1.35h-1.35zM582.6 251.1h1.35v1.35h-1.35zM580.2 256.7h1.35v1.35h-1.35zM581.5 247.3h1.35v1.35h-1.35zM582.2 254.8h1.35v1.35h-1.35zM580.1 248.5h1.35v1.35h-1.35zM583 251.5h1.35v1.35h-1.35zM583.4 246.1h1.35v1.35h-1.35zM583.5 255.9h1.35v1.35h-1.35zM580.6 244.6h1.35v1.35h-1.35zM583.8 251.6h1.35v1.35h-1.35zM581.2 252.3h1.35v1.35h-1.35zM582.6 252.6h1.35v1.35h-1.35zM584.9 250.8h1.35v1.35h-1.35zM582.1 255.2h1.35v1.35h-1.35zM587.1 253.9h1.35v1.35h-1.35zM580.3 246.7h1.35v1.35h-1.35zM585.1 249.2h1.35v1.35h-1.35zM581.6 249.7h1.35v1.35h-1.35zM580.3 246.7h1.35v1.35h-1.35zM583.2 249.8h1.35v1.35h-1.35zM584.7 246.2h1.35v1.35h-1.35zM585.1 256.7h1.35v1.35h-1.35zM581.9 252.5h1.35v1.35h-1.35zM581.3 254.3h1.35v1.35h-1.35zM582 237.9h1.35v1.35h-1.35zM582.6 247.5h1.35v1.35h-1.35zM585 255.4h1.35v1.35h-1.35zM582.1 254.3h1.35v1.35h-1.35zM580.8 252.4h1.35v1.35h-1.35zM596.4 256.4h1.35v1.35h-1.35zM579.6 252h1.35v1.35h-1.35zM583.4 248.9h1.35v1.35h-1.35zM584.1 250.7h1.35v1.35h-1.35zM583.3 248.3h1.35v1.35h-1.35zM580.2 254.1h1.35v1.35h-1.35zM581.3 246.7h1.35v1.35h-1.35zM583.8 251.2h1.35v1.35h-1.35zM579.1 256.3h1.35v1.35h-1.35zM581.5 248.3h1.35v1.35h-1.35zM601 257h1.35v1.35h-1.35zM582.6 251.4h1.35v1.35h-1.35zM588.8 254h1.35v1.35h-1.35zM580.1 248.3h1.35v1.35h-1.35zM583.5 253h1.35v1.35h-1.35zM584.9 256.9h1.35v1.35h-1.35zM584.1 256.3h1.35v1.35h-1.35zM579.5 252.8h1.35v1.35h-1.35zM582.4 257.1h1.35v1.35h-1.35zM597.6 257.1h1.35v1.35h-1.35zM579.4 253.9h1.35v1.35h-1.35zM581.2 246.8h1.35v1.35h-1.35zM583.5 248.9h1.35v1.35h-1.35zM581.5 249.9h1.35v1.35h-1.35zM583.5 255.8h1.35v1.35h-1.35zM582.6 251.8h1.35v1.35h-1.35zM581.9 245.8h1.35v1.35h-1.35zM579.4 254h1.35v1.35h-1.35zM579 256.6h1.35v1.35h-1.35zM598.6 256.4h1.35v1.35h-1.35zM584.3 248.2h1.35v1.35h-1.35zM582.5 251.7h1.35v1.35h-1.35zM582.5 250.4h1.35v1.35h-1.35zM580.6 254.9h1.35v1.35h-1.35zM581.7 248.9h1.35v1.35h-1.35zM584.1 251.1h1.35v1.35h-1.35zM584.4 248.9h1.35v1.35h-1.35zM597.7 256.6h1.35v1.35h-1.35zM599.9 256.7h1.35v1.35h-1.35zM589.4 257h1.35v1.35h-1.35zM583.7 253.6h1.35v1.35h-1.35zM582.3 256.9h1.35v1.35h-1.35zM583.7 256.6h1.35v1.35h-1.35zM586.6 249.6h1.35v1.35h-1.35zM582.6 252h1.35v1.35h-1.35zM581.7 254.1h1.35v1.35h-1.35zM584.2 252.3h1.35v1.35h-1.35zM584.1 248.4h1.35v1.35h-1.35zM579.8 250.5h1.35v1.35h-1.35zM582.4 256.8h1.35v1.35h-1.35zM581.9 247.9h1.35v1.35h-1.35zM583.5 248.4h1.35v1.35h-1.35zM600.6 255.8h1.35v1.35h-1.35zM584.4 252.1h1.35v1.35h-1.35zM580.4 252.4h1.35v1.35h-1.35zM596.6 256.5h1.35v1.35h-1.35zM580.5 256.2h1.35v1.35h-1.35zM588.2 255.4h1.35v1.35h-1.35zM584.3 255.7h1.35v1.35h-1.35zM584.8 247.9h1.35v1.35h-1.35zM582.1 246.9h1.35v1.35h-1.35zM580 250.2h1.35v1.35h-1.35zM587.5 254h1.35v1.35h-1.35zM581.1 244.7h1.35v1.35h-1.35zM580 249.3h1.35v1.35h-1.35zM581.6 246.5h1.35v1.35h-1.35zM581.1 248.2h1.35v1.35h-1.35zM579.8 251.2h1.35v1.35h-1.35zM585.7 256.1h1.35v1.35h-1.35zM581.7 253.7h1.35v1.35h-1.35zM582.8 244.3h1.35v1.35h-1.35zM581.6 246.4h1.35v1.35h-1.35zM579 256.7h1.35v1.35h-1.35zM580.9 250.4h1.35v1.35h-1.35zM595.9 256.2h1.35v1.35h-1.35zM595.4 256h1.35v1.35h-1.35zM599.5 256.6h1.35v1.35h-1.35zM580.4 246.7h1.35v1.35h-1.35zM580.2 254h1.35v1.35h-1.35zM591.4 255.5h1.35v1.35h-1.35zM579 256.7h1.35v1.35h-1.35zM582.9 255.8h1.35v1.35h-1.35zM579.6 252h1.35v1.35h-1.35zM583 251.5h1.35v1.35h-1.35zM584.7 250.3h1.35v1.35h-1.35zM589.4 256.7h1.35v1.35h-1.35zM582.7 247.7h1.35v1.35h-1.35zM581.5 250.2h1.35v1.35h-1.35zM582.5 251.4h1.35v1.35h-1.35zM585.8 244.9h1.35v1.35h-1.35zM600.4 256h1.35v1.35h-1.35zM582.1 249.3h1.35v1.35h-1.35zM582.5 246.9h1.35v1.35h-1.35zM580.1 249h1.35v1.35h-1.35zM582.5 248.9h1.35v1.35h-1.35zM581.2 253.3h1.35v1.35h-1.35zM581.5 248.3h1.35v1.35h-1.35zM582.4 250.5h1.35v1.35h-1.35zM585.7 252.1h1.35v1.35h-1.35zM580.3 246.7h1.35v1.35h-1.35zM588.5 255.4h1.35v1.35h-1.35zM579.9 249.8h1.35v1.35h-1.35zM582.3 250.6h1.35v1.35h-1.35zM580.9 255.1h1.35v1.35h-1.35zM585 251.5h1.35v1.35h-1.35zM583.4 255h1.35v1.35h-1.35zM579.7 253.4h1.35v1.35h-1.35zM583.7 244.7h1.35v1.35h-1.35zM585.9 252.7h1.35v1.35h-1.35zM584.4 246.6h1.35v1.35h-1.35zM580.4 246h1.35v1.35h-1.35zM580.6 250.2h1.35v1.35h-1.35zM579.8 250.6h1.35v1.35h-1.35zM581.7 250.3h1.35v1.35h-1.35zM579.2 255.1h1.35v1.35h-1.35zM581.2 240.1h1.35v1.35h-1.35zM582.8 253.6h1.35v1.35h-1.35zM581.4 252.8h1.35v1.35h-1.35zM584.5 243.4h1.35v1.35h-1.35zM584.8 255.8h1.35v1.35h-1.35zM583.8 251.6h1.35v1.35h-1.35zM591.2 255.6h1.35v1.35h-1.35zM585.4 244.1h1.35v1.35h-1.35zM582.8 250.3h1.35v1.35h-1.35zM581.3 246.8h1.35v1.35h-1.35zM584.3 255.9h1.35v1.35h-1.35zM595.8 257.1h1.35v1.35h-1.35zM579.4 256.3h1.35v1.35h-1.35zM580.2 247.5h1.35v1.35h-1.35zM581.3 251.6h1.35v1.35h-1.35zM589.6 256.4h1.35v1.35h-1.35zM581 254.3h1.35v1.35h-1.35zM598.1 255.9h1.35v1.35h-1.35zM584.3 246.8h1.35v1.35h-1.35zM585 248h1.35v1.35h-1.35zM583.4 249.1h1.35v1.35h-1.35zM595.4 255.8h1.35v1.35h-1.35zM584.9 255.5h1.35v1.35h-1.35zM583.4 252.4h1.35v1.35h-1.35zM580.3 252.4h1.35v1.35h-1.35zM589.4 255.9h1.35v1.35h-1.35zM588.8 256.4h1.35v1.35h-1.35zM580.1 251.7h1.35v1.35h-1.35zM581.9 255.8h1.35v1.35h-1.35zM580.8 247.6h1.35v1.35h-1.35zM582.3 246.4h1.35v1.35h-1.35zM580 249.1h1.35v1.35h-1.35zM581.4 254h1.35v1.35h-1.35zM580.3 256.2h1.35v1.35h-1.35zM582.1 249.9h1.35v1.35h-1.35zM597.6 255.5h1.35v1.35h-1.35zM587.2 256.8h1.35v1.35h-1.35zM581.5 252.4h1.35v1.35h-1.35zM589.4 257.1h1.35v1.35h-1.35zM584.7 252.3h1.35v1.35h-1.35zM580 249.1h1.35v1.35h-1.35zM582.9 255.7h1.35v1.35h-1.35zM582.2 247.9h1.35v1.35h-1.35zM590.8 255.7h1.35v1.35h-1.35zM582.2 257h1.35v1.35h-1.35zM583 255.8h1.35v1.35h-1.35zM580.4 246.5h1.35v1.35h-1.35zM586.6 246.8h1.35v1.35h-1.35zM581.6 254.2h1.35v1.35h-1.35zM579.4 253.9h1.35v1.35h-1.35zM597.6 256h1.35v1.35h-1.35zM579 257.1h1.35v1.35h-1.35zM580 249.5h1.35v1.35h-1.35zM584.9 243.9h1.35v1.35h-1.35zM600.7 256.8h1.35v1.35h-1.35zM583.2 239.8h1.35v1.35h-1.35zM582.8 247h1.35v1.35h-1.35zM580.7 253.3h1.35v1.35h-1.35zM580.4 246.6h1.35v1.35h-1.35zM599.9 256.5h1.35v1.35h-1.35zM582.3 252.3h1.35v1.35h-1.35zM596.7 256.1h1.35v1.35h-1.35zM580.2 247.6h1.35v1.35h-1.35zM580.4 246.1h1.35v1.35h-1.35zM584.7 255.4h1.35v1.35h-1.35zM581.7 256.5h1.35v1.35h-1.35zM582.1 247.9h1.35v1.35h-1.35zM579.9 256h1.35v1.35h-1.35zM585 255.6h1.35v1.35h-1.35zM581.4 246.9h1.35v1.35h-1.35zM580.3 247h1.35v1.35h-1.35zM582.7 256.5h1.35v1.35h-1.35zM584.6 250.1h1.35v1.35h-1.35zM579.6 252.4h1.35v1.35h-1.35zM580.2 251.5h1.35v1.35h-1.35zM581.8 248.1h1.35v1.35h-1.35zM583.8 249.4h1.35v1.35h-1.35zM581.5 255.7h1.35v1.35h-1.35zM580.1 256.4h1.35v1.35h-1.35zM581.4 246.3h1.35v1.35h-1.35zM582.7 252.6h1.35v1.35h-1.35zM585.4 256.3h1.35v1.35h-1.35zM580.7 250.4h1.35v1.35h-1.35zM580.7 257.2h1.35v1.35h-1.35zM580.1 248.9h1.35v1.35h-1.35zM581.7 251.4h1.35v1.35h-1.35zM583 250.1h1.35v1.35h-1.35zM582.1 251.1h1.35v1.35h-1.35zM586.6 254.3h1.35v1.35h-1.35zM581.1 252.5h1.35v1.35h-1.35zM583.2 250.5h1.35v1.35h-1.35zM579.7 255.1h1.35v1.35h-1.35zM579.3 254.5h1.35v1.35h-1.35zM583.6 249.6h1.35v1.35h-1.35zM584.3 247.1h1.35v1.35h-1.35zM584.1 255.9h1.35v1.35h-1.35zM585.5 251h1.35v1.35h-1.35zM582.8 249.4h1.35v1.35h-1.35zM583.5 251.6h1.35v1.35h-1.35zM585.9 252.6h1.35v1.35h-1.35zM581.9 256.9h1.35v1.35h-1.35zM583 251.6h1.35v1.35h-1.35zM582.5 256h1.35v1.35h-1.35zM581.1 256.3h1.35v1.35h-1.35zM586 256.4h1.35v1.35h-1.35zM580.4 246h1.35v1.35h-1.35zM580.3 251.9h1.35v1.35h-1.35zM580.9 242.3h1.35v1.35h-1.35zM580.7 252.7h1.35v1.35h-1.35zM584.5 252.1h1.35v1.35h-1.35zM587.2 256.8h1.35v1.35h-1.35zM582.9 249.2h1.35v1.35h-1.35zM584.4 250h1.35v1.35h-1.35zM582.9 252.2h1.35v1.35h-1.35zM580 249h1.35v1.35h-1.35zM582.4 246h1.35v1.35h-1.35zM584.7 253.6h1.35v1.35h-1.35zM584 255h1.35v1.35h-1.35zM582 253.2h1.35v1.35h-1.35zM585.1 256h1.35v1.35h-1.35zM584.4 255.4h1.35v1.35h-1.35zM582.6 250.4h1.35v1.35h-1.35zM582 254h1.35v1.35h-1.35zM601.4 256.2h1.35v1.35h-1.35zM585.8 254.1h1.35v1.35h-1.35zM583.7 250.4h1.35v1.35h-1.35zM584.8 240.4h1.35v1.35h-1.35zM585.4 246.1h1.35v1.35h-1.35zM584.7 243.5h1.35v1.35h-1.35zM581.6 255.1h1.35v1.35h-1.35zM591.4 257h1.35v1.35h-1.35zM582.2 253.8h1.35v1.35h-1.35zM593.1 257h1.35v1.35h-1.35zM589.2 256.3h1.35v1.35h-1.35zM581.2 254.6h1.35v1.35h-1.35zM582.4 251.2h1.35v1.35h-1.35zM591.6 256.3h1.35v1.35h-1.35zM583.6 244.9h1.35v1.35h-1.35zM582.6 249.9h1.35v1.35h-1.35zM580.9 251.4h1.35v1.35h-1.35zM582.7 253.1h1.35v1.35h-1.35zM598 256h1.35v1.35h-1.35zM589 253.3h1.35v1.35h-1.35zM596.9 255.1h1.35v1.35h-1.35zM586.7 250.4h1.35v1.35h-1.35zM582.1 256.2h1.35v1.35h-1.35zM597.9 256.9h1.35v1.35h-1.35zM582.7 248.7h1.35v1.35h-1.35zM585.1 250h1.35v1.35h-1.35zM579.2 255.6h1.35v1.35h-1.35zM584.7 253.4h1.35v1.35h-1.35zM583.8 253.4h1.35v1.35h-1.35zM579.8 251.1h1.35v1.35h-1.35zM584.5 256.8h1.35v1.35h-1.35zM598.6 255.4h1.35v1.35h-1.35zM585.6 252.6h1.35v1.35h-1.35zM584.5 255.7h1.35v1.35h-1.35zM580.6 257.1h1.35v1.35h-1.35zM585.1 240.5h1.35v1.35h-1.35zM585.4 244.3h1.35v1.35h-1.35zM582.3 251.6h1.35v1.35h-1.35zM582.1 251.7h1.35v1.35h-1.35zM580.6 249.5h1.35v1.35h-1.35zM581.1 241.3h1.35v1.35h-1.35zM582.2 237.4h1.35v1.35h-1.35zM585.7 238.6h1.35v1.35h-1.35zM588.6 239.8h1.35v1.35h-1.35zM588 240.4h1.35v1.35h-1.35z" fill="#f0979c"/>
</g>
<rect x="553.2" y="198.4" width="52.6" height="60" fill="none" stroke="#8a8a8a" stroke-width="0.8"/>
<line x1="553.2" y1="198.4" x2="553.2" y2="258.4" stroke="#555" stroke-width="0.8"/>
<line x1="553.2" y1="258.4" x2="605.8" y2="258.4" stroke="#555" stroke-width="0.8"/>
<line x1="551.6" y1="258.4" x2="553.2" y2="258.4" stroke="#555" stroke-width="0.6"/>
<line x1="551.6" y1="246.4" x2="553.2" y2="246.4" stroke="#555" stroke-width="0.6"/>
<line x1="551.6" y1="234.4" x2="553.2" y2="234.4" stroke="#555" stroke-width="0.6"/>
<line x1="551.6" y1="222.4" x2="553.2" y2="222.4" stroke="#555" stroke-width="0.6"/>
<line x1="551.6" y1="210.4" x2="553.2" y2="210.4" stroke="#555" stroke-width="0.6"/>
<line x1="551.6" y1="198.4" x2="553.2" y2="198.4" stroke="#555" stroke-width="0.6"/>
<line x1="553.2" y1="258.4" x2="553.2" y2="260" stroke="#555" stroke-width="0.6"/>
<text x="553.2" y="266.6" font-size="6.3" text-anchor="middle" font-weight="normal" fill="#222" stroke="#222" stroke-width="0.15">-10</text>
<line x1="566.4" y1="258.4" x2="566.4" y2="260" stroke="#555" stroke-width="0.6"/>
<text x="566.4" y="266.6" font-size="6.3" text-anchor="middle" font-weight="normal" fill="#222" stroke="#222" stroke-width="0.15">-5</text>
<line x1="579.5" y1="258.4" x2="579.5" y2="260" stroke="#555" stroke-width="0.6"/>
<text x="579.5" y="266.6" font-size="6.3" text-anchor="middle" font-weight="normal" fill="#222" stroke="#222" stroke-width="0.15">0</text>
<line x1="592.7" y1="258.4" x2="592.7" y2="260" stroke="#555" stroke-width="0.6"/>
<text x="592.7" y="266.6" font-size="6.3" text-anchor="middle" font-weight="normal" fill="#222" stroke="#222" stroke-width="0.15">5</text>
<line x1="605.8" y1="258.4" x2="605.8" y2="260" stroke="#555" stroke-width="0.6"/>
<text x="605.8" y="266.6" font-size="6.3" text-anchor="middle" font-weight="normal" fill="#222" stroke="#222" stroke-width="0.15">10</text>
<text x="555" y="207.1" font-size="7.2" text-anchor="start" font-weight="normal" fill="#8fbef0">3686</text>
<text x="604" y="207.1" font-size="7.2" text-anchor="end" font-weight="normal" fill="#f0979c">3157</text>
<text transform="translate(388.6 227.4) rotate(-90)" x="0" y="2.2" font-size="6.2" text-anchor="middle" font-weight="normal" fill="#222" stroke="#222" stroke-width="0.15">-Log<tspan font-size="4.6" dy="1.5">10</tspan><tspan dy="-1.5">(</tspan><tspan font-style="italic">p</tspan> value)</text>
<text x="539.5" y="279.2" font-size="6.6" text-anchor="middle" font-weight="normal" fill="#222" stroke="#222" stroke-width="0.15">Log<tspan font-size="4.5" dy="1.5">2</tspan><tspan dy="-1.5">(fold change)</tspan></text>
<use href="#muscle" transform="translate(68.9 287.3) scale(0.3390 0.0940)"/>
<text x="43.2" y="305.5" font-size="6.6" text-anchor="middle" font-weight="normal" fill="#222" stroke="#222" stroke-width="0.15">Aging DEGs</text>
<text x="43.5" y="314.5" font-size="6.6" text-anchor="middle" font-weight="normal" fill="#222" stroke="#222" stroke-width="0.15">(Old-SED vs Young-SED)</text>
<text x="121.2" y="305.5" font-size="6.6" text-anchor="middle" font-weight="normal" fill="#222" stroke="#222" stroke-width="0.15">Exercise DEGs</text>
<text x="121.2" y="314.5" font-size="6.6" text-anchor="middle" font-weight="normal" fill="#222" stroke="#222" stroke-width="0.15">(Old-EXE vs Old-SED)</text>
<text x="43.2" y="435.8" font-size="6.6" text-anchor="middle" font-weight="normal" fill="#222" stroke="#222" stroke-width="0.15">Aging DEGs</text>
<text x="43.5" y="444.2" font-size="6.6" text-anchor="middle" font-weight="normal" fill="#222" stroke="#222" stroke-width="0.15">(Old-SED vs Young-SED)</text>
<text x="121.2" y="435.8" font-size="6.6" text-anchor="middle" font-weight="normal" fill="#222" stroke="#222" stroke-width="0.15">Exercise DEGs</text>
<text x="121.2" y="444.2" font-size="6.6" text-anchor="middle" font-weight="normal" fill="#222" stroke="#222" stroke-width="0.15">(Old-EXE vs Old-SED)</text>
<clipPath id="v364L"><circle cx="62.4" cy="364" r="43.6"/></clipPath>
<clipPath id="v364R"><circle cx="106.5" cy="364" r="43.6"/></clipPath>
<g clip-path="url(#v364L)"><rect x="18.8" y="320.4" width="87.2" height="43.6" fill="#e99ac9"/><rect x="18.8" y="364" width="87.2" height="43.6" fill="#99d9f2"/></g>
<g clip-path="url(#v364R)"><rect x="62.9" y="320.4" width="87.2" height="43.6" fill="#99d9f2"/><rect x="62.9" y="364" width="87.2" height="43.6" fill="#e99ac9"/></g>
<g clip-path="url(#v364L)"><circle cx="106.5" cy="364" r="43.6" fill="#edc47f"/></g>
<circle cx="62.4" cy="364" r="43.6" fill="none" stroke="#333" stroke-width="0.6"/>
<circle cx="106.5" cy="364" r="43.6" fill="none" stroke="#333" stroke-width="0.6"/>
<line x1="18.8" y1="364" x2="150.1" y2="364" stroke="#333" stroke-width="0.7"/>
<text x="46.7" y="346.1" font-size="8" text-anchor="middle" font-weight="normal" fill="#222" stroke="#222" stroke-width="0.15">Upregulated</text>
<text x="46.3" y="355.2" font-size="8" text-anchor="middle" font-weight="normal" fill="#222" stroke="#222" stroke-width="0.15">2943</text>
<text x="84.4" y="347.8" font-size="8" text-anchor="middle" font-weight="normal" fill="#222" stroke="#222" stroke-width="0.15">350</text>
<text x="84.4" y="357.4" font-size="8" text-anchor="middle" font-weight="normal" fill="#222" stroke="#222" stroke-width="0.15">(61.84%)</text>
<text x="129.6" y="346.1" font-size="8" text-anchor="middle" font-weight="normal" fill="#222" stroke="#222" stroke-width="0.15">Downregulated</text>
<text x="129.3" y="355.2" font-size="8" text-anchor="middle" font-weight="normal" fill="#222" stroke="#222" stroke-width="0.15">216</text>
<text x="38.4" y="383.3" font-size="8" text-anchor="middle" font-weight="normal" fill="#222" stroke="#222" stroke-width="0.15">Downregulated</text>
<text x="38.6" y="392.7" font-size="8" text-anchor="middle" font-weight="normal" fill="#222" stroke="#222" stroke-width="0.15">3117</text>
<text x="84.4" y="377" font-size="8" text-anchor="middle" font-weight="normal" fill="#222" stroke="#222" stroke-width="0.15">440</text>
<text x="84.4" y="386.4" font-size="8" text-anchor="middle" font-weight="normal" fill="#222" stroke="#222" stroke-width="0.15">(58.36%)</text>
<text x="128.5" y="383.3" font-size="8" text-anchor="middle" font-weight="normal" fill="#222" stroke="#222" stroke-width="0.15">Upregulated</text>
<text x="128.5" y="392.7" font-size="8" text-anchor="middle" font-weight="normal" fill="#222" stroke="#222" stroke-width="0.15">314</text>
<line x1="84.9" y1="393.5" x2="84.9" y2="407.5" stroke="#111" stroke-width="0.8"/>
<path d="M82.9,406.5 L86.9,406.5 L84.9,410.5 Z" fill="#111"/>
<text x="85.3" y="422.4" font-size="9.2" text-anchor="middle" font-weight="bold" fill="#111">Rev-aging DEGs</text>
<clipPath id="v493L"><circle cx="62.7" cy="493.6" r="43.4"/></clipPath>
<clipPath id="v493R"><circle cx="106.3" cy="493.6" r="43.4"/></clipPath>
<g clip-path="url(#v493L)"><rect x="19.3" y="450.2" width="86.8" height="43.4" fill="#e99ac9"/><rect x="19.3" y="493.6" width="86.8" height="43.4" fill="#99d9f2"/></g>
<g clip-path="url(#v493R)"><rect x="62.9" y="450.2" width="86.8" height="43.4" fill="#e99ac9"/><rect x="62.9" y="493.6" width="86.8" height="43.4" fill="#99d9f2"/></g>
<g clip-path="url(#v493L)"><circle cx="106.3" cy="493.6" r="43.4" fill="#8c8c8c"/></g>
<circle cx="62.7" cy="493.6" r="43.4" fill="none" stroke="#333" stroke-width="0.6"/>
<circle cx="106.3" cy="493.6" r="43.4" fill="none" stroke="#333" stroke-width="0.6"/>
<line x1="19.3" y1="493.6" x2="149.7" y2="493.6" stroke="#333" stroke-width="0.7"/>
<text x="46.1" y="471.3" font-size="8" text-anchor="middle" font-weight="normal" fill="#222" stroke="#222" stroke-width="0.15">Upregulated</text>
<text x="46.1" y="481.4" font-size="8" text-anchor="middle" font-weight="normal" fill="#222" stroke="#222" stroke-width="0.15">3251</text>
<text x="84.1" y="474.8" font-size="8" text-anchor="middle" font-weight="normal" fill="#222" stroke="#222" stroke-width="0.15">42</text>
<text x="84.1" y="484.4" font-size="8" text-anchor="middle" font-weight="normal" fill="#222" stroke="#222" stroke-width="0.15">(5.57%)</text>
<text x="121.2" y="471.3" font-size="8" text-anchor="middle" font-weight="normal" fill="#222" stroke="#222" stroke-width="0.15">Upregulated</text>
<text x="121.2" y="481.4" font-size="8" text-anchor="middle" font-weight="normal" fill="#222" stroke="#222" stroke-width="0.15">712</text>
<text x="41.1" y="514.1" font-size="8" text-anchor="middle" font-weight="normal" fill="#222" stroke="#222" stroke-width="0.15">Downregulated</text>
<text x="40.9" y="523" font-size="8" text-anchor="middle" font-weight="normal" fill="#222" stroke="#222" stroke-width="0.15">3518</text>
<text x="84.1" y="507.1" font-size="8" text-anchor="middle" font-weight="normal" fill="#222" stroke="#222" stroke-width="0.15">39</text>
<text x="84.1" y="516.4" font-size="8" text-anchor="middle" font-weight="normal" fill="#222" stroke="#222" stroke-width="0.15">(6.89%)</text>
<text x="128.1" y="514.1" font-size="8" text-anchor="middle" font-weight="normal" fill="#222" stroke="#222" stroke-width="0.15">Downregulated</text>
<text x="128" y="523" font-size="8" text-anchor="middle" font-weight="normal" fill="#222" stroke="#222" stroke-width="0.15">527</text>
<line x1="82.9" y1="522" x2="82.9" y2="536.5" stroke="#111" stroke-width="0.8"/>
<path d="M80.9,535.5 L84.9,535.5 L82.9,539.5 Z" fill="#111"/>
<text x="83.6" y="552.8" font-size="9.1" text-anchor="middle" font-weight="bold" fill="#111">Pro-aging DEGs</text>
<rect x="198.8" y="307.5" width="6.2" height="6.2" fill="#f0bf7c"/>
<text x="208.8" y="313.4" font-size="8.1" text-anchor="start" font-weight="normal" fill="#222" stroke="#222" stroke-width="0.15">Rev-aging</text>
<rect x="198.8" y="317.9" width="6.2" height="6.2" fill="#8a8a8a"/>
<text x="208.8" y="323.8" font-size="8.1" text-anchor="start" font-weight="normal" fill="#222" stroke="#222" stroke-width="0.15">Pro-aging</text>
<rect x="198.8" y="328.1" width="6.2" height="6.2" fill="#d9d9d9"/>
<text x="208.8" y="334" font-size="8.1" text-anchor="start" font-weight="normal" fill="#222" stroke="#222" stroke-width="0.15">Aging-specific</text>
<line x1="195" y1="339.1" x2="195" y2="409.4" stroke="#444" stroke-width="0.8"/>
<line x1="195" y1="409.4" x2="264.8" y2="409.4" stroke="#444" stroke-width="0.8"/>
<line x1="193" y1="339.1" x2="195" y2="339.1" stroke="#444" stroke-width="0.7"/>
<text x="192.2" y="341.8" font-size="7.7" text-anchor="end" font-weight="normal" fill="#222" stroke="#222" stroke-width="0.15">10000</text>
<line x1="193" y1="374.2" x2="195" y2="374.2" stroke="#444" stroke-width="0.7"/>
<text x="192.2" y="376.9" font-size="7.7" text-anchor="end" font-weight="normal" fill="#222" stroke="#222" stroke-width="0.15">5000</text>
<line x1="193" y1="409.4" x2="195" y2="409.4" stroke="#444" stroke-width="0.7"/>
<text x="192.2" y="412.1" font-size="7.7" text-anchor="end" font-weight="normal" fill="#222" stroke="#222" stroke-width="0.15">0</text>
<rect x="200.2" y="359.5" width="10.8" height="49.9" fill="#d9d9d9"/>
<rect x="200.2" y="403.4" width="10.8" height="1.1" fill="#8a8a8a"/>
<rect x="200.2" y="404.5" width="10.8" height="4.9" fill="#f0bf7c"/>
<line x1="205.6" y1="409.4" x2="205.6" y2="411.2" stroke="#444" stroke-width="0.7"/>
<rect x="216" y="360.9" width="10.8" height="48.5" fill="#d9d9d9"/>
<rect x="216" y="403.4" width="10.8" height="0.6" fill="#8a8a8a"/>
<rect x="216" y="403.9" width="10.8" height="5.5" fill="#f0bf7c"/>
<line x1="221.4" y1="409.4" x2="221.4" y2="411.2" stroke="#444" stroke-width="0.7"/>
<rect x="232.1" y="373.9" width="10.8" height="35.5" fill="#d9d9d9"/>
<rect x="232.1" y="401.1" width="10.8" height="1.3" fill="#8a8a8a"/>
<rect x="232.1" y="402.4" width="10.8" height="7" fill="#f0bf7c"/>
<line x1="237.5" y1="409.4" x2="237.5" y2="411.2" stroke="#444" stroke-width="0.7"/>
<rect x="248.4" y="356" width="10.8" height="53.4" fill="#d9d9d9"/>
<rect x="248.4" y="405.9" width="10.8" height="3" fill="#8a8a8a"/>
<rect x="248.4" y="408.8" width="10.8" height="0.6" fill="#f0bf7c"/>
<line x1="253.8" y1="409.4" x2="253.8" y2="411.2" stroke="#444" stroke-width="0.7"/>
<text transform="translate(162.5 374) rotate(-90)" x="0" y="2.8" font-size="8" text-anchor="middle" font-weight="normal" fill="#222" stroke="#222" stroke-width="0.15">DEG number</text>
<line x1="194.5" y1="444.1" x2="194.5" y2="513.9" stroke="#444" stroke-width="0.8"/>
<line x1="194.5" y1="513.9" x2="264.7" y2="513.9" stroke="#444" stroke-width="0.8"/>
<line x1="192.5" y1="444.1" x2="194.5" y2="444.1" stroke="#444" stroke-width="0.7"/>
<text x="191.7" y="446.8" font-size="7.8" text-anchor="end" font-weight="normal" fill="#222" stroke="#222" stroke-width="0.15">100</text>
<line x1="192.5" y1="479" x2="194.5" y2="479" stroke="#444" stroke-width="0.7"/>
<text x="191.7" y="481.7" font-size="7.8" text-anchor="end" font-weight="normal" fill="#222" stroke="#222" stroke-width="0.15">50</text>
<line x1="192.5" y1="513.9" x2="194.5" y2="513.9" stroke="#444" stroke-width="0.7"/>
<text x="191.7" y="516.6" font-size="7.8" text-anchor="end" font-weight="normal" fill="#222" stroke="#222" stroke-width="0.15">0</text>
<rect x="200" y="444.1" width="10.9" height="69.8" fill="#d9d9d9"/>
<rect x="200" y="505.5" width="10.9" height="1.5" fill="#8a8a8a"/>
<rect x="200" y="507.1" width="10.9" height="6.8" fill="#f0bf7c"/>
<line x1="205.4" y1="513.9" x2="205.4" y2="515.7" stroke="#444" stroke-width="0.7"/>
<rect x="216" y="444.1" width="10.9" height="69.8" fill="#d9d9d9"/>
<rect x="216" y="504.7" width="10.9" height="1.2" fill="#8a8a8a"/>
<rect x="216" y="505.9" width="10.9" height="8" fill="#f0bf7c"/>
<line x1="221.4" y1="513.9" x2="221.4" y2="515.7" stroke="#444" stroke-width="0.7"/>
<rect x="232.2" y="444.1" width="10.9" height="69.8" fill="#d9d9d9"/>
<rect x="232.2" y="496.8" width="10.9" height="2.2" fill="#8a8a8a"/>
<rect x="232.2" y="499" width="10.9" height="14.9" fill="#f0bf7c"/>
<line x1="237.6" y1="513.9" x2="237.6" y2="515.7" stroke="#444" stroke-width="0.7"/>
<rect x="248.2" y="444.1" width="10.9" height="69.8" fill="#d9d9d9"/>
<rect x="248.2" y="509.4" width="10.9" height="3.1" fill="#8a8a8a"/>
<rect x="248.2" y="512.5" width="10.9" height="1.4" fill="#f0bf7c"/>
<line x1="253.6" y1="513.9" x2="253.6" y2="515.7" stroke="#444" stroke-width="0.7"/>
<text transform="translate(172.3 478.5) rotate(-90)" x="0" y="2.8" font-size="8" text-anchor="middle" font-weight="normal" fill="#222" stroke="#222" stroke-width="0.15">DEG ratio (%)</text>
<text transform="translate(208.6 417) rotate(-45)" x="0" y="0" font-size="8.2" text-anchor="end" fill="#222">Liver</text>
<text transform="translate(224.4 417) rotate(-45)" x="0" y="0" font-size="8.2" text-anchor="end" fill="#222">Muscle</text>
<text transform="translate(240.5 417) rotate(-45)" x="0" y="0" font-size="8.2" text-anchor="end" fill="#222">Heart</text>
<text transform="translate(256.8 417) rotate(-45)" x="0" y="0" font-size="8.2" text-anchor="end" fill="#222">eWAT</text>
<text transform="translate(208.4 521.5) rotate(-45)" x="0" y="0" font-size="8.2" text-anchor="end" fill="#222">Liver</text>
<text transform="translate(224.4 521.5) rotate(-45)" x="0" y="0" font-size="8.2" text-anchor="end" fill="#222">Muscle</text>
<text transform="translate(240.6 521.5) rotate(-45)" x="0" y="0" font-size="8.2" text-anchor="end" fill="#222">Heart</text>
<text transform="translate(256.6 521.5) rotate(-45)" x="0" y="0" font-size="8.2" text-anchor="end" fill="#222">eWAT</text>
<text x="284" y="310.4" font-size="7.6" text-anchor="start" font-weight="bold" fill="#9a9a9a">Enriched GO terms of rev-aging DEGs</text>
<text transform="translate(425.5 325) rotate(-40)" x="0" y="0" font-size="7.5" font-weight="bold" fill="#111">Liver</text>
<text transform="translate(438.7 325) rotate(-40)" x="0" y="0" font-size="7.5" font-weight="bold" fill="#111">Muscle</text>
<text transform="translate(451.9 325) rotate(-40)" x="0" y="0" font-size="7.5" font-weight="bold" fill="#111">Heart</text>
<text transform="translate(465 325) rotate(-40)" x="0" y="0" font-size="7.5" font-weight="bold" fill="#111">eWAT</text>
<rect x="282.5" y="329.5" width="15" height="90.5" fill="#f6e3d3"/>
<text transform="translate(291 374.7) rotate(-90)" x="0" y="3.4" font-size="9.8" text-anchor="middle" font-weight="normal" fill="#333" stroke="#333" stroke-width="0.15">Upregulated DEGs</text>
<rect x="282.5" y="441.3" width="15" height="103.5" fill="#dbe5f6"/>
<text transform="translate(291 493) rotate(-90)" x="0" y="3.4" font-size="9.8" text-anchor="middle" font-weight="normal" fill="#333" stroke="#333" stroke-width="0.15">Downregulated DEGs</text>
<text x="421" y="331.2" font-size="7" text-anchor="end" font-weight="bold" fill="#1a1a1a">Fatty acid catabolic process</text>
<circle cx="430.1" cy="328.8" r="4.3" fill="#f2c8a0"/>
<circle cx="443.3" cy="328.8" r="4.3" fill="#f26a1f"/>
<circle cx="456.5" cy="328.8" r="4.3" fill="#f2c39a"/>
<circle cx="469.6" cy="328.8" r="4.3" fill="#f2c8a0"/>
<text x="421" y="341.9" font-size="5.2" text-anchor="end" font-weight="bold" fill="#1a1a1a">Generation of precursor metabolites and energy</text>
<circle cx="430.1" cy="340.1" r="4.3" fill="#eca677"/>
<circle cx="443.3" cy="340.1" r="4.3" fill="#f2772c"/>
<circle cx="456.5" cy="340.1" r="4.3" fill="#f26419"/>
<circle cx="469.6" cy="340.1" r="4.3" fill="#efefef"/>
<text x="421" y="353.9" font-size="7" text-anchor="end" font-weight="bold" fill="#1a1a1a">ATP metabolic process</text>
<circle cx="430.1" cy="351.4" r="4.3" fill="#eca677"/>
<circle cx="443.3" cy="351.4" r="4.3" fill="#eda070"/>
<circle cx="456.5" cy="351.4" r="4.3" fill="#f26419"/>
<circle cx="469.6" cy="351.4" r="4.3" fill="#efefef"/>
<text x="421" y="365.2" font-size="7" text-anchor="end" font-weight="bold" fill="#1a1a1a">Fatty acid beta-oxidation</text>
<circle cx="430.1" cy="362.7" r="4.3" fill="#f3d5b0"/>
<circle cx="443.3" cy="362.7" r="4.3" fill="#ef7f3c"/>
<circle cx="456.5" cy="362.7" r="4.3" fill="#f0c194"/>
<circle cx="469.6" cy="362.7" r="4.3" fill="#f0c194"/>
<text x="421" y="376.4" font-size="7" text-anchor="end" font-weight="bold" fill="#1a1a1a">Autophagy</text>
<circle cx="430.1" cy="374" r="4.3" fill="#f5dcb9"/>
<circle cx="443.3" cy="374" r="4.3" fill="#f3d6b1"/>
<circle cx="456.5" cy="374" r="4.3" fill="#eeb385"/>
<circle cx="469.6" cy="374" r="4.3" fill="#f3d4a9"/>
<text x="421" y="387.8" font-size="7" text-anchor="end" font-weight="bold" fill="#1a1a1a">Oxidative phosphorylation</text>
<circle cx="430.1" cy="385.3" r="4.3" fill="#f0c195"/>
<circle cx="443.3" cy="385.3" r="4.3" fill="#eeb385"/>
<circle cx="456.5" cy="385.3" r="4.3" fill="#ec9c64"/>
<circle cx="469.6" cy="385.3" r="4.3" fill="#efefef"/>
<text x="421" y="399.1" font-size="7" text-anchor="end" font-weight="bold" fill="#1a1a1a">Tissue development</text>
<circle cx="430.1" cy="396.6" r="4.3" fill="#efefef"/>
<circle cx="443.3" cy="396.6" r="4.3" fill="#ee8a48"/>
<circle cx="456.5" cy="396.6" r="4.3" fill="#f0c195"/>
<circle cx="469.6" cy="396.6" r="4.3" fill="#efefef"/>
<text x="421" y="410.4" font-size="7" text-anchor="end" font-weight="bold" fill="#1a1a1a">Cell migration</text>
<circle cx="430.1" cy="407.9" r="4.3" fill="#efefef"/>
<circle cx="443.3" cy="407.9" r="4.3" fill="#f0c69e"/>
<circle cx="456.5" cy="407.9" r="4.3" fill="#f0c69e"/>
<circle cx="469.6" cy="407.9" r="4.3" fill="#efefef"/>
<text x="421" y="421.7" font-size="7" text-anchor="end" font-weight="bold" fill="#1a1a1a">Muscle cell differentiation</text>
<circle cx="430.1" cy="419.2" r="4.3" fill="#efefef"/>
<circle cx="443.3" cy="419.2" r="4.3" fill="#f2d0a9"/>
<circle cx="456.5" cy="419.2" r="4.3" fill="#f0c49c"/>
<circle cx="469.6" cy="419.2" r="4.3" fill="#efefef"/>
<text x="421" y="432.9" font-size="7" text-anchor="end" font-weight="bold" fill="#1a1a1a">White fat cell differentiation</text>
<circle cx="430.1" cy="430.5" r="4.3" fill="#efefef"/>
<circle cx="443.3" cy="430.5" r="4.3" fill="#efefef"/>
<circle cx="456.5" cy="430.5" r="4.3" fill="#efefef"/>
<circle cx="469.6" cy="430.5" r="4.3" fill="#f3d8b3"/>
<text x="421" y="446.8" font-size="7" text-anchor="end" font-weight="bold" fill="#1a1a1a">Response to interferon-beta</text>
<circle cx="430.1" cy="444.4" r="4.3" fill="#3c8996"/>
<circle cx="443.3" cy="444.4" r="4.3" fill="#5ba7b5"/>
<circle cx="456.5" cy="444.4" r="4.3" fill="#3c8996"/>
<circle cx="469.6" cy="444.4" r="4.3" fill="#6ab2c1"/>
<text x="421" y="458.1" font-size="7" text-anchor="end" font-weight="bold" fill="#1a1a1a">Inflammatory response</text>
<circle cx="430.1" cy="455.7" r="4.3" fill="#3c8996"/>
<circle cx="443.3" cy="455.7" r="4.3" fill="#c6e0f3"/>
<circle cx="456.5" cy="455.7" r="4.3" fill="#7bbacb"/>
<circle cx="469.6" cy="455.7" r="4.3" fill="#96c9da"/>
<text x="421" y="469.4" font-size="7" text-anchor="end" font-weight="bold" fill="#1a1a1a">Response to stress</text>
<circle cx="430.1" cy="466.9" r="4.3" fill="#4b99a8"/>
<circle cx="443.3" cy="466.9" r="4.3" fill="#b4d8e9"/>
<circle cx="456.5" cy="466.9" r="4.3" fill="#4b99a8"/>
<circle cx="469.6" cy="466.9" r="4.3" fill="#b6d9ea"/>
<text x="421" y="480.7" font-size="7" text-anchor="end" font-weight="bold" fill="#1a1a1a">Cell adhesion</text>
<circle cx="430.1" cy="478.2" r="4.3" fill="#a0cfe0"/>
<circle cx="443.3" cy="478.2" r="4.3" fill="#c0def1"/>
<circle cx="456.5" cy="478.2" r="4.3" fill="#a8d2e2"/>
<circle cx="469.6" cy="478.2" r="4.3" fill="#c0def1"/>
<text x="421" y="491.9" font-size="7" text-anchor="end" font-weight="bold" fill="#1a1a1a">Cell death</text>
<circle cx="430.1" cy="489.5" r="4.3" fill="#a6d1e2"/>
<circle cx="443.3" cy="489.5" r="4.3" fill="#c0def1"/>
<circle cx="456.5" cy="489.5" r="4.3" fill="#b8daeb"/>
<circle cx="469.6" cy="489.5" r="4.3" fill="#c0def1"/>
<text x="421" y="503.2" font-size="7" text-anchor="end" font-weight="bold" fill="#1a1a1a">Apoptotic signaling pathway</text>
<circle cx="430.1" cy="500.8" r="4.3" fill="#b0d6e7"/>
<circle cx="443.3" cy="500.8" r="4.3" fill="#b6d9ea"/>
<circle cx="456.5" cy="500.8" r="4.3" fill="#b6d9ea"/>
<circle cx="469.6" cy="500.8" r="4.3" fill="#c0def1"/>
<text x="421" y="514.5" font-size="7" text-anchor="end" font-weight="bold" fill="#1a1a1a">DNA damage</text>
<circle cx="430.1" cy="512" r="4.3" fill="#c2dff2"/>
<circle cx="443.3" cy="512" r="4.3" fill="#bcdcf2"/>
<circle cx="456.5" cy="512" r="4.3" fill="#efefef"/>
<circle cx="469.6" cy="512" r="4.3" fill="#c2dff2"/>
<text x="421" y="525.7" font-size="7" text-anchor="end" font-weight="bold" fill="#1a1a1a">Aging</text>
<circle cx="430.1" cy="523.3" r="4.3" fill="#efefef"/>
<circle cx="443.3" cy="523.3" r="4.3" fill="#93c8da"/>
<circle cx="456.5" cy="523.3" r="4.3" fill="#c2dff2"/>
<circle cx="469.6" cy="523.3" r="4.3" fill="#c2dff2"/>
<text x="421" y="537" font-size="7" text-anchor="end" font-weight="bold" fill="#1a1a1a">Hemostasis</text>
<circle cx="430.1" cy="534.6" r="4.3" fill="#c2dff2"/>
<circle cx="443.3" cy="534.6" r="4.3" fill="#efefef"/>
<circle cx="456.5" cy="534.6" r="4.3" fill="#c2dff2"/>
<circle cx="469.6" cy="534.6" r="4.3" fill="#efefef"/>
<text x="421" y="548.3" font-size="7" text-anchor="end" font-weight="bold" fill="#1a1a1a">NF-&#954;B signaling</text>
<circle cx="430.1" cy="545.8" r="4.3" fill="#c2dff2"/>
<circle cx="443.3" cy="545.8" r="4.3" fill="#c2dff2"/>
<circle cx="456.5" cy="545.8" r="4.3" fill="#c2dff2"/>
<circle cx="469.6" cy="545.8" r="4.3" fill="#efefef"/>
<text x="482.9" y="337.3" font-size="10.1" fill="#111" stroke="#111" stroke-width="0.12">-Log<tspan font-size="6.2" dy="1.8">10</tspan><tspan dy="-1.8" dx="-0.8">p</tspan></text>
<rect x="486.8" y="343" width="7.2" height="91.7" fill="url(#gOr)"/>
<line x1="494" y1="351.4" x2="495.6" y2="351.4" stroke="#555" stroke-width="0.5"/>
<text x="497" y="353.1" font-size="4.9" text-anchor="start" font-weight="normal" fill="#333" stroke="#333" stroke-width="0.15">10</text>
<line x1="494" y1="371" x2="495.6" y2="371" stroke="#555" stroke-width="0.5"/>
<text x="497" y="372.7" font-size="4.9" text-anchor="start" font-weight="normal" fill="#333" stroke="#333" stroke-width="0.15">8</text>
<line x1="494" y1="390.5" x2="495.6" y2="390.5" stroke="#555" stroke-width="0.5"/>
<text x="497" y="392.2" font-size="4.9" text-anchor="start" font-weight="normal" fill="#333" stroke="#333" stroke-width="0.15">6</text>
<line x1="494" y1="409.7" x2="495.6" y2="409.7" stroke="#555" stroke-width="0.5"/>
<text x="497" y="411.4" font-size="4.9" text-anchor="start" font-weight="normal" fill="#333" stroke="#333" stroke-width="0.15">4</text>
<line x1="494" y1="428.4" x2="495.6" y2="428.4" stroke="#555" stroke-width="0.5"/>
<text x="497" y="430.1" font-size="4.9" text-anchor="start" font-weight="normal" fill="#333" stroke="#333" stroke-width="0.15">2</text>
<rect x="486.8" y="456.1" width="7.2" height="93.5" fill="url(#gTe)"/>
<line x1="494" y1="467.2" x2="495.6" y2="467.2" stroke="#555" stroke-width="0.5"/>
<text x="497" y="468.9" font-size="4.9" text-anchor="start" font-weight="normal" fill="#333" stroke="#333" stroke-width="0.15">15</text>
<line x1="494" y1="497.5" x2="495.6" y2="497.5" stroke="#555" stroke-width="0.5"/>
<text x="497" y="499.2" font-size="4.9" text-anchor="start" font-weight="normal" fill="#333" stroke="#333" stroke-width="0.15">10</text>
<line x1="494" y1="527.5" x2="495.6" y2="527.5" stroke="#555" stroke-width="0.5"/>
<text x="497" y="529.2" font-size="4.9" text-anchor="start" font-weight="normal" fill="#333" stroke="#333" stroke-width="0.15">5</text>
<use href="#liver" transform="translate(562.1 303.8) scale(0.3400 0.1970)"/>
<use href="#muscle" transform="translate(633.7 310.3) scale(0.3320 0.0960)"/>
<use href="#heart" transform="translate(567 433.2) scale(0.1700 0.2410)"/>
<use href="#fat" transform="translate(636.8 432) scale(0.2580 0.2650)"/>
<clipPath id="fc5766"><rect x="543.6" y="330" width="60" height="60"/></clipPath>
<g clip-path="url(#fc5766)">
<line x1="543.6" y1="360" x2="603.6" y2="360" stroke="#c8c8c8" stroke-width="0.6"/>
<path d="M575.6 354.3h1.3v1.3h-1.3zM582.7 350.8h1.3v1.3h-1.3zM567.3 364.2h1.3v1.3h-1.3zM569 364.6h1.3v1.3h-1.3zM578 355.4h1.3v1.3h-1.3zM568.6 360.3h1.3v1.3h-1.3zM578.1 354.6h1.3v1.3h-1.3zM573.6 359.7h1.3v1.3h-1.3zM572.9 358.3h1.3v1.3h-1.3zM570.2 360.2h1.3v1.3h-1.3zM577.1 358.8h1.3v1.3h-1.3zM574.3 357.4h1.3v1.3h-1.3zM576 351.1h1.3v1.3h-1.3zM573.6 355.2h1.3v1.3h-1.3zM576.6 355.9h1.3v1.3h-1.3zM579.9 356.3h1.3v1.3h-1.3zM571.4 361.7h1.3v1.3h-1.3zM579.5 351.6h1.3v1.3h-1.3zM572.9 357.3h1.3v1.3h-1.3zM566.7 358.7h1.3v1.3h-1.3zM578.4 354.9h1.3v1.3h-1.3zM572.7 359.1h1.3v1.3h-1.3zM578 352.6h1.3v1.3h-1.3zM576.1 355.3h1.3v1.3h-1.3zM574.7 355.6h1.3v1.3h-1.3zM566.3 360.5h1.3v1.3h-1.3zM569.8 361.3h1.3v1.3h-1.3zM574.2 356h1.3v1.3h-1.3zM578.5 352.1h1.3v1.3h-1.3zM565 367.1h1.3v1.3h-1.3zM575.5 357.5h1.3v1.3h-1.3zM569.4 368.8h1.3v1.3h-1.3zM577.9 352.5h1.3v1.3h-1.3zM569.9 360.9h1.3v1.3h-1.3zM574.1 359.6h1.3v1.3h-1.3zM573.2 358.8h1.3v1.3h-1.3zM578 350.7h1.3v1.3h-1.3zM575.7 358.1h1.3v1.3h-1.3zM576.6 352.6h1.3v1.3h-1.3zM574.5 357.8h1.3v1.3h-1.3zM579.2 355h1.3v1.3h-1.3zM567.9 361.7h1.3v1.3h-1.3zM580.1 346.5h1.3v1.3h-1.3zM575.1 359.6h1.3v1.3h-1.3zM581.8 348.9h1.3v1.3h-1.3zM569 365.2h1.3v1.3h-1.3zM574.4 362.8h1.3v1.3h-1.3zM578.9 355.3h1.3v1.3h-1.3zM579.7 353.1h1.3v1.3h-1.3zM578.6 354h1.3v1.3h-1.3zM576.6 353.6h1.3v1.3h-1.3zM569.7 364.9h1.3v1.3h-1.3zM577.6 352.1h1.3v1.3h-1.3zM578.5 351.8h1.3v1.3h-1.3zM570.7 364.7h1.3v1.3h-1.3zM571.4 360.3h1.3v1.3h-1.3zM571.4 363.3h1.3v1.3h-1.3zM573.7 358.8h1.3v1.3h-1.3zM580.2 351.4h1.3v1.3h-1.3zM568.1 363.2h1.3v1.3h-1.3zM567.6 364.1h1.3v1.3h-1.3zM571.3 357.5h1.3v1.3h-1.3zM579.7 352.4h1.3v1.3h-1.3zM580.7 350.1h1.3v1.3h-1.3zM579.4 350.3h1.3v1.3h-1.3zM572.7 357.6h1.3v1.3h-1.3zM572 365h1.3v1.3h-1.3zM574.3 355.1h1.3v1.3h-1.3zM573.8 364.5h1.3v1.3h-1.3zM576.7 358.9h1.3v1.3h-1.3zM567.6 366.3h1.3v1.3h-1.3zM575.8 358.5h1.3v1.3h-1.3zM576.3 357.7h1.3v1.3h-1.3zM575.1 360.4h1.3v1.3h-1.3zM572.2 356.5h1.3v1.3h-1.3zM582.8 350.9h1.3v1.3h-1.3zM575.2 356.7h1.3v1.3h-1.3zM577.3 353.5h1.3v1.3h-1.3zM570.7 361.9h1.3v1.3h-1.3zM579.4 345.4h1.3v1.3h-1.3zM574.2 358.4h1.3v1.3h-1.3zM579.6 353.8h1.3v1.3h-1.3zM569.6 362.2h1.3v1.3h-1.3zM575.7 359.6h1.3v1.3h-1.3zM567.8 368.3h1.3v1.3h-1.3zM567 366.7h1.3v1.3h-1.3zM570.3 358.6h1.3v1.3h-1.3zM576.6 360h1.3v1.3h-1.3zM563.1 373.2h1.3v1.3h-1.3zM568.7 364.5h1.3v1.3h-1.3zM577.3 352.8h1.3v1.3h-1.3zM575.8 353.7h1.3v1.3h-1.3zM575.5 360.1h1.3v1.3h-1.3zM574.3 359.9h1.3v1.3h-1.3zM578 356.2h1.3v1.3h-1.3zM575.4 360.6h1.3v1.3h-1.3zM574.9 356.2h1.3v1.3h-1.3zM569.5 362.7h1.3v1.3h-1.3zM568.5 364.8h1.3v1.3h-1.3zM570.5 361.5h1.3v1.3h-1.3zM576.7 353.5h1.3v1.3h-1.3zM578.2 355h1.3v1.3h-1.3zM572.3 359.4h1.3v1.3h-1.3zM573.9 357.2h1.3v1.3h-1.3zM565.3 366.8h1.3v1.3h-1.3zM572.2 357.1h1.3v1.3h-1.3zM567.7 362.6h1.3v1.3h-1.3zM572.6 360.1h1.3v1.3h-1.3zM573.5 355h1.3v1.3h-1.3zM579.8 351.1h1.3v1.3h-1.3zM574.4 358.1h1.3v1.3h-1.3zM566 364.1h1.3v1.3h-1.3zM580.2 351.4h1.3v1.3h-1.3zM577.4 348.6h1.3v1.3h-1.3zM581.1 352h1.3v1.3h-1.3zM576.6 354.6h1.3v1.3h-1.3zM575.7 352.6h1.3v1.3h-1.3zM581.1 353.4h1.3v1.3h-1.3zM574.4 357.2h1.3v1.3h-1.3zM565.4 366.1h1.3v1.3h-1.3zM579.6 354.7h1.3v1.3h-1.3zM580.6 349h1.3v1.3h-1.3zM580.6 354.8h1.3v1.3h-1.3zM572.9 359.1h1.3v1.3h-1.3zM577.2 353.8h1.3v1.3h-1.3zM578.4 355.2h1.3v1.3h-1.3zM566.1 363.3h1.3v1.3h-1.3zM574 360.1h1.3v1.3h-1.3zM567.4 360.6h1.3v1.3h-1.3zM573.2 354.7h1.3v1.3h-1.3zM578.3 353.3h1.3v1.3h-1.3zM567 365.5h1.3v1.3h-1.3zM580.9 356h1.3v1.3h-1.3zM568 364.9h1.3v1.3h-1.3zM564.5 368.5h1.3v1.3h-1.3zM576.8 356.8h1.3v1.3h-1.3zM567.4 365.1h1.3v1.3h-1.3zM579.3 349.6h1.3v1.3h-1.3zM568.8 362.7h1.3v1.3h-1.3zM576.1 351.8h1.3v1.3h-1.3zM580.6 348h1.3v1.3h-1.3zM578.2 357.2h1.3v1.3h-1.3zM581.4 353.5h1.3v1.3h-1.3zM585.1 350.1h1.3v1.3h-1.3zM575.2 360h1.3v1.3h-1.3zM567.1 364.2h1.3v1.3h-1.3zM574.8 356h1.3v1.3h-1.3zM577.8 357.7h1.3v1.3h-1.3zM565.8 365.9h1.3v1.3h-1.3zM578.5 356.5h1.3v1.3h-1.3zM580.8 350h1.3v1.3h-1.3zM580.1 352h1.3v1.3h-1.3zM573.3 355.3h1.3v1.3h-1.3zM575.8 353.5h1.3v1.3h-1.3zM580.3 350.9h1.3v1.3h-1.3zM566.6 366.9h1.3v1.3h-1.3zM573.3 357.6h1.3v1.3h-1.3zM572.9 357.2h1.3v1.3h-1.3zM570.3 367.3h1.3v1.3h-1.3zM580.1 354.5h1.3v1.3h-1.3zM570 360.4h1.3v1.3h-1.3zM573 358.9h1.3v1.3h-1.3zM572.6 360.9h1.3v1.3h-1.3zM580.5 353.4h1.3v1.3h-1.3zM573.6 356.3h1.3v1.3h-1.3zM582.7 355h1.3v1.3h-1.3zM571.8 360.2h1.3v1.3h-1.3zM579.4 351.5h1.3v1.3h-1.3zM570.5 356.3h1.3v1.3h-1.3zM579.3 354.1h1.3v1.3h-1.3zM574.9 356.2h1.3v1.3h-1.3zM569.5 362.1h1.3v1.3h-1.3zM568 363.7h1.3v1.3h-1.3zM579.3 356.9h1.3v1.3h-1.3zM571 361h1.3v1.3h-1.3zM575.9 357.9h1.3v1.3h-1.3zM572.8 356.7h1.3v1.3h-1.3zM576.7 357.4h1.3v1.3h-1.3zM577.2 357.4h1.3v1.3h-1.3zM576.5 357.7h1.3v1.3h-1.3zM567.5 363.7h1.3v1.3h-1.3zM581.9 346.3h1.3v1.3h-1.3zM571.9 360.2h1.3v1.3h-1.3zM575.1 361.6h1.3v1.3h-1.3zM574.9 353h1.3v1.3h-1.3zM583 349.2h1.3v1.3h-1.3zM570.2 364.5h1.3v1.3h-1.3zM575.8 362.6h1.3v1.3h-1.3zM583.4 351.9h1.3v1.3h-1.3zM579 352.6h1.3v1.3h-1.3zM578.1 353h1.3v1.3h-1.3zM577.7 358.4h1.3v1.3h-1.3zM579.9 352.1h1.3v1.3h-1.3zM576.2 354.2h1.3v1.3h-1.3zM580.2 355.4h1.3v1.3h-1.3zM578.5 352h1.3v1.3h-1.3zM577.1 351.7h1.3v1.3h-1.3zM576.3 356.6h1.3v1.3h-1.3zM572 356h1.3v1.3h-1.3zM574.4 359.1h1.3v1.3h-1.3zM578.1 353.8h1.3v1.3h-1.3zM579.4 349.4h1.3v1.3h-1.3zM573.6 356.9h1.3v1.3h-1.3zM582.4 349.9h1.3v1.3h-1.3zM577.2 356.5h1.3v1.3h-1.3zM582.6 351.4h1.3v1.3h-1.3zM576.5 349.3h1.3v1.3h-1.3zM573.1 361.7h1.3v1.3h-1.3zM581.4 350.1h1.3v1.3h-1.3zM572.2 359.5h1.3v1.3h-1.3zM581.5 349.4h1.3v1.3h-1.3zM567 366.7h1.3v1.3h-1.3zM569.9 360.4h1.3v1.3h-1.3zM577.9 353.9h1.3v1.3h-1.3zM569.3 365.2h1.3v1.3h-1.3zM581.1 352.8h1.3v1.3h-1.3zM575 358.1h1.3v1.3h-1.3zM576.8 358.1h1.3v1.3h-1.3zM567.2 366.2h1.3v1.3h-1.3zM576.7 359.3h1.3v1.3h-1.3zM578.9 357.3h1.3v1.3h-1.3zM582.5 352.6h1.3v1.3h-1.3zM578.6 351.4h1.3v1.3h-1.3zM583 346.2h1.3v1.3h-1.3zM574.5 359.1h1.3v1.3h-1.3zM573.3 355.1h1.3v1.3h-1.3zM577.5 357.2h1.3v1.3h-1.3zM576.5 357.9h1.3v1.3h-1.3zM576 360.2h1.3v1.3h-1.3zM569.3 365.1h1.3v1.3h-1.3zM581.4 350.6h1.3v1.3h-1.3zM577.7 356.2h1.3v1.3h-1.3zM575.2 358.2h1.3v1.3h-1.3zM574.8 352.8h1.3v1.3h-1.3zM572.2 357.9h1.3v1.3h-1.3zM579.7 348.3h1.3v1.3h-1.3zM575.9 351.4h1.3v1.3h-1.3zM568.9 366.8h1.3v1.3h-1.3zM571.6 357.4h1.3v1.3h-1.3zM579.6 351h1.3v1.3h-1.3zM569.1 363.3h1.3v1.3h-1.3zM572.2 361.1h1.3v1.3h-1.3zM572.5 364.4h1.3v1.3h-1.3zM578.6 354.6h1.3v1.3h-1.3zM562.3 374.3h1.3v1.3h-1.3zM574.8 357.1h1.3v1.3h-1.3zM573.5 353h1.3v1.3h-1.3zM577.1 353.9h1.3v1.3h-1.3zM580.6 352.6h1.3v1.3h-1.3zM573 360.1h1.3v1.3h-1.3zM575.8 357.8h1.3v1.3h-1.3zM579.5 353.5h1.3v1.3h-1.3zM575.6 359.1h1.3v1.3h-1.3zM570 361.4h1.3v1.3h-1.3zM574 359.3h1.3v1.3h-1.3zM574.6 357.9h1.3v1.3h-1.3zM580.2 350.6h1.3v1.3h-1.3zM564.1 367.7h1.3v1.3h-1.3zM575.9 357.2h1.3v1.3h-1.3zM575.7 363.4h1.3v1.3h-1.3zM584 355.4h1.3v1.3h-1.3zM585 361.4h1.3v1.3h-1.3zM586 341.4h1.3v1.3h-1.3zM587 339.4h1.3v1.3h-1.3zM570 353.4h1.3v1.3h-1.3zM583 347.4h1.3v1.3h-1.3zM581 365.4h1.3v1.3h-1.3zM590 341.4h1.3v1.3h-1.3z" fill="#f5d9b0"/>
<line x1="543.6" y1="390" x2="603.6" y2="330" stroke="#777" stroke-width="0.6" stroke-dasharray="2 1.3"/>
<line x1="543.6" y1="384.3" x2="603.6" y2="334.5" stroke="#ef8b22" stroke-width="1.4" stroke-dasharray="3.5 2"/>
</g>
<rect x="543.6" y="330" width="60" height="60" fill="none" stroke="#777" stroke-width="0.8"/>
<line x1="542.1" y1="380" x2="543.6" y2="380" stroke="#555" stroke-width="0.6"/>
<text x="541.4" y="382.6" font-size="7.3" text-anchor="end" font-weight="normal" fill="#222" stroke="#222" stroke-width="0.15">-10</text>
<line x1="553.6" y1="390" x2="553.6" y2="391.5" stroke="#555" stroke-width="0.6"/>
<text x="553.6" y="397.8" font-size="7.3" text-anchor="middle" font-weight="normal" fill="#222" stroke="#222" stroke-width="0.15">-10</text>
<line x1="542.1" y1="360" x2="543.6" y2="360" stroke="#555" stroke-width="0.6"/>
<text x="541.4" y="362.6" font-size="7.3" text-anchor="end" font-weight="normal" fill="#222" stroke="#222" stroke-width="0.15">0</text>
<line x1="573.6" y1="390" x2="573.6" y2="391.5" stroke="#555" stroke-width="0.6"/>
<text x="573.6" y="397.8" font-size="7.3" text-anchor="middle" font-weight="normal" fill="#222" stroke="#222" stroke-width="0.15">0</text>
<line x1="542.1" y1="340" x2="543.6" y2="340" stroke="#555" stroke-width="0.6"/>
<text x="541.4" y="342.6" font-size="7.3" text-anchor="end" font-weight="normal" fill="#222" stroke="#222" stroke-width="0.15">10</text>
<line x1="593.6" y1="390" x2="593.6" y2="391.5" stroke="#555" stroke-width="0.6"/>
<text x="593.6" y="397.8" font-size="7.3" text-anchor="middle" font-weight="normal" fill="#222" stroke="#222" stroke-width="0.15">10</text>
<clipPath id="fc6533"><rect x="620.2" y="331" width="60" height="60"/></clipPath>
<g clip-path="url(#fc6533)">
<line x1="620.2" y1="361" x2="680.2" y2="361" stroke="#c8c8c8" stroke-width="0.6"/>
<path d="M650 360.2h1.3v1.3h-1.3zM646.8 360.6h1.3v1.3h-1.3zM656.4 356.3h1.3v1.3h-1.3zM645.9 362.3h1.3v1.3h-1.3zM657.2 354.1h1.3v1.3h-1.3zM644.1 361.3h1.3v1.3h-1.3zM646 365h1.3v1.3h-1.3zM642.9 369.9h1.3v1.3h-1.3zM649.4 359.2h1.3v1.3h-1.3zM651.5 358h1.3v1.3h-1.3zM644.8 356.1h1.3v1.3h-1.3zM655 355.9h1.3v1.3h-1.3zM651.2 355.6h1.3v1.3h-1.3zM642.2 367.5h1.3v1.3h-1.3zM652.8 353.2h1.3v1.3h-1.3zM645.2 363.5h1.3v1.3h-1.3zM643.7 365.2h1.3v1.3h-1.3zM649.4 363.2h1.3v1.3h-1.3zM643.2 368.5h1.3v1.3h-1.3zM655.4 357.4h1.3v1.3h-1.3zM653.9 358.1h1.3v1.3h-1.3zM639.4 373.6h1.3v1.3h-1.3zM645.5 362.8h1.3v1.3h-1.3zM637.6 375.8h1.3v1.3h-1.3zM643.4 366h1.3v1.3h-1.3zM641.3 368.4h1.3v1.3h-1.3zM657 357.9h1.3v1.3h-1.3zM655.7 356.4h1.3v1.3h-1.3zM652.6 354.8h1.3v1.3h-1.3zM644 366.5h1.3v1.3h-1.3zM643.5 366.3h1.3v1.3h-1.3zM644.2 363.6h1.3v1.3h-1.3zM645.5 362.1h1.3v1.3h-1.3zM641.7 366.4h1.3v1.3h-1.3zM640.5 366.2h1.3v1.3h-1.3zM646 363.5h1.3v1.3h-1.3zM653.4 357.4h1.3v1.3h-1.3zM643.4 367h1.3v1.3h-1.3zM644.7 364.2h1.3v1.3h-1.3zM646.7 364.1h1.3v1.3h-1.3zM649.7 365.5h1.3v1.3h-1.3zM647.3 361.5h1.3v1.3h-1.3zM650.5 359.1h1.3v1.3h-1.3zM655.4 355.5h1.3v1.3h-1.3zM650.5 355.1h1.3v1.3h-1.3zM646.4 366.5h1.3v1.3h-1.3zM646.3 364.2h1.3v1.3h-1.3zM649.7 360.8h1.3v1.3h-1.3zM645.2 364.4h1.3v1.3h-1.3zM649.3 363.6h1.3v1.3h-1.3zM649.6 356.1h1.3v1.3h-1.3zM651 361.2h1.3v1.3h-1.3zM644.9 364.1h1.3v1.3h-1.3zM647.2 363.1h1.3v1.3h-1.3zM643.6 370.1h1.3v1.3h-1.3zM647.6 366.2h1.3v1.3h-1.3zM644.6 365.9h1.3v1.3h-1.3zM649.7 359.1h1.3v1.3h-1.3zM648.4 361.9h1.3v1.3h-1.3zM639.1 368.8h1.3v1.3h-1.3zM643.7 363.5h1.3v1.3h-1.3zM654.1 355h1.3v1.3h-1.3zM649.1 358.5h1.3v1.3h-1.3zM644.4 364.3h1.3v1.3h-1.3zM640.4 369h1.3v1.3h-1.3zM653 353.4h1.3v1.3h-1.3zM648.4 361.8h1.3v1.3h-1.3zM645.8 365.3h1.3v1.3h-1.3zM650.2 359.4h1.3v1.3h-1.3zM654.5 356.3h1.3v1.3h-1.3zM652.4 359h1.3v1.3h-1.3zM654.3 354.4h1.3v1.3h-1.3zM641.8 373.6h1.3v1.3h-1.3zM651.8 361.2h1.3v1.3h-1.3zM646.8 364.7h1.3v1.3h-1.3zM652.1 359.2h1.3v1.3h-1.3zM645 364h1.3v1.3h-1.3zM645.2 356.9h1.3v1.3h-1.3zM649.5 364.1h1.3v1.3h-1.3zM645.7 364.3h1.3v1.3h-1.3zM655 354.2h1.3v1.3h-1.3zM646.6 360.5h1.3v1.3h-1.3zM645.8 363.9h1.3v1.3h-1.3zM652.5 359.7h1.3v1.3h-1.3zM649 362.1h1.3v1.3h-1.3zM651.2 357.5h1.3v1.3h-1.3zM645.9 365.5h1.3v1.3h-1.3zM646.9 364.9h1.3v1.3h-1.3zM645.8 363.5h1.3v1.3h-1.3zM652.4 356.1h1.3v1.3h-1.3zM649 364.4h1.3v1.3h-1.3zM654.9 352.7h1.3v1.3h-1.3zM646.8 367.9h1.3v1.3h-1.3zM646.5 361.4h1.3v1.3h-1.3zM654.5 359.9h1.3v1.3h-1.3zM644.2 368h1.3v1.3h-1.3zM638.9 368.2h1.3v1.3h-1.3zM643.7 365.1h1.3v1.3h-1.3zM653.5 353.8h1.3v1.3h-1.3zM652.8 356.9h1.3v1.3h-1.3zM643.2 366.9h1.3v1.3h-1.3zM644 366.3h1.3v1.3h-1.3zM646.4 355.2h1.3v1.3h-1.3zM647.2 361.7h1.3v1.3h-1.3zM648 356.9h1.3v1.3h-1.3zM644.5 360.6h1.3v1.3h-1.3zM655 354.5h1.3v1.3h-1.3zM643.2 363.5h1.3v1.3h-1.3zM653.2 358.5h1.3v1.3h-1.3zM656.5 357.2h1.3v1.3h-1.3zM648.9 360.6h1.3v1.3h-1.3zM654.2 356.1h1.3v1.3h-1.3zM642.9 366.7h1.3v1.3h-1.3zM644.4 368.9h1.3v1.3h-1.3zM644.5 364.1h1.3v1.3h-1.3zM645.4 360.9h1.3v1.3h-1.3zM650.4 358.6h1.3v1.3h-1.3zM649.8 363.2h1.3v1.3h-1.3zM647.1 363.4h1.3v1.3h-1.3zM650.8 357.6h1.3v1.3h-1.3zM644 364.7h1.3v1.3h-1.3zM654.6 357.9h1.3v1.3h-1.3zM652.7 355.3h1.3v1.3h-1.3zM648.4 358.3h1.3v1.3h-1.3zM650.5 357.4h1.3v1.3h-1.3zM648.2 359.6h1.3v1.3h-1.3zM641.1 365.4h1.3v1.3h-1.3zM646.8 366.2h1.3v1.3h-1.3zM651.5 362.4h1.3v1.3h-1.3zM646.7 362.4h1.3v1.3h-1.3zM648.4 360.3h1.3v1.3h-1.3zM646.5 365.7h1.3v1.3h-1.3zM652.7 360.1h1.3v1.3h-1.3zM640.2 370.3h1.3v1.3h-1.3zM645 362.4h1.3v1.3h-1.3zM655.6 355.5h1.3v1.3h-1.3zM654.5 349h1.3v1.3h-1.3zM646.8 355h1.3v1.3h-1.3zM654.1 354.7h1.3v1.3h-1.3zM648.2 358.8h1.3v1.3h-1.3zM648.1 366.3h1.3v1.3h-1.3zM641.3 366.1h1.3v1.3h-1.3zM640.5 368.4h1.3v1.3h-1.3zM650.4 359.7h1.3v1.3h-1.3zM645.9 365.3h1.3v1.3h-1.3zM643.4 367.9h1.3v1.3h-1.3zM654.8 350.7h1.3v1.3h-1.3zM657.4 349.4h1.3v1.3h-1.3zM646.4 366.2h1.3v1.3h-1.3zM645.5 362.8h1.3v1.3h-1.3zM642.2 366.6h1.3v1.3h-1.3zM654.3 354.9h1.3v1.3h-1.3zM645.8 364.8h1.3v1.3h-1.3zM651.5 359.2h1.3v1.3h-1.3zM656.6 353.1h1.3v1.3h-1.3zM646.9 361.6h1.3v1.3h-1.3zM645.3 359h1.3v1.3h-1.3zM647.6 361.9h1.3v1.3h-1.3zM641 365.7h1.3v1.3h-1.3zM644.4 367.3h1.3v1.3h-1.3zM656.3 358.4h1.3v1.3h-1.3zM649.5 357h1.3v1.3h-1.3zM643.5 363.4h1.3v1.3h-1.3zM648.5 361h1.3v1.3h-1.3zM648.3 360.4h1.3v1.3h-1.3zM645.2 363.4h1.3v1.3h-1.3zM642.5 366.8h1.3v1.3h-1.3zM651.9 362.2h1.3v1.3h-1.3zM648.1 364.4h1.3v1.3h-1.3zM644.5 363.4h1.3v1.3h-1.3zM645.5 364.1h1.3v1.3h-1.3zM647.5 362.1h1.3v1.3h-1.3zM643.9 367.7h1.3v1.3h-1.3zM656.9 352.4h1.3v1.3h-1.3zM656.8 354.2h1.3v1.3h-1.3zM655.2 355.8h1.3v1.3h-1.3zM647.6 362.5h1.3v1.3h-1.3zM648.1 359.2h1.3v1.3h-1.3zM650.7 360.4h1.3v1.3h-1.3zM645.7 362.2h1.3v1.3h-1.3zM665.6 334.4h1.3v1.3h-1.3zM659.6 350.4h1.3v1.3h-1.3zM656.6 366.4h1.3v1.3h-1.3zM645.6 374.4h1.3v1.3h-1.3zM645.4 372.4h1.3v1.3h-1.3zM658.6 344.4h1.3v1.3h-1.3zM666.6 350.4h1.3v1.3h-1.3z" fill="#f5d9b0"/>
<line x1="620.2" y1="391" x2="680.2" y2="331" stroke="#777" stroke-width="0.6" stroke-dasharray="2 1.3"/>
<line x1="620.2" y1="383.1" x2="680.2" y2="338.1" stroke="#ef8b22" stroke-width="1.4" stroke-dasharray="3.5 2"/>
</g>
<rect x="620.2" y="331" width="60" height="60" fill="none" stroke="#777" stroke-width="0.8"/>
<line x1="618.7" y1="381" x2="620.2" y2="381" stroke="#555" stroke-width="0.6"/>
<text x="618" y="383.6" font-size="7.3" text-anchor="end" font-weight="normal" fill="#222" stroke="#222" stroke-width="0.15">-10</text>
<line x1="630.2" y1="391" x2="630.2" y2="392.5" stroke="#555" stroke-width="0.6"/>
<text x="630.2" y="398.8" font-size="7.3" text-anchor="middle" font-weight="normal" fill="#222" stroke="#222" stroke-width="0.15">-10</text>
<line x1="618.7" y1="361" x2="620.2" y2="361" stroke="#555" stroke-width="0.6"/>
<text x="618" y="363.6" font-size="7.3" text-anchor="end" font-weight="normal" fill="#222" stroke="#222" stroke-width="0.15">0</text>
<line x1="650.2" y1="391" x2="650.2" y2="392.5" stroke="#555" stroke-width="0.6"/>
<text x="650.2" y="398.8" font-size="7.3" text-anchor="middle" font-weight="normal" fill="#222" stroke="#222" stroke-width="0.15">0</text>
<line x1="618.7" y1="341" x2="620.2" y2="341" stroke="#555" stroke-width="0.6"/>
<text x="618" y="343.6" font-size="7.3" text-anchor="end" font-weight="normal" fill="#222" stroke="#222" stroke-width="0.15">10</text>
<line x1="670.2" y1="391" x2="670.2" y2="392.5" stroke="#555" stroke-width="0.6"/>
<text x="670.2" y="398.8" font-size="7.3" text-anchor="middle" font-weight="normal" fill="#222" stroke="#222" stroke-width="0.15">10</text>
<clipPath id="fc5899"><rect x="543.6" y="463.5" width="60" height="60"/></clipPath>
<g clip-path="url(#fc5899)">
<line x1="543.6" y1="493.5" x2="603.6" y2="493.5" stroke="#c8c8c8" stroke-width="0.6"/>
<path d="M576.8 485.9h1.3v1.3h-1.3zM570.6 498.7h1.3v1.3h-1.3zM562.6 502.7h1.3v1.3h-1.3zM571.1 498.3h1.3v1.3h-1.3zM568.6 496.5h1.3v1.3h-1.3zM572.5 491.8h1.3v1.3h-1.3zM580.1 486.1h1.3v1.3h-1.3zM572 490.6h1.3v1.3h-1.3zM571.7 489.3h1.3v1.3h-1.3zM567.1 498.5h1.3v1.3h-1.3zM568.8 496h1.3v1.3h-1.3zM573.8 492.7h1.3v1.3h-1.3zM575.6 491.5h1.3v1.3h-1.3zM568.1 495h1.3v1.3h-1.3zM574.9 491.7h1.3v1.3h-1.3zM573 494.8h1.3v1.3h-1.3zM562.4 500.1h1.3v1.3h-1.3zM576.3 495.3h1.3v1.3h-1.3zM578.9 487.2h1.3v1.3h-1.3zM551.7 511.2h1.3v1.3h-1.3zM573 493.5h1.3v1.3h-1.3zM574.3 493.1h1.3v1.3h-1.3zM578.1 488.1h1.3v1.3h-1.3zM572.9 497.3h1.3v1.3h-1.3zM572.6 492.2h1.3v1.3h-1.3zM569.2 498.5h1.3v1.3h-1.3zM578.5 486.9h1.3v1.3h-1.3zM554.6 508.8h1.3v1.3h-1.3zM566.8 498.8h1.3v1.3h-1.3zM572.6 494.7h1.3v1.3h-1.3zM570.4 493h1.3v1.3h-1.3zM577.3 489.9h1.3v1.3h-1.3zM575.8 489.5h1.3v1.3h-1.3zM567.3 497.6h1.3v1.3h-1.3zM569.8 496.5h1.3v1.3h-1.3zM577.6 489.6h1.3v1.3h-1.3zM570.4 494.9h1.3v1.3h-1.3zM574.6 488.4h1.3v1.3h-1.3zM586.2 483.3h1.3v1.3h-1.3zM573 492.1h1.3v1.3h-1.3zM586.3 481.7h1.3v1.3h-1.3zM577.2 491h1.3v1.3h-1.3zM576.2 490.4h1.3v1.3h-1.3zM590.4 478.8h1.3v1.3h-1.3zM570 494h1.3v1.3h-1.3zM572.8 490.7h1.3v1.3h-1.3zM571.3 492.6h1.3v1.3h-1.3zM575.9 490.1h1.3v1.3h-1.3zM575.7 484.9h1.3v1.3h-1.3zM571.9 492.8h1.3v1.3h-1.3zM576.4 486.7h1.3v1.3h-1.3zM588.2 478h1.3v1.3h-1.3zM571.2 500.7h1.3v1.3h-1.3zM577.2 486.7h1.3v1.3h-1.3zM569.8 496.8h1.3v1.3h-1.3zM567.8 500.4h1.3v1.3h-1.3zM564.2 497.6h1.3v1.3h-1.3zM579.2 487h1.3v1.3h-1.3zM574.9 492h1.3v1.3h-1.3zM569 496.3h1.3v1.3h-1.3zM579.2 487.4h1.3v1.3h-1.3zM574.7 491.6h1.3v1.3h-1.3zM572.4 491h1.3v1.3h-1.3zM573.8 493.6h1.3v1.3h-1.3zM571.6 493h1.3v1.3h-1.3zM568.3 495.9h1.3v1.3h-1.3zM575.2 491.3h1.3v1.3h-1.3zM592 475.8h1.3v1.3h-1.3zM575.2 488.9h1.3v1.3h-1.3zM577.7 493.6h1.3v1.3h-1.3zM571.8 498.2h1.3v1.3h-1.3zM577.7 490.4h1.3v1.3h-1.3zM574.1 490.9h1.3v1.3h-1.3zM573.8 492.7h1.3v1.3h-1.3zM576.5 492.5h1.3v1.3h-1.3zM577.9 490h1.3v1.3h-1.3zM574.2 491.6h1.3v1.3h-1.3zM556.4 508.4h1.3v1.3h-1.3zM580.5 490.6h1.3v1.3h-1.3zM571.6 494.2h1.3v1.3h-1.3zM574.2 493.6h1.3v1.3h-1.3zM569.4 496.2h1.3v1.3h-1.3zM572.1 492.5h1.3v1.3h-1.3zM573.5 492.1h1.3v1.3h-1.3zM568.4 498.8h1.3v1.3h-1.3zM578.4 485.4h1.3v1.3h-1.3zM570.6 498h1.3v1.3h-1.3zM574 490.9h1.3v1.3h-1.3zM563.6 499.7h1.3v1.3h-1.3zM570.4 491.7h1.3v1.3h-1.3zM580.3 486.8h1.3v1.3h-1.3zM573.9 492.1h1.3v1.3h-1.3zM568.4 498.8h1.3v1.3h-1.3zM573.9 492.9h1.3v1.3h-1.3zM580.9 486.9h1.3v1.3h-1.3zM573.7 489.6h1.3v1.3h-1.3zM565.3 498h1.3v1.3h-1.3zM573.7 493h1.3v1.3h-1.3zM575.3 488.6h1.3v1.3h-1.3zM570.6 499h1.3v1.3h-1.3zM569 492.7h1.3v1.3h-1.3zM560.6 505.2h1.3v1.3h-1.3zM560.7 498h1.3v1.3h-1.3zM573.7 491.1h1.3v1.3h-1.3zM567.7 496.5h1.3v1.3h-1.3zM577.4 490.8h1.3v1.3h-1.3zM571.7 495.8h1.3v1.3h-1.3zM574.3 494.3h1.3v1.3h-1.3zM568.1 494.8h1.3v1.3h-1.3zM574.9 488.9h1.3v1.3h-1.3zM573.9 493.8h1.3v1.3h-1.3zM571.3 495h1.3v1.3h-1.3zM574.9 490.6h1.3v1.3h-1.3zM559.2 500h1.3v1.3h-1.3zM571.5 494.5h1.3v1.3h-1.3zM574 494.4h1.3v1.3h-1.3zM578.6 488.6h1.3v1.3h-1.3zM567.9 496.4h1.3v1.3h-1.3zM576.1 486.8h1.3v1.3h-1.3zM572.9 491h1.3v1.3h-1.3zM575.3 491.7h1.3v1.3h-1.3zM573.1 495.1h1.3v1.3h-1.3zM571.3 493.6h1.3v1.3h-1.3zM566.5 497.4h1.3v1.3h-1.3zM569 496.3h1.3v1.3h-1.3zM575.5 491.7h1.3v1.3h-1.3zM571.2 494.6h1.3v1.3h-1.3zM570.8 494.8h1.3v1.3h-1.3zM572.9 490.9h1.3v1.3h-1.3zM577.6 488h1.3v1.3h-1.3zM568.2 502.1h1.3v1.3h-1.3zM595 474.9h1.3v1.3h-1.3zM568.7 497.2h1.3v1.3h-1.3zM587.4 480.1h1.3v1.3h-1.3zM580.7 484.4h1.3v1.3h-1.3zM573 491.9h1.3v1.3h-1.3zM568.4 496.6h1.3v1.3h-1.3zM577.3 491.1h1.3v1.3h-1.3zM591.3 477.4h1.3v1.3h-1.3zM570.6 498h1.3v1.3h-1.3zM573.5 489.7h1.3v1.3h-1.3zM575.4 488.9h1.3v1.3h-1.3zM572 490.3h1.3v1.3h-1.3zM571.5 487.3h1.3v1.3h-1.3zM565.3 499.9h1.3v1.3h-1.3zM569.8 495h1.3v1.3h-1.3zM565.5 498.5h1.3v1.3h-1.3zM576.5 490.4h1.3v1.3h-1.3zM574.9 487.1h1.3v1.3h-1.3zM574.8 490.1h1.3v1.3h-1.3zM578.6 489.9h1.3v1.3h-1.3zM577.7 489h1.3v1.3h-1.3zM571.8 493.6h1.3v1.3h-1.3zM569.1 496.7h1.3v1.3h-1.3zM589.7 477.7h1.3v1.3h-1.3zM575.1 492.6h1.3v1.3h-1.3zM577.7 485.1h1.3v1.3h-1.3zM568.3 497.2h1.3v1.3h-1.3zM576.2 491.1h1.3v1.3h-1.3zM573 492.2h1.3v1.3h-1.3zM582.3 486.4h1.3v1.3h-1.3zM571.4 490.8h1.3v1.3h-1.3zM573.6 491.6h1.3v1.3h-1.3zM574.8 490.9h1.3v1.3h-1.3zM569.2 494.9h1.3v1.3h-1.3zM574.9 493h1.3v1.3h-1.3zM571.3 496h1.3v1.3h-1.3zM581.8 487.7h1.3v1.3h-1.3zM568.1 497.3h1.3v1.3h-1.3zM575.3 489.7h1.3v1.3h-1.3zM569 498.6h1.3v1.3h-1.3zM564.1 497.9h1.3v1.3h-1.3zM572.5 492.5h1.3v1.3h-1.3zM572.8 492.8h1.3v1.3h-1.3zM571.8 494.7h1.3v1.3h-1.3zM575.1 490.6h1.3v1.3h-1.3zM581.3 491.4h1.3v1.3h-1.3zM569.9 493.3h1.3v1.3h-1.3zM569.6 492.7h1.3v1.3h-1.3zM572.6 492.1h1.3v1.3h-1.3zM564.1 498.7h1.3v1.3h-1.3zM563.1 499.8h1.3v1.3h-1.3zM571.1 496.9h1.3v1.3h-1.3zM573.6 490h1.3v1.3h-1.3zM575.6 489.5h1.3v1.3h-1.3zM563 504.3h1.3v1.3h-1.3zM577.8 484h1.3v1.3h-1.3zM574.5 493.9h1.3v1.3h-1.3zM579.3 487.2h1.3v1.3h-1.3zM565.1 496.4h1.3v1.3h-1.3zM574.2 487.3h1.3v1.3h-1.3zM574.6 489.1h1.3v1.3h-1.3zM570.4 497.4h1.3v1.3h-1.3zM580.4 486.2h1.3v1.3h-1.3zM578.6 488h1.3v1.3h-1.3zM568.6 496h1.3v1.3h-1.3zM571.9 494.4h1.3v1.3h-1.3zM570 493.3h1.3v1.3h-1.3zM573.3 493.8h1.3v1.3h-1.3zM573 492.5h1.3v1.3h-1.3zM549 504.9h1.3v1.3h-1.3zM553 498.9h1.3v1.3h-1.3zM557 500.9h1.3v1.3h-1.3zM577 472.9h1.3v1.3h-1.3zM589 472.9h1.3v1.3h-1.3zM591 472.9h1.3v1.3h-1.3zM563 510.9h1.3v1.3h-1.3zM585 488.9h1.3v1.3h-1.3zM593 470.9h1.3v1.3h-1.3z" fill="#f5d9b0"/>
<line x1="543.6" y1="523.5" x2="603.6" y2="463.5" stroke="#777" stroke-width="0.6" stroke-dasharray="2 1.3"/>
<line x1="543.6" y1="512.7" x2="603.6" y2="473.1" stroke="#ef8b22" stroke-width="1.4" stroke-dasharray="3.5 2"/>
</g>
<rect x="543.6" y="463.5" width="60" height="60" fill="none" stroke="#777" stroke-width="0.8"/>
<line x1="542.1" y1="513.5" x2="543.6" y2="513.5" stroke="#555" stroke-width="0.6"/>
<text x="541.4" y="516.1" font-size="7.3" text-anchor="end" font-weight="normal" fill="#222" stroke="#222" stroke-width="0.15">-10</text>
<line x1="553.6" y1="523.5" x2="553.6" y2="525" stroke="#555" stroke-width="0.6"/>
<text x="553.6" y="531.3" font-size="7.3" text-anchor="middle" font-weight="normal" fill="#222" stroke="#222" stroke-width="0.15">-10</text>
<line x1="542.1" y1="493.5" x2="543.6" y2="493.5" stroke="#555" stroke-width="0.6"/>
<text x="541.4" y="496.1" font-size="7.3" text-anchor="end" font-weight="normal" fill="#222" stroke="#222" stroke-width="0.15">0</text>
<line x1="573.6" y1="523.5" x2="573.6" y2="525" stroke="#555" stroke-width="0.6"/>
<text x="573.6" y="531.3" font-size="7.3" text-anchor="middle" font-weight="normal" fill="#222" stroke="#222" stroke-width="0.15">0</text>
<line x1="542.1" y1="473.5" x2="543.6" y2="473.5" stroke="#555" stroke-width="0.6"/>
<text x="541.4" y="476.1" font-size="7.3" text-anchor="end" font-weight="normal" fill="#222" stroke="#222" stroke-width="0.15">10</text>
<line x1="593.6" y1="523.5" x2="593.6" y2="525" stroke="#555" stroke-width="0.6"/>
<text x="593.6" y="531.3" font-size="7.3" text-anchor="middle" font-weight="normal" fill="#222" stroke="#222" stroke-width="0.15">10</text>
<clipPath id="fc6666"><rect x="620.2" y="464.7" width="60" height="60"/></clipPath>
<g clip-path="url(#fc6666)">
<line x1="620.2" y1="494.7" x2="680.2" y2="494.7" stroke="#c8c8c8" stroke-width="0.6"/>
<path d="M626.3 521.1h1.3v1.3h-1.3zM642.6 500.2h1.3v1.3h-1.3zM623.1 513h1.3v1.3h-1.3zM636.2 510.5h1.3v1.3h-1.3zM647.8 495h1.3v1.3h-1.3zM640.6 507.3h1.3v1.3h-1.3zM643.7 500.1h1.3v1.3h-1.3zM649.5 503.7h1.3v1.3h-1.3zM635.3 506.7h1.3v1.3h-1.3zM643 498.5h1.3v1.3h-1.3zM637.5 500.5h1.3v1.3h-1.3zM632.4 519.3h1.3v1.3h-1.3zM643.8 506.4h1.3v1.3h-1.3zM642.2 500.1h1.3v1.3h-1.3zM637.2 501.7h1.3v1.3h-1.3zM643.3 502.6h1.3v1.3h-1.3zM643 497.6h1.3v1.3h-1.3zM640 505.5h1.3v1.3h-1.3zM632.4 502h1.3v1.3h-1.3zM638.1 502.1h1.3v1.3h-1.3zM624.9 512.5h1.3v1.3h-1.3zM624.5 514.2h1.3v1.3h-1.3zM633.7 509.3h1.3v1.3h-1.3zM639 501.6h1.3v1.3h-1.3zM627.6 510.1h1.3v1.3h-1.3zM646.6 491.1h1.3v1.3h-1.3zM645 504.2h1.3v1.3h-1.3zM649.6 479.9h1.3v1.3h-1.3zM633.1 511h1.3v1.3h-1.3zM632.6 505.2h1.3v1.3h-1.3zM648.9 496.1h1.3v1.3h-1.3zM639.2 504.7h1.3v1.3h-1.3zM641.6 501.5h1.3v1.3h-1.3zM632.5 511.1h1.3v1.3h-1.3zM642.4 505.5h1.3v1.3h-1.3zM629.7 506.4h1.3v1.3h-1.3zM644.1 490.6h1.3v1.3h-1.3zM621.7 513.1h1.3v1.3h-1.3zM636.5 495.5h1.3v1.3h-1.3zM624.7 520.3h1.3v1.3h-1.3zM631.6 508h1.3v1.3h-1.3zM649.6 496.6h1.3v1.3h-1.3zM644.2 500.6h1.3v1.3h-1.3zM634 501.2h1.3v1.3h-1.3zM630 512.6h1.3v1.3h-1.3zM631.7 505.7h1.3v1.3h-1.3zM635.6 513.2h1.3v1.3h-1.3zM640.2 502.1h1.3v1.3h-1.3zM635.7 509.2h1.3v1.3h-1.3zM629.8 505h1.3v1.3h-1.3zM634.3 502.6h1.3v1.3h-1.3zM644.7 497.1h1.3v1.3h-1.3zM639.1 498.6h1.3v1.3h-1.3zM624.8 524.7h1.3v1.3h-1.3zM632.2 502.8h1.3v1.3h-1.3zM625.6 513.4h1.3v1.3h-1.3zM642.4 502.1h1.3v1.3h-1.3zM628.9 504.2h1.3v1.3h-1.3zM642.4 502h1.3v1.3h-1.3zM636.2 504.3h1.3v1.3h-1.3zM635.8 504.2h1.3v1.3h-1.3zM632.4 514.1h1.3v1.3h-1.3zM635.1 504.3h1.3v1.3h-1.3zM633.7 509.8h1.3v1.3h-1.3zM644.9 494.5h1.3v1.3h-1.3zM636.5 506.8h1.3v1.3h-1.3zM649.6 491.7h1.3v1.3h-1.3zM633.6 498.9h1.3v1.3h-1.3zM635.7 504.3h1.3v1.3h-1.3zM627.1 519.1h1.3v1.3h-1.3zM644.7 503.3h1.3v1.3h-1.3zM631.5 513.5h1.3v1.3h-1.3zM632 506.1h1.3v1.3h-1.3zM649.6 498h1.3v1.3h-1.3zM639.9 502.2h1.3v1.3h-1.3zM639.9 502.3h1.3v1.3h-1.3zM636 497.7h1.3v1.3h-1.3zM633.3 498.7h1.3v1.3h-1.3zM640.9 507h1.3v1.3h-1.3zM640.9 511.3h1.3v1.3h-1.3zM640.2 509.4h1.3v1.3h-1.3zM634.9 510.6h1.3v1.3h-1.3zM636 508.7h1.3v1.3h-1.3zM639.8 508h1.3v1.3h-1.3zM641.2 493.7h1.3v1.3h-1.3zM632.1 510.1h1.3v1.3h-1.3zM636.3 504.8h1.3v1.3h-1.3zM649 499.9h1.3v1.3h-1.3zM638.7 498.2h1.3v1.3h-1.3zM634.1 513.6h1.3v1.3h-1.3zM635.9 495h1.3v1.3h-1.3zM649.6 494h1.3v1.3h-1.3zM638.8 504.7h1.3v1.3h-1.3zM638.8 503.4h1.3v1.3h-1.3zM636 514.1h1.3v1.3h-1.3zM646 496.6h1.3v1.3h-1.3zM636.9 514.5h1.3v1.3h-1.3zM642.9 503.2h1.3v1.3h-1.3zM623.9 508.4h1.3v1.3h-1.3zM629.8 515.9h1.3v1.3h-1.3zM631.6 515h1.3v1.3h-1.3zM649.6 492.9h1.3v1.3h-1.3zM649.6 495.3h1.3v1.3h-1.3zM629.5 505.2h1.3v1.3h-1.3zM621.6 510h1.3v1.3h-1.3zM634.1 509.2h1.3v1.3h-1.3zM633.8 508h1.3v1.3h-1.3zM638.6 507.7h1.3v1.3h-1.3zM644.9 510.5h1.3v1.3h-1.3zM636.9 509.9h1.3v1.3h-1.3zM635.4 515.7h1.3v1.3h-1.3zM633.7 507.1h1.3v1.3h-1.3zM634.8 501.2h1.3v1.3h-1.3zM632.9 511.9h1.3v1.3h-1.3zM637.9 510.1h1.3v1.3h-1.3zM634.1 511.6h1.3v1.3h-1.3zM640.8 507.1h1.3v1.3h-1.3zM634.7 502.8h1.3v1.3h-1.3zM639 508.6h1.3v1.3h-1.3zM630.5 507.1h1.3v1.3h-1.3zM642.5 497.8h1.3v1.3h-1.3zM636.9 505.8h1.3v1.3h-1.3zM645.5 498.9h1.3v1.3h-1.3zM644.7 503.3h1.3v1.3h-1.3zM631.1 508.1h1.3v1.3h-1.3zM644.8 495.1h1.3v1.3h-1.3zM633.1 508.1h1.3v1.3h-1.3zM635 510.3h1.3v1.3h-1.3zM643 499.8h1.3v1.3h-1.3zM649.6 496.6h1.3v1.3h-1.3zM644.7 494.5h1.3v1.3h-1.3zM639 504.8h1.3v1.3h-1.3zM641.2 502.1h1.3v1.3h-1.3zM643.1 500.3h1.3v1.3h-1.3zM647 496h1.3v1.3h-1.3zM635.6 502.6h1.3v1.3h-1.3zM630.8 511.2h1.3v1.3h-1.3zM626.3 520.5h1.3v1.3h-1.3zM627.8 506.9h1.3v1.3h-1.3zM633.7 514.3h1.3v1.3h-1.3zM642.2 498.5h1.3v1.3h-1.3zM622.2 518.1h1.3v1.3h-1.3zM625.3 514.1h1.3v1.3h-1.3zM637.1 509.4h1.3v1.3h-1.3zM635.9 509.4h1.3v1.3h-1.3zM633.9 509.2h1.3v1.3h-1.3zM636.5 499.4h1.3v1.3h-1.3zM648.2 495.3h1.3v1.3h-1.3zM638.3 507.2h1.3v1.3h-1.3zM645.3 490.7h1.3v1.3h-1.3zM639.1 503.2h1.3v1.3h-1.3zM646.3 496.4h1.3v1.3h-1.3zM633.9 513.8h1.3v1.3h-1.3zM635.6 511.4h1.3v1.3h-1.3zM628.6 513.8h1.3v1.3h-1.3zM628.6 508.9h1.3v1.3h-1.3zM633.7 507.9h1.3v1.3h-1.3zM636 509.5h1.3v1.3h-1.3zM624.5 521.6h1.3v1.3h-1.3zM631.7 498.2h1.3v1.3h-1.3zM639.8 505h1.3v1.3h-1.3zM627.3 511.5h1.3v1.3h-1.3zM649.6 486.6h1.3v1.3h-1.3zM628.3 515h1.3v1.3h-1.3zM640.1 499.3h1.3v1.3h-1.3zM636.5 511.9h1.3v1.3h-1.3zM646.4 489.4h1.3v1.3h-1.3zM637.4 512.5h1.3v1.3h-1.3zM636.1 500h1.3v1.3h-1.3zM646.3 493.2h1.3v1.3h-1.3zM635.8 505.3h1.3v1.3h-1.3zM645.7 493.8h1.3v1.3h-1.3zM630 511.1h1.3v1.3h-1.3zM644.6 489.4h1.3v1.3h-1.3zM643.7 493.9h1.3v1.3h-1.3zM639.3 503.3h1.3v1.3h-1.3zM633.3 509.6h1.3v1.3h-1.3zM635.9 506.7h1.3v1.3h-1.3zM643.2 507.7h1.3v1.3h-1.3zM634.3 505h1.3v1.3h-1.3zM635.3 511.5h1.3v1.3h-1.3zM623.8 515.7h1.3v1.3h-1.3zM647.6 494.7h1.3v1.3h-1.3zM622.6 513.7h1.3v1.3h-1.3zM638.6 499.2h1.3v1.3h-1.3zM638.3 506.4h1.3v1.3h-1.3zM638.3 505.2h1.3v1.3h-1.3zM639.6 506.6h1.3v1.3h-1.3zM635.9 505.9h1.3v1.3h-1.3zM627.3 514.6h1.3v1.3h-1.3zM647.3 497.7h1.3v1.3h-1.3zM629.5 504h1.3v1.3h-1.3zM639.3 502.2h1.3v1.3h-1.3zM639.4 501h1.3v1.3h-1.3zM630.2 505.6h1.3v1.3h-1.3zM636 503.8h1.3v1.3h-1.3zM636.7 513.3h1.3v1.3h-1.3zM633.3 500.4h1.3v1.3h-1.3zM645 500.9h1.3v1.3h-1.3zM631.3 510.5h1.3v1.3h-1.3zM622.5 520h1.3v1.3h-1.3zM631.1 515.6h1.3v1.3h-1.3zM633.4 512.7h1.3v1.3h-1.3zM639.1 500.3h1.3v1.3h-1.3zM638 504h1.3v1.3h-1.3zM631.4 511.8h1.3v1.3h-1.3zM639.8 503.5h1.3v1.3h-1.3zM633.7 513.8h1.3v1.3h-1.3zM638.6 502.2h1.3v1.3h-1.3zM647.1 492.2h1.3v1.3h-1.3zM643.7 509h1.3v1.3h-1.3zM645.5 496.1h1.3v1.3h-1.3zM635.6 507.3h1.3v1.3h-1.3zM630.2 508.8h1.3v1.3h-1.3zM635.7 495h1.3v1.3h-1.3zM634 502.6h1.3v1.3h-1.3zM638.9 500.5h1.3v1.3h-1.3zM629 511.2h1.3v1.3h-1.3zM629 508.3h1.3v1.3h-1.3zM640.6 503.5h1.3v1.3h-1.3zM652.4 492.3h1.3v1.3h-1.3zM655.3 489.7h1.3v1.3h-1.3zM650.5 496.6h1.3v1.3h-1.3zM655.3 491.8h1.3v1.3h-1.3zM646 494.9h1.3v1.3h-1.3zM649 493h1.3v1.3h-1.3zM652.4 493.5h1.3v1.3h-1.3zM654.5 490.8h1.3v1.3h-1.3zM659.3 488.7h1.3v1.3h-1.3zM649.9 497.9h1.3v1.3h-1.3zM657.5 488.6h1.3v1.3h-1.3zM652.2 490h1.3v1.3h-1.3zM644 499.4h1.3v1.3h-1.3zM653.2 489.9h1.3v1.3h-1.3zM650.1 494.1h1.3v1.3h-1.3zM644.5 501.2h1.3v1.3h-1.3zM648.9 493.9h1.3v1.3h-1.3zM646.7 498.1h1.3v1.3h-1.3zM645.3 498.6h1.3v1.3h-1.3zM655.9 487.8h1.3v1.3h-1.3zM652.5 495.4h1.3v1.3h-1.3zM647.4 494.7h1.3v1.3h-1.3zM652.2 484.7h1.3v1.3h-1.3zM655.2 487.5h1.3v1.3h-1.3zM653.5 488.9h1.3v1.3h-1.3zM652.9 494.2h1.3v1.3h-1.3zM653.9 488.5h1.3v1.3h-1.3zM648.9 495.4h1.3v1.3h-1.3zM650.1 494.1h1.3v1.3h-1.3zM652.8 494.2h1.3v1.3h-1.3zM651.3 496.6h1.3v1.3h-1.3zM655.7 488.2h1.3v1.3h-1.3zM653.1 492.3h1.3v1.3h-1.3zM652.9 496.4h1.3v1.3h-1.3zM650.9 493.3h1.3v1.3h-1.3zM650.1 496.6h1.3v1.3h-1.3zM657.4 485.9h1.3v1.3h-1.3zM652.5 492.6h1.3v1.3h-1.3zM659.9 484.3h1.3v1.3h-1.3zM647.8 492.8h1.3v1.3h-1.3zM656.4 491.7h1.3v1.3h-1.3zM657.3 486.9h1.3v1.3h-1.3zM657 489.2h1.3v1.3h-1.3zM656.4 491.1h1.3v1.3h-1.3zM647.8 496.7h1.3v1.3h-1.3zM649.5 497.6h1.3v1.3h-1.3zM649.3 496.9h1.3v1.3h-1.3zM648.8 496.1h1.3v1.3h-1.3zM650 490.9h1.3v1.3h-1.3zM648.5 493.1h1.3v1.3h-1.3zM654.5 487.4h1.3v1.3h-1.3zM651.8 493.8h1.3v1.3h-1.3zM647.4 493.3h1.3v1.3h-1.3zM652.1 493.1h1.3v1.3h-1.3zM646.6 495.3h1.3v1.3h-1.3zM654.2 489.4h1.3v1.3h-1.3zM647.2 494.5h1.3v1.3h-1.3zM654.3 493.7h1.3v1.3h-1.3zM654.3 487.4h1.3v1.3h-1.3zM651.9 494.6h1.3v1.3h-1.3zM657.8 489.8h1.3v1.3h-1.3zM653.7 487.8h1.3v1.3h-1.3zM653.5 497.2h1.3v1.3h-1.3zM650 494.5h1.3v1.3h-1.3zM649.1 491.4h1.3v1.3h-1.3zM651.2 488.7h1.3v1.3h-1.3zM653 498.1h1.3v1.3h-1.3zM646.9 492.5h1.3v1.3h-1.3zM645.1 495.5h1.3v1.3h-1.3zM654 486.2h1.3v1.3h-1.3zM655.2 489.6h1.3v1.3h-1.3zM653.7 489.8h1.3v1.3h-1.3zM654 493.4h1.3v1.3h-1.3zM653.2 485.2h1.3v1.3h-1.3zM652.3 491.7h1.3v1.3h-1.3zM653.7 487.2h1.3v1.3h-1.3zM648.4 498h1.3v1.3h-1.3zM654.4 489.3h1.3v1.3h-1.3zM651.9 491.9h1.3v1.3h-1.3zM646 499.1h1.3v1.3h-1.3zM653.1 488.1h1.3v1.3h-1.3zM652.3 489.8h1.3v1.3h-1.3zM653.6 492.2h1.3v1.3h-1.3zM647.5 493.5h1.3v1.3h-1.3zM649 497.5h1.3v1.3h-1.3zM650.4 498.6h1.3v1.3h-1.3zM648.1 498.4h1.3v1.3h-1.3zM656.2 488.9h1.3v1.3h-1.3zM652.7 489.9h1.3v1.3h-1.3zM653.9 486.3h1.3v1.3h-1.3zM652.2 489.6h1.3v1.3h-1.3zM648.9 496.4h1.3v1.3h-1.3zM652.6 492.8h1.3v1.3h-1.3zM652.3 493h1.3v1.3h-1.3zM653.8 490.4h1.3v1.3h-1.3zM649.8 494h1.3v1.3h-1.3zM651.3 491h1.3v1.3h-1.3zM654.7 492.4h1.3v1.3h-1.3zM656.3 488.5h1.3v1.3h-1.3zM650.4 492.4h1.3v1.3h-1.3zM654.9 490.6h1.3v1.3h-1.3zM651.3 495.7h1.3v1.3h-1.3zM654.4 488.9h1.3v1.3h-1.3zM652.9 491.7h1.3v1.3h-1.3zM652.5 496h1.3v1.3h-1.3zM652 486.8h1.3v1.3h-1.3zM648.5 493.8h1.3v1.3h-1.3zM643.6 499.3h1.3v1.3h-1.3zM648.9 493.5h1.3v1.3h-1.3zM645.9 499.8h1.3v1.3h-1.3zM648.8 494.8h1.3v1.3h-1.3zM653.7 491.7h1.3v1.3h-1.3zM650.7 493.7h1.3v1.3h-1.3zM656.2 488.9h1.3v1.3h-1.3zM654.8 489.9h1.3v1.3h-1.3zM651.3 493.8h1.3v1.3h-1.3zM652.1 494.5h1.3v1.3h-1.3zM649.7 494.4h1.3v1.3h-1.3zM651.5 489.8h1.3v1.3h-1.3zM651.3 490.9h1.3v1.3h-1.3zM658.1 486h1.3v1.3h-1.3zM650.1 495.3h1.3v1.3h-1.3zM660 488.8h1.3v1.3h-1.3zM653 491.6h1.3v1.3h-1.3zM657 486.4h1.3v1.3h-1.3zM651.7 494.4h1.3v1.3h-1.3zM648.4 495.9h1.3v1.3h-1.3zM648.3 491.7h1.3v1.3h-1.3zM648.1 491.5h1.3v1.3h-1.3zM650.7 489.6h1.3v1.3h-1.3zM653 492.6h1.3v1.3h-1.3zM653.3 489.8h1.3v1.3h-1.3zM656.5 491.9h1.3v1.3h-1.3zM652.5 487.7h1.3v1.3h-1.3zM657.4 490h1.3v1.3h-1.3zM655.2 486h1.3v1.3h-1.3zM657 484.7h1.3v1.3h-1.3zM651.9 494.2h1.3v1.3h-1.3zM650.8 497.1h1.3v1.3h-1.3zM656.1 487.7h1.3v1.3h-1.3zM653.9 485.3h1.3v1.3h-1.3zM654.1 491.9h1.3v1.3h-1.3zM647.9 498h1.3v1.3h-1.3zM652.9 491.7h1.3v1.3h-1.3zM653 492.8h1.3v1.3h-1.3zM655.5 494.1h1.3v1.3h-1.3zM648.7 488.9h1.3v1.3h-1.3zM655.1 486.5h1.3v1.3h-1.3zM653.4 489h1.3v1.3h-1.3zM650.4 495.1h1.3v1.3h-1.3zM657.6 489.6h1.3v1.3h-1.3zM656.5 493.5h1.3v1.3h-1.3zM651 493.3h1.3v1.3h-1.3zM648.9 497.7h1.3v1.3h-1.3zM652.7 489.1h1.3v1.3h-1.3zM649.1 493.2h1.3v1.3h-1.3zM648.4 496.1h1.3v1.3h-1.3zM651.9 487h1.3v1.3h-1.3zM654.6 491.6h1.3v1.3h-1.3zM653.7 494h1.3v1.3h-1.3zM649.9 490.2h1.3v1.3h-1.3zM653.2 488.6h1.3v1.3h-1.3zM652.5 496.5h1.3v1.3h-1.3zM651.6 489h1.3v1.3h-1.3zM651.2 490.7h1.3v1.3h-1.3zM653.3 491.6h1.3v1.3h-1.3zM647.1 491.5h1.3v1.3h-1.3zM650.1 491h1.3v1.3h-1.3zM648.1 493.6h1.3v1.3h-1.3zM646.3 495.6h1.3v1.3h-1.3zM649.5 496.6h1.3v1.3h-1.3zM651.9 490.8h1.3v1.3h-1.3zM658.3 485.7h1.3v1.3h-1.3zM654.8 492.1h1.3v1.3h-1.3zM651.3 490.6h1.3v1.3h-1.3zM656.1 485.3h1.3v1.3h-1.3zM654.9 491.4h1.3v1.3h-1.3zM655.5 487h1.3v1.3h-1.3zM648.1 498.8h1.3v1.3h-1.3zM649.9 493.7h1.3v1.3h-1.3zM651.7 495.1h1.3v1.3h-1.3zM648 499h1.3v1.3h-1.3zM653.5 486.9h1.3v1.3h-1.3zM661.6 481.6h1.3v1.3h-1.3zM650.8 492h1.3v1.3h-1.3zM653.3 492.1h1.3v1.3h-1.3zM651.8 494.6h1.3v1.3h-1.3zM655.7 490.3h1.3v1.3h-1.3zM653.6 488.2h1.3v1.3h-1.3zM647.1 498.4h1.3v1.3h-1.3zM653.1 490.1h1.3v1.3h-1.3zM649.5 492.5h1.3v1.3h-1.3zM656.1 487.4h1.3v1.3h-1.3zM650.1 489.9h1.3v1.3h-1.3zM650.1 494.7h1.3v1.3h-1.3zM655.8 487.3h1.3v1.3h-1.3zM646.6 496.2h1.3v1.3h-1.3zM659.9 487.4h1.3v1.3h-1.3zM653.1 497.7h1.3v1.3h-1.3zM649 494.1h1.3v1.3h-1.3zM621.6 510.1h1.3v1.3h-1.3zM623.6 518.1h1.3v1.3h-1.3zM665.6 490.1h1.3v1.3h-1.3zM669.6 490.1h1.3v1.3h-1.3zM659.6 474.1h1.3v1.3h-1.3zM661.6 494.1h1.3v1.3h-1.3zM657.6 492.1h1.3v1.3h-1.3zM663.6 491.1h1.3v1.3h-1.3zM631.6 522.1h1.3v1.3h-1.3zM637.6 522.1h1.3v1.3h-1.3z" fill="#f5d9b0"/>
<line x1="620.2" y1="524.7" x2="680.2" y2="464.7" stroke="#777" stroke-width="0.6" stroke-dasharray="2 1.3"/>
<line x1="620.2" y1="524.5" x2="680.2" y2="464.5" stroke="#ef8b22" stroke-width="1.4" stroke-dasharray="3.5 2"/>
</g>
<rect x="620.2" y="464.7" width="60" height="60" fill="none" stroke="#777" stroke-width="0.8"/>
<line x1="618.7" y1="514.7" x2="620.2" y2="514.7" stroke="#555" stroke-width="0.6"/>
<text x="618" y="517.3" font-size="7.3" text-anchor="end" font-weight="normal" fill="#222" stroke="#222" stroke-width="0.15">-10</text>
<line x1="630.2" y1="524.7" x2="630.2" y2="526.2" stroke="#555" stroke-width="0.6"/>
<text x="630.2" y="532.5" font-size="7.3" text-anchor="middle" font-weight="normal" fill="#222" stroke="#222" stroke-width="0.15">-10</text>
<line x1="618.7" y1="494.7" x2="620.2" y2="494.7" stroke="#555" stroke-width="0.6"/>
<text x="618" y="497.3" font-size="7.3" text-anchor="end" font-weight="normal" fill="#222" stroke="#222" stroke-width="0.15">0</text>
<line x1="650.2" y1="524.7" x2="650.2" y2="526.2" stroke="#555" stroke-width="0.6"/>
<text x="650.2" y="532.5" font-size="7.3" text-anchor="middle" font-weight="normal" fill="#222" stroke="#222" stroke-width="0.15">0</text>
<line x1="618.7" y1="474.7" x2="620.2" y2="474.7" stroke="#555" stroke-width="0.6"/>
<text x="618" y="477.3" font-size="7.3" text-anchor="end" font-weight="normal" fill="#222" stroke="#222" stroke-width="0.15">10</text>
<line x1="670.2" y1="524.7" x2="670.2" y2="526.2" stroke="#555" stroke-width="0.6"/>
<text x="670.2" y="532.5" font-size="7.3" text-anchor="middle" font-weight="normal" fill="#222" stroke="#222" stroke-width="0.15">10</text>
<text transform="translate(528.6 362) rotate(-90)" x="0" y="2.2" font-size="6.2" text-anchor="middle" font-weight="normal" fill="#222" stroke="#222" stroke-width="0.15">Log<tspan font-size="5" dy="1.5">2</tspan><tspan dy="-1.5" font-style="italic">fc</tspan> (Old-EXE vs Young-EXE)</text>
<text transform="translate(528.6 494.7) rotate(-90)" x="0" y="2.2" font-size="6.2" text-anchor="middle" font-weight="normal" fill="#222" stroke="#222" stroke-width="0.15">Log<tspan font-size="5" dy="1.5">2</tspan><tspan dy="-1.5" font-style="italic">fc</tspan> (Old-EXE vs Young-EXE)</text>
<text x="614.5" y="416.9" font-size="6.6" text-anchor="middle" font-weight="normal" fill="#222" stroke="#222" stroke-width="0.15">Log<tspan font-size="5" dy="1.5">2</tspan><tspan dy="-1.5" font-style="italic">fc</tspan> (Old-SED vs Young-SED)</text>
<text x="614.5" y="549.5" font-size="6.6" text-anchor="middle" font-weight="normal" fill="#222" stroke="#222" stroke-width="0.15">Log<tspan font-size="5" dy="1.5">2</tspan><tspan dy="-1.5" font-style="italic">fc</tspan> (Old-SED vs Young-SED)</text>
<clipPath id="mc1"><rect x="4" y="574.9" width="55.9" height="57.9"/></clipPath>
<g clip-path="url(#mc1)">
<rect x="4" y="574.9" width="55.9" height="57.9" fill="#e4efee"/>
<filter id="spk1" x="0" y="0" width="100%" height="100%"><feTurbulence type="fractalNoise" baseFrequency="0.75" numOctaves="2" seed="7" result="n1"/><feColorMatrix in="n1" type="matrix" values="0 0 0 0 0.42  0 0 0 0 0.68  0 0 0 0 0.7  6.4399999999999995 0 0 0 -2.5850000000000004" result="c1"/><feTurbulence type="fractalNoise" baseFrequency="0.12" numOctaves="2" seed="7" result="n2"/><feColorMatrix in="n2" type="matrix" values="0 0 0 0 0  0 0 0 0 0  0 0 0 0 0  3.5 0 0 0 -1.1" result="m2"/><feComposite in="c1" in2="m2" operator="in"/></filter>
<filter id="blt1" x="0" y="0" width="100%" height="100%"><feTurbulence type="fractalNoise" baseFrequency="0.07" numOctaves="2" seed="13"/><feColorMatrix type="matrix" values="0 0 0 0 1  0 0 0 0 1  0 0 0 0 1  5 0 0 0 -2.9"/></filter>
<rect x="4" y="574.9" width="55.9" height="57.9" filter="url(#spk1)"/>
<rect x="4" y="574.9" width="55.9" height="57.9" filter="url(#blt1)" opacity="0.75"/>
<g fill="#2f7f96"><circle cx="36.1" cy="604.9" r="0.5" opacity="0.96"/><circle cx="31.3" cy="615.7" r="0.8" opacity="0.44"/><circle cx="56.4" cy="588.6" r="0.8" opacity="0.76"/><circle cx="10.9" cy="615.2" r="0.4" opacity="0.92"/><circle cx="58.6" cy="605.8" r="0.5" opacity="0.44"/><circle cx="42.3" cy="606.6" r="0.4" opacity="0.44"/><circle cx="32.4" cy="625" r="0.7" opacity="0.49"/><circle cx="22.3" cy="582.4" r="0.3" opacity="0.66"/><circle cx="51.2" cy="632.3" r="0.7" opacity="0.64"/><circle cx="31.3" cy="592" r="0.8" opacity="0.65"/><circle cx="53.7" cy="617.1" r="0.3" opacity="0.55"/><circle cx="42.7" cy="619.3" r="0.4" opacity="0.54"/><circle cx="53.4" cy="608.7" r="0.3" opacity="0.54"/><circle cx="47" cy="609.6" r="0.9" opacity="0.74"/><circle cx="39.2" cy="616.1" r="0.8" opacity="0.40"/><circle cx="18.9" cy="576" r="0.8" opacity="0.84"/><circle cx="36.5" cy="603.9" r="0.3" opacity="0.59"/><circle cx="5.2" cy="596.4" r="0.6" opacity="0.68"/><circle cx="24.1" cy="616" r="0.6" opacity="0.99"/><circle cx="4.8" cy="587.4" r="0.5" opacity="0.62"/><circle cx="51.4" cy="623.9" r="0.8" opacity="0.52"/><circle cx="30.2" cy="597.2" r="0.4" opacity="0.80"/><circle cx="41.3" cy="602.3" r="0.3" opacity="0.60"/><circle cx="39.5" cy="615.2" r="0.5" opacity="0.87"/><circle cx="20.9" cy="604.5" r="0.7" opacity="0.66"/></g>
</g>
<line x1="55.4" y1="629.8" x2="57.9" y2="629.8" stroke="#333" stroke-width="0.7"/>
<g transform="translate(6.8 581.9) rotate(0)"><text x="0" y="2.9" font-size="8.3" fill="#222">SED</text><circle cx="20.4" cy="-1.2" r="1.7" fill="none" stroke="#222" stroke-width="0.51"/><path d="M20.4 0.5V3.5M19.3 2H21.6" stroke="#222" stroke-width="0.51" fill="none"/></g>
<clipPath id="mc2"><rect x="63.3" y="574.9" width="55.2" height="57.9"/></clipPath>
<g clip-path="url(#mc2)">
<rect x="63.3" y="574.9" width="55.2" height="57.9" fill="#f1f6f4"/>
<filter id="spk2" x="0" y="0" width="100%" height="100%"><feTurbulence type="fractalNoise" baseFrequency="0.75" numOctaves="2" seed="14" result="n1"/><feColorMatrix in="n1" type="matrix" values="0 0 0 0 0.55  0 0 0 0 0.78  0 0 0 0 0.78  4.14 0 0 0 -2.3100000000000005" result="c1"/><feTurbulence type="fractalNoise" baseFrequency="0.12" numOctaves="2" seed="12" result="n2"/><feColorMatrix in="n2" type="matrix" values="0 0 0 0 0  0 0 0 0 0  0 0 0 0 0  3.5 0 0 0 -1.1" result="m2"/><feComposite in="c1" in2="m2" operator="in"/></filter>
<filter id="blt2" x="0" y="0" width="100%" height="100%"><feTurbulence type="fractalNoise" baseFrequency="0.07" numOctaves="2" seed="26"/><feColorMatrix type="matrix" values="0 0 0 0 1  0 0 0 0 1  0 0 0 0 1  5 0 0 0 -2.9"/></filter>
<rect x="63.3" y="574.9" width="55.2" height="57.9" filter="url(#spk2)"/>
<rect x="63.3" y="574.9" width="55.2" height="57.9" filter="url(#blt2)" opacity="0.6"/>
<g fill="#4a9ab0"><circle cx="81.5" cy="625.4" r="1" opacity="0.56"/><circle cx="100.8" cy="602.3" r="0.5" opacity="0.99"/><circle cx="103.3" cy="621.7" r="0.3" opacity="0.68"/><circle cx="92.8" cy="624.9" r="0.6" opacity="0.99"/><circle cx="94.5" cy="601.3" r="0.4" opacity="0.81"/><circle cx="76.9" cy="622.6" r="0.3" opacity="0.56"/></g>
</g>
<line x1="114" y1="629.8" x2="116.5" y2="629.8" stroke="#333" stroke-width="0.7"/>
<g transform="translate(66.1 581.9) rotate(0)"><text x="0" y="2.9" font-size="8.3" fill="#222">EXE</text><circle cx="20" cy="-1.2" r="1.7" fill="none" stroke="#222" stroke-width="0.51"/><path d="M20 0.5V3.5M18.8 2H21.1" stroke="#222" stroke-width="0.51" fill="none"/></g>
<clipPath id="mc3"><rect x="4" y="636" width="55.9" height="58.7"/></clipPath>
<g clip-path="url(#mc3)">
<rect x="4" y="636" width="55.9" height="58.7" fill="#dfe4e4"/>
<filter id="spk3" x="0" y="0" width="100%" height="100%"><feTurbulence type="fractalNoise" baseFrequency="0.75" numOctaves="2" seed="21" result="n1"/><feColorMatrix in="n1" type="matrix" values="0 0 0 0 0.4  0 0 0 0 0.62  0 0 0 0 0.72  5.175 0 0 0 -2.4200000000000004" result="c1"/><feTurbulence type="fractalNoise" baseFrequency="0.12" numOctaves="2" seed="17" result="n2"/><feColorMatrix in="n2" type="matrix" values="0 0 0 0 0  0 0 0 0 0  0 0 0 0 0  3.5 0 0 0 -1.1" result="m2"/><feComposite in="c1" in2="m2" operator="in"/></filter>
<filter id="blt3" x="0" y="0" width="100%" height="100%"><feTurbulence type="fractalNoise" baseFrequency="0.07" numOctaves="2" seed="39"/><feColorMatrix type="matrix" values="0 0 0 0 1  0 0 0 0 1  0 0 0 0 1  5 0 0 0 -2.9"/></filter>
<rect x="4" y="636" width="55.9" height="58.7" filter="url(#spk3)"/>
<rect x="4" y="636" width="55.9" height="58.7" filter="url(#blt3)" opacity="0.55"/>
<g fill="#2a6f98"><circle cx="49.2" cy="641.6" r="0.3" opacity="0.58"/><circle cx="33.6" cy="668.1" r="0.3" opacity="0.93"/><circle cx="37.7" cy="656.4" r="0.3" opacity="0.43"/><circle cx="8.8" cy="646.2" r="0.3" opacity="0.98"/><circle cx="8.3" cy="654.5" r="0.8" opacity="0.59"/><circle cx="14.6" cy="693.9" r="0.6" opacity="0.58"/><circle cx="11.3" cy="643.9" r="0.9" opacity="0.83"/><circle cx="46.4" cy="666.1" r="0.8" opacity="0.74"/><circle cx="59.3" cy="694.2" r="0.5" opacity="0.67"/><circle cx="9.1" cy="670.5" r="0.6" opacity="0.74"/><circle cx="56.4" cy="642.9" r="0.4" opacity="0.60"/><circle cx="22.2" cy="688.5" r="0.5" opacity="0.82"/><circle cx="22.2" cy="673.2" r="0.3" opacity="0.92"/><circle cx="47.6" cy="676.3" r="0.3" opacity="0.61"/><circle cx="8.2" cy="637.8" r="0.6" opacity="0.61"/><circle cx="7.3" cy="685.9" r="0.7" opacity="0.57"/><circle cx="51.1" cy="646.2" r="0.7" opacity="0.45"/><circle cx="19.1" cy="654.3" r="0.6" opacity="0.87"/><circle cx="26.2" cy="650.3" r="0.3" opacity="0.99"/><circle cx="6.3" cy="661.1" r="0.8" opacity="0.81"/><circle cx="18.6" cy="672.2" r="0.3" opacity="0.99"/><circle cx="55.3" cy="640.5" r="0.5" opacity="0.60"/><circle cx="52.3" cy="683.4" r="0.3" opacity="0.63"/><circle cx="53.8" cy="646.8" r="0.3" opacity="0.54"/><circle cx="32" cy="689.3" r="0.9" opacity="0.91"/><circle cx="10.1" cy="681.3" r="0.7" opacity="0.80"/><circle cx="13.9" cy="650.5" r="0.7" opacity="0.45"/><circle cx="26" cy="689.6" r="0.6" opacity="0.70"/><circle cx="12.5" cy="642.7" r="0.9" opacity="0.54"/><circle cx="33.6" cy="666.2" r="0.9" opacity="0.98"/><circle cx="40.5" cy="640.9" r="0.4" opacity="0.41"/><circle cx="24" cy="657.9" r="0.3" opacity="0.65"/><circle cx="32.3" cy="637.6" r="0.4" opacity="0.55"/><circle cx="44.4" cy="690.7" r="0.5" opacity="0.70"/><circle cx="34" cy="677.6" r="0.4" opacity="0.65"/><circle cx="45.4" cy="647" r="0.7" opacity="0.57"/><circle cx="59" cy="677.9" r="0.3" opacity="0.90"/><circle cx="11.7" cy="687.1" r="0.5" opacity="0.41"/><circle cx="26.9" cy="655.7" r="0.3" opacity="0.89"/><circle cx="17.1" cy="652.4" r="0.3" opacity="0.98"/><circle cx="42.8" cy="684" r="0.7" opacity="0.65"/><circle cx="22.1" cy="694.6" r="0.9" opacity="0.73"/><circle cx="13" cy="693.1" r="0.9" opacity="0.84"/><circle cx="47.9" cy="639.6" r="0.3" opacity="0.59"/><circle cx="18.4" cy="643.7" r="0.7" opacity="0.48"/><circle cx="45.6" cy="639.5" r="0.5" opacity="0.50"/><circle cx="35.7" cy="663.2" r="0.4" opacity="0.43"/><circle cx="27.5" cy="685.7" r="0.6" opacity="0.45"/><circle cx="44.5" cy="681" r="0.5" opacity="0.94"/><circle cx="20.7" cy="682.8" r="0.7" opacity="0.87"/><circle cx="29.3" cy="673.2" r="0.5" opacity="0.81"/><circle cx="41.5" cy="637.9" r="0.4" opacity="0.83"/><circle cx="41" cy="667.4" r="0.4" opacity="0.56"/><circle cx="39.2" cy="646.1" r="0.4" opacity="0.42"/><circle cx="35.3" cy="662" r="0.7" opacity="0.76"/><circle cx="48.3" cy="691" r="0.3" opacity="0.54"/><circle cx="37.1" cy="645.8" r="1" opacity="0.68"/><circle cx="48.4" cy="640.7" r="0.4" opacity="0.59"/><circle cx="22.9" cy="692.8" r="0.7" opacity="0.43"/><circle cx="36.2" cy="649.3" r="0.7" opacity="0.63"/><circle cx="53.1" cy="667" r="0.3" opacity="0.42"/><circle cx="56.9" cy="654.1" r="0.3" opacity="0.52"/><circle cx="58.4" cy="655.6" r="0.5" opacity="0.47"/><circle cx="39.1" cy="686" r="0.4" opacity="0.45"/><circle cx="14.6" cy="663.4" r="1" opacity="0.94"/><circle cx="9.6" cy="655.3" r="0.9" opacity="0.95"/><circle cx="31" cy="670.9" r="0.3" opacity="0.89"/><circle cx="27.6" cy="638.2" r="1" opacity="0.53"/><circle cx="16.1" cy="663.4" r="0.6" opacity="0.55"/><circle cx="50.2" cy="693.4" r="0.7" opacity="0.57"/><circle cx="55" cy="690.3" r="0.9" opacity="0.45"/><circle cx="12.2" cy="638" r="0.5" opacity="0.44"/><circle cx="28" cy="647.8" r="0.5" opacity="0.64"/><circle cx="34.9" cy="678.2" r="0.3" opacity="0.46"/><circle cx="39.3" cy="645.9" r="0.3" opacity="0.60"/><circle cx="47.6" cy="687.3" r="0.6" opacity="0.57"/><circle cx="12.8" cy="675.9" r="0.3" opacity="0.69"/><circle cx="52.1" cy="671.9" r="0.9" opacity="0.98"/><circle cx="34.9" cy="683.5" r="0.4" opacity="0.48"/><circle cx="28.1" cy="680.8" r="0.3" opacity="0.94"/><circle cx="48.9" cy="686" r="0.3" opacity="0.84"/><circle cx="16.1" cy="649.7" r="0.3" opacity="0.64"/><circle cx="21.4" cy="689.9" r="0.4" opacity="0.58"/><circle cx="58.1" cy="660.4" r="0.3" opacity="0.95"/><circle cx="16.6" cy="653.2" r="0.3" opacity="0.93"/><circle cx="59.8" cy="659.7" r="0.4" opacity="0.85"/><circle cx="16.5" cy="684.4" r="0.3" opacity="0.40"/><circle cx="36" cy="644.8" r="0.9" opacity="0.64"/><circle cx="22.4" cy="667.8" r="0.3" opacity="0.76"/><circle cx="10.2" cy="648.5" r="0.6" opacity="0.58"/></g>
</g>
<line x1="55.4" y1="691.7" x2="57.9" y2="691.7" stroke="#333" stroke-width="0.7"/>
<g transform="translate(6.8 643) rotate(0)"><text x="0" y="2.9" font-size="8.3" fill="#222">SED</text><circle cx="20.4" cy="0.8" r="1.7" fill="none" stroke="#222" stroke-width="0.51"/><path d="M21.6 -0.3L23.3 -2M21.9 -2H23.3V-0.6" stroke="#222" stroke-width="0.51" fill="none"/></g>
<clipPath id="mc4"><rect x="63.3" y="636" width="55.2" height="58.7"/></clipPath>
<g clip-path="url(#mc4)">
<rect x="63.3" y="636" width="55.2" height="58.7" fill="#e0e3e3"/>
<filter id="spk4" x="0" y="0" width="100%" height="100%"><feTurbulence type="fractalNoise" baseFrequency="0.75" numOctaves="2" seed="28" result="n1"/><feColorMatrix in="n1" type="matrix" values="0 0 0 0 0.45  0 0 0 0 0.65  0 0 0 0 0.75  4.0249999999999995 0 0 0 -2.2" result="c1"/><feTurbulence type="fractalNoise" baseFrequency="0.12" numOctaves="2" seed="22" result="n2"/><feColorMatrix in="n2" type="matrix" values="0 0 0 0 0  0 0 0 0 0  0 0 0 0 0  3.5 0 0 0 -1.1" result="m2"/><feComposite in="c1" in2="m2" operator="in"/></filter>
<filter id="blt4" x="0" y="0" width="100%" height="100%"><feTurbulence type="fractalNoise" baseFrequency="0.07" numOctaves="2" seed="52"/><feColorMatrix type="matrix" values="0 0 0 0 1  0 0 0 0 1  0 0 0 0 1  5 0 0 0 -2.9"/></filter>
<rect x="63.3" y="636" width="55.2" height="58.7" filter="url(#spk4)"/>
<rect x="63.3" y="636" width="55.2" height="58.7" filter="url(#blt4)" opacity="0.35"/>
<g fill="#3c86a6"><circle cx="90.6" cy="660.2" r="0.7" opacity="0.95"/><circle cx="116.9" cy="677.6" r="0.4" opacity="0.62"/><circle cx="85.2" cy="653.2" r="0.4" opacity="0.53"/><circle cx="68.9" cy="652.4" r="0.5" opacity="0.62"/><circle cx="66.3" cy="670" r="0.7" opacity="0.96"/><circle cx="101.6" cy="652.7" r="0.7" opacity="0.98"/><circle cx="115.8" cy="669.7" r="0.6" opacity="0.41"/><circle cx="107.9" cy="636.7" r="0.8" opacity="0.65"/><circle cx="81.4" cy="694.5" r="0.6" opacity="1.00"/><circle cx="66.3" cy="674.5" r="0.3" opacity="0.95"/><circle cx="86.6" cy="652.2" r="0.3" opacity="0.94"/><circle cx="80.4" cy="654.6" r="0.8" opacity="0.78"/><circle cx="68.3" cy="640.7" r="0.8" opacity="0.82"/><circle cx="68.7" cy="639.7" r="0.7" opacity="0.55"/><circle cx="80.5" cy="655.9" r="0.3" opacity="0.54"/><circle cx="113.8" cy="679.8" r="0.3" opacity="1.00"/><circle cx="116.4" cy="663.1" r="0.3" opacity="0.58"/><circle cx="109.1" cy="669.9" r="0.3" opacity="0.88"/><circle cx="83.8" cy="690.3" r="0.3" opacity="0.48"/><circle cx="70" cy="638" r="0.3" opacity="0.99"/><circle cx="108.5" cy="661" r="0.7" opacity="0.86"/><circle cx="98.8" cy="659.5" r="0.7" opacity="0.54"/><circle cx="70.5" cy="642.8" r="0.5" opacity="0.68"/><circle cx="89.4" cy="690.7" r="0.4" opacity="0.62"/><circle cx="65.5" cy="650.2" r="0.9" opacity="0.77"/><circle cx="83" cy="687.5" r="0.6" opacity="0.84"/><circle cx="65.1" cy="682.3" r="0.6" opacity="0.89"/><circle cx="115.6" cy="689.3" r="0.5" opacity="0.92"/><circle cx="69.3" cy="672.5" r="0.5" opacity="0.59"/><circle cx="70" cy="659.8" r="0.3" opacity="0.52"/></g>
</g>
<line x1="114" y1="691.7" x2="116.5" y2="691.7" stroke="#333" stroke-width="0.7"/>
<g transform="translate(66.1 643) rotate(0)"><text x="0" y="2.9" font-size="8.3" fill="#222">EXE</text><circle cx="20" cy="0.8" r="1.7" fill="none" stroke="#222" stroke-width="0.51"/><path d="M21.2 -0.3L22.8 -2M21.4 -2H22.8V-0.6" stroke="#222" stroke-width="0.51" fill="none"/></g>
<text x="118.5" y="703.3" font-size="8.3" text-anchor="end" font-weight="normal" fill="#111" stroke="#111" stroke-width="0.15">100 &#956;m</text>
<use href="#liver" transform="translate(145.8 569.3) scale(0.3410 0.1960)"/>
<line x1="145.2" y1="603.4" x2="145.2" y2="676.3" stroke="#333" stroke-width="0.8"/>
<line x1="145.2" y1="676.3" x2="202.6" y2="676.3" stroke="#333" stroke-width="0.8"/>
<line x1="143.2" y1="676.3" x2="145.2" y2="676.3" stroke="#333" stroke-width="0.7"/>
<text x="142.6" y="678.8" font-size="7" text-anchor="end" font-weight="normal" fill="#222" stroke="#222" stroke-width="0.15">0</text>
<line x1="143.2" y1="658.1" x2="145.2" y2="658.1" stroke="#333" stroke-width="0.7"/>
<text x="142.6" y="660.5" font-size="7" text-anchor="end" font-weight="normal" fill="#222" stroke="#222" stroke-width="0.15">10</text>
<line x1="143.2" y1="639.8" x2="145.2" y2="639.8" stroke="#333" stroke-width="0.7"/>
<text x="142.6" y="642.3" font-size="7" text-anchor="end" font-weight="normal" fill="#222" stroke="#222" stroke-width="0.15">20</text>
<line x1="143.2" y1="621.6" x2="145.2" y2="621.6" stroke="#333" stroke-width="0.7"/>
<text x="142.6" y="624.1" font-size="7" text-anchor="end" font-weight="normal" fill="#222" stroke="#222" stroke-width="0.15">30</text>
<line x1="143.2" y1="603.4" x2="145.2" y2="603.4" stroke="#333" stroke-width="0.7"/>
<text x="142.6" y="605.9" font-size="7" text-anchor="end" font-weight="normal" fill="#222" stroke="#222" stroke-width="0.15">40</text>
<line x1="173.3" y1="603.4" x2="173.3" y2="676.3" stroke="#999" stroke-width="0.6" stroke-dasharray="1 1.2"/>
<rect x="150" y="656.3" width="8.4" height="20" fill="#f8c6c9"/>
<line x1="154.2" y1="654.1" x2="154.2" y2="658.4" stroke="#555" stroke-width="0.6"/>
<line x1="152.7" y1="654.1" x2="155.7" y2="654.1" stroke="#555" stroke-width="0.6"/>
<line x1="152.7" y1="658.4" x2="155.7" y2="658.4" stroke="#555" stroke-width="0.6"/>
<circle cx="152" cy="650.4" r="1.1" fill="#ee6a78"/>
<circle cx="156.4" cy="650.8" r="1.1" fill="#ee6a78"/>
<circle cx="152.7" cy="655.9" r="1.1" fill="#ee6a78"/>
<circle cx="156" cy="656.3" r="1.1" fill="#ee6a78"/>
<circle cx="153.7" cy="658.1" r="1.1" fill="#ee6a78"/>
<circle cx="155" cy="659" r="1.1" fill="#ee6a78"/>
<rect x="162.4" y="666.6" width="8.4" height="9.7" fill="#f8c6c9"/>
<line x1="166.6" y1="665.2" x2="166.6" y2="668.1" stroke="#555" stroke-width="0.6"/>
<line x1="165.1" y1="665.2" x2="168.1" y2="665.2" stroke="#555" stroke-width="0.6"/>
<line x1="165.1" y1="668.1" x2="168.1" y2="668.1" stroke="#555" stroke-width="0.6"/>
<circle cx="164.4" cy="663.5" r="1.1" fill="#c42b36"/>
<circle cx="168.8" cy="665.4" r="1.1" fill="#c42b36"/>
<circle cx="165.1" cy="666.3" r="1.1" fill="#c42b36"/>
<circle cx="168.4" cy="667.6" r="1.1" fill="#c42b36"/>
<circle cx="166.1" cy="669.9" r="1.1" fill="#c42b36"/>
<circle cx="167.4" cy="670.8" r="1.1" fill="#c42b36"/>
<rect x="176.8" y="633.5" width="8.4" height="42.8" fill="#c6dcf6"/>
<line x1="181" y1="630.2" x2="181" y2="636.8" stroke="#555" stroke-width="0.6"/>
<line x1="179.5" y1="630.2" x2="182.5" y2="630.2" stroke="#555" stroke-width="0.6"/>
<line x1="179.5" y1="636.8" x2="182.5" y2="636.8" stroke="#555" stroke-width="0.6"/>
<circle cx="178.8" cy="621.6" r="1.1" fill="#6ea6e0"/>
<circle cx="183.2" cy="629.8" r="1.1" fill="#6ea6e0"/>
<circle cx="179.5" cy="632.6" r="1.1" fill="#6ea6e0"/>
<circle cx="182.8" cy="637.1" r="1.1" fill="#6ea6e0"/>
<circle cx="180.5" cy="639.8" r="1.1" fill="#6ea6e0"/>
<circle cx="181.8" cy="640.8" r="1.1" fill="#6ea6e0"/>
<rect x="189.8" y="658.6" width="8.4" height="17.7" fill="#c6dcf6"/>
<line x1="194" y1="657.2" x2="194" y2="660.1" stroke="#555" stroke-width="0.6"/>
<line x1="192.5" y1="657.2" x2="195.5" y2="657.2" stroke="#555" stroke-width="0.6"/>
<line x1="192.5" y1="660.1" x2="195.5" y2="660.1" stroke="#555" stroke-width="0.6"/>
<circle cx="191.8" cy="655.3" r="1.1" fill="#1d4f93"/>
<circle cx="196.2" cy="656.3" r="1.1" fill="#1d4f93"/>
<circle cx="192.5" cy="657.2" r="1.1" fill="#1d4f93"/>
<circle cx="195.8" cy="658.1" r="1.1" fill="#1d4f93"/>
<circle cx="193.5" cy="661.7" r="1.1" fill="#1d4f93"/>
<circle cx="194.8" cy="664.5" r="1.1" fill="#1d4f93"/>
<path d="M153 616.8 V614.6 H165.9 V616.8" fill="none" stroke="#444" stroke-width="0.6"/>
<text x="159.3" y="612" font-size="5.6" text-anchor="middle" font-weight="normal" fill="#222" stroke="#222" stroke-width="0.15"><tspan font-style="italic">P</tspan>=0.006</text>
<path d="M180.3 616.8 V614.6 H192.7 V616.8" fill="none" stroke="#444" stroke-width="0.6"/>
<text x="186.5" y="612" font-size="5.6" text-anchor="middle" font-weight="normal" fill="#222" stroke="#222" stroke-width="0.15"><tspan font-style="italic">P</tspan>&lt;0.001</text>
<text transform="translate(128.4 637.8) rotate(-90)" x="0" y="2.5" font-size="7.2" text-anchor="middle" font-weight="normal" fill="#222" stroke="#222" stroke-width="0.15">SA-&#946;-gal staining intensity (%)</text>
<g transform="translate(156.2 681) rotate(-45)"><text x="-21.3" y="2.7" font-size="7.6" fill="#222">SED</text><circle cx="-2.7" cy="-1.1" r="1.5" fill="none" stroke="#222" stroke-width="0.47"/><path d="M-2.7 0.5V3.2M-3.8 1.8H-1.7" stroke="#222" stroke-width="0.47" fill="none"/></g>
<g transform="translate(168.6 681) rotate(-45)"><text x="-20.9" y="2.7" font-size="7.6" fill="#222">EXE</text><circle cx="-2.7" cy="-1.1" r="1.5" fill="none" stroke="#222" stroke-width="0.47"/><path d="M-2.7 0.5V3.2M-3.8 1.8H-1.7" stroke="#222" stroke-width="0.47" fill="none"/></g>
<g transform="translate(183 681) rotate(-45)"><text x="-21.3" y="2.7" font-size="7.6" fill="#222">SED</text><circle cx="-2.7" cy="0.8" r="1.5" fill="none" stroke="#222" stroke-width="0.47"/><path d="M-1.6 -0.3L-0.1 -1.8M-1.4 -1.8H-0.1V-0.5" stroke="#222" stroke-width="0.47" fill="none"/></g>
<g transform="translate(196 681) rotate(-45)"><text x="-20.9" y="2.7" font-size="7.6" fill="#222">EXE</text><circle cx="-2.7" cy="0.8" r="1.5" fill="none" stroke="#222" stroke-width="0.47"/><path d="M-1.6 -0.3L-0.1 -1.8M-1.4 -1.8H-0.1V-0.5" stroke="#222" stroke-width="0.47" fill="none"/></g>
<text x="259.8" y="596.2" font-size="8.3" text-anchor="middle" font-weight="bold" fill="#111">Young</text>
<text x="297.5" y="596.2" font-size="8.3" text-anchor="middle" font-weight="bold" fill="#111">Old</text>
<text x="212.9" y="607.4" font-size="9" text-anchor="start" font-weight="normal" fill="#222" stroke="#222" stroke-width="0.15">Liver</text>
<text x="249.8" y="607.2" font-size="8.4" text-anchor="middle" font-weight="normal" fill="#222" stroke="#222" stroke-width="0.15">SED</text>
<line x1="241" y1="611.5" x2="258.6" y2="611.5" stroke="#333" stroke-width="0.6"/>
<text x="269.5" y="607.2" font-size="8.4" text-anchor="middle" font-weight="normal" fill="#222" stroke="#222" stroke-width="0.15">EXE</text>
<line x1="260.7" y1="611.5" x2="278.3" y2="611.5" stroke="#333" stroke-width="0.6"/>
<text x="289.1" y="607.2" font-size="8.4" text-anchor="middle" font-weight="normal" fill="#222" stroke="#222" stroke-width="0.15">SED</text>
<line x1="280.3" y1="611.5" x2="297.9" y2="611.5" stroke="#333" stroke-width="0.6"/>
<text x="308.8" y="607.2" font-size="8.4" text-anchor="middle" font-weight="normal" fill="#222" stroke="#222" stroke-width="0.15">EXE</text>
<line x1="299.9" y1="611.5" x2="317.6" y2="611.5" stroke="#333" stroke-width="0.6"/>
<rect x="240" y="614.2" width="78.6" height="12.7" fill="#d8d8d8"/>
<g filter="url(#blur1)"><rect x="240.6" y="621.5" width="8.6" height="1.2" rx="0.6" fill="rgb(161,161,161)" opacity="0.55"/><rect x="250.4" y="621.5" width="8.6" height="1.2" rx="0.6" fill="rgb(161,161,161)" opacity="0.55"/><rect x="260.2" y="621.5" width="8.6" height="1.2" rx="0.6" fill="rgb(161,161,161)" opacity="0.55"/><rect x="270.1" y="621.4" width="8.6" height="1.3" rx="0.6" fill="rgb(134,134,134)" opacity="0.65"/><rect x="279.9" y="621.2" width="8.6" height="1.6" rx="0.8" fill="rgb(49,49,49)" opacity="1.00"/><rect x="289.7" y="621.3" width="8.6" height="1.5" rx="0.8" fill="rgb(71,71,71)" opacity="0.90"/><rect x="299.5" y="621.4" width="8.6" height="1.4" rx="0.7" fill="rgb(108,108,108)" opacity="0.75"/><rect x="309.4" y="621.3" width="8.6" height="1.5" rx="0.7" fill="rgb(83,83,83)" opacity="0.85"/></g>
<rect x="240" y="614.2" width="78.6" height="12.7" fill="none" stroke="#111" stroke-width="1.0"/>
<text x="222.5" y="623.2" font-size="7.6" text-anchor="middle" font-weight="normal" fill="#222" stroke="#222" stroke-width="0.15">P53</text>
<text x="321.4" y="623.1" font-size="7.3" text-anchor="start" font-weight="normal" fill="#222" stroke="#222" stroke-width="0.15">53kDa</text>
<rect x="240" y="630.3" width="78.6" height="12.3" fill="#e6e6e6"/>
<g filter="url(#blur1)"><rect x="240.6" y="635" width="8.6" height="2.9" rx="1.5" fill="rgb(4,4,4)" opacity="1.00"/><rect x="250.4" y="635" width="8.6" height="2.8" rx="1.4" fill="rgb(11,11,11)" opacity="1.00"/><rect x="260.2" y="635" width="8.6" height="2.8" rx="1.4" fill="rgb(11,11,11)" opacity="1.00"/><rect x="270.1" y="635" width="8.6" height="2.8" rx="1.4" fill="rgb(11,11,11)" opacity="1.00"/><rect x="279.9" y="635.1" width="8.6" height="2.7" rx="1.3" fill="rgb(29,29,29)" opacity="1.00"/><rect x="289.7" y="635.1" width="8.6" height="2.7" rx="1.3" fill="rgb(29,29,29)" opacity="1.00"/><rect x="299.5" y="635" width="8.6" height="2.8" rx="1.4" fill="rgb(11,11,11)" opacity="1.00"/><rect x="309.4" y="635.2" width="8.6" height="2.6" rx="1.3" fill="rgb(38,38,38)" opacity="1.00"/></g>
<rect x="240" y="630.3" width="78.6" height="12.3" fill="none" stroke="#111" stroke-width="1.0"/>
<text x="222.5" y="639.1" font-size="7.6" text-anchor="middle" font-weight="normal" fill="#222" stroke="#222" stroke-width="0.15">&#945;-tubulin</text>
<text x="321.4" y="639" font-size="7.3" text-anchor="start" font-weight="normal" fill="#222" stroke="#222" stroke-width="0.15">55kDa</text>
<rect x="240" y="646" width="78.6" height="12.2" fill="#dfdfdf"/>
<g filter="url(#blur1)"><rect x="279.9" y="651.3" width="8.6" height="1.6" rx="0.8" fill="rgb(83,83,83)" opacity="0.85"/><rect x="289.7" y="651.3" width="8.6" height="1.6" rx="0.8" fill="rgb(71,71,71)" opacity="0.90"/><rect x="299.5" y="651.5" width="8.6" height="1.3" rx="0.6" fill="rgb(161,161,161)" opacity="0.55"/><rect x="309.4" y="651.3" width="8.6" height="1.5" rx="0.8" fill="rgb(95,95,95)" opacity="0.80"/></g>
<rect x="240" y="646" width="78.6" height="12.2" fill="none" stroke="#111" stroke-width="1.0"/>
<text x="222.5" y="655" font-size="7.6" text-anchor="middle" font-weight="normal" fill="#222" stroke="#222" stroke-width="0.15">P21</text>
<text x="321.4" y="654.9" font-size="7.3" text-anchor="start" font-weight="normal" fill="#222" stroke="#222" stroke-width="0.15">21kDa</text>
<rect x="240" y="661.6" width="78.6" height="12.7" fill="#dadada"/>
<g filter="url(#blur1)"><rect x="240.6" y="667" width="8.6" height="1.9" rx="1" fill="rgb(190,190,190)" opacity="0.45"/><rect x="250.4" y="667" width="8.6" height="1.9" rx="1" fill="rgb(190,190,190)" opacity="0.45"/><rect x="260.2" y="666.9" width="8.6" height="2.1" rx="1.1" fill="rgb(161,161,161)" opacity="0.55"/><rect x="270.1" y="666.8" width="8.6" height="2.3" rx="1.1" fill="rgb(134,134,134)" opacity="0.65"/><rect x="279.9" y="666.2" width="8.6" height="3.4" rx="1.7" fill="rgb(0,0,0)" opacity="1.00"/><rect x="289.7" y="666.2" width="8.6" height="3.4" rx="1.7" fill="rgb(0,0,0)" opacity="1.00"/><rect x="299.5" y="666.4" width="8.6" height="3.2" rx="1.6" fill="rgb(19,19,19)" opacity="1.00"/><rect x="309.4" y="666.2" width="8.6" height="3.4" rx="1.7" fill="rgb(0,0,0)" opacity="1.00"/></g>
<rect x="240" y="661.6" width="78.6" height="12.7" fill="none" stroke="#111" stroke-width="1.0"/>
<text x="222.5" y="670.7" font-size="7.6" text-anchor="middle" font-weight="normal" fill="#222" stroke="#222" stroke-width="0.15">P16</text>
<text x="321.4" y="670.6" font-size="7.3" text-anchor="start" font-weight="normal" fill="#222" stroke="#222" stroke-width="0.15">16kDa</text>
<rect x="240" y="677.7" width="78.6" height="11.4" fill="#e6e6e6"/>
<g filter="url(#blur1)"><rect x="240.6" y="682.1" width="8.6" height="2.6" rx="1.3" fill="rgb(29,29,29)" opacity="1.00"/><rect x="250.4" y="682.2" width="8.6" height="2.5" rx="1.2" fill="rgb(38,38,38)" opacity="1.00"/><rect x="260.2" y="682" width="8.6" height="2.8" rx="1.4" fill="rgb(4,4,4)" opacity="1.00"/><rect x="270.1" y="682.2" width="8.6" height="2.4" rx="1.2" fill="rgb(60,60,60)" opacity="0.95"/><rect x="279.9" y="682.2" width="8.6" height="2.4" rx="1.2" fill="rgb(60,60,60)" opacity="0.95"/><rect x="289.7" y="682.1" width="8.6" height="2.7" rx="1.3" fill="rgb(19,19,19)" opacity="1.00"/><rect x="299.5" y="682.2" width="8.6" height="2.4" rx="1.2" fill="rgb(60,60,60)" opacity="0.95"/><rect x="309.4" y="682.1" width="8.6" height="2.7" rx="1.3" fill="rgb(19,19,19)" opacity="1.00"/></g>
<rect x="240" y="677.7" width="78.6" height="11.4" fill="none" stroke="#111" stroke-width="1.0"/>
<text x="222.5" y="686.2" font-size="7.6" text-anchor="middle" font-weight="normal" fill="#222" stroke="#222" stroke-width="0.15">&#945;-tubulin</text>
<text x="321.4" y="686.1" font-size="7.3" text-anchor="start" font-weight="normal" fill="#222" stroke="#222" stroke-width="0.15">55kDa</text>
<text x="499.3" y="596.2" font-size="8.3" text-anchor="middle" font-weight="bold" fill="#111">Young</text>
<text x="536.5" y="596.2" font-size="8.3" text-anchor="middle" font-weight="bold" fill="#111">Old</text>
<text x="447.8" y="607.4" font-size="9" text-anchor="start" font-weight="normal" fill="#222" stroke="#222" stroke-width="0.15">Muscle</text>
<text x="489.2" y="607.2" font-size="8.4" text-anchor="middle" font-weight="normal" fill="#222" stroke="#222" stroke-width="0.15">SED</text>
<line x1="480.4" y1="611.5" x2="497.9" y2="611.5" stroke="#333" stroke-width="0.6"/>
<text x="508.7" y="607.2" font-size="8.4" text-anchor="middle" font-weight="normal" fill="#222" stroke="#222" stroke-width="0.15">EXE</text>
<line x1="499.9" y1="611.5" x2="517.5" y2="611.5" stroke="#333" stroke-width="0.6"/>
<text x="528.2" y="607.2" font-size="8.4" text-anchor="middle" font-weight="normal" fill="#222" stroke="#222" stroke-width="0.15">SED</text>
<line x1="519.4" y1="611.5" x2="537" y2="611.5" stroke="#333" stroke-width="0.6"/>
<text x="547.7" y="607.2" font-size="8.4" text-anchor="middle" font-weight="normal" fill="#222" stroke="#222" stroke-width="0.15">EXE</text>
<line x1="539" y1="611.5" x2="556.5" y2="611.5" stroke="#333" stroke-width="0.6"/>
<rect x="479.4" y="614.7" width="78.1" height="12.3" fill="#dcdcdc"/>
<g filter="url(#blur1)"><rect x="480" y="620" width="8.6" height="1.7" rx="0.8" fill="rgb(147,147,147)" opacity="0.60"/><rect x="489.7" y="619.7" width="8.6" height="2.2" rx="1.1" fill="rgb(49,49,49)" opacity="1.00"/><rect x="499.5" y="619.9" width="8.6" height="1.8" rx="0.9" fill="rgb(120,120,120)" opacity="0.70"/><rect x="509.3" y="619.9" width="8.6" height="2" rx="1" fill="rgb(95,95,95)" opacity="0.80"/><rect x="519" y="619.6" width="8.6" height="2.4" rx="1.2" fill="rgb(19,19,19)" opacity="1.00"/><rect x="528.8" y="619.7" width="8.6" height="2.2" rx="1.1" fill="rgb(49,49,49)" opacity="1.00"/><rect x="538.6" y="619.7" width="8.6" height="2.3" rx="1.1" fill="rgb(38,38,38)" opacity="1.00"/><rect x="548.3" y="619.7" width="8.6" height="2.4" rx="1.2" fill="rgb(29,29,29)" opacity="1.00"/></g>
<rect x="479.4" y="614.7" width="78.1" height="12.3" fill="none" stroke="#111" stroke-width="1.0"/>
<text x="461.3" y="623.3" font-size="7.6" text-anchor="middle" font-weight="normal" fill="#222" stroke="#222" stroke-width="0.15">P53</text>
<text x="560.2" y="623.2" font-size="7.3" text-anchor="start" font-weight="normal" fill="#222" stroke="#222" stroke-width="0.15">53kDa</text>
<rect x="479.4" y="630" width="78.1" height="12.3" fill="#e6e6e6"/>
<g filter="url(#blur1)"><rect x="480" y="634.9" width="8.6" height="2.6" rx="1.3" fill="rgb(38,38,38)" opacity="1.00"/><rect x="489.7" y="634.7" width="8.6" height="2.8" rx="1.4" fill="rgb(11,11,11)" opacity="1.00"/><rect x="499.5" y="634.9" width="8.6" height="2.6" rx="1.3" fill="rgb(38,38,38)" opacity="1.00"/><rect x="509.3" y="634.8" width="8.6" height="2.8" rx="1.4" fill="rgb(19,19,19)" opacity="1.00"/><rect x="519" y="634.7" width="8.6" height="2.8" rx="1.4" fill="rgb(11,11,11)" opacity="1.00"/><rect x="528.8" y="634.8" width="8.6" height="2.7" rx="1.3" fill="rgb(29,29,29)" opacity="1.00"/><rect x="538.6" y="634.8" width="8.6" height="2.8" rx="1.4" fill="rgb(19,19,19)" opacity="1.00"/><rect x="548.3" y="634.8" width="8.6" height="2.7" rx="1.3" fill="rgb(29,29,29)" opacity="1.00"/></g>
<rect x="479.4" y="630" width="78.1" height="12.3" fill="none" stroke="#111" stroke-width="1.0"/>
<text x="461.3" y="639" font-size="7.6" text-anchor="middle" font-weight="normal" fill="#222" stroke="#222" stroke-width="0.15">&#945;-tubulin</text>
<text x="560.2" y="638.9" font-size="7.3" text-anchor="start" font-weight="normal" fill="#222" stroke="#222" stroke-width="0.15">55kDa</text>
<rect x="479.4" y="645.8" width="78.1" height="11.9" fill="#e2e2e2"/>
<g filter="url(#blur1)"><rect x="480" y="650.9" width="8.6" height="1.7" rx="0.9" fill="rgb(204,204,204)" opacity="0.40"/><rect x="489.7" y="650.9" width="8.6" height="1.8" rx="0.9" fill="rgb(190,190,190)" opacity="0.45"/><rect x="499.5" y="650.7" width="8.6" height="2" rx="1" fill="rgb(147,147,147)" opacity="0.60"/><rect x="509.3" y="650.3" width="8.6" height="2.9" rx="1.4" fill="rgb(29,29,29)" opacity="1.00"/><rect x="519" y="650.1" width="8.6" height="3.2" rx="1.6" fill="rgb(0,0,0)" opacity="1.00"/><rect x="528.8" y="650.2" width="8.6" height="3.1" rx="1.5" fill="rgb(11,11,11)" opacity="1.00"/><rect x="538.6" y="650.5" width="8.6" height="2.5" rx="1.2" fill="rgb(83,83,83)" opacity="0.85"/><rect x="548.3" y="650.4" width="8.6" height="2.8" rx="1.4" fill="rgb(38,38,38)" opacity="1.00"/></g>
<rect x="479.4" y="645.8" width="78.1" height="11.9" fill="none" stroke="#111" stroke-width="1.0"/>
<text x="461.3" y="654.7" font-size="7.6" text-anchor="middle" font-weight="normal" fill="#222" stroke="#222" stroke-width="0.15">P21</text>
<text x="560.2" y="654.6" font-size="7.3" text-anchor="start" font-weight="normal" fill="#222" stroke="#222" stroke-width="0.15">21kDa</text>
<rect x="479.4" y="661.3" width="78.1" height="12.1" fill="#e2e2e2"/>
<g filter="url(#blur1)"><rect x="480" y="666.7" width="8.6" height="1.3" rx="0.7" fill="rgb(219,219,219)" opacity="0.35"/><rect x="489.7" y="666.6" width="8.6" height="1.5" rx="0.8" fill="rgb(175,175,175)" opacity="0.50"/><rect x="499.5" y="666.5" width="8.6" height="1.7" rx="0.8" fill="rgb(147,147,147)" opacity="0.60"/><rect x="509.3" y="666.3" width="8.6" height="2" rx="1" fill="rgb(83,83,83)" opacity="0.85"/><rect x="519" y="666.2" width="8.6" height="2.2" rx="1.1" fill="rgb(49,49,49)" opacity="1.00"/><rect x="528.8" y="666.2" width="8.6" height="2.4" rx="1.2" fill="rgb(29,29,29)" opacity="1.00"/><rect x="538.6" y="666.3" width="8.6" height="2" rx="1" fill="rgb(83,83,83)" opacity="0.85"/><rect x="548.3" y="666.3" width="8.6" height="2.1" rx="1" fill="rgb(71,71,71)" opacity="0.90"/></g>
<rect x="479.4" y="661.3" width="78.1" height="12.1" fill="none" stroke="#111" stroke-width="1.0"/>
<text x="461.3" y="670.1" font-size="7.6" text-anchor="middle" font-weight="normal" fill="#222" stroke="#222" stroke-width="0.15">P16</text>
<text x="560.2" y="670" font-size="7.3" text-anchor="start" font-weight="normal" fill="#222" stroke="#222" stroke-width="0.15">16kDa</text>
<rect x="479.4" y="676.5" width="78.1" height="12.8" fill="#e6e6e6"/>
<g filter="url(#blur1)"><rect x="480" y="681.4" width="8.6" height="3" rx="1.5" fill="rgb(4,4,4)" opacity="1.00"/><rect x="489.7" y="681.3" width="8.6" height="3.1" rx="1.6" fill="rgb(0,0,0)" opacity="1.00"/><rect x="499.5" y="681.6" width="8.6" height="2.6" rx="1.3" fill="rgb(49,49,49)" opacity="1.00"/><rect x="509.3" y="681.5" width="8.6" height="2.7" rx="1.4" fill="rgb(38,38,38)" opacity="1.00"/><rect x="519" y="681.5" width="8.6" height="2.7" rx="1.4" fill="rgb(38,38,38)" opacity="1.00"/><rect x="528.8" y="681.5" width="8.6" height="2.7" rx="1.4" fill="rgb(38,38,38)" opacity="1.00"/><rect x="538.6" y="681.5" width="8.6" height="2.9" rx="1.4" fill="rgb(19,19,19)" opacity="1.00"/><rect x="548.3" y="681.5" width="8.6" height="2.8" rx="1.4" fill="rgb(29,29,29)" opacity="1.00"/></g>
<rect x="479.4" y="676.5" width="78.1" height="12.8" fill="none" stroke="#111" stroke-width="1.0"/>
<text x="461.3" y="685.7" font-size="7.6" text-anchor="middle" font-weight="normal" fill="#222" stroke="#222" stroke-width="0.15">&#945;-tubulin</text>
<text x="560.2" y="685.6" font-size="7.3" text-anchor="start" font-weight="normal" fill="#222" stroke="#222" stroke-width="0.15">55kDa</text>
<line x1="364.8" y1="609.6" x2="364.8" y2="686.7" stroke="#333" stroke-width="0.8"/>
<line x1="364.8" y1="686.7" x2="440.8" y2="686.7" stroke="#333" stroke-width="0.8"/>
<line x1="362.8" y1="686.7" x2="364.8" y2="686.7" stroke="#333" stroke-width="0.7"/>
<text x="362" y="689.3" font-size="7.5" text-anchor="end" font-weight="normal" fill="#222" stroke="#222" stroke-width="0.15">0</text>
<line x1="362.8" y1="655.9" x2="364.8" y2="655.9" stroke="#333" stroke-width="0.7"/>
<text x="362" y="658.5" font-size="7.5" text-anchor="end" font-weight="normal" fill="#222" stroke="#222" stroke-width="0.15">1</text>
<line x1="362.8" y1="625" x2="364.8" y2="625" stroke="#333" stroke-width="0.7"/>
<text x="362" y="627.6" font-size="7.5" text-anchor="end" font-weight="normal" fill="#222" stroke="#222" stroke-width="0.15">2</text>
<line x1="377.4" y1="686.7" x2="377.4" y2="688.5" stroke="#333" stroke-width="0.7"/>
<rect x="367" y="679.9" width="4.2" height="6.8" fill="#eef4fc"/>
<line x1="369.1" y1="677.1" x2="369.1" y2="682.7" stroke="#666" stroke-width="0.5"/>
<line x1="368.1" y1="677.1" x2="370.1" y2="677.1" stroke="#666" stroke-width="0.5"/>
<circle cx="367.9" cy="677.4" r="0.9" fill="#a6c8ec"/>
<circle cx="370.3" cy="679" r="0.9" fill="#a6c8ec"/>
<circle cx="368.5" cy="680.5" r="0.9" fill="#a6c8ec"/>
<circle cx="369.9" cy="681.1" r="0.9" fill="#a6c8ec"/>
<circle cx="369.1" cy="682.1" r="0.9" fill="#a6c8ec"/>
<rect x="371.7" y="679" width="4.2" height="7.7" fill="#e8f0fa"/>
<line x1="373.8" y1="676.1" x2="373.8" y2="681.8" stroke="#666" stroke-width="0.5"/>
<line x1="372.8" y1="676.1" x2="374.8" y2="676.1" stroke="#666" stroke-width="0.5"/>
<circle cx="372.6" cy="678.1" r="0.9" fill="#1f4f8f"/>
<circle cx="375" cy="679" r="0.9" fill="#1f4f8f"/>
<circle cx="373.2" cy="679.3" r="0.9" fill="#1f4f8f"/>
<circle cx="374.6" cy="679.9" r="0.9" fill="#1f4f8f"/>
<circle cx="373.8" cy="678.7" r="0.9" fill="#1f4f8f"/>
<rect x="378.2" y="657.4" width="4.2" height="29.3" fill="#c8dcf4"/>
<line x1="380.3" y1="653.5" x2="380.3" y2="661.3" stroke="#666" stroke-width="0.5"/>
<line x1="379.3" y1="653.5" x2="381.3" y2="653.5" stroke="#666" stroke-width="0.5"/>
<circle cx="379.1" cy="656.5" r="0.9" fill="#8cb7e7"/>
<circle cx="381.5" cy="657.1" r="0.9" fill="#8cb7e7"/>
<circle cx="379.7" cy="657.4" r="0.9" fill="#8cb7e7"/>
<circle cx="381.1" cy="658" r="0.9" fill="#8cb7e7"/>
<circle cx="380.3" cy="657.7" r="0.9" fill="#8cb7e7"/>
<rect x="383.2" y="674.4" width="4.2" height="12.3" fill="#d6e5f7"/>
<line x1="385.3" y1="671.3" x2="385.3" y2="677.4" stroke="#666" stroke-width="0.5"/>
<line x1="384.3" y1="671.3" x2="386.3" y2="671.3" stroke="#666" stroke-width="0.5"/>
<circle cx="384.1" cy="671.3" r="0.9" fill="#224f8c"/>
<circle cx="386.5" cy="672.8" r="0.9" fill="#224f8c"/>
<circle cx="384.7" cy="674.4" r="0.9" fill="#224f8c"/>
<circle cx="386.1" cy="675.9" r="0.9" fill="#224f8c"/>
<circle cx="385.3" cy="677.4" r="0.9" fill="#224f8c"/>
<text x="377.4" y="697.1" font-size="8" text-anchor="middle" font-weight="normal" fill="#222" stroke="#222" stroke-width="0.15">P53</text>
<line x1="404" y1="686.7" x2="404" y2="688.5" stroke="#333" stroke-width="0.7"/>
<rect x="393.6" y="675" width="4.2" height="11.7" fill="#eef4fc"/>
<line x1="395.7" y1="671.9" x2="395.7" y2="678" stroke="#666" stroke-width="0.5"/>
<line x1="394.7" y1="671.9" x2="396.7" y2="671.9" stroke="#666" stroke-width="0.5"/>
<circle cx="394.5" cy="659.6" r="0.9" fill="#a6c8ec"/>
<circle cx="396.9" cy="660.5" r="0.9" fill="#a6c8ec"/>
<circle cx="395.1" cy="677.4" r="0.9" fill="#a6c8ec"/>
<circle cx="396.5" cy="680.5" r="0.9" fill="#a6c8ec"/>
<circle cx="395.7" cy="683.6" r="0.9" fill="#a6c8ec"/>
<rect x="398.3" y="675" width="4.2" height="11.7" fill="#e8f0fa"/>
<line x1="400.4" y1="671.9" x2="400.4" y2="678" stroke="#666" stroke-width="0.5"/>
<line x1="399.4" y1="671.9" x2="401.4" y2="671.9" stroke="#666" stroke-width="0.5"/>
<circle cx="399.2" cy="666.7" r="0.9" fill="#1f4f8f"/>
<circle cx="401.6" cy="671.3" r="0.9" fill="#1f4f8f"/>
<circle cx="399.8" cy="675.9" r="0.9" fill="#1f4f8f"/>
<circle cx="401.2" cy="680.5" r="0.9" fill="#1f4f8f"/>
<circle cx="400.4" cy="685.2" r="0.9" fill="#1f4f8f"/>
<rect x="404.8" y="658.9" width="4.2" height="27.8" fill="#c8dcf4"/>
<line x1="406.9" y1="655.1" x2="406.9" y2="662.8" stroke="#666" stroke-width="0.5"/>
<line x1="405.9" y1="655.1" x2="407.9" y2="655.1" stroke="#666" stroke-width="0.5"/>
<circle cx="405.7" cy="640.4" r="0.9" fill="#8cb7e7"/>
<circle cx="408.1" cy="646.6" r="0.9" fill="#8cb7e7"/>
<circle cx="406.3" cy="652.8" r="0.9" fill="#8cb7e7"/>
<circle cx="407.7" cy="662" r="0.9" fill="#8cb7e7"/>
<circle cx="406.9" cy="668.2" r="0.9" fill="#8cb7e7"/>
<circle cx="405.9" cy="680.5" r="0.9" fill="#8cb7e7"/>
<rect x="409.8" y="671.3" width="4.2" height="15.4" fill="#d6e5f7"/>
<line x1="411.9" y1="668" x2="411.9" y2="674.5" stroke="#666" stroke-width="0.5"/>
<line x1="410.9" y1="668" x2="412.9" y2="668" stroke="#666" stroke-width="0.5"/>
<circle cx="410.7" cy="662" r="0.9" fill="#224f8c"/>
<circle cx="413.1" cy="668.2" r="0.9" fill="#224f8c"/>
<circle cx="411.3" cy="671.3" r="0.9" fill="#224f8c"/>
<circle cx="412.7" cy="674.4" r="0.9" fill="#224f8c"/>
<circle cx="411.9" cy="683.6" r="0.9" fill="#224f8c"/>
<text x="404" y="697.1" font-size="8" text-anchor="middle" font-weight="normal" fill="#222" stroke="#222" stroke-width="0.15">P21</text>
<line x1="430.6" y1="686.7" x2="430.6" y2="688.5" stroke="#333" stroke-width="0.7"/>
<rect x="420.2" y="678.1" width="4.2" height="8.6" fill="#eef4fc"/>
<line x1="422.3" y1="675.2" x2="422.3" y2="681" stroke="#666" stroke-width="0.5"/>
<line x1="421.3" y1="675.2" x2="423.3" y2="675.2" stroke="#666" stroke-width="0.5"/>
<circle cx="421.1" cy="670.7" r="0.9" fill="#a6c8ec"/>
<circle cx="423.5" cy="675.9" r="0.9" fill="#a6c8ec"/>
<circle cx="421.7" cy="679" r="0.9" fill="#a6c8ec"/>
<circle cx="423.1" cy="682.1" r="0.9" fill="#a6c8ec"/>
<circle cx="422.3" cy="683.6" r="0.9" fill="#a6c8ec"/>
<rect x="424.9" y="677.4" width="4.2" height="9.3" fill="#e8f0fa"/>
<line x1="427" y1="674.5" x2="427" y2="680.4" stroke="#666" stroke-width="0.5"/>
<line x1="426" y1="674.5" x2="428" y2="674.5" stroke="#666" stroke-width="0.5"/>
<circle cx="425.8" cy="668.8" r="0.9" fill="#1f4f8f"/>
<circle cx="428.2" cy="674.4" r="0.9" fill="#1f4f8f"/>
<circle cx="426.4" cy="677.4" r="0.9" fill="#1f4f8f"/>
<circle cx="427.8" cy="679" r="0.9" fill="#1f4f8f"/>
<circle cx="427" cy="680.5" r="0.9" fill="#1f4f8f"/>
<rect x="431.4" y="651.2" width="4.2" height="35.5" fill="#c8dcf4"/>
<line x1="433.5" y1="647" x2="433.5" y2="655.5" stroke="#666" stroke-width="0.5"/>
<line x1="432.5" y1="647" x2="434.5" y2="647" stroke="#666" stroke-width="0.5"/>
<circle cx="432.3" cy="642.9" r="0.9" fill="#8cb7e7"/>
<circle cx="434.7" cy="645.1" r="0.9" fill="#8cb7e7"/>
<circle cx="432.9" cy="649.7" r="0.9" fill="#8cb7e7"/>
<circle cx="434.3" cy="652.8" r="0.9" fill="#8cb7e7"/>
<circle cx="433.5" cy="654.3" r="0.9" fill="#8cb7e7"/>
<rect x="436.4" y="663.6" width="4.2" height="23.1" fill="#d6e5f7"/>
<line x1="438.5" y1="659.9" x2="438.5" y2="667.2" stroke="#666" stroke-width="0.5"/>
<line x1="437.5" y1="659.9" x2="439.5" y2="659.9" stroke="#666" stroke-width="0.5"/>
<circle cx="437.3" cy="660.5" r="0.9" fill="#224f8c"/>
<circle cx="439.7" cy="662" r="0.9" fill="#224f8c"/>
<circle cx="437.9" cy="663.6" r="0.9" fill="#224f8c"/>
<circle cx="439.3" cy="665.1" r="0.9" fill="#224f8c"/>
<circle cx="438.5" cy="668.2" r="0.9" fill="#224f8c"/>
<text x="430.6" y="697.1" font-size="8" text-anchor="middle" font-weight="normal" fill="#222" stroke="#222" stroke-width="0.15">P16</text>
<rect x="350.6" y="585.5" width="4.6" height="4.6" fill="#eef4fc"/>
<circle cx="352.9" cy="587.8" r="0.9" fill="#a6c8ec"/>
<g transform="translate(357.9 587.8) rotate(0)"><text x="0" y="2.3" font-size="6.6" fill="#222">Young-SED</text><circle cx="36.5" cy="0.7" r="1.3" fill="none" stroke="#222" stroke-width="0.41"/><path d="M37.4 -0.3L38.7 -1.6M37.6 -1.6H38.7V-0.5" stroke="#222" stroke-width="0.41" fill="none"/></g>
<rect x="404.8" y="585.5" width="4.6" height="4.6" fill="#c8dcf4"/>
<circle cx="407.1" cy="587.8" r="0.9" fill="#8cb7e7"/>
<g transform="translate(412.1 587.8) rotate(0)"><text x="0" y="2.3" font-size="6.6" fill="#222">Old-SED</text><circle cx="28.3" cy="0.7" r="1.3" fill="none" stroke="#222" stroke-width="0.41"/><path d="M29.2 -0.3L30.5 -1.6M29.4 -1.6H30.5V-0.5" stroke="#222" stroke-width="0.41" fill="none"/></g>
<rect x="350.6" y="594" width="4.6" height="4.6" fill="#e8f0fa"/>
<circle cx="352.9" cy="596.3" r="0.9" fill="#1f4f8f"/>
<g transform="translate(357.9 596.3) rotate(0)"><text x="0" y="2.3" font-size="6.6" fill="#222">Young-EXE</text><circle cx="36.1" cy="0.7" r="1.3" fill="none" stroke="#222" stroke-width="0.41"/><path d="M37 -0.3L38.4 -1.6M37.2 -1.6H38.4V-0.5" stroke="#222" stroke-width="0.41" fill="none"/></g>
<rect x="404.8" y="594" width="4.6" height="4.6" fill="#d6e5f7"/>
<circle cx="407.1" cy="596.3" r="0.9" fill="#224f8c"/>
<g transform="translate(412.1 596.3) rotate(0)"><text x="0" y="2.3" font-size="6.6" fill="#222">Old-EXE</text><circle cx="27.9" cy="0.7" r="1.3" fill="none" stroke="#222" stroke-width="0.41"/><path d="M28.8 -0.3L30.2 -1.6M29 -1.6H30.2V-0.5" stroke="#222" stroke-width="0.41" fill="none"/></g>
<path d="M368.2 612.7 V610.2 H379.5 V612.7" fill="none" stroke="#444" stroke-width="0.6"/>
<text x="373.4" y="607.9" font-size="5.6" text-anchor="middle" font-weight="normal" fill="#222" stroke="#222" stroke-width="0.15"><tspan font-style="italic">P</tspan>&lt;0.001</text>
<path d="M395.2 612.7 V610.2 H406.5 V612.7" fill="none" stroke="#444" stroke-width="0.6"/>
<text x="401" y="607.9" font-size="5.6" text-anchor="middle" font-weight="normal" fill="#222" stroke="#222" stroke-width="0.15"><tspan font-style="italic">P</tspan>=0.004</text>
<path d="M421.8 612.7 V610.2 H433.1 V612.7" fill="none" stroke="#444" stroke-width="0.6"/>
<text x="427.5" y="607.9" font-size="5.6" text-anchor="middle" font-weight="normal" fill="#222" stroke="#222" stroke-width="0.15"><tspan font-style="italic">P</tspan>&lt;0.001</text>
<path d="M380.5 627.2 V624.4 H386.2 V627.2" fill="none" stroke="#444" stroke-width="0.6"/>
<text x="383" y="622.1" font-size="5.6" text-anchor="middle" font-weight="normal" fill="#222" stroke="#222" stroke-width="0.15"><tspan font-style="italic">P</tspan>=0.009</text>
<path d="M407.1 627.2 V624.4 H412.8 V627.2" fill="none" stroke="#444" stroke-width="0.6"/>
<text x="410.1" y="622.1" font-size="5.6" text-anchor="middle" font-weight="normal" fill="#222" stroke="#222" stroke-width="0.15"><tspan font-style="italic">P</tspan>=0.016</text>
<path d="M433.7 627.2 V624.4 H439.4 V627.2" fill="none" stroke="#444" stroke-width="0.6"/>
<text x="436.7" y="622.1" font-size="5.6" text-anchor="middle" font-weight="normal" fill="#222" stroke="#222" stroke-width="0.15"><tspan font-style="italic">P</tspan>=0.010</text>
<text transform="translate(351.9 647.5) rotate(-90)" x="0" y="2.6" font-size="7.5" text-anchor="middle" font-weight="normal" fill="#222" stroke="#222" stroke-width="0.15">Protein/ &#945;-tubulin level</text>
<line x1="598.3" y1="609.2" x2="598.3" y2="686.8" stroke="#333" stroke-width="0.8"/>
<line x1="598.3" y1="686.8" x2="676.4" y2="686.8" stroke="#333" stroke-width="0.8"/>
<line x1="596.3" y1="686.8" x2="598.3" y2="686.8" stroke="#333" stroke-width="0.7"/>
<text x="595.5" y="689.4" font-size="7.5" text-anchor="end" font-weight="normal" fill="#222" stroke="#222" stroke-width="0.15">0</text>
<line x1="596.3" y1="655.8" x2="598.3" y2="655.8" stroke="#333" stroke-width="0.7"/>
<text x="595.5" y="658.4" font-size="7.5" text-anchor="end" font-weight="normal" fill="#222" stroke="#222" stroke-width="0.15">1</text>
<line x1="596.3" y1="624.7" x2="598.3" y2="624.7" stroke="#333" stroke-width="0.7"/>
<text x="595.5" y="627.3" font-size="7.5" text-anchor="end" font-weight="normal" fill="#222" stroke="#222" stroke-width="0.15">2</text>
<line x1="610.2" y1="686.8" x2="610.2" y2="688.6" stroke="#333" stroke-width="0.7"/>
<rect x="599.8" y="667.6" width="4.2" height="19.2" fill="#eef4fc"/>
<line x1="601.9" y1="664.1" x2="601.9" y2="671" stroke="#666" stroke-width="0.5"/>
<line x1="600.9" y1="664.1" x2="602.9" y2="664.1" stroke="#666" stroke-width="0.5"/>
<circle cx="600.7" cy="662" r="0.9" fill="#a6c8ec"/>
<circle cx="603.1" cy="665.1" r="0.9" fill="#a6c8ec"/>
<circle cx="601.3" cy="668.2" r="0.9" fill="#a6c8ec"/>
<circle cx="602.7" cy="669.7" r="0.9" fill="#a6c8ec"/>
<circle cx="601.9" cy="671.3" r="0.9" fill="#a6c8ec"/>
<rect x="604.5" y="671.3" width="4.2" height="15.5" fill="#e8f0fa"/>
<line x1="606.6" y1="668" x2="606.6" y2="674.5" stroke="#666" stroke-width="0.5"/>
<line x1="605.6" y1="668" x2="607.6" y2="668" stroke="#666" stroke-width="0.5"/>
<circle cx="605.4" cy="664.5" r="0.9" fill="#1f4f8f"/>
<circle cx="607.8" cy="665.1" r="0.9" fill="#1f4f8f"/>
<circle cx="606" cy="671.3" r="0.9" fill="#1f4f8f"/>
<circle cx="607.4" cy="677.5" r="0.9" fill="#1f4f8f"/>
<circle cx="606.6" cy="683.7" r="0.9" fill="#1f4f8f"/>
<rect x="611" y="655.8" width="4.2" height="31" fill="#c8dcf4"/>
<line x1="613.1" y1="651.7" x2="613.1" y2="659.8" stroke="#666" stroke-width="0.5"/>
<line x1="612.1" y1="651.7" x2="614.1" y2="651.7" stroke="#666" stroke-width="0.5"/>
<circle cx="611.9" cy="651.1" r="0.9" fill="#8cb7e7"/>
<circle cx="614.3" cy="654.2" r="0.9" fill="#8cb7e7"/>
<circle cx="612.5" cy="655.8" r="0.9" fill="#8cb7e7"/>
<circle cx="613.9" cy="658.9" r="0.9" fill="#8cb7e7"/>
<circle cx="613.1" cy="662" r="0.9" fill="#8cb7e7"/>
<rect x="616" y="657.3" width="4.2" height="29.5" fill="#d6e5f7"/>
<line x1="618.1" y1="653.4" x2="618.1" y2="661.3" stroke="#666" stroke-width="0.5"/>
<line x1="617.1" y1="653.4" x2="619.1" y2="653.4" stroke="#666" stroke-width="0.5"/>
<circle cx="616.9" cy="648" r="0.9" fill="#224f8c"/>
<circle cx="619.3" cy="655.8" r="0.9" fill="#224f8c"/>
<circle cx="617.5" cy="657.3" r="0.9" fill="#224f8c"/>
<circle cx="618.9" cy="660.4" r="0.9" fill="#224f8c"/>
<circle cx="618.1" cy="662" r="0.9" fill="#224f8c"/>
<text x="610.2" y="697.2" font-size="8" text-anchor="middle" font-weight="normal" fill="#222" stroke="#222" stroke-width="0.15">P53</text>
<line x1="636.6" y1="686.8" x2="636.6" y2="688.6" stroke="#333" stroke-width="0.7"/>
<rect x="626.2" y="668.2" width="4.2" height="18.6" fill="#eef4fc"/>
<line x1="628.3" y1="664.8" x2="628.3" y2="671.6" stroke="#666" stroke-width="0.5"/>
<line x1="627.3" y1="664.8" x2="629.3" y2="664.8" stroke="#666" stroke-width="0.5"/>
<circle cx="627.1" cy="661.3" r="0.9" fill="#a6c8ec"/>
<circle cx="629.5" cy="665.1" r="0.9" fill="#a6c8ec"/>
<circle cx="627.7" cy="668.2" r="0.9" fill="#a6c8ec"/>
<circle cx="629.1" cy="669.7" r="0.9" fill="#a6c8ec"/>
<circle cx="628.3" cy="671.3" r="0.9" fill="#a6c8ec"/>
<rect x="630.9" y="668.2" width="4.2" height="18.6" fill="#e8f0fa"/>
<line x1="633" y1="664.8" x2="633" y2="671.6" stroke="#666" stroke-width="0.5"/>
<line x1="632" y1="664.8" x2="634" y2="664.8" stroke="#666" stroke-width="0.5"/>
<circle cx="631.8" cy="654.2" r="0.9" fill="#1f4f8f"/>
<circle cx="634.2" cy="665.1" r="0.9" fill="#1f4f8f"/>
<circle cx="632.4" cy="668.2" r="0.9" fill="#1f4f8f"/>
<circle cx="633.8" cy="671.3" r="0.9" fill="#1f4f8f"/>
<circle cx="633" cy="675.9" r="0.9" fill="#1f4f8f"/>
<rect x="637.4" y="652" width="4.2" height="34.8" fill="#c8dcf4"/>
<line x1="639.5" y1="647.8" x2="639.5" y2="656.3" stroke="#666" stroke-width="0.5"/>
<line x1="638.5" y1="647.8" x2="640.5" y2="647.8" stroke="#666" stroke-width="0.5"/>
<circle cx="638.3" cy="634.7" r="0.9" fill="#8cb7e7"/>
<circle cx="640.7" cy="648" r="0.9" fill="#8cb7e7"/>
<circle cx="638.9" cy="652.7" r="0.9" fill="#8cb7e7"/>
<circle cx="640.3" cy="655.8" r="0.9" fill="#8cb7e7"/>
<circle cx="639.5" cy="658.9" r="0.9" fill="#8cb7e7"/>
<rect x="642.4" y="669.7" width="4.2" height="17.1" fill="#d6e5f7"/>
<line x1="644.5" y1="666.4" x2="644.5" y2="673.1" stroke="#666" stroke-width="0.5"/>
<line x1="643.5" y1="666.4" x2="645.5" y2="666.4" stroke="#666" stroke-width="0.5"/>
<circle cx="643.3" cy="663.5" r="0.9" fill="#224f8c"/>
<circle cx="645.7" cy="668.2" r="0.9" fill="#224f8c"/>
<circle cx="643.9" cy="671.3" r="0.9" fill="#224f8c"/>
<circle cx="645.3" cy="672.8" r="0.9" fill="#224f8c"/>
<circle cx="644.5" cy="674.4" r="0.9" fill="#224f8c"/>
<text x="636.6" y="697.2" font-size="8" text-anchor="middle" font-weight="normal" fill="#222" stroke="#222" stroke-width="0.15">P21</text>
<line x1="663.1" y1="686.8" x2="663.1" y2="688.6" stroke="#333" stroke-width="0.7"/>
<rect x="652.7" y="677.5" width="4.2" height="9.3" fill="#eef4fc"/>
<line x1="654.8" y1="674.5" x2="654.8" y2="680.4" stroke="#666" stroke-width="0.5"/>
<line x1="653.8" y1="674.5" x2="655.8" y2="674.5" stroke="#666" stroke-width="0.5"/>
<circle cx="653.6" cy="664.5" r="0.9" fill="#a6c8ec"/>
<circle cx="656" cy="675.9" r="0.9" fill="#a6c8ec"/>
<circle cx="654.2" cy="677.5" r="0.9" fill="#a6c8ec"/>
<circle cx="655.6" cy="680.6" r="0.9" fill="#a6c8ec"/>
<circle cx="654.8" cy="682.1" r="0.9" fill="#a6c8ec"/>
<rect x="657.4" y="680" width="4.2" height="6.8" fill="#e8f0fa"/>
<line x1="659.5" y1="677.1" x2="659.5" y2="682.8" stroke="#666" stroke-width="0.5"/>
<line x1="658.5" y1="677.1" x2="660.5" y2="677.1" stroke="#666" stroke-width="0.5"/>
<circle cx="658.3" cy="674.4" r="0.9" fill="#1f4f8f"/>
<circle cx="660.7" cy="679" r="0.9" fill="#1f4f8f"/>
<circle cx="658.9" cy="680.6" r="0.9" fill="#1f4f8f"/>
<circle cx="660.3" cy="682.1" r="0.9" fill="#1f4f8f"/>
<circle cx="659.5" cy="683.7" r="0.9" fill="#1f4f8f"/>
<rect x="663.9" y="641.8" width="4.2" height="45" fill="#c8dcf4"/>
<line x1="666" y1="637.1" x2="666" y2="646.5" stroke="#666" stroke-width="0.5"/>
<line x1="665" y1="637.1" x2="667" y2="637.1" stroke="#666" stroke-width="0.5"/>
<circle cx="664.8" cy="630.9" r="0.9" fill="#8cb7e7"/>
<circle cx="667.2" cy="632.5" r="0.9" fill="#8cb7e7"/>
<circle cx="665.4" cy="637.1" r="0.9" fill="#8cb7e7"/>
<circle cx="666.8" cy="640.2" r="0.9" fill="#8cb7e7"/>
<circle cx="666" cy="672.8" r="0.9" fill="#8cb7e7"/>
<rect x="668.9" y="665.7" width="4.2" height="21.1" fill="#d6e5f7"/>
<line x1="671" y1="662.2" x2="671" y2="669.2" stroke="#666" stroke-width="0.5"/>
<line x1="670" y1="662.2" x2="672" y2="662.2" stroke="#666" stroke-width="0.5"/>
<circle cx="669.8" cy="643.3" r="0.9" fill="#224f8c"/>
<circle cx="672.2" cy="659.5" r="0.9" fill="#224f8c"/>
<circle cx="670.4" cy="666.6" r="0.9" fill="#224f8c"/>
<circle cx="671.8" cy="669.7" r="0.9" fill="#224f8c"/>
<circle cx="671" cy="677.5" r="0.9" fill="#224f8c"/>
<text x="663.1" y="697.2" font-size="8" text-anchor="middle" font-weight="normal" fill="#222" stroke="#222" stroke-width="0.15">P16</text>
<rect x="584.7" y="586.8" width="4.6" height="4.6" fill="#eef4fc"/>
<circle cx="587" cy="589.1" r="0.9" fill="#a6c8ec"/>
<g transform="translate(592 589.1) rotate(0)"><text x="0" y="2.3" font-size="6.6" fill="#222">Young-SED</text><circle cx="36.5" cy="0.7" r="1.3" fill="none" stroke="#222" stroke-width="0.41"/><path d="M37.4 -0.3L38.7 -1.6M37.6 -1.6H38.7V-0.5" stroke="#222" stroke-width="0.41" fill="none"/></g>
<rect x="634.7" y="586.8" width="4.6" height="4.6" fill="#c8dcf4"/>
<circle cx="637" cy="589.1" r="0.9" fill="#8cb7e7"/>
<g transform="translate(642 589.1) rotate(0)"><text x="0" y="2.3" font-size="6.6" fill="#222">Old-SED</text><circle cx="28.3" cy="0.7" r="1.3" fill="none" stroke="#222" stroke-width="0.41"/><path d="M29.2 -0.3L30.5 -1.6M29.4 -1.6H30.5V-0.5" stroke="#222" stroke-width="0.41" fill="none"/></g>
<rect x="584.7" y="595.9" width="4.6" height="4.6" fill="#e8f0fa"/>
<circle cx="587" cy="598.2" r="0.9" fill="#1f4f8f"/>
<g transform="translate(592 598.2) rotate(0)"><text x="0" y="2.3" font-size="6.6" fill="#222">Young-EXE</text><circle cx="36.1" cy="0.7" r="1.3" fill="none" stroke="#222" stroke-width="0.41"/><path d="M37 -0.3L38.4 -1.6M37.2 -1.6H38.4V-0.5" stroke="#222" stroke-width="0.41" fill="none"/></g>
<rect x="634.7" y="595.9" width="4.6" height="4.6" fill="#d6e5f7"/>
<circle cx="637" cy="598.2" r="0.9" fill="#224f8c"/>
<g transform="translate(642 598.2) rotate(0)"><text x="0" y="2.3" font-size="6.6" fill="#222">Old-EXE</text><circle cx="27.9" cy="0.7" r="1.3" fill="none" stroke="#222" stroke-width="0.41"/><path d="M28.8 -0.3L30.2 -1.6M29 -1.6H30.2V-0.5" stroke="#222" stroke-width="0.41" fill="none"/></g>
<path d="M601 614 V611.3 H612.9 V614" fill="none" stroke="#444" stroke-width="0.6"/>
<text x="607.1" y="609" font-size="5.6" text-anchor="middle" font-weight="normal" fill="#222" stroke="#222" stroke-width="0.15"><tspan font-style="italic">P</tspan>=0.042</text>
<path d="M628.4 614 V611.3 H639.7 V614" fill="none" stroke="#444" stroke-width="0.6"/>
<text x="633.9" y="609" font-size="5.6" text-anchor="middle" font-weight="normal" fill="#222" stroke="#222" stroke-width="0.15"><tspan font-style="italic">P</tspan>=0.002</text>
<path d="M655.3 614 V611.3 H666.4 V614" fill="none" stroke="#444" stroke-width="0.6"/>
<text x="660.4" y="609" font-size="5.6" text-anchor="middle" font-weight="normal" fill="#222" stroke="#222" stroke-width="0.15"><tspan font-style="italic">P</tspan>&lt;0.001</text>
<path d="M640.3 627.2 V624.6 H645.8 V627.2" fill="none" stroke="#444" stroke-width="0.6"/>
<text x="643" y="622.3" font-size="5.6" text-anchor="middle" font-weight="normal" fill="#222" stroke="#222" stroke-width="0.15"><tspan font-style="italic">P</tspan>&lt;0.001</text>
<path d="M666.4 627.2 V624.6 H672.2 V627.2" fill="none" stroke="#444" stroke-width="0.6"/>
<text x="669.1" y="622.3" font-size="5.6" text-anchor="middle" font-weight="normal" fill="#222" stroke="#222" stroke-width="0.15"><tspan font-style="italic">P</tspan>&lt;0.001</text>
<text transform="translate(585.5 647.5) rotate(-90)" x="0" y="2.6" font-size="7.5" text-anchor="middle" font-weight="normal" fill="#222" stroke="#222" stroke-width="0.15">Protein/ &#945;-tubulin level</text>
</svg>
</body></html>
